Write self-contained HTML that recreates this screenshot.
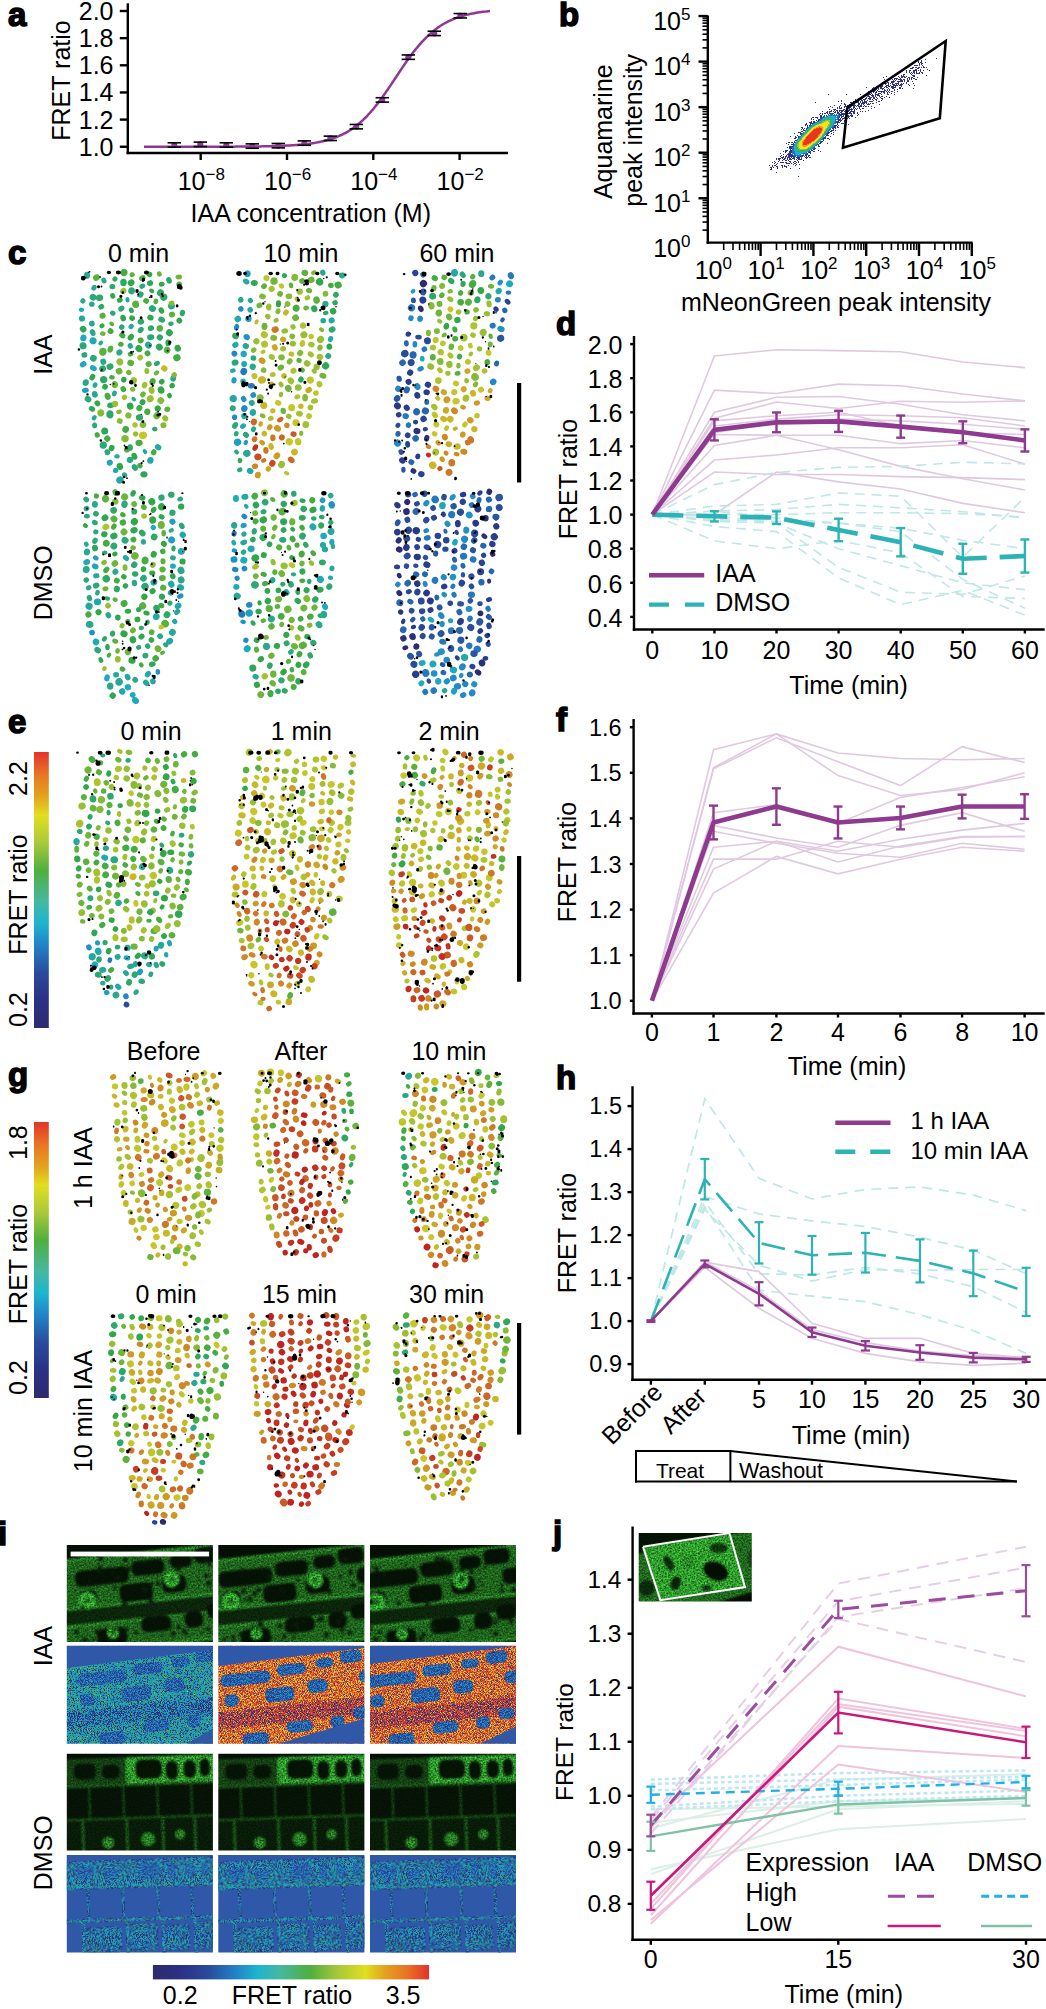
<!DOCTYPE html>
<html><head><meta charset="utf-8"><style>
html,body{margin:0;padding:0;background:#fff;}
svg{display:block;font-family:"Liberation Sans", sans-serif;}
</style></head><body>
<svg width="1046" height="2009" viewBox="0 0 1046 2009">
<defs>
<linearGradient id="cbv" x1="0" y1="1" x2="0" y2="0">
<stop offset="0" stop-color="#2e2a6e"/><stop offset="0.1" stop-color="#2b3184"/><stop offset="0.2" stop-color="#2a4a9c"/>
<stop offset="0.3" stop-color="#2283c6"/><stop offset="0.38" stop-color="#1db5cf"/><stop offset="0.46" stop-color="#45b8a0"/>
<stop offset="0.57" stop-color="#4faf3e"/><stop offset="0.67" stop-color="#a8c83a"/><stop offset="0.77" stop-color="#e0df20"/>
<stop offset="0.84" stop-color="#e3a21f"/><stop offset="0.92" stop-color="#e87424"/><stop offset="1" stop-color="#e2332a"/>
</linearGradient>
<linearGradient id="cbh" x1="0" y1="0" x2="1" y2="0">
<stop offset="0" stop-color="#2e2a6e"/><stop offset="0.1" stop-color="#2b3184"/><stop offset="0.2" stop-color="#2a4a9c"/>
<stop offset="0.3" stop-color="#2283c6"/><stop offset="0.38" stop-color="#1db5cf"/><stop offset="0.46" stop-color="#45b8a0"/>
<stop offset="0.57" stop-color="#4faf3e"/><stop offset="0.67" stop-color="#a8c83a"/><stop offset="0.77" stop-color="#e0df20"/>
<stop offset="0.84" stop-color="#e3a21f"/><stop offset="0.92" stop-color="#e87424"/><stop offset="1" stop-color="#e2332a"/>
</linearGradient>
</defs>
<rect width="1046" height="2009" fill="#fff"/>
<text x="8" y="26" font-size="33" text-anchor="start" font-weight="bold" fill="#000" stroke="#000" stroke-width="1.5">a</text>
<line x1="127.8" y1="3.3" x2="127.8" y2="154.2" stroke="#000" stroke-width="2.4" />
<line x1="126.6" y1="153" x2="508" y2="153" stroke="#000" stroke-width="2.4" />
<line x1="119.8" y1="146.75" x2="127.8" y2="146.75" stroke="#000" stroke-width="2.4" />
<text x="113.5" y="155.75" font-size="25" text-anchor="end" font-weight="normal" fill="#000" >1.0</text>
<line x1="119.8" y1="119.6" x2="127.8" y2="119.6" stroke="#000" stroke-width="2.4" />
<text x="113.5" y="128.6" font-size="25" text-anchor="end" font-weight="normal" fill="#000" >1.2</text>
<line x1="119.8" y1="92.45" x2="127.8" y2="92.45" stroke="#000" stroke-width="2.4" />
<text x="113.5" y="101.45" font-size="25" text-anchor="end" font-weight="normal" fill="#000" >1.4</text>
<line x1="119.8" y1="65.3" x2="127.8" y2="65.3" stroke="#000" stroke-width="2.4" />
<text x="113.5" y="74.3" font-size="25" text-anchor="end" font-weight="normal" fill="#000" >1.6</text>
<line x1="119.8" y1="38.15" x2="127.8" y2="38.15" stroke="#000" stroke-width="2.4" />
<text x="113.5" y="47.15" font-size="25" text-anchor="end" font-weight="normal" fill="#000" >1.8</text>
<line x1="119.8" y1="11" x2="127.8" y2="11" stroke="#000" stroke-width="2.4" />
<text x="113.5" y="20" font-size="25" text-anchor="end" font-weight="normal" fill="#000" >2.0</text>
<line x1="200.7" y1="153" x2="200.7" y2="160" stroke="#000" stroke-width="2.4" />
<text x="177.7" y="190" font-size="25" text-anchor="start">10<tspan font-size="17" dy="-10">−8</tspan></text>
<line x1="287" y1="153" x2="287" y2="160" stroke="#000" stroke-width="2.4" />
<text x="264" y="190" font-size="25" text-anchor="start">10<tspan font-size="17" dy="-10">−6</tspan></text>
<line x1="373.3" y1="153" x2="373.3" y2="160" stroke="#000" stroke-width="2.4" />
<text x="350.3" y="190" font-size="25" text-anchor="start">10<tspan font-size="17" dy="-10">−4</tspan></text>
<line x1="459.6" y1="153" x2="459.6" y2="160" stroke="#000" stroke-width="2.4" />
<text x="436.6" y="190" font-size="25" text-anchor="start">10<tspan font-size="17" dy="-10">−2</tspan></text>
<text x="310.8" y="222" font-size="25" text-anchor="middle" font-weight="normal" fill="#000" >IAA concentration (M)</text>
<text x="69.8" y="80.5" font-size="25" text-anchor="middle" font-weight="normal" fill="#000" transform="rotate(-90 69.8 80.5)" >FRET ratio</text>
<polyline points="144,146.75 145.74,146.75 147.48,146.75 149.22,146.75 150.95,146.75 152.69,146.75 154.43,146.75 156.17,146.75 157.91,146.75 159.65,146.75 161.39,146.75 163.13,146.74 164.86,146.74 166.6,146.74 168.34,146.74 170.08,146.74 171.82,146.74 173.56,146.74 175.3,146.74 177.04,146.74 178.77,146.74 180.51,146.74 182.25,146.74 183.99,146.74 185.73,146.74 187.47,146.73 189.21,146.73 190.94,146.73 192.68,146.73 194.42,146.73 196.16,146.73 197.9,146.73 199.64,146.72 201.38,146.72 203.12,146.72 204.85,146.72 206.59,146.71 208.33,146.71 210.07,146.71 211.81,146.71 213.55,146.7 215.29,146.7 217.03,146.69 218.76,146.69 220.5,146.69 222.24,146.68 223.98,146.67 225.72,146.67 227.46,146.66 229.2,146.66 230.93,146.65 232.67,146.64 234.41,146.63 236.15,146.62 237.89,146.61 239.63,146.6 241.37,146.59 243.11,146.58 244.84,146.56 246.58,146.55 248.32,146.53 250.06,146.51 251.8,146.5 253.54,146.47 255.28,146.45 257.02,146.43 258.75,146.4 260.49,146.38 262.23,146.35 263.97,146.32 265.71,146.28 267.45,146.25 269.19,146.21 270.92,146.16 272.66,146.12 274.4,146.07 276.14,146.01 277.88,145.95 279.62,145.89 281.36,145.83 283.1,145.75 284.83,145.67 286.57,145.59 288.31,145.5 290.05,145.4 291.79,145.3 293.53,145.18 295.27,145.06 297.01,144.93 298.74,144.79 300.48,144.63 302.22,144.47 303.96,144.29 305.7,144.1 307.44,143.9 309.18,143.67 310.91,143.44 312.65,143.18 314.39,142.91 316.13,142.61 317.87,142.3 319.61,141.96 321.35,141.59 323.09,141.2 324.82,140.78 326.56,140.33 328.3,139.85 330.04,139.33 331.78,138.78 333.52,138.19 335.26,137.56 336.99,136.88 338.73,136.16 340.47,135.39 342.21,134.58 343.95,133.7 345.69,132.78 347.43,131.79 349.17,130.75 350.9,129.64 352.64,128.47 354.38,127.23 356.12,125.92 357.86,124.53 359.6,123.08 361.34,121.55 363.08,119.95 364.81,118.26 366.55,116.51 368.29,114.67 370.03,112.76 371.77,110.77 373.51,108.72 375.25,106.58 376.98,104.39 378.72,102.12 380.46,99.79 382.2,97.41 383.94,94.98 385.68,92.49 387.42,89.97 389.16,87.41 390.89,84.83 392.63,82.23 394.37,79.61 396.11,76.99 397.85,74.37 399.59,71.76 401.33,69.17 403.07,66.6 404.8,64.07 406.54,61.57 408.28,59.12 410.02,56.71 411.76,54.37 413.5,52.08 415.24,49.85 416.97,47.7 418.71,45.61 420.45,43.6 422.19,41.66 423.93,39.8 425.67,38.02 427.41,36.31 429.15,34.68 430.88,33.12 432.62,31.64 434.36,30.23 436.1,28.89 437.84,27.63 439.58,26.43 441.32,25.3 443.06,24.23 444.79,23.23 446.53,22.28 448.27,21.39 450.01,20.55 451.75,19.77 453.49,19.03 455.23,18.34 456.96,17.69 458.7,17.09 460.44,16.52 462.18,15.99 463.92,15.5 465.66,15.04 467.4,14.61 469.14,14.2 470.87,13.83 472.61,13.48 474.35,13.16 476.09,12.85 477.83,12.57 479.57,12.31 481.31,12.07 483.05,11.84 484.78,11.63 486.52,11.44 488.26,11.25 490,11.08" fill="none" stroke="#8e3896" stroke-width="2.5" />
<circle cx="174.3" cy="144.99" r="3" fill="#8e3896"/>
<line x1="167.6" y1="142.79" x2="181" y2="142.79" stroke="#000" stroke-width="1.6" />
<line x1="167.6" y1="147.19" x2="181" y2="147.19" stroke="#000" stroke-width="1.6" />
<circle cx="200.3" cy="144.31" r="3" fill="#8e3896"/>
<line x1="193.6" y1="142.11" x2="207" y2="142.11" stroke="#000" stroke-width="1.6" />
<line x1="193.6" y1="146.51" x2="207" y2="146.51" stroke="#000" stroke-width="1.6" />
<circle cx="226.3" cy="144.99" r="3" fill="#8e3896"/>
<line x1="219.6" y1="142.79" x2="233" y2="142.79" stroke="#000" stroke-width="1.6" />
<line x1="219.6" y1="147.19" x2="233" y2="147.19" stroke="#000" stroke-width="1.6" />
<circle cx="252.3" cy="146.07" r="3" fill="#8e3896"/>
<line x1="245.6" y1="143.87" x2="259" y2="143.87" stroke="#000" stroke-width="1.6" />
<line x1="245.6" y1="148.27" x2="259" y2="148.27" stroke="#000" stroke-width="1.6" />
<circle cx="278.3" cy="145.66" r="3" fill="#8e3896"/>
<line x1="271.6" y1="143.46" x2="285" y2="143.46" stroke="#000" stroke-width="1.6" />
<line x1="271.6" y1="147.86" x2="285" y2="147.86" stroke="#000" stroke-width="1.6" />
<circle cx="304.3" cy="143.08" r="3" fill="#8e3896"/>
<line x1="297.6" y1="140.88" x2="311" y2="140.88" stroke="#000" stroke-width="1.6" />
<line x1="297.6" y1="145.28" x2="311" y2="145.28" stroke="#000" stroke-width="1.6" />
<circle cx="330.3" cy="138.33" r="3" fill="#8e3896"/>
<line x1="323.6" y1="136.13" x2="337" y2="136.13" stroke="#000" stroke-width="1.6" />
<line x1="323.6" y1="140.53" x2="337" y2="140.53" stroke="#000" stroke-width="1.6" />
<circle cx="356.3" cy="126.66" r="3" fill="#8e3896"/>
<line x1="349.6" y1="124.46" x2="363" y2="124.46" stroke="#000" stroke-width="1.6" />
<line x1="349.6" y1="128.86" x2="363" y2="128.86" stroke="#000" stroke-width="1.6" />
<circle cx="382.3" cy="99.92" r="3" fill="#8e3896"/>
<line x1="375.6" y1="97.72" x2="389" y2="97.72" stroke="#000" stroke-width="1.6" />
<line x1="375.6" y1="102.12" x2="389" y2="102.12" stroke="#000" stroke-width="1.6" />
<circle cx="408.3" cy="57.16" r="3" fill="#8e3896"/>
<line x1="401.6" y1="54.96" x2="415" y2="54.96" stroke="#000" stroke-width="1.6" />
<line x1="401.6" y1="59.36" x2="415" y2="59.36" stroke="#000" stroke-width="1.6" />
<circle cx="434.3" cy="33.4" r="3" fill="#8e3896"/>
<line x1="427.6" y1="31.2" x2="441" y2="31.2" stroke="#000" stroke-width="1.6" />
<line x1="427.6" y1="35.6" x2="441" y2="35.6" stroke="#000" stroke-width="1.6" />
<circle cx="460.3" cy="15.75" r="3" fill="#8e3896"/>
<line x1="453.6" y1="13.55" x2="467" y2="13.55" stroke="#000" stroke-width="1.6" />
<line x1="453.6" y1="17.95" x2="467" y2="17.95" stroke="#000" stroke-width="1.6" />
<text x="559" y="25.7" font-size="33" text-anchor="start" font-weight="bold" fill="#000" stroke="#000" stroke-width="1.5">b</text>
<line x1="707.8" y1="15.5" x2="707.8" y2="243.8" stroke="#000" stroke-width="2.4" />
<line x1="706.6" y1="242.6" x2="972.5" y2="242.6" stroke="#000" stroke-width="2.4" />
<text x="690.5" y="257.3" font-size="25" text-anchor="end">10<tspan font-size="17" dy="-10">0</tspan></text>
<line x1="702.5" y1="230.09" x2="707.8" y2="230.09" stroke="#000" stroke-width="1.6" />
<line x1="702.5" y1="222.07" x2="707.8" y2="222.07" stroke="#000" stroke-width="1.6" />
<line x1="702.5" y1="216.38" x2="707.8" y2="216.38" stroke="#000" stroke-width="1.6" />
<line x1="702.5" y1="211.96" x2="707.8" y2="211.96" stroke="#000" stroke-width="1.6" />
<line x1="702.5" y1="208.36" x2="707.8" y2="208.36" stroke="#000" stroke-width="1.6" />
<line x1="702.5" y1="205.31" x2="707.8" y2="205.31" stroke="#000" stroke-width="1.6" />
<line x1="702.5" y1="202.66" x2="707.8" y2="202.66" stroke="#000" stroke-width="1.6" />
<line x1="702.5" y1="200.33" x2="707.8" y2="200.33" stroke="#000" stroke-width="1.6" />
<line x1="698.5" y1="198.25" x2="707.8" y2="198.25" stroke="#000" stroke-width="2.4" />
<text x="690.5" y="211.75" font-size="25" text-anchor="end">10<tspan font-size="17" dy="-10">1</tspan></text>
<line x1="702.5" y1="184.54" x2="707.8" y2="184.54" stroke="#000" stroke-width="1.6" />
<line x1="702.5" y1="176.52" x2="707.8" y2="176.52" stroke="#000" stroke-width="1.6" />
<line x1="702.5" y1="170.83" x2="707.8" y2="170.83" stroke="#000" stroke-width="1.6" />
<line x1="702.5" y1="166.41" x2="707.8" y2="166.41" stroke="#000" stroke-width="1.6" />
<line x1="702.5" y1="162.81" x2="707.8" y2="162.81" stroke="#000" stroke-width="1.6" />
<line x1="702.5" y1="159.76" x2="707.8" y2="159.76" stroke="#000" stroke-width="1.6" />
<line x1="702.5" y1="157.11" x2="707.8" y2="157.11" stroke="#000" stroke-width="1.6" />
<line x1="702.5" y1="154.78" x2="707.8" y2="154.78" stroke="#000" stroke-width="1.6" />
<line x1="698.5" y1="152.7" x2="707.8" y2="152.7" stroke="#000" stroke-width="2.4" />
<text x="690.5" y="166.2" font-size="25" text-anchor="end">10<tspan font-size="17" dy="-10">2</tspan></text>
<line x1="702.5" y1="138.99" x2="707.8" y2="138.99" stroke="#000" stroke-width="1.6" />
<line x1="702.5" y1="130.97" x2="707.8" y2="130.97" stroke="#000" stroke-width="1.6" />
<line x1="702.5" y1="125.28" x2="707.8" y2="125.28" stroke="#000" stroke-width="1.6" />
<line x1="702.5" y1="120.86" x2="707.8" y2="120.86" stroke="#000" stroke-width="1.6" />
<line x1="702.5" y1="117.26" x2="707.8" y2="117.26" stroke="#000" stroke-width="1.6" />
<line x1="702.5" y1="114.21" x2="707.8" y2="114.21" stroke="#000" stroke-width="1.6" />
<line x1="702.5" y1="111.56" x2="707.8" y2="111.56" stroke="#000" stroke-width="1.6" />
<line x1="702.5" y1="109.23" x2="707.8" y2="109.23" stroke="#000" stroke-width="1.6" />
<line x1="698.5" y1="107.15" x2="707.8" y2="107.15" stroke="#000" stroke-width="2.4" />
<text x="690.5" y="120.65" font-size="25" text-anchor="end">10<tspan font-size="17" dy="-10">3</tspan></text>
<line x1="702.5" y1="93.44" x2="707.8" y2="93.44" stroke="#000" stroke-width="1.6" />
<line x1="702.5" y1="85.42" x2="707.8" y2="85.42" stroke="#000" stroke-width="1.6" />
<line x1="702.5" y1="79.73" x2="707.8" y2="79.73" stroke="#000" stroke-width="1.6" />
<line x1="702.5" y1="75.31" x2="707.8" y2="75.31" stroke="#000" stroke-width="1.6" />
<line x1="702.5" y1="71.71" x2="707.8" y2="71.71" stroke="#000" stroke-width="1.6" />
<line x1="702.5" y1="68.66" x2="707.8" y2="68.66" stroke="#000" stroke-width="1.6" />
<line x1="702.5" y1="66.01" x2="707.8" y2="66.01" stroke="#000" stroke-width="1.6" />
<line x1="702.5" y1="63.68" x2="707.8" y2="63.68" stroke="#000" stroke-width="1.6" />
<line x1="698.5" y1="61.6" x2="707.8" y2="61.6" stroke="#000" stroke-width="2.4" />
<text x="690.5" y="75.1" font-size="25" text-anchor="end">10<tspan font-size="17" dy="-10">4</tspan></text>
<line x1="702.5" y1="47.89" x2="707.8" y2="47.89" stroke="#000" stroke-width="1.6" />
<line x1="702.5" y1="39.87" x2="707.8" y2="39.87" stroke="#000" stroke-width="1.6" />
<line x1="702.5" y1="34.18" x2="707.8" y2="34.18" stroke="#000" stroke-width="1.6" />
<line x1="702.5" y1="29.76" x2="707.8" y2="29.76" stroke="#000" stroke-width="1.6" />
<line x1="702.5" y1="26.16" x2="707.8" y2="26.16" stroke="#000" stroke-width="1.6" />
<line x1="702.5" y1="23.11" x2="707.8" y2="23.11" stroke="#000" stroke-width="1.6" />
<line x1="702.5" y1="20.46" x2="707.8" y2="20.46" stroke="#000" stroke-width="1.6" />
<line x1="702.5" y1="18.13" x2="707.8" y2="18.13" stroke="#000" stroke-width="1.6" />
<line x1="698.5" y1="16.05" x2="707.8" y2="16.05" stroke="#000" stroke-width="2.4" />
<text x="690.5" y="29.55" font-size="25" text-anchor="end">10<tspan font-size="17" dy="-10">5</tspan></text>
<text x="713.3" y="279" font-size="25" text-anchor="middle">10<tspan font-size="17" dy="-10">0</tspan></text>
<line x1="723.69" y1="242.6" x2="723.69" y2="250" stroke="#000" stroke-width="1.6" />
<line x1="732.99" y1="242.6" x2="732.99" y2="250" stroke="#000" stroke-width="1.6" />
<line x1="739.59" y1="242.6" x2="739.59" y2="250" stroke="#000" stroke-width="1.6" />
<line x1="744.71" y1="242.6" x2="744.71" y2="250" stroke="#000" stroke-width="1.6" />
<line x1="748.89" y1="242.6" x2="748.89" y2="250" stroke="#000" stroke-width="1.6" />
<line x1="752.42" y1="242.6" x2="752.42" y2="250" stroke="#000" stroke-width="1.6" />
<line x1="755.48" y1="242.6" x2="755.48" y2="250" stroke="#000" stroke-width="1.6" />
<line x1="758.18" y1="242.6" x2="758.18" y2="250" stroke="#000" stroke-width="1.6" />
<line x1="760.6" y1="242.6" x2="760.6" y2="256" stroke="#000" stroke-width="2.4" />
<text x="766.1" y="279" font-size="25" text-anchor="middle">10<tspan font-size="17" dy="-10">1</tspan></text>
<line x1="776.49" y1="242.6" x2="776.49" y2="250" stroke="#000" stroke-width="1.6" />
<line x1="785.79" y1="242.6" x2="785.79" y2="250" stroke="#000" stroke-width="1.6" />
<line x1="792.39" y1="242.6" x2="792.39" y2="250" stroke="#000" stroke-width="1.6" />
<line x1="797.51" y1="242.6" x2="797.51" y2="250" stroke="#000" stroke-width="1.6" />
<line x1="801.69" y1="242.6" x2="801.69" y2="250" stroke="#000" stroke-width="1.6" />
<line x1="805.22" y1="242.6" x2="805.22" y2="250" stroke="#000" stroke-width="1.6" />
<line x1="808.28" y1="242.6" x2="808.28" y2="250" stroke="#000" stroke-width="1.6" />
<line x1="810.98" y1="242.6" x2="810.98" y2="250" stroke="#000" stroke-width="1.6" />
<line x1="813.4" y1="242.6" x2="813.4" y2="256" stroke="#000" stroke-width="2.4" />
<text x="818.9" y="279" font-size="25" text-anchor="middle">10<tspan font-size="17" dy="-10">2</tspan></text>
<line x1="829.29" y1="242.6" x2="829.29" y2="250" stroke="#000" stroke-width="1.6" />
<line x1="838.59" y1="242.6" x2="838.59" y2="250" stroke="#000" stroke-width="1.6" />
<line x1="845.19" y1="242.6" x2="845.19" y2="250" stroke="#000" stroke-width="1.6" />
<line x1="850.31" y1="242.6" x2="850.31" y2="250" stroke="#000" stroke-width="1.6" />
<line x1="854.49" y1="242.6" x2="854.49" y2="250" stroke="#000" stroke-width="1.6" />
<line x1="858.02" y1="242.6" x2="858.02" y2="250" stroke="#000" stroke-width="1.6" />
<line x1="861.08" y1="242.6" x2="861.08" y2="250" stroke="#000" stroke-width="1.6" />
<line x1="863.78" y1="242.6" x2="863.78" y2="250" stroke="#000" stroke-width="1.6" />
<line x1="866.2" y1="242.6" x2="866.2" y2="256" stroke="#000" stroke-width="2.4" />
<text x="871.7" y="279" font-size="25" text-anchor="middle">10<tspan font-size="17" dy="-10">3</tspan></text>
<line x1="882.09" y1="242.6" x2="882.09" y2="250" stroke="#000" stroke-width="1.6" />
<line x1="891.39" y1="242.6" x2="891.39" y2="250" stroke="#000" stroke-width="1.6" />
<line x1="897.99" y1="242.6" x2="897.99" y2="250" stroke="#000" stroke-width="1.6" />
<line x1="903.11" y1="242.6" x2="903.11" y2="250" stroke="#000" stroke-width="1.6" />
<line x1="907.29" y1="242.6" x2="907.29" y2="250" stroke="#000" stroke-width="1.6" />
<line x1="910.82" y1="242.6" x2="910.82" y2="250" stroke="#000" stroke-width="1.6" />
<line x1="913.88" y1="242.6" x2="913.88" y2="250" stroke="#000" stroke-width="1.6" />
<line x1="916.58" y1="242.6" x2="916.58" y2="250" stroke="#000" stroke-width="1.6" />
<line x1="919" y1="242.6" x2="919" y2="256" stroke="#000" stroke-width="2.4" />
<text x="924.5" y="279" font-size="25" text-anchor="middle">10<tspan font-size="17" dy="-10">4</tspan></text>
<line x1="934.89" y1="242.6" x2="934.89" y2="250" stroke="#000" stroke-width="1.6" />
<line x1="944.19" y1="242.6" x2="944.19" y2="250" stroke="#000" stroke-width="1.6" />
<line x1="950.79" y1="242.6" x2="950.79" y2="250" stroke="#000" stroke-width="1.6" />
<line x1="955.91" y1="242.6" x2="955.91" y2="250" stroke="#000" stroke-width="1.6" />
<line x1="960.09" y1="242.6" x2="960.09" y2="250" stroke="#000" stroke-width="1.6" />
<line x1="963.62" y1="242.6" x2="963.62" y2="250" stroke="#000" stroke-width="1.6" />
<line x1="966.68" y1="242.6" x2="966.68" y2="250" stroke="#000" stroke-width="1.6" />
<line x1="969.38" y1="242.6" x2="969.38" y2="250" stroke="#000" stroke-width="1.6" />
<line x1="971.8" y1="242.6" x2="971.8" y2="256" stroke="#000" stroke-width="2.4" />
<text x="977.3" y="279" font-size="25" text-anchor="middle">10<tspan font-size="17" dy="-10">5</tspan></text>
<text x="836" y="310.7" font-size="25" text-anchor="middle" font-weight="normal" fill="#000" >mNeonGreen peak intensity</text>
<text x="612" y="131.7" font-size="25" text-anchor="middle" font-weight="normal" fill="#000" transform="rotate(-90 612 131.7)" >Aquamarine</text>
<text x="642.2" y="130.3" font-size="25" text-anchor="middle" font-weight="normal" fill="#000" transform="rotate(-90 642.2 130.3)" >peak intensity</text>
<path fill="#2e3192" d="M936 58h1v1h-1zM925 59h1v1h-1zM921 60h1v1h-1zM918 61h1v1h-1zM921 61h1v1h-1zM918 62h1v1h-1zM920 62h2v1h-2zM925 62h1v1h-1zM919 63h1v1h-1zM921 63h2v1h-2zM919 64h1v1h-1zM921 64h1v1h-1zM910 65h1v1h-1zM914 65h4v1h-4zM919 65h1v1h-1zM922 65h1v1h-1zM923 66h1v1h-1zM906 67h1v1h-1zM912 67h2v1h-2zM915 67h2v1h-2zM918 67h2v1h-2zM921 67h1v1h-1zM923 67h2v1h-2zM926 67h1v1h-1zM904 68h1v1h-1zM910 68h3v1h-3zM917 68h2v1h-2zM915 69h2v1h-2zM920 69h1v1h-1zM927 69h1v1h-1zM906 70h1v1h-1zM909 70h2v1h-2zM913 70h4v1h-4zM918 70h1v1h-1zM920 70h1v1h-1zM923 70h1v1h-1zM929 70h1v1h-1zM901 71h1v1h-1zM906 71h1v1h-1zM909 71h1v1h-1zM913 71h2v1h-2zM916 71h1v1h-1zM920 71h1v1h-1zM906 72h1v1h-1zM909 72h1v1h-1zM911 72h1v1h-1zM913 72h2v1h-2zM916 72h1v1h-1zM919 72h1v1h-1zM921 72h2v1h-2zM910 73h1v1h-1zM912 73h1v1h-1zM914 73h1v1h-1zM916 73h4v1h-4zM922 73h1v1h-1zM903 74h2v1h-2zM911 74h1v1h-1zM893 75h1v1h-1zM901 75h1v1h-1zM903 75h1v1h-1zM912 75h3v1h-3zM926 75h1v1h-1zM886 76h1v1h-1zM898 76h1v1h-1zM901 76h4v1h-4zM906 76h1v1h-1zM913 76h2v1h-2zM883 77h1v1h-1zM899 77h1v1h-1zM901 77h2v1h-2zM904 77h2v1h-2zM908 77h2v1h-2zM911 77h2v1h-2zM917 77h1v1h-1zM894 78h4v1h-4zM900 78h1v1h-1zM907 78h1v1h-1zM909 78h1v1h-1zM911 78h1v1h-1zM913 78h2v1h-2zM884 79h1v1h-1zM892 79h1v1h-1zM894 79h1v1h-1zM896 79h1v1h-1zM898 79h4v1h-4zM903 79h2v1h-2zM907 79h1v1h-1zM909 79h1v1h-1zM911 79h1v1h-1zM915 79h2v1h-2zM886 80h1v1h-1zM888 80h1v1h-1zM893 80h1v1h-1zM895 80h1v1h-1zM900 80h3v1h-3zM904 80h1v1h-1zM907 80h2v1h-2zM884 81h1v1h-1zM891 81h4v1h-4zM897 81h6v1h-6zM904 81h1v1h-1zM907 81h2v1h-2zM912 81h1v1h-1zM882 82h1v1h-1zM887 82h2v1h-2zM891 82h3v1h-3zM898 82h1v1h-1zM906 82h1v1h-1zM881 83h1v1h-1zM883 83h4v1h-4zM888 83h1v1h-1zM890 83h1v1h-1zM892 83h1v1h-1zM895 83h4v1h-4zM901 83h1v1h-1zM903 83h1v1h-1zM906 83h1v1h-1zM913 83h1v1h-1zM885 84h1v1h-1zM888 84h1v1h-1zM892 84h3v1h-3zM896 84h1v1h-1zM898 84h1v1h-1zM900 84h3v1h-3zM908 84h1v1h-1zM882 85h1v1h-1zM886 85h3v1h-3zM890 85h1v1h-1zM893 85h5v1h-5zM899 85h3v1h-3zM909 85h1v1h-1zM914 85h1v1h-1zM880 86h3v1h-3zM885 86h2v1h-2zM888 86h2v1h-2zM891 86h3v1h-3zM895 86h1v1h-1zM901 86h1v1h-1zM866 87h1v1h-1zM873 87h1v1h-1zM876 87h1v1h-1zM880 87h2v1h-2zM884 87h1v1h-1zM886 87h2v1h-2zM891 87h5v1h-5zM899 87h2v1h-2zM872 88h1v1h-1zM878 88h1v1h-1zM880 88h4v1h-4zM888 88h1v1h-1zM892 88h2v1h-2zM899 88h2v1h-2zM902 88h1v1h-1zM913 88h1v1h-1zM875 89h2v1h-2zM878 89h1v1h-1zM882 89h1v1h-1zM884 89h1v1h-1zM887 89h1v1h-1zM889 89h1v1h-1zM894 89h1v1h-1zM897 89h1v1h-1zM874 90h2v1h-2zM877 90h1v1h-1zM884 90h2v1h-2zM887 90h1v1h-1zM889 90h1v1h-1zM894 90h1v1h-1zM868 91h1v1h-1zM873 91h2v1h-2zM876 91h1v1h-1zM878 91h7v1h-7zM886 91h1v1h-1zM888 91h1v1h-1zM891 91h2v1h-2zM897 91h1v1h-1zM868 92h3v1h-3zM873 92h1v1h-1zM875 92h2v1h-2zM881 92h1v1h-1zM883 92h2v1h-2zM887 92h1v1h-1zM889 92h1v1h-1zM894 92h1v1h-1zM867 93h2v1h-2zM871 93h1v1h-1zM875 93h1v1h-1zM878 93h3v1h-3zM884 93h1v1h-1zM887 93h1v1h-1zM891 93h1v1h-1zM828 94h1v1h-1zM846 94h1v1h-1zM860 94h1v1h-1zM868 94h3v1h-3zM872 94h1v1h-1zM875 94h4v1h-4zM881 94h1v1h-1zM887 94h2v1h-2zM894 94h1v1h-1zM866 95h3v1h-3zM871 95h3v1h-3zM875 95h1v1h-1zM877 95h3v1h-3zM863 96h1v1h-1zM867 96h3v1h-3zM872 96h2v1h-2zM875 96h1v1h-1zM879 96h1v1h-1zM881 96h2v1h-2zM886 96h1v1h-1zM861 97h3v1h-3zM866 97h1v1h-1zM869 97h3v1h-3zM873 97h2v1h-2zM876 97h1v1h-1zM880 97h1v1h-1zM884 97h1v1h-1zM889 97h1v1h-1zM858 98h1v1h-1zM860 98h3v1h-3zM865 98h2v1h-2zM868 98h3v1h-3zM873 98h2v1h-2zM877 98h1v1h-1zM881 98h2v1h-2zM855 99h1v1h-1zM858 99h1v1h-1zM860 99h2v1h-2zM863 99h3v1h-3zM869 99h2v1h-2zM872 99h1v1h-1zM875 99h2v1h-2zM882 99h1v1h-1zM841 100h1v1h-1zM855 100h1v1h-1zM858 100h1v1h-1zM861 100h2v1h-2zM864 100h1v1h-1zM867 100h1v1h-1zM873 100h1v1h-1zM876 100h1v1h-1zM881 100h1v1h-1zM838 101h1v1h-1zM841 101h1v1h-1zM853 101h1v1h-1zM858 101h1v1h-1zM860 101h1v1h-1zM862 101h1v1h-1zM864 101h3v1h-3zM869 101h4v1h-4zM878 101h2v1h-2zM815 102h1v1h-1zM850 102h2v1h-2zM854 102h1v1h-1zM856 102h3v1h-3zM860 102h1v1h-1zM862 102h5v1h-5zM876 102h1v1h-1zM841 103h1v1h-1zM844 103h1v1h-1zM851 103h1v1h-1zM854 103h1v1h-1zM858 103h2v1h-2zM861 103h4v1h-4zM866 103h1v1h-1zM868 103h1v1h-1zM870 103h1v1h-1zM872 103h2v1h-2zM844 104h2v1h-2zM849 104h1v1h-1zM851 104h1v1h-1zM854 104h1v1h-1zM858 104h2v1h-2zM861 104h1v1h-1zM863 104h1v1h-1zM867 104h3v1h-3zM879 104h1v1h-1zM834 105h1v1h-1zM840 105h1v1h-1zM845 105h1v1h-1zM847 105h1v1h-1zM850 105h6v1h-6zM857 105h2v1h-2zM860 105h2v1h-2zM864 105h1v1h-1zM830 106h1v1h-1zM839 106h1v1h-1zM844 106h5v1h-5zM851 106h1v1h-1zM853 106h2v1h-2zM856 106h1v1h-1zM858 106h4v1h-4zM863 106h1v1h-1zM865 106h2v1h-2zM868 106h1v1h-1zM871 106h1v1h-1zM828 107h1v1h-1zM832 107h1v1h-1zM837 107h1v1h-1zM839 107h1v1h-1zM841 107h1v1h-1zM844 107h1v1h-1zM848 107h3v1h-3zM853 107h2v1h-2zM859 107h1v1h-1zM874 107h1v1h-1zM837 108h1v1h-1zM839 108h3v1h-3zM846 108h4v1h-4zM851 108h1v1h-1zM853 108h1v1h-1zM855 108h1v1h-1zM857 108h1v1h-1zM859 108h1v1h-1zM862 108h2v1h-2zM871 108h1v1h-1zM829 109h1v1h-1zM833 109h3v1h-3zM843 109h2v1h-2zM847 109h1v1h-1zM849 109h4v1h-4zM854 109h1v1h-1zM856 109h1v1h-1zM860 109h1v1h-1zM831 110h1v1h-1zM834 110h1v1h-1zM836 110h2v1h-2zM839 110h5v1h-5zM845 110h2v1h-2zM848 110h2v1h-2zM851 110h1v1h-1zM854 110h1v1h-1zM868 110h1v1h-1zM822 111h1v1h-1zM827 111h1v1h-1zM829 111h3v1h-3zM833 111h1v1h-1zM835 111h1v1h-1zM837 111h1v1h-1zM839 111h1v1h-1zM841 111h2v1h-2zM844 111h5v1h-5zM850 111h5v1h-5zM860 111h1v1h-1zM862 111h1v1h-1zM865 111h1v1h-1zM826 112h2v1h-2zM829 112h1v1h-1zM834 112h2v1h-2zM837 112h2v1h-2zM840 112h2v1h-2zM845 112h2v1h-2zM849 112h2v1h-2zM853 112h2v1h-2zM857 112h1v1h-1zM820 113h1v1h-1zM822 113h1v1h-1zM824 113h2v1h-2zM827 113h1v1h-1zM829 113h5v1h-5zM837 113h3v1h-3zM841 113h11v1h-11zM853 113h2v1h-2zM857 113h1v1h-1zM819 114h1v1h-1zM822 114h1v1h-1zM828 114h1v1h-1zM839 114h7v1h-7zM851 114h1v1h-1zM858 114h1v1h-1zM820 115h2v1h-2zM824 115h1v1h-1zM826 115h1v1h-1zM840 115h2v1h-2zM843 115h1v1h-1zM845 115h4v1h-4zM850 115h3v1h-3zM857 115h1v1h-1zM820 116h2v1h-2zM823 116h1v1h-1zM839 116h1v1h-1zM841 116h3v1h-3zM845 116h5v1h-5zM851 116h2v1h-2zM812 117h2v1h-2zM815 117h3v1h-3zM820 117h2v1h-2zM839 117h1v1h-1zM841 117h1v1h-1zM844 117h3v1h-3zM848 117h1v1h-1zM855 117h1v1h-1zM811 118h1v1h-1zM817 118h1v1h-1zM820 118h1v1h-1zM838 118h1v1h-1zM840 118h1v1h-1zM842 118h3v1h-3zM847 118h1v1h-1zM849 118h1v1h-1zM811 119h1v1h-1zM813 119h1v1h-1zM818 119h2v1h-2zM838 119h3v1h-3zM842 119h1v1h-1zM845 119h2v1h-2zM816 120h1v1h-1zM818 120h1v1h-1zM838 120h4v1h-4zM844 120h2v1h-2zM811 121h1v1h-1zM813 121h2v1h-2zM837 121h2v1h-2zM840 121h1v1h-1zM844 121h2v1h-2zM809 122h3v1h-3zM813 122h2v1h-2zM836 122h4v1h-4zM845 122h1v1h-1zM806 123h1v1h-1zM810 123h3v1h-3zM837 123h1v1h-1zM841 123h3v1h-3zM805 124h2v1h-2zM810 124h1v1h-1zM837 124h1v1h-1zM848 124h1v1h-1zM805 125h1v1h-1zM807 125h1v1h-1zM809 125h1v1h-1zM834 125h3v1h-3zM838 125h1v1h-1zM807 126h1v1h-1zM834 126h2v1h-2zM837 126h1v1h-1zM801 127h2v1h-2zM807 127h1v1h-1zM833 127h3v1h-3zM837 127h2v1h-2zM802 128h1v1h-1zM804 128h1v1h-1zM806 128h1v1h-1zM832 128h2v1h-2zM835 128h1v1h-1zM801 129h1v1h-1zM803 129h1v1h-1zM833 129h1v1h-1zM803 130h2v1h-2zM831 130h3v1h-3zM835 130h1v1h-1zM801 131h2v1h-2zM830 131h2v1h-2zM798 132h3v1h-3zM828 132h2v1h-2zM833 132h1v1h-1zM794 133h1v1h-1zM800 133h2v1h-2zM827 133h2v1h-2zM831 133h1v1h-1zM800 134h1v1h-1zM827 134h1v1h-1zM833 134h1v1h-1zM797 135h1v1h-1zM826 135h3v1h-3zM790 136h1v1h-1zM795 136h1v1h-1zM798 136h1v1h-1zM825 136h1v1h-1zM830 136h1v1h-1zM795 137h2v1h-2zM798 137h1v1h-1zM824 137h2v1h-2zM794 138h2v1h-2zM823 138h3v1h-3zM827 138h2v1h-2zM823 139h1v1h-1zM829 139h1v1h-1zM795 140h1v1h-1zM823 140h1v1h-1zM794 141h1v1h-1zM821 141h2v1h-2zM788 142h2v1h-2zM791 142h2v1h-2zM794 142h1v1h-1zM820 142h2v1h-2zM786 143h1v1h-1zM793 143h1v1h-1zM819 143h2v1h-2zM827 143h1v1h-1zM788 144h1v1h-1zM791 144h3v1h-3zM818 144h1v1h-1zM818 145h1v1h-1zM789 146h4v1h-4zM818 146h2v1h-2zM787 147h1v1h-1zM789 147h3v1h-3zM789 148h3v1h-3zM814 148h2v1h-2zM790 149h1v1h-1zM813 149h2v1h-2zM785 150h3v1h-3zM790 150h2v1h-2zM811 150h2v1h-2zM818 150h1v1h-1zM783 151h1v1h-1zM785 151h2v1h-2zM789 151h3v1h-3zM810 151h1v1h-1zM813 151h2v1h-2zM820 151h1v1h-1zM785 152h1v1h-1zM789 152h3v1h-3zM808 152h3v1h-3zM780 153h1v1h-1zM788 153h3v1h-3zM807 153h1v1h-1zM810 153h1v1h-1zM783 154h1v1h-1zM787 154h5v1h-5zM805 154h3v1h-3zM781 155h1v1h-1zM786 155h1v1h-1zM788 155h5v1h-5zM802 155h2v1h-2zM805 155h2v1h-2zM808 155h2v1h-2zM780 156h1v1h-1zM783 156h1v1h-1zM785 156h2v1h-2zM788 156h7v1h-7zM800 156h3v1h-3zM804 156h1v1h-1zM806 156h1v1h-1zM808 156h1v1h-1zM781 157h3v1h-3zM785 157h1v1h-1zM787 157h3v1h-3zM791 157h1v1h-1zM793 157h2v1h-2zM796 157h4v1h-4zM801 157h1v1h-1zM805 157h3v1h-3zM809 157h2v1h-2zM776 158h1v1h-1zM778 158h3v1h-3zM782 158h1v1h-1zM784 158h2v1h-2zM787 158h1v1h-1zM789 158h2v1h-2zM792 158h3v1h-3zM797 158h3v1h-3zM801 158h1v1h-1zM806 158h1v1h-1zM776 159h1v1h-1zM778 159h2v1h-2zM783 159h2v1h-2zM787 159h1v1h-1zM789 159h3v1h-3zM794 159h1v1h-1zM796 159h1v1h-1zM798 159h4v1h-4zM779 160h1v1h-1zM782 160h1v1h-1zM785 160h2v1h-2zM788 160h1v1h-1zM797 160h1v1h-1zM803 160h1v1h-1zM774 161h1v1h-1zM778 161h1v1h-1zM789 161h2v1h-2zM794 161h2v1h-2zM798 161h1v1h-1zM772 162h1v1h-1zM775 162h1v1h-1zM780 162h4v1h-4zM785 162h2v1h-2zM790 162h1v1h-1zM793 162h1v1h-1zM796 162h1v1h-1zM798 162h1v1h-1zM774 163h1v1h-1zM777 163h1v1h-1zM786 163h4v1h-4zM791 163h1v1h-1zM794 163h2v1h-2zM776 164h1v1h-1zM793 164h1v1h-1zM796 164h1v1h-1zM799 164h1v1h-1zM769 165h1v1h-1zM772 165h1v1h-1zM774 165h2v1h-2zM781 165h2v1h-2zM784 165h1v1h-1zM788 165h1v1h-1zM795 165h1v1h-1zM772 166h1v1h-1zM776 166h2v1h-2zM782 166h1v1h-1zM784 166h3v1h-3zM770 167h2v1h-2zM773 167h1v1h-1zM777 167h1v1h-1zM782 167h1v1h-1zM786 167h1v1h-1zM771 168h1v1h-1zM777 168h1v1h-1zM790 168h1v1h-1zM799 168h1v1h-1zM770 169h2v1h-2zM776 172h1v1h-1zM798 176h1v1h-1z"/>
<path fill="#1c75bc" d="M830 114h3v1h-3zM834 114h1v1h-1zM836 114h1v1h-1zM838 114h1v1h-1zM828 115h4v1h-4zM833 115h7v1h-7zM824 116h1v1h-1zM826 116h2v1h-2zM835 116h1v1h-1zM837 116h2v1h-2zM822 117h3v1h-3zM836 117h3v1h-3zM821 118h2v1h-2zM837 118h1v1h-1zM820 119h2v1h-2zM835 119h3v1h-3zM819 120h2v1h-2zM835 120h1v1h-1zM817 121h2v1h-2zM835 121h2v1h-2zM815 122h2v1h-2zM834 122h2v1h-2zM813 123h2v1h-2zM834 123h2v1h-2zM812 124h1v1h-1zM833 124h1v1h-1zM810 125h2v1h-2zM833 125h1v1h-1zM809 126h2v1h-2zM832 126h2v1h-2zM808 127h1v1h-1zM831 127h2v1h-2zM807 128h1v1h-1zM830 128h1v1h-1zM806 129h1v1h-1zM829 129h2v1h-2zM805 130h1v1h-1zM828 130h2v1h-2zM828 131h1v1h-1zM803 132h1v1h-1zM827 132h1v1h-1zM802 133h1v1h-1zM826 133h1v1h-1zM801 134h2v1h-2zM825 134h2v1h-2zM801 135h1v1h-1zM799 136h2v1h-2zM799 137h1v1h-1zM823 137h1v1h-1zM798 138h1v1h-1zM822 138h1v1h-1zM797 139h1v1h-1zM821 139h2v1h-2zM796 140h1v1h-1zM820 141h1v1h-1zM795 142h1v1h-1zM794 144h1v1h-1zM816 144h2v1h-2zM793 145h1v1h-1zM815 145h2v1h-2zM793 146h1v1h-1zM814 146h1v1h-1zM792 147h2v1h-2zM813 147h2v1h-2zM792 148h2v1h-2zM812 148h2v1h-2zM792 149h2v1h-2zM811 149h1v1h-1zM792 150h2v1h-2zM809 150h1v1h-1zM792 151h3v1h-3zM808 151h2v1h-2zM792 152h3v1h-3zM806 152h1v1h-1zM792 153h3v1h-3zM803 153h4v1h-4zM792 154h1v1h-1zM794 154h2v1h-2zM800 154h1v1h-1zM803 154h1v1h-1zM793 155h9v1h-9zM795 156h1v1h-1zM797 156h3v1h-3z"/>
<path fill="#27aae1" d="M832 115h1v1h-1zM828 116h7v1h-7zM825 117h3v1h-3zM833 117h3v1h-3zM823 118h2v1h-2zM833 118h3v1h-3zM822 119h1v1h-1zM833 119h2v1h-2zM821 120h1v1h-1zM833 120h2v1h-2zM819 121h2v1h-2zM833 121h2v1h-2zM817 122h2v1h-2zM833 122h1v1h-1zM815 123h1v1h-1zM833 123h1v1h-1zM813 124h1v1h-1zM832 124h1v1h-1zM812 125h1v1h-1zM832 125h1v1h-1zM811 126h1v1h-1zM831 126h1v1h-1zM809 127h1v1h-1zM830 127h1v1h-1zM808 128h1v1h-1zM829 128h1v1h-1zM807 129h1v1h-1zM828 129h1v1h-1zM806 130h1v1h-1zM827 130h1v1h-1zM805 131h1v1h-1zM827 131h1v1h-1zM804 132h1v1h-1zM826 132h1v1h-1zM803 133h1v1h-1zM825 133h1v1h-1zM802 135h1v1h-1zM824 135h1v1h-1zM801 136h1v1h-1zM823 136h1v1h-1zM800 137h1v1h-1zM822 137h1v1h-1zM799 138h1v1h-1zM821 138h1v1h-1zM798 139h1v1h-1zM797 140h1v1h-1zM820 140h1v1h-1zM796 141h1v1h-1zM819 141h1v1h-1zM796 142h1v1h-1zM818 142h1v1h-1zM795 143h1v1h-1zM817 143h1v1h-1zM795 144h1v1h-1zM815 144h1v1h-1zM794 145h1v1h-1zM814 145h1v1h-1zM794 146h1v1h-1zM813 146h1v1h-1zM794 147h1v1h-1zM812 147h1v1h-1zM794 148h1v1h-1zM811 148h1v1h-1zM794 149h2v1h-2zM809 149h2v1h-2zM794 150h2v1h-2zM808 150h1v1h-1zM795 151h2v1h-2zM806 151h2v1h-2zM795 152h3v1h-3zM803 152h3v1h-3zM795 153h8v1h-8zM796 154h4v1h-4z"/>
<path fill="#2bb673" d="M828 117h5v1h-5zM825 118h8v1h-8zM823 119h10v1h-10zM822 120h3v1h-3zM830 120h3v1h-3zM821 121h2v1h-2zM830 121h3v1h-3zM819 122h3v1h-3zM830 122h3v1h-3zM816 123h4v1h-4zM830 123h3v1h-3zM814 124h3v1h-3zM830 124h2v1h-2zM813 125h2v1h-2zM829 125h3v1h-3zM812 126h2v1h-2zM829 126h2v1h-2zM810 127h2v1h-2zM828 127h2v1h-2zM809 128h2v1h-2zM827 128h2v1h-2zM808 129h2v1h-2zM826 129h2v1h-2zM807 130h2v1h-2zM826 130h1v1h-1zM806 131h2v1h-2zM825 131h2v1h-2zM805 132h2v1h-2zM824 132h2v1h-2zM804 133h2v1h-2zM824 133h1v1h-1zM803 134h2v1h-2zM823 134h2v1h-2zM803 135h1v1h-1zM822 135h2v1h-2zM802 136h1v1h-1zM822 136h1v1h-1zM801 137h1v1h-1zM821 137h1v1h-1zM800 138h2v1h-2zM820 138h1v1h-1zM799 139h2v1h-2zM819 139h2v1h-2zM798 140h2v1h-2zM818 140h2v1h-2zM797 141h2v1h-2zM817 141h2v1h-2zM797 142h1v1h-1zM816 142h2v1h-2zM796 143h2v1h-2zM815 143h2v1h-2zM796 144h1v1h-1zM813 144h2v1h-2zM795 145h2v1h-2zM812 145h2v1h-2zM795 146h2v1h-2zM811 146h2v1h-2zM795 147h3v1h-3zM810 147h2v1h-2zM795 148h3v1h-3zM808 148h3v1h-3zM796 149h3v1h-3zM806 149h3v1h-3zM796 150h12v1h-12zM797 151h9v1h-9zM798 152h5v1h-5z"/>
<path fill="#8dc63f" d="M825 120h5v1h-5zM823 121h3v1h-3zM828 121h2v1h-2zM822 122h2v1h-2zM829 122h1v1h-1zM820 123h2v1h-2zM829 123h1v1h-1zM817 124h2v1h-2zM828 124h2v1h-2zM815 125h1v1h-1zM828 125h1v1h-1zM814 126h1v1h-1zM827 126h2v1h-2zM812 127h1v1h-1zM827 127h1v1h-1zM811 128h1v1h-1zM826 128h1v1h-1zM810 129h1v1h-1zM825 129h1v1h-1zM809 130h1v1h-1zM825 130h1v1h-1zM808 131h1v1h-1zM824 131h1v1h-1zM807 132h1v1h-1zM806 133h1v1h-1zM823 133h1v1h-1zM805 134h1v1h-1zM822 134h1v1h-1zM804 135h1v1h-1zM803 136h1v1h-1zM821 136h1v1h-1zM802 137h1v1h-1zM820 137h1v1h-1zM819 138h1v1h-1zM801 139h1v1h-1zM818 139h1v1h-1zM800 140h1v1h-1zM817 140h1v1h-1zM799 141h1v1h-1zM816 141h1v1h-1zM798 142h1v1h-1zM815 142h1v1h-1zM798 143h1v1h-1zM813 143h2v1h-2zM797 144h2v1h-2zM812 144h1v1h-1zM797 145h2v1h-2zM811 145h1v1h-1zM797 146h2v1h-2zM810 146h1v1h-1zM798 147h1v1h-1zM808 147h2v1h-2zM798 148h2v1h-2zM807 148h1v1h-1zM799 149h7v1h-7z"/>
<path fill="#f7e01c" d="M826 121h2v1h-2zM824 122h5v1h-5zM822 123h7v1h-7zM819 124h9v1h-9zM816 125h12v1h-12zM815 126h3v1h-3zM822 126h5v1h-5zM813 127h3v1h-3zM823 127h4v1h-4zM812 128h2v1h-2zM823 128h3v1h-3zM811 129h2v1h-2zM823 129h2v1h-2zM810 130h2v1h-2zM823 130h2v1h-2zM809 131h2v1h-2zM822 131h2v1h-2zM808 132h2v1h-2zM822 132h2v1h-2zM807 133h2v1h-2zM821 133h2v1h-2zM806 134h2v1h-2zM820 134h2v1h-2zM805 135h2v1h-2zM820 135h2v1h-2zM804 136h2v1h-2zM819 136h2v1h-2zM803 137h2v1h-2zM818 137h2v1h-2zM802 138h3v1h-3zM817 138h2v1h-2zM802 139h2v1h-2zM816 139h2v1h-2zM801 140h2v1h-2zM815 140h2v1h-2zM800 141h2v1h-2zM814 141h2v1h-2zM799 142h3v1h-3zM812 142h3v1h-3zM799 143h3v1h-3zM811 143h2v1h-2zM799 144h3v1h-3zM809 144h3v1h-3zM799 145h3v1h-3zM808 145h3v1h-3zM799 146h4v1h-4zM806 146h4v1h-4zM799 147h9v1h-9zM800 148h7v1h-7z"/>
<path fill="#f7941d" d="M818 126h4v1h-4zM816 127h3v1h-3zM820 127h3v1h-3zM814 128h2v1h-2zM822 128h1v1h-1zM813 129h1v1h-1zM822 129h1v1h-1zM812 130h1v1h-1zM822 130h1v1h-1zM811 131h1v1h-1zM821 131h1v1h-1zM810 132h1v1h-1zM821 132h1v1h-1zM809 133h1v1h-1zM820 133h1v1h-1zM808 134h1v1h-1zM819 134h1v1h-1zM807 135h1v1h-1zM818 135h2v1h-2zM806 136h1v1h-1zM818 136h1v1h-1zM805 137h1v1h-1zM817 137h1v1h-1zM805 138h1v1h-1zM816 138h1v1h-1zM804 139h1v1h-1zM815 139h1v1h-1zM803 140h1v1h-1zM814 140h1v1h-1zM802 141h2v1h-2zM812 141h2v1h-2zM802 142h1v1h-1zM811 142h1v1h-1zM802 143h1v1h-1zM809 143h2v1h-2zM802 144h1v1h-1zM807 144h2v1h-2zM802 145h6v1h-6zM803 146h3v1h-3z"/>
<path fill="#e8371f" d="M819 127h1v1h-1zM816 128h6v1h-6zM814 129h8v1h-8zM813 130h9v1h-9zM812 131h9v1h-9zM811 132h10v1h-10zM810 133h10v1h-10zM809 134h10v1h-10zM808 135h10v1h-10zM807 136h11v1h-11zM806 137h11v1h-11zM806 138h10v1h-10zM805 139h10v1h-10zM804 140h10v1h-10zM804 141h8v1h-8zM803 142h8v1h-8zM803 143h6v1h-6zM803 144h4v1h-4z"/>
<polyline points="847.3,107.3 945.7,41 939.8,118.2 843,147.7 847.3,107.3" fill="none" stroke="#000" stroke-width="2.6" stroke-linejoin="miter"/>
<defs>
<filter id="grn" x="0" y="0" width="1" height="1" color-interpolation-filters="sRGB">
<feGaussianBlur in="SourceGraphic" stdDeviation="1.1" result="b"/>
<feTurbulence type="fractalNoise" baseFrequency="0.6" numOctaves="2" seed="5" result="n"/>
<feColorMatrix in="n" type="matrix" values="1 0 0 0 0 1 0 0 0 0 1 0 0 0 0 0 0 0 0 1" result="ng"/>
<feComposite in="b" in2="ng" operator="arithmetic" k1="1.7" k2="0.15" k3="0" k4="0" result="m"/>
<feColorMatrix in="m" type="matrix" values="0.26 0 0 0 0.01  0.85 0 0 0 0.035  0.24 0 0 0 0.01  0 0 0 0 1"/>
</filter>
<filter id="fretA" x="0" y="0" width="1" height="1" color-interpolation-filters="sRGB">
<feTurbulence type="fractalNoise" baseFrequency="1.3" numOctaves="1" seed="22" result="n"/>
<feColorMatrix in="n" type="matrix" values="1 0 0 0 0 1 0 0 0 0 1 0 0 0 0 0 0 0 0 1" result="ng"/>
<feGaussianBlur in="SourceGraphic" stdDeviation="1.0" result="b"/>
<feComposite in="b" in2="ng" operator="arithmetic" k1="0" k2="1" k3="2.2" k4="-1.1" result="s"/>
<feComponentTransfer in="s" result="c"><feFuncR type="table" tableValues="0.180 0.196 0.275 0.706 0.804 0.863 0.894 0.882 0.843"/><feFuncG type="table" tableValues="0.165 0.188 0.216 0.235 0.216 0.373 0.549 0.725 0.824"/><feFuncB type="table" tableValues="0.431 0.490 0.510 0.275 0.176 0.157 0.157 0.176 0.235"/></feComponentTransfer>
<feComposite in="c" in2="SourceGraphic" operator="in"/>
</filter>
<filter id="fretM" x="0" y="0" width="1" height="1" color-interpolation-filters="sRGB">
<feTurbulence type="fractalNoise" baseFrequency="1.3" numOctaves="1" seed="14" result="n"/>
<feColorMatrix in="n" type="matrix" values="1 0 0 0 0 1 0 0 0 0 1 0 0 0 0 0 0 0 0 1" result="ng"/>
<feGaussianBlur in="SourceGraphic" stdDeviation="0.8" result="b"/>
<feComposite in="b" in2="ng" operator="arithmetic" k1="0" k2="1" k3="1.4" k4="-0.7" result="s"/>
<feComponentTransfer in="s" result="c"><feFuncR type="table" tableValues="0.180 0.161 0.161 0.165 0.145 0.125 0.110 0.133 0.157 0.173 0.188 0.353 0.522 0.647 0.745 0.788 0.804 0.804 0.792 0.773 0.753"/><feFuncG type="table" tableValues="0.165 0.216 0.267 0.333 0.471 0.576 0.667 0.663 0.659 0.659 0.659 0.694 0.729 0.757 0.776 0.718 0.608 0.471 0.349 0.243 0.141"/><feFuncB type="table" tableValues="0.431 0.529 0.584 0.639 0.741 0.769 0.741 0.647 0.549 0.412 0.275 0.239 0.208 0.184 0.161 0.149 0.137 0.141 0.141 0.129 0.118"/></feComponentTransfer>
<feComposite in="c" in2="SourceGraphic" operator="in"/>
</filter>
<filter id="fretB" x="0" y="0" width="1" height="1" color-interpolation-filters="sRGB">
<feTurbulence type="fractalNoise" baseFrequency="1.3" numOctaves="1" seed="7" result="n"/>
<feColorMatrix in="n" type="matrix" values="1 0 0 0 0 1 0 0 0 0 1 0 0 0 0 0 0 0 0 1" result="ng"/>
<feGaussianBlur in="SourceGraphic" stdDeviation="0.6" result="b"/>
<feComposite in="b" in2="ng" operator="arithmetic" k1="0" k2="1" k3="0.7" k4="-0.35" result="s"/>
<feComponentTransfer in="s" result="c"><feFuncR type="table" tableValues="0.180 0.161 0.161 0.165 0.145 0.125 0.110 0.133 0.157 0.173 0.188 0.353 0.522 0.647 0.745 0.788 0.804 0.804 0.792 0.773 0.753"/><feFuncG type="table" tableValues="0.165 0.216 0.267 0.333 0.471 0.576 0.667 0.663 0.659 0.659 0.659 0.694 0.729 0.757 0.776 0.718 0.608 0.471 0.349 0.243 0.141"/><feFuncB type="table" tableValues="0.431 0.529 0.584 0.639 0.741 0.769 0.741 0.647 0.549 0.412 0.275 0.239 0.208 0.184 0.161 0.149 0.137 0.141 0.141 0.129 0.118"/></feComponentTransfer>
<feComposite in="c" in2="SourceGraphic" operator="in"/>
</filter>
<filter id="fretL" x="0" y="0" width="1" height="1" color-interpolation-filters="sRGB">
<feTurbulence type="fractalNoise" baseFrequency="1.3" numOctaves="1" seed="3" result="n"/>
<feColorMatrix in="n" type="matrix" values="1 0 0 0 0 1 0 0 0 0 1 0 0 0 0 0 0 0 0 1" result="ng"/>
<feGaussianBlur in="SourceGraphic" stdDeviation="0.6" result="b"/>
<feComposite in="b" in2="ng" operator="arithmetic" k1="0" k2="1" k3="0.35" k4="-0.175" result="s"/>
<feComponentTransfer in="s" result="c"><feFuncR type="table" tableValues="0.180 0.161 0.161 0.165 0.145 0.125 0.110 0.133 0.157 0.173 0.188 0.353 0.522 0.647 0.745 0.788 0.804 0.804 0.792 0.773 0.753"/><feFuncG type="table" tableValues="0.165 0.216 0.267 0.333 0.471 0.576 0.667 0.663 0.659 0.659 0.659 0.694 0.729 0.757 0.776 0.718 0.608 0.471 0.349 0.243 0.141"/><feFuncB type="table" tableValues="0.431 0.529 0.584 0.639 0.741 0.769 0.741 0.647 0.549 0.412 0.275 0.239 0.208 0.184 0.161 0.149 0.137 0.141 0.141 0.129 0.118"/></feComponentTransfer>
<feComposite in="c" in2="SourceGraphic" operator="in"/>
</filter>
</defs>
<text x="-2" y="1544.7" font-size="33" text-anchor="start" font-weight="bold" fill="#000" stroke="#000" stroke-width="1.5">i</text>
<text x="51.8" y="1646" font-size="25" text-anchor="middle" font-weight="normal" fill="#000" transform="rotate(-90 51.8 1646)" >IAA</text>
<text x="52.2" y="1852.7" font-size="25" text-anchor="middle" font-weight="normal" fill="#000" transform="rotate(-90 52.2 1852.7)" >DMSO</text>
<svg x="66.8" y="1544.9" width="146.1" height="97" viewBox="0 0 146 97" preserveAspectRatio="none"><g filter="url(#grn)"><rect x="-20" y="-20" width="190" height="140" fill="#070707"/><g transform="rotate(-6 73 48) translate(8 0)"><rect x="-40" y="8" width="240" height="52" rx="0" fill="#6b6b6b"/><rect x="-40" y="58" width="240" height="17" rx="0" fill="#212121"/><rect x="-40" y="75" width="240" height="28" rx="0" fill="#6b6b6b"/><rect x="-40" y="7" width="240" height="2.4" rx="0" fill="#9e9e9e"/><rect x="-40" y="56" width="240" height="2.4" rx="0" fill="#9e9e9e"/><rect x="-40" y="73" width="240" height="2.4" rx="0" fill="#9e9e9e"/><rect x="-40" y="100" width="240" height="2.4" rx="0" fill="#9e9e9e"/><rect x="2" y="20" width="54" height="16" rx="6" fill="#0a0a0a"/><rect x="59" y="16" width="33" height="15" rx="6" fill="#0a0a0a"/><rect x="98" y="14" width="22" height="13" rx="6" fill="#0a0a0a"/><rect x="123" y="9" width="26" height="16" rx="6" fill="#0a0a0a"/><rect x="4" y="40" width="18" height="16" rx="6" fill="#0a0a0a"/><rect x="45" y="38" width="33" height="18" rx="6" fill="#0a0a0a"/><rect x="88" y="34" width="24" height="17" rx="6" fill="#0a0a0a"/><rect x="140" y="30" width="20" height="16" rx="6" fill="#0a0a0a"/><rect x="18" y="80" width="30" height="17" rx="6" fill="#0a0a0a"/><rect x="63" y="73" width="30" height="15" rx="6" fill="#0a0a0a"/><rect x="107" y="72" width="18" height="16" rx="6" fill="#0a0a0a"/><rect x="130" y="66" width="20" height="15" rx="6" fill="#0a0a0a"/><circle cx="12" cy="50" r="9" fill="#b7b7b7"/><circle cx="12" cy="50" r="3.1" fill="#666666"/><circle cx="98" cy="38" r="8" fill="#b7b7b7"/><circle cx="98" cy="38" r="2.8" fill="#666666"/><circle cx="34" cy="85" r="6" fill="#b7b7b7"/><circle cx="34" cy="85" r="2.1" fill="#666666"/><path fill="#191919" d="M109.1 42.3a2.0 2.0 0 1 0 4.1 0a2.0 2.0 0 1 0 -4.1 0zM141.2 31.8a1.9 1.9 0 1 0 3.8 0a1.9 1.9 0 1 0 -3.8 0zM110.4 14.4a0.9 0.9 0 1 0 1.8 0a0.9 0.9 0 1 0 -1.8 0zM-4.3 80.3a2.2 2.2 0 1 0 4.4 0a2.2 2.2 0 1 0 -4.4 0zM120.6 17.2a1.8 1.8 0 1 0 3.5 0a1.8 1.8 0 1 0 -3.5 0zM78.6 27.2a1.4 1.4 0 1 0 2.9 0a1.4 1.4 0 1 0 -2.9 0zM33.8 81.7a1.7 1.7 0 1 0 3.4 0a1.7 1.7 0 1 0 -3.4 0zM39.2 25.0a1.3 1.3 0 1 0 2.6 0a1.3 1.3 0 1 0 -2.6 0zM25.8 23.0a1.9 1.9 0 1 0 3.8 0a1.9 1.9 0 1 0 -3.8 0zM71.4 18.1a1.4 1.4 0 1 0 2.8 0a1.4 1.4 0 1 0 -2.8 0zM39.9 89.1a1.1 1.1 0 1 0 2.2 0a1.1 1.1 0 1 0 -2.2 0zM-2.2 84.7a1.0 1.0 0 1 0 2.1 0a1.0 1.0 0 1 0 -2.1 0zM5.3 56.1a1.6 1.6 0 1 0 3.1 0a1.6 1.6 0 1 0 -3.1 0zM143.7 89.9a1.3 1.3 0 1 0 2.6 0a1.3 1.3 0 1 0 -2.6 0zM81.6 40.6a2.4 2.4 0 1 0 4.8 0a2.4 2.4 0 1 0 -4.8 0zM2.8 89.6a1.4 1.4 0 1 0 2.7 0a1.4 1.4 0 1 0 -2.7 0zM114.9 14.9a2.3 2.3 0 1 0 4.6 0a2.3 2.3 0 1 0 -4.6 0zM145.8 85.7a1.4 1.4 0 1 0 2.7 0a1.4 1.4 0 1 0 -2.7 0zM145.3 54.4a1.2 1.2 0 1 0 2.4 0a1.2 1.2 0 1 0 -2.4 0zM103.0 27.8a2.6 2.6 0 1 0 5.1 0a2.6 2.6 0 1 0 -5.1 0zM12.4 89.1a1.4 1.4 0 1 0 2.7 0a1.4 1.4 0 1 0 -2.7 0zM42.5 30.3a2.3 2.3 0 1 0 4.6 0a2.3 2.3 0 1 0 -4.6 0zM66.6 41.6a1.0 1.0 0 1 0 2.0 0a1.0 1.0 0 1 0 -2.0 0zM135.4 27.2a1.7 1.7 0 1 0 3.3 0a1.7 1.7 0 1 0 -3.3 0zM97.7 86.2a2.2 2.2 0 1 0 4.5 0a2.2 2.2 0 1 0 -4.5 0zM131.9 21.1a1.2 1.2 0 1 0 2.4 0a1.2 1.2 0 1 0 -2.4 0zM-4.8 25.5a1.4 1.4 0 1 0 2.8 0a1.4 1.4 0 1 0 -2.8 0zM106.1 94.0a1.2 1.2 0 1 0 2.3 0a1.2 1.2 0 1 0 -2.3 0zM27.4 91.2a2.3 2.3 0 1 0 4.6 0a2.3 2.3 0 1 0 -4.6 0zM15.8 82.0a2.4 2.4 0 1 0 4.9 0a2.4 2.4 0 1 0 -4.9 0zM51.5 13.8a2.5 2.5 0 1 0 5.0 0a2.5 2.5 0 1 0 -5.0 0zM42.6 98.3a1.2 1.2 0 1 0 2.3 0a1.2 1.2 0 1 0 -2.3 0zM150.1 76.7a1.4 1.4 0 1 0 2.7 0a1.4 1.4 0 1 0 -2.7 0zM39.1 40.4a1.9 1.9 0 1 0 3.8 0a1.9 1.9 0 1 0 -3.8 0zM144.5 20.8a1.3 1.3 0 1 0 2.6 0a1.3 1.3 0 1 0 -2.6 0zM73.1 55.4a2.1 2.1 0 1 0 4.2 0a2.1 2.1 0 1 0 -4.2 0zM89.0 85.4a2.1 2.1 0 1 0 4.2 0a2.1 2.1 0 1 0 -4.2 0zM25.7 19.0a2.2 2.2 0 1 0 4.3 0a2.2 2.2 0 1 0 -4.3 0zM68.0 45.4a2.6 2.6 0 1 0 5.1 0a2.6 2.6 0 1 0 -5.1 0zM46.3 82.7a1.8 1.8 0 1 0 3.7 0a1.8 1.8 0 1 0 -3.7 0zM46.1 56.2a2.5 2.5 0 1 0 4.9 0a2.5 2.5 0 1 0 -4.9 0zM92.0 92.0a2.1 2.1 0 1 0 4.1 0a2.1 2.1 0 1 0 -4.1 0zM127.4 91.4a1.8 1.8 0 1 0 3.5 0a1.8 1.8 0 1 0 -3.5 0zM72.5 56.9a2.6 2.6 0 1 0 5.2 0a2.6 2.6 0 1 0 -5.2 0zM3.4 89.2a2.5 2.5 0 1 0 5.0 0a2.5 2.5 0 1 0 -5.0 0zM-8.7 94.8a1.1 1.1 0 1 0 2.2 0a1.1 1.1 0 1 0 -2.2 0zM148.3 17.0a2.3 2.3 0 1 0 4.6 0a2.3 2.3 0 1 0 -4.6 0zM143.4 13.3a1.4 1.4 0 1 0 2.8 0a1.4 1.4 0 1 0 -2.8 0zM121.1 94.4a1.1 1.1 0 1 0 2.3 0a1.1 1.1 0 1 0 -2.3 0zM54.1 21.8a1.8 1.8 0 1 0 3.7 0a1.8 1.8 0 1 0 -3.7 0zM27.4 9.7a2.4 2.4 0 1 0 4.7 0a2.4 2.4 0 1 0 -4.7 0zM62.0 12.3a1.1 1.1 0 1 0 2.2 0a1.1 1.1 0 1 0 -2.2 0zM14.7 31.4a1.2 1.2 0 1 0 2.5 0a1.2 1.2 0 1 0 -2.5 0zM55.2 87.2a2.0 2.0 0 1 0 4.0 0a2.0 2.0 0 1 0 -4.0 0zM149.3 44.1a1.6 1.6 0 1 0 3.2 0a1.6 1.6 0 1 0 -3.2 0zM2.4 88.8a1.1 1.1 0 1 0 2.1 0a1.1 1.1 0 1 0 -2.1 0zM130.4 37.7a2.5 2.5 0 1 0 5.0 0a2.5 2.5 0 1 0 -5.0 0zM105.8 75.9a1.6 1.6 0 1 0 3.2 0a1.6 1.6 0 1 0 -3.2 0zM-11.2 17.1a1.9 1.9 0 1 0 3.8 0a1.9 1.9 0 1 0 -3.8 0zM146.0 76.6a2.5 2.5 0 1 0 5.0 0a2.5 2.5 0 1 0 -5.0 0zM55.0 24.0a1.4 1.4 0 1 0 2.7 0a1.4 1.4 0 1 0 -2.7 0zM109.2 87.7a1.0 1.0 0 1 0 2.0 0a1.0 1.0 0 1 0 -2.0 0zM131.9 45.7a2.6 2.6 0 1 0 5.1 0a2.6 2.6 0 1 0 -5.1 0zM124.2 39.3a0.9 0.9 0 1 0 1.8 0a0.9 0.9 0 1 0 -1.8 0zM48.1 25.2a0.9 0.9 0 1 0 1.8 0a0.9 0.9 0 1 0 -1.8 0zM65.2 93.7a0.8 0.8 0 1 0 1.6 0a0.8 0.8 0 1 0 -1.6 0zM74.9 40.6a2.2 2.2 0 1 0 4.4 0a2.2 2.2 0 1 0 -4.4 0zM81.6 91.9a1.0 1.0 0 1 0 1.9 0a1.0 1.0 0 1 0 -1.9 0zM102.5 91.0a2.4 2.4 0 1 0 4.8 0a2.4 2.4 0 1 0 -4.8 0zM129.1 24.8a1.4 1.4 0 1 0 2.9 0a1.4 1.4 0 1 0 -2.9 0z"/></g></g></svg>
<svg x="66.8" y="1645.7" width="146.1" height="98.1" viewBox="0 0 146 97" preserveAspectRatio="none"><g filter="url(#fretM)"><rect x="-20" y="-20" width="190" height="140" fill="#2d2d2d"/><g transform="rotate(-6 73 48) translate(8 0)"><rect x="-40" y="8" width="240" height="52" rx="0" fill="#474747"/><rect x="-40" y="58" width="240" height="17" rx="0" fill="#2d2d2d"/><rect x="-40" y="75" width="240" height="28" rx="0" fill="#474747"/></g></g><g filter="url(#fretB)"><g transform="rotate(-6 73 48) translate(8 0)"><rect x="4" y="22" width="50" height="12" rx="5" fill="#282828"/><rect x="61" y="18" width="29" height="11" rx="5" fill="#282828"/><rect x="100" y="16" width="18" height="9" rx="5" fill="#282828"/><rect x="125" y="11" width="22" height="12" rx="5" fill="#282828"/><rect x="6" y="42" width="14" height="12" rx="5" fill="#282828"/><rect x="47" y="40" width="29" height="14" rx="5" fill="#282828"/><rect x="90" y="36" width="20" height="13" rx="5" fill="#282828"/><rect x="142" y="32" width="16" height="12" rx="5" fill="#282828"/><rect x="20" y="82" width="26" height="13" rx="5" fill="#282828"/><rect x="65" y="75" width="26" height="11" rx="5" fill="#282828"/><rect x="109" y="74" width="14" height="12" rx="5" fill="#282828"/><rect x="132" y="68" width="16" height="11" rx="5" fill="#282828"/></g></g><path d="M0 0H146V4L0 22Z" fill="#2f58a8"/><path d="M146 97H120L146 82Z" fill="#2f58a8"/></svg>
<svg x="66.8" y="1753.8" width="146.1" height="96.8" viewBox="0 0 146 97" preserveAspectRatio="none"><g filter="url(#grn)"><rect x="-20" y="-20" width="190" height="140" fill="#070707"/><g transform="rotate(-2 73 48)"><rect x="-30" y="3" width="220" height="28" rx="0" fill="#424242"/><rect x="60" y="3" width="92" height="28" rx="3" fill="#a8a8a8"/><rect x="8" y="8" width="22" height="16" rx="6" fill="#0c0c0c"/><rect x="36" y="10" width="18" height="14" rx="6" fill="#0c0c0c"/><rect x="70" y="6" width="26" height="19" rx="6" fill="#0c0c0c"/><rect x="100" y="8" width="12" height="19" rx="6" fill="#0c0c0c"/><rect x="118" y="8" width="12" height="18" rx="6" fill="#0c0c0c"/><rect x="134" y="7" width="10" height="18" rx="6" fill="#0c0c0c"/><rect x="-30" y="31" width="220" height="33" rx="0" fill="#0c0c0c"/><rect x="-30" y="29.5" width="220" height="2.5" rx="0" fill="#5b5b5b"/><rect x="-30" y="63" width="220" height="2.5" rx="0" fill="#5b5b5b"/><rect x="22" y="31" width="1.6" height="33" rx="0" fill="#5b5b5b"/><rect x="56" y="31" width="1.6" height="33" rx="0" fill="#5b5b5b"/><rect x="90" y="31" width="1.6" height="33" rx="0" fill="#5b5b5b"/><rect x="124" y="31" width="1.6" height="33" rx="0" fill="#5b5b5b"/><rect x="-30" y="65" width="220" height="40" rx="0" fill="#161616"/><rect x="14" y="65" width="2.4" height="35" rx="0" fill="#6b6b6b"/><rect x="58" y="65" width="2.4" height="35" rx="0" fill="#6b6b6b"/><rect x="94" y="65" width="2.4" height="35" rx="0" fill="#6b6b6b"/><rect x="126" y="65" width="2.4" height="35" rx="0" fill="#6b6b6b"/><circle cx="40" cy="88" r="6" fill="#8c8c8c"/><circle cx="80" cy="86" r="7" fill="#8c8c8c"/><circle cx="112" cy="82" r="5" fill="#8c8c8c"/></g></g></svg>
<svg x="66.8" y="1855" width="146.1" height="97.6" viewBox="0 0 146 97" preserveAspectRatio="none"><g><rect x="-20" y="-20" width="190" height="140" fill="#2f58a8"/></g><g filter="url(#fretM)" transform="rotate(-2 73 48)"><rect x="-30" y="4" width="220" height="27" rx="0" fill="#353535"/><rect x="-30" y="29" width="220" height="3.5" rx="0" fill="#424242"/><rect x="-30" y="62" width="220" height="3.5" rx="0" fill="#424242"/><rect x="20" y="31" width="3" height="33" rx="0" fill="#353535"/><rect x="55" y="31" width="3" height="33" rx="0" fill="#353535"/><rect x="90" y="31" width="3" height="33" rx="0" fill="#353535"/><rect x="124" y="31" width="3" height="33" rx="0" fill="#353535"/><rect x="14" y="65" width="3.5" height="35" rx="0" fill="#424242"/><rect x="58" y="65" width="3.5" height="35" rx="0" fill="#424242"/><rect x="94" y="65" width="3.5" height="35" rx="0" fill="#424242"/><rect x="126" y="65" width="3.5" height="35" rx="0" fill="#424242"/><rect x="18" y="70" width="36" height="26" rx="4" fill="#303030"/><rect x="62" y="68" width="28" height="28" rx="4" fill="#303030"/><rect x="98" y="70" width="24" height="26" rx="4" fill="#303030"/><rect x="130" y="68" width="16" height="28" rx="4" fill="#303030"/></g><g filter="url(#fretB)" transform="rotate(-2 73 48)"><rect x="10" y="10" width="18" height="12" rx="5" fill="#2b2b2b"/><rect x="38" y="12" width="14" height="10" rx="5" fill="#2b2b2b"/><rect x="72" y="8" width="22" height="15" rx="5" fill="#2b2b2b"/><rect x="102" y="10" width="8" height="15" rx="5" fill="#2b2b2b"/><rect x="120" y="10" width="8" height="14" rx="5" fill="#2b2b2b"/><rect x="136" y="9" width="6" height="14" rx="5" fill="#2b2b2b"/></g><path d="M0 0H146V0L0 6Z" fill="#2f58a8"/></svg>
<svg x="218.3" y="1544.9" width="146.1" height="97" viewBox="0 0 146 97" preserveAspectRatio="none"><g filter="url(#grn)"><rect x="-20" y="-20" width="190" height="140" fill="#070707"/><g transform="rotate(-6 73 48) translate(0 0)"><rect x="-40" y="8" width="240" height="52" rx="0" fill="#6b6b6b"/><rect x="-40" y="58" width="240" height="17" rx="0" fill="#212121"/><rect x="-40" y="75" width="240" height="28" rx="0" fill="#6b6b6b"/><rect x="-40" y="7" width="240" height="2.4" rx="0" fill="#9e9e9e"/><rect x="-40" y="56" width="240" height="2.4" rx="0" fill="#9e9e9e"/><rect x="-40" y="73" width="240" height="2.4" rx="0" fill="#9e9e9e"/><rect x="-40" y="100" width="240" height="2.4" rx="0" fill="#9e9e9e"/><rect x="2" y="20" width="54" height="16" rx="6" fill="#0a0a0a"/><rect x="59" y="16" width="33" height="15" rx="6" fill="#0a0a0a"/><rect x="98" y="14" width="22" height="13" rx="6" fill="#0a0a0a"/><rect x="123" y="9" width="26" height="16" rx="6" fill="#0a0a0a"/><rect x="4" y="40" width="18" height="16" rx="6" fill="#0a0a0a"/><rect x="45" y="38" width="33" height="18" rx="6" fill="#0a0a0a"/><rect x="88" y="34" width="24" height="17" rx="6" fill="#0a0a0a"/><rect x="140" y="30" width="20" height="16" rx="6" fill="#0a0a0a"/><rect x="18" y="80" width="30" height="17" rx="6" fill="#0a0a0a"/><rect x="63" y="73" width="30" height="15" rx="6" fill="#0a0a0a"/><rect x="107" y="72" width="18" height="16" rx="6" fill="#0a0a0a"/><rect x="130" y="66" width="20" height="15" rx="6" fill="#0a0a0a"/><circle cx="12" cy="50" r="9" fill="#b7b7b7"/><circle cx="12" cy="50" r="3.1" fill="#666666"/><circle cx="98" cy="38" r="8" fill="#b7b7b7"/><circle cx="98" cy="38" r="2.8" fill="#666666"/><circle cx="34" cy="85" r="6" fill="#b7b7b7"/><circle cx="34" cy="85" r="2.1" fill="#666666"/><path fill="#191919" d="M146.1 45.9a2.3 2.3 0 1 0 4.7 0a2.3 2.3 0 1 0 -4.7 0zM46.7 90.1a1.4 1.4 0 1 0 2.8 0a1.4 1.4 0 1 0 -2.8 0zM91.6 44.2a1.6 1.6 0 1 0 3.1 0a1.6 1.6 0 1 0 -3.1 0zM87.7 55.8a0.9 0.9 0 1 0 1.8 0a0.9 0.9 0 1 0 -1.8 0zM114.8 81.9a2.2 2.2 0 1 0 4.4 0a2.2 2.2 0 1 0 -4.4 0zM16.5 83.7a2.3 2.3 0 1 0 4.6 0a2.3 2.3 0 1 0 -4.6 0zM137.8 79.1a1.1 1.1 0 1 0 2.1 0a1.1 1.1 0 1 0 -2.1 0zM119.3 77.0a1.8 1.8 0 1 0 3.6 0a1.8 1.8 0 1 0 -3.6 0zM47.0 43.0a1.4 1.4 0 1 0 2.8 0a1.4 1.4 0 1 0 -2.8 0zM29.2 49.8a2.4 2.4 0 1 0 4.7 0a2.4 2.4 0 1 0 -4.7 0zM81.0 78.2a1.5 1.5 0 1 0 2.9 0a1.5 1.5 0 1 0 -2.9 0zM57.9 93.2a0.9 0.9 0 1 0 1.8 0a0.9 0.9 0 1 0 -1.8 0zM30.6 77.6a1.3 1.3 0 1 0 2.6 0a1.3 1.3 0 1 0 -2.6 0zM54.4 95.2a0.9 0.9 0 1 0 1.8 0a0.9 0.9 0 1 0 -1.8 0zM136.8 10.6a1.0 1.0 0 1 0 1.9 0a1.0 1.0 0 1 0 -1.9 0zM150.0 98.8a2.1 2.1 0 1 0 4.1 0a2.1 2.1 0 1 0 -4.1 0zM98.4 85.1a0.9 0.9 0 1 0 1.9 0a0.9 0.9 0 1 0 -1.9 0zM9.5 89.8a1.6 1.6 0 1 0 3.3 0a1.6 1.6 0 1 0 -3.3 0zM131.7 33.7a2.2 2.2 0 1 0 4.3 0a2.2 2.2 0 1 0 -4.3 0zM148.3 39.8a2.1 2.1 0 1 0 4.2 0a2.1 2.1 0 1 0 -4.2 0zM-0.3 87.4a1.7 1.7 0 1 0 3.5 0a1.7 1.7 0 1 0 -3.5 0zM24.7 20.0a1.6 1.6 0 1 0 3.1 0a1.6 1.6 0 1 0 -3.1 0zM124.5 93.7a2.3 2.3 0 1 0 4.7 0a2.3 2.3 0 1 0 -4.7 0zM64.8 45.3a1.3 1.3 0 1 0 2.5 0a1.3 1.3 0 1 0 -2.5 0zM95.2 77.3a2.5 2.5 0 1 0 5.0 0a2.5 2.5 0 1 0 -5.0 0zM61.0 89.6a1.3 1.3 0 1 0 2.6 0a1.3 1.3 0 1 0 -2.6 0zM56.1 79.8a2.5 2.5 0 1 0 5.0 0a2.5 2.5 0 1 0 -5.0 0zM152.5 16.6a1.0 1.0 0 1 0 2.0 0a1.0 1.0 0 1 0 -2.0 0zM64.4 79.3a1.3 1.3 0 1 0 2.7 0a1.3 1.3 0 1 0 -2.7 0zM101.3 93.2a2.4 2.4 0 1 0 4.7 0a2.4 2.4 0 1 0 -4.7 0zM75.3 39.2a1.3 1.3 0 1 0 2.6 0a1.3 1.3 0 1 0 -2.6 0zM117.2 89.7a2.3 2.3 0 1 0 4.7 0a2.3 2.3 0 1 0 -4.7 0zM116.5 21.2a1.3 1.3 0 1 0 2.6 0a1.3 1.3 0 1 0 -2.6 0zM132.8 47.1a2.4 2.4 0 1 0 4.8 0a2.4 2.4 0 1 0 -4.8 0zM125.5 78.6a0.9 0.9 0 1 0 1.7 0a0.9 0.9 0 1 0 -1.7 0zM40.4 81.2a1.1 1.1 0 1 0 2.3 0a1.1 1.1 0 1 0 -2.3 0zM121.4 36.6a1.9 1.9 0 1 0 3.8 0a1.9 1.9 0 1 0 -3.8 0zM50.7 29.7a1.9 1.9 0 1 0 3.8 0a1.9 1.9 0 1 0 -3.8 0zM23.3 41.1a2.5 2.5 0 1 0 5.1 0a2.5 2.5 0 1 0 -5.1 0zM128.2 20.1a2.0 2.0 0 1 0 4.0 0a2.0 2.0 0 1 0 -4.0 0zM98.3 77.1a2.4 2.4 0 1 0 4.9 0a2.4 2.4 0 1 0 -4.9 0zM79.5 35.8a1.7 1.7 0 1 0 3.4 0a1.7 1.7 0 1 0 -3.4 0zM91.6 20.1a1.6 1.6 0 1 0 3.2 0a1.6 1.6 0 1 0 -3.2 0zM34.6 80.3a1.2 1.2 0 1 0 2.5 0a1.2 1.2 0 1 0 -2.5 0zM61.2 44.5a1.3 1.3 0 1 0 2.5 0a1.3 1.3 0 1 0 -2.5 0zM98.6 75.1a1.2 1.2 0 1 0 2.5 0a1.2 1.2 0 1 0 -2.5 0zM73.8 84.6a1.6 1.6 0 1 0 3.1 0a1.6 1.6 0 1 0 -3.1 0zM59.3 90.6a2.1 2.1 0 1 0 4.3 0a2.1 2.1 0 1 0 -4.3 0zM34.3 44.6a2.1 2.1 0 1 0 4.1 0a2.1 2.1 0 1 0 -4.1 0zM30.7 80.1a0.9 0.9 0 1 0 1.9 0a0.9 0.9 0 1 0 -1.9 0zM108.9 50.7a2.2 2.2 0 1 0 4.3 0a2.2 2.2 0 1 0 -4.3 0zM69.3 92.4a1.3 1.3 0 1 0 2.5 0a1.3 1.3 0 1 0 -2.5 0zM61.2 97.4a1.9 1.9 0 1 0 3.8 0a1.9 1.9 0 1 0 -3.8 0zM8.4 85.9a2.0 2.0 0 1 0 4.1 0a2.0 2.0 0 1 0 -4.1 0zM72.3 79.3a2.4 2.4 0 1 0 4.9 0a2.4 2.4 0 1 0 -4.9 0zM25.3 50.2a1.4 1.4 0 1 0 2.8 0a1.4 1.4 0 1 0 -2.8 0zM58.7 26.0a1.6 1.6 0 1 0 3.2 0a1.6 1.6 0 1 0 -3.2 0zM70.4 91.2a0.9 0.9 0 1 0 1.8 0a0.9 0.9 0 1 0 -1.8 0zM146.4 19.5a2.0 2.0 0 1 0 4.0 0a2.0 2.0 0 1 0 -4.0 0zM68.8 79.9a1.3 1.3 0 1 0 2.7 0a1.3 1.3 0 1 0 -2.7 0zM1.8 49.0a1.2 1.2 0 1 0 2.4 0a1.2 1.2 0 1 0 -2.4 0zM118.8 93.0a0.9 0.9 0 1 0 1.7 0a0.9 0.9 0 1 0 -1.7 0zM141.0 50.7a1.9 1.9 0 1 0 3.8 0a1.9 1.9 0 1 0 -3.8 0zM112.9 15.5a1.6 1.6 0 1 0 3.1 0a1.6 1.6 0 1 0 -3.1 0zM-4.1 39.7a2.5 2.5 0 1 0 4.9 0a2.5 2.5 0 1 0 -4.9 0zM14.2 98.3a2.5 2.5 0 1 0 5.0 0a2.5 2.5 0 1 0 -5.0 0zM36.6 75.7a2.6 2.6 0 1 0 5.1 0a2.6 2.6 0 1 0 -5.1 0zM38.3 41.5a2.4 2.4 0 1 0 4.8 0a2.4 2.4 0 1 0 -4.8 0zM44.4 21.3a1.8 1.8 0 1 0 3.6 0a1.8 1.8 0 1 0 -3.6 0zM3.1 85.3a1.2 1.2 0 1 0 2.5 0a1.2 1.2 0 1 0 -2.5 0z"/></g></g></svg>
<svg x="218.3" y="1645.7" width="146.1" height="98.1" viewBox="0 0 146 97" preserveAspectRatio="none"><g filter="url(#fretA)"><rect x="-20" y="-20" width="190" height="140" fill="#4c4c4c"/><g transform="rotate(-6 73 48) translate(0 0)"><rect x="-40" y="8" width="240" height="52" rx="0" fill="#a3a3a3"/><rect x="-40" y="58" width="240" height="17" rx="0" fill="#6b6b6b"/><rect x="-40" y="75" width="240" height="28" rx="0" fill="#a3a3a3"/></g></g><g filter="url(#fretB)"><g transform="rotate(-6 73 48) translate(0 0)"><rect x="4" y="22" width="50" height="12" rx="5" fill="#282828"/><rect x="61" y="18" width="29" height="11" rx="5" fill="#282828"/><rect x="100" y="16" width="18" height="9" rx="5" fill="#282828"/><rect x="125" y="11" width="22" height="12" rx="5" fill="#282828"/><rect x="6" y="42" width="14" height="12" rx="5" fill="#282828"/><rect x="47" y="40" width="29" height="14" rx="5" fill="#282828"/><rect x="90" y="36" width="20" height="13" rx="5" fill="#282828"/><rect x="142" y="32" width="16" height="12" rx="5" fill="#282828"/><rect x="20" y="82" width="26" height="13" rx="5" fill="#282828"/><rect x="65" y="75" width="26" height="11" rx="5" fill="#282828"/><rect x="109" y="74" width="14" height="12" rx="5" fill="#282828"/><rect x="132" y="68" width="16" height="11" rx="5" fill="#282828"/></g></g><path d="M0 0H146V2L0 20Z" fill="#2f58a8"/><path d="M146 97H60L146 72Z" fill="#2f58a8"/></svg>
<svg x="218.3" y="1753.8" width="146.1" height="96.8" viewBox="0 0 146 97" preserveAspectRatio="none"><g filter="url(#grn)"><rect x="-20" y="-20" width="190" height="140" fill="#070707"/><g transform="rotate(-2 73 48)"><rect x="-30" y="3" width="220" height="28" rx="0" fill="#424242"/><rect x="60" y="3" width="92" height="28" rx="3" fill="#a8a8a8"/><rect x="8" y="8" width="22" height="16" rx="6" fill="#0c0c0c"/><rect x="36" y="10" width="18" height="14" rx="6" fill="#0c0c0c"/><rect x="70" y="6" width="26" height="19" rx="6" fill="#0c0c0c"/><rect x="100" y="8" width="12" height="19" rx="6" fill="#0c0c0c"/><rect x="118" y="8" width="12" height="18" rx="6" fill="#0c0c0c"/><rect x="134" y="7" width="10" height="18" rx="6" fill="#0c0c0c"/><rect x="-30" y="31" width="220" height="33" rx="0" fill="#0c0c0c"/><rect x="-30" y="29.5" width="220" height="2.5" rx="0" fill="#5b5b5b"/><rect x="-30" y="63" width="220" height="2.5" rx="0" fill="#5b5b5b"/><rect x="22" y="31" width="1.6" height="33" rx="0" fill="#5b5b5b"/><rect x="56" y="31" width="1.6" height="33" rx="0" fill="#5b5b5b"/><rect x="90" y="31" width="1.6" height="33" rx="0" fill="#5b5b5b"/><rect x="124" y="31" width="1.6" height="33" rx="0" fill="#5b5b5b"/><rect x="-30" y="65" width="220" height="40" rx="0" fill="#161616"/><rect x="14" y="65" width="2.4" height="35" rx="0" fill="#6b6b6b"/><rect x="58" y="65" width="2.4" height="35" rx="0" fill="#6b6b6b"/><rect x="94" y="65" width="2.4" height="35" rx="0" fill="#6b6b6b"/><rect x="126" y="65" width="2.4" height="35" rx="0" fill="#6b6b6b"/><circle cx="40" cy="88" r="6" fill="#8c8c8c"/><circle cx="80" cy="86" r="7" fill="#8c8c8c"/><circle cx="112" cy="82" r="5" fill="#8c8c8c"/></g></g></svg>
<svg x="218.3" y="1855" width="146.1" height="97.6" viewBox="0 0 146 97" preserveAspectRatio="none"><g><rect x="-20" y="-20" width="190" height="140" fill="#2f58a8"/></g><g filter="url(#fretM)" transform="rotate(-2 73 48)"><rect x="-30" y="4" width="220" height="27" rx="0" fill="#353535"/><rect x="-30" y="29" width="220" height="3.5" rx="0" fill="#424242"/><rect x="-30" y="62" width="220" height="3.5" rx="0" fill="#424242"/><rect x="20" y="31" width="3" height="33" rx="0" fill="#353535"/><rect x="55" y="31" width="3" height="33" rx="0" fill="#353535"/><rect x="90" y="31" width="3" height="33" rx="0" fill="#353535"/><rect x="124" y="31" width="3" height="33" rx="0" fill="#353535"/><rect x="14" y="65" width="3.5" height="35" rx="0" fill="#424242"/><rect x="58" y="65" width="3.5" height="35" rx="0" fill="#424242"/><rect x="94" y="65" width="3.5" height="35" rx="0" fill="#424242"/><rect x="126" y="65" width="3.5" height="35" rx="0" fill="#424242"/><rect x="18" y="70" width="36" height="26" rx="4" fill="#303030"/><rect x="62" y="68" width="28" height="28" rx="4" fill="#303030"/><rect x="98" y="70" width="24" height="26" rx="4" fill="#303030"/><rect x="130" y="68" width="16" height="28" rx="4" fill="#303030"/></g><g filter="url(#fretB)" transform="rotate(-2 73 48)"><rect x="10" y="10" width="18" height="12" rx="5" fill="#2b2b2b"/><rect x="38" y="12" width="14" height="10" rx="5" fill="#2b2b2b"/><rect x="72" y="8" width="22" height="15" rx="5" fill="#2b2b2b"/><rect x="102" y="10" width="8" height="15" rx="5" fill="#2b2b2b"/><rect x="120" y="10" width="8" height="14" rx="5" fill="#2b2b2b"/><rect x="136" y="9" width="6" height="14" rx="5" fill="#2b2b2b"/></g><path d="M0 0H146V0L0 6Z" fill="#2f58a8"/></svg>
<svg x="370" y="1544.9" width="146" height="97" viewBox="0 0 146 97" preserveAspectRatio="none"><g filter="url(#grn)"><rect x="-20" y="-20" width="190" height="140" fill="#070707"/><g transform="rotate(-6 73 48) translate(-6 0)"><rect x="-40" y="8" width="240" height="52" rx="0" fill="#6b6b6b"/><rect x="-40" y="58" width="240" height="17" rx="0" fill="#212121"/><rect x="-40" y="75" width="240" height="28" rx="0" fill="#6b6b6b"/><rect x="-40" y="7" width="240" height="2.4" rx="0" fill="#9e9e9e"/><rect x="-40" y="56" width="240" height="2.4" rx="0" fill="#9e9e9e"/><rect x="-40" y="73" width="240" height="2.4" rx="0" fill="#9e9e9e"/><rect x="-40" y="100" width="240" height="2.4" rx="0" fill="#9e9e9e"/><rect x="2" y="20" width="54" height="16" rx="6" fill="#0a0a0a"/><rect x="59" y="16" width="33" height="15" rx="6" fill="#0a0a0a"/><rect x="98" y="14" width="22" height="13" rx="6" fill="#0a0a0a"/><rect x="123" y="9" width="26" height="16" rx="6" fill="#0a0a0a"/><rect x="4" y="40" width="18" height="16" rx="6" fill="#0a0a0a"/><rect x="45" y="38" width="33" height="18" rx="6" fill="#0a0a0a"/><rect x="88" y="34" width="24" height="17" rx="6" fill="#0a0a0a"/><rect x="140" y="30" width="20" height="16" rx="6" fill="#0a0a0a"/><rect x="18" y="80" width="30" height="17" rx="6" fill="#0a0a0a"/><rect x="63" y="73" width="30" height="15" rx="6" fill="#0a0a0a"/><rect x="107" y="72" width="18" height="16" rx="6" fill="#0a0a0a"/><rect x="130" y="66" width="20" height="15" rx="6" fill="#0a0a0a"/><circle cx="12" cy="50" r="9" fill="#b7b7b7"/><circle cx="12" cy="50" r="3.1" fill="#666666"/><circle cx="98" cy="38" r="8" fill="#b7b7b7"/><circle cx="98" cy="38" r="2.8" fill="#666666"/><circle cx="34" cy="85" r="6" fill="#b7b7b7"/><circle cx="34" cy="85" r="2.1" fill="#666666"/><path fill="#191919" d="M117.5 30.1a1.0 1.0 0 1 0 1.9 0a1.0 1.0 0 1 0 -1.9 0zM150.9 94.7a1.0 1.0 0 1 0 2.1 0a1.0 1.0 0 1 0 -2.1 0zM62.5 98.2a2.3 2.3 0 1 0 4.6 0a2.3 2.3 0 1 0 -4.6 0zM62.7 88.9a0.9 0.9 0 1 0 1.8 0a0.9 0.9 0 1 0 -1.8 0zM124.8 94.0a2.5 2.5 0 1 0 5.1 0a2.5 2.5 0 1 0 -5.1 0zM136.6 46.4a1.6 1.6 0 1 0 3.3 0a1.6 1.6 0 1 0 -3.3 0zM-5.3 92.1a2.5 2.5 0 1 0 5.1 0a2.5 2.5 0 1 0 -5.1 0zM42.9 86.7a1.1 1.1 0 1 0 2.3 0a1.1 1.1 0 1 0 -2.3 0zM10.0 80.7a1.6 1.6 0 1 0 3.2 0a1.6 1.6 0 1 0 -3.2 0zM125.9 82.8a2.3 2.3 0 1 0 4.6 0a2.3 2.3 0 1 0 -4.6 0zM122.5 27.6a1.1 1.1 0 1 0 2.1 0a1.1 1.1 0 1 0 -2.1 0zM21.2 94.7a2.0 2.0 0 1 0 4.0 0a2.0 2.0 0 1 0 -4.0 0zM106.0 86.5a1.1 1.1 0 1 0 2.1 0a1.1 1.1 0 1 0 -2.1 0zM7.2 86.8a1.8 1.8 0 1 0 3.6 0a1.8 1.8 0 1 0 -3.6 0zM115.6 39.5a1.3 1.3 0 1 0 2.7 0a1.3 1.3 0 1 0 -2.7 0zM-6.4 80.4a1.5 1.5 0 1 0 3.1 0a1.5 1.5 0 1 0 -3.1 0zM130.3 76.5a1.3 1.3 0 1 0 2.7 0a1.3 1.3 0 1 0 -2.7 0zM97.9 35.7a2.0 2.0 0 1 0 4.0 0a2.0 2.0 0 1 0 -4.0 0zM56.5 48.1a1.0 1.0 0 1 0 1.9 0a1.0 1.0 0 1 0 -1.9 0zM108.2 31.2a1.7 1.7 0 1 0 3.4 0a1.7 1.7 0 1 0 -3.4 0zM13.9 42.4a1.3 1.3 0 1 0 2.7 0a1.3 1.3 0 1 0 -2.7 0zM93.6 26.4a1.0 1.0 0 1 0 2.0 0a1.0 1.0 0 1 0 -2.0 0zM147.1 52.6a2.5 2.5 0 1 0 5.1 0a2.5 2.5 0 1 0 -5.1 0zM118.0 43.4a1.3 1.3 0 1 0 2.6 0a1.3 1.3 0 1 0 -2.6 0zM4.7 86.4a1.4 1.4 0 1 0 2.7 0a1.4 1.4 0 1 0 -2.7 0zM84.0 17.5a2.2 2.2 0 1 0 4.3 0a2.2 2.2 0 1 0 -4.3 0zM107.5 29.7a2.0 2.0 0 1 0 3.9 0a2.0 2.0 0 1 0 -3.9 0zM2.3 76.0a1.7 1.7 0 1 0 3.4 0a1.7 1.7 0 1 0 -3.4 0zM43.6 15.9a1.1 1.1 0 1 0 2.2 0a1.1 1.1 0 1 0 -2.2 0zM141.7 83.7a1.9 1.9 0 1 0 3.7 0a1.9 1.9 0 1 0 -3.7 0zM-7.2 55.0a0.9 0.9 0 1 0 1.9 0a0.9 0.9 0 1 0 -1.9 0zM69.0 98.4a1.8 1.8 0 1 0 3.7 0a1.8 1.8 0 1 0 -3.7 0zM67.0 83.3a1.6 1.6 0 1 0 3.2 0a1.6 1.6 0 1 0 -3.2 0zM-7.5 97.4a1.1 1.1 0 1 0 2.1 0a1.1 1.1 0 1 0 -2.1 0zM80.0 14.2a2.0 2.0 0 1 0 4.0 0a2.0 2.0 0 1 0 -4.0 0zM108.2 45.9a2.4 2.4 0 1 0 4.9 0a2.4 2.4 0 1 0 -4.9 0zM25.9 88.9a2.3 2.3 0 1 0 4.6 0a2.3 2.3 0 1 0 -4.6 0zM122.8 24.2a1.3 1.3 0 1 0 2.6 0a1.3 1.3 0 1 0 -2.6 0zM74.6 21.3a0.9 0.9 0 1 0 1.8 0a0.9 0.9 0 1 0 -1.8 0zM60.1 56.6a2.1 2.1 0 1 0 4.3 0a2.1 2.1 0 1 0 -4.3 0zM135.7 51.9a2.2 2.2 0 1 0 4.4 0a2.2 2.2 0 1 0 -4.4 0zM97.7 26.9a2.1 2.1 0 1 0 4.3 0a2.1 2.1 0 1 0 -4.3 0zM31.3 54.0a2.3 2.3 0 1 0 4.6 0a2.3 2.3 0 1 0 -4.6 0zM13.1 17.6a2.4 2.4 0 1 0 4.7 0a2.4 2.4 0 1 0 -4.7 0zM20.9 23.9a1.7 1.7 0 1 0 3.4 0a1.7 1.7 0 1 0 -3.4 0zM12.8 80.7a1.0 1.0 0 1 0 2.1 0a1.0 1.0 0 1 0 -2.1 0zM100.6 87.7a1.8 1.8 0 1 0 3.7 0a1.8 1.8 0 1 0 -3.7 0zM21.0 92.9a2.1 2.1 0 1 0 4.3 0a2.1 2.1 0 1 0 -4.3 0zM10.4 14.9a1.3 1.3 0 1 0 2.7 0a1.3 1.3 0 1 0 -2.7 0zM69.8 40.8a1.3 1.3 0 1 0 2.6 0a1.3 1.3 0 1 0 -2.6 0zM142.5 10.2a1.0 1.0 0 1 0 2.0 0a1.0 1.0 0 1 0 -2.0 0zM11.4 99.2a1.9 1.9 0 1 0 3.7 0a1.9 1.9 0 1 0 -3.7 0zM144.0 86.7a0.8 0.8 0 1 0 1.7 0a0.8 0.8 0 1 0 -1.7 0zM6.9 94.9a1.2 1.2 0 1 0 2.4 0a1.2 1.2 0 1 0 -2.4 0zM76.6 96.7a1.5 1.5 0 1 0 3.1 0a1.5 1.5 0 1 0 -3.1 0zM49.8 91.3a2.4 2.4 0 1 0 4.7 0a2.4 2.4 0 1 0 -4.7 0zM63.1 80.9a2.3 2.3 0 1 0 4.5 0a2.3 2.3 0 1 0 -4.5 0zM6.4 89.9a1.1 1.1 0 1 0 2.1 0a1.1 1.1 0 1 0 -2.1 0zM125.8 78.6a1.1 1.1 0 1 0 2.2 0a1.1 1.1 0 1 0 -2.2 0zM36.4 77.9a0.8 0.8 0 1 0 1.7 0a0.8 0.8 0 1 0 -1.7 0zM-2.8 17.4a2.0 2.0 0 1 0 4.1 0a2.0 2.0 0 1 0 -4.1 0zM53.0 87.6a2.4 2.4 0 1 0 4.8 0a2.4 2.4 0 1 0 -4.8 0zM130.0 79.5a1.2 1.2 0 1 0 2.5 0a1.2 1.2 0 1 0 -2.5 0zM83.4 29.0a1.5 1.5 0 1 0 2.9 0a1.5 1.5 0 1 0 -2.9 0zM74.5 13.9a2.5 2.5 0 1 0 4.9 0a2.5 2.5 0 1 0 -4.9 0zM3.9 49.5a2.6 2.6 0 1 0 5.1 0a2.6 2.6 0 1 0 -5.1 0zM122.1 91.1a1.0 1.0 0 1 0 2.1 0a1.0 1.0 0 1 0 -2.1 0zM77.4 96.4a1.6 1.6 0 1 0 3.3 0a1.6 1.6 0 1 0 -3.3 0zM52.3 39.7a1.7 1.7 0 1 0 3.3 0a1.7 1.7 0 1 0 -3.3 0zM57.7 20.2a1.5 1.5 0 1 0 2.9 0a1.5 1.5 0 1 0 -2.9 0z"/></g></g></svg>
<svg x="370" y="1645.7" width="146" height="98.1" viewBox="0 0 146 97" preserveAspectRatio="none"><g filter="url(#fretA)"><rect x="-20" y="-20" width="190" height="140" fill="#4c4c4c"/><g transform="rotate(-6 73 48) translate(-6 0)"><rect x="-40" y="8" width="240" height="52" rx="0" fill="#9e9e9e"/><rect x="-40" y="58" width="240" height="17" rx="0" fill="#6b6b6b"/><rect x="-40" y="75" width="240" height="28" rx="0" fill="#9e9e9e"/></g></g><g filter="url(#fretB)"><g transform="rotate(-6 73 48) translate(-6 0)"><rect x="4" y="22" width="50" height="12" rx="5" fill="#282828"/><rect x="61" y="18" width="29" height="11" rx="5" fill="#282828"/><rect x="100" y="16" width="18" height="9" rx="5" fill="#282828"/><rect x="125" y="11" width="22" height="12" rx="5" fill="#282828"/><rect x="6" y="42" width="14" height="12" rx="5" fill="#282828"/><rect x="47" y="40" width="29" height="14" rx="5" fill="#282828"/><rect x="90" y="36" width="20" height="13" rx="5" fill="#282828"/><rect x="142" y="32" width="16" height="12" rx="5" fill="#282828"/><rect x="20" y="82" width="26" height="13" rx="5" fill="#282828"/><rect x="65" y="75" width="26" height="11" rx="5" fill="#282828"/><rect x="109" y="74" width="14" height="12" rx="5" fill="#282828"/><rect x="132" y="68" width="16" height="11" rx="5" fill="#282828"/></g></g><path d="M0 0H146V0L0 18Z" fill="#2f58a8"/><path d="M146 97H110L146 80Z" fill="#2f58a8"/></svg>
<svg x="370" y="1753.8" width="146" height="96.8" viewBox="0 0 146 97" preserveAspectRatio="none"><g filter="url(#grn)"><rect x="-20" y="-20" width="190" height="140" fill="#070707"/><g transform="rotate(-2 73 48)"><rect x="-30" y="3" width="220" height="28" rx="0" fill="#424242"/><rect x="60" y="3" width="92" height="28" rx="3" fill="#a8a8a8"/><rect x="8" y="8" width="22" height="16" rx="6" fill="#0c0c0c"/><rect x="36" y="10" width="18" height="14" rx="6" fill="#0c0c0c"/><rect x="70" y="6" width="26" height="19" rx="6" fill="#0c0c0c"/><rect x="100" y="8" width="12" height="19" rx="6" fill="#0c0c0c"/><rect x="118" y="8" width="12" height="18" rx="6" fill="#0c0c0c"/><rect x="134" y="7" width="10" height="18" rx="6" fill="#0c0c0c"/><rect x="-30" y="31" width="220" height="33" rx="0" fill="#0c0c0c"/><rect x="-30" y="29.5" width="220" height="2.5" rx="0" fill="#5b5b5b"/><rect x="-30" y="63" width="220" height="2.5" rx="0" fill="#5b5b5b"/><rect x="22" y="31" width="1.6" height="33" rx="0" fill="#5b5b5b"/><rect x="56" y="31" width="1.6" height="33" rx="0" fill="#5b5b5b"/><rect x="90" y="31" width="1.6" height="33" rx="0" fill="#5b5b5b"/><rect x="124" y="31" width="1.6" height="33" rx="0" fill="#5b5b5b"/><rect x="-30" y="65" width="220" height="40" rx="0" fill="#161616"/><rect x="14" y="65" width="2.4" height="35" rx="0" fill="#6b6b6b"/><rect x="58" y="65" width="2.4" height="35" rx="0" fill="#6b6b6b"/><rect x="94" y="65" width="2.4" height="35" rx="0" fill="#6b6b6b"/><rect x="126" y="65" width="2.4" height="35" rx="0" fill="#6b6b6b"/><circle cx="40" cy="88" r="6" fill="#8c8c8c"/><circle cx="80" cy="86" r="7" fill="#8c8c8c"/><circle cx="112" cy="82" r="5" fill="#8c8c8c"/></g></g></svg>
<svg x="370" y="1855" width="146" height="97.6" viewBox="0 0 146 97" preserveAspectRatio="none"><g><rect x="-20" y="-20" width="190" height="140" fill="#2f58a8"/></g><g filter="url(#fretM)" transform="rotate(-2 73 48)"><rect x="-30" y="4" width="220" height="27" rx="0" fill="#333333"/><rect x="-30" y="29" width="220" height="3.5" rx="0" fill="#3f3f3f"/><rect x="-30" y="62" width="220" height="3.5" rx="0" fill="#3f3f3f"/><rect x="20" y="31" width="3" height="33" rx="0" fill="#333333"/><rect x="55" y="31" width="3" height="33" rx="0" fill="#333333"/><rect x="90" y="31" width="3" height="33" rx="0" fill="#333333"/><rect x="124" y="31" width="3" height="33" rx="0" fill="#333333"/><rect x="14" y="65" width="3.5" height="35" rx="0" fill="#3f3f3f"/><rect x="58" y="65" width="3.5" height="35" rx="0" fill="#3f3f3f"/><rect x="94" y="65" width="3.5" height="35" rx="0" fill="#3f3f3f"/><rect x="126" y="65" width="3.5" height="35" rx="0" fill="#3f3f3f"/><rect x="18" y="70" width="36" height="26" rx="4" fill="#2d2d2d"/><rect x="62" y="68" width="28" height="28" rx="4" fill="#2d2d2d"/><rect x="98" y="70" width="24" height="26" rx="4" fill="#2d2d2d"/><rect x="130" y="68" width="16" height="28" rx="4" fill="#2d2d2d"/></g><g filter="url(#fretB)" transform="rotate(-2 73 48)"><rect x="10" y="10" width="18" height="12" rx="5" fill="#2b2b2b"/><rect x="38" y="12" width="14" height="10" rx="5" fill="#2b2b2b"/><rect x="72" y="8" width="22" height="15" rx="5" fill="#2b2b2b"/><rect x="102" y="10" width="8" height="15" rx="5" fill="#2b2b2b"/><rect x="120" y="10" width="8" height="14" rx="5" fill="#2b2b2b"/><rect x="136" y="9" width="6" height="14" rx="5" fill="#2b2b2b"/></g><path d="M0 0H146V0L0 6Z" fill="#2f58a8"/></svg>
<rect x="70.6" y="1551.6" width="138.5" height="4.8" fill="#fff"/>
<rect x="152.9" y="1965" width="276.1" height="14.4" fill="url(#cbh)"/>
<text x="180.2" y="2003.7" font-size="25" text-anchor="middle" font-weight="normal" fill="#000" >0.2</text>
<text x="292" y="2003.7" font-size="25" text-anchor="middle" font-weight="normal" fill="#000" >FRET ratio</text>
<text x="403.1" y="2003.7" font-size="25" text-anchor="middle" font-weight="normal" fill="#000" >3.5</text>
<text x="556" y="335" font-size="33" text-anchor="start" font-weight="bold" fill="#000" stroke="#000" stroke-width="1.5">d</text>
<line x1="634" y1="336" x2="634" y2="630.7" stroke="#000" stroke-width="2.4" />
<line x1="632.8" y1="629.5" x2="1044.7" y2="629.5" stroke="#000" stroke-width="2.4" />
<line x1="630.2" y1="616.9" x2="634" y2="616.9" stroke="#000" stroke-width="2.4" />
<text x="622.5" y="626.6" font-size="25" text-anchor="end" font-weight="normal" fill="#000" >0.4</text>
<line x1="630.2" y1="582.8" x2="634" y2="582.8" stroke="#000" stroke-width="2.4" />
<text x="622.5" y="592.5" font-size="25" text-anchor="end" font-weight="normal" fill="#000" >0.6</text>
<line x1="630.2" y1="548.7" x2="634" y2="548.7" stroke="#000" stroke-width="2.4" />
<text x="622.5" y="558.4" font-size="25" text-anchor="end" font-weight="normal" fill="#000" >0.8</text>
<line x1="630.2" y1="514.6" x2="634" y2="514.6" stroke="#000" stroke-width="2.4" />
<text x="622.5" y="524.3" font-size="25" text-anchor="end" font-weight="normal" fill="#000" >1.0</text>
<line x1="630.2" y1="480.5" x2="634" y2="480.5" stroke="#000" stroke-width="2.4" />
<text x="622.5" y="490.2" font-size="25" text-anchor="end" font-weight="normal" fill="#000" >1.2</text>
<line x1="630.2" y1="446.4" x2="634" y2="446.4" stroke="#000" stroke-width="2.4" />
<text x="622.5" y="456.1" font-size="25" text-anchor="end" font-weight="normal" fill="#000" >1.4</text>
<line x1="630.2" y1="412.3" x2="634" y2="412.3" stroke="#000" stroke-width="2.4" />
<text x="622.5" y="422" font-size="25" text-anchor="end" font-weight="normal" fill="#000" >1.6</text>
<line x1="630.2" y1="378.2" x2="634" y2="378.2" stroke="#000" stroke-width="2.4" />
<text x="622.5" y="387.9" font-size="25" text-anchor="end" font-weight="normal" fill="#000" >1.8</text>
<line x1="630.2" y1="344.1" x2="634" y2="344.1" stroke="#000" stroke-width="2.4" />
<text x="622.5" y="353.8" font-size="25" text-anchor="end" font-weight="normal" fill="#000" >2.0</text>
<line x1="652.3" y1="629.5" x2="652.3" y2="633.5" stroke="#000" stroke-width="2.4" />
<text x="652.3" y="659" font-size="25" text-anchor="middle" font-weight="normal" fill="#000" >0</text>
<line x1="714.4" y1="629.5" x2="714.4" y2="633.5" stroke="#000" stroke-width="2.4" />
<text x="714.4" y="659" font-size="25" text-anchor="middle" font-weight="normal" fill="#000" >10</text>
<line x1="776.5" y1="629.5" x2="776.5" y2="633.5" stroke="#000" stroke-width="2.4" />
<text x="776.5" y="659" font-size="25" text-anchor="middle" font-weight="normal" fill="#000" >20</text>
<line x1="838.6" y1="629.5" x2="838.6" y2="633.5" stroke="#000" stroke-width="2.4" />
<text x="838.6" y="659" font-size="25" text-anchor="middle" font-weight="normal" fill="#000" >30</text>
<line x1="900.7" y1="629.5" x2="900.7" y2="633.5" stroke="#000" stroke-width="2.4" />
<text x="900.7" y="659" font-size="25" text-anchor="middle" font-weight="normal" fill="#000" >40</text>
<line x1="962.8" y1="629.5" x2="962.8" y2="633.5" stroke="#000" stroke-width="2.4" />
<text x="962.8" y="659" font-size="25" text-anchor="middle" font-weight="normal" fill="#000" >50</text>
<line x1="1024.9" y1="629.5" x2="1024.9" y2="633.5" stroke="#000" stroke-width="2.4" />
<text x="1024.9" y="659" font-size="25" text-anchor="middle" font-weight="normal" fill="#000" >60</text>
<text x="848.6" y="693.8" font-size="25" text-anchor="middle" font-weight="normal" fill="#000" >Time (min)</text>
<text x="576.5" y="479" font-size="25" text-anchor="middle" font-weight="normal" fill="#000" transform="rotate(-90 576.5 479)" >FRET ratio</text>
<polyline points="652.3,514.6 714.4,356.04 776.5,349.73 838.6,350.58 900.7,351.77 962.8,362 1024.9,367.63" fill="none" stroke="#e0c9e0" stroke-width="1.6" />
<polyline points="652.3,514.6 714.4,390.13 776.5,393.55 838.6,384.17 900.7,385.7 962.8,394.06 1024.9,400.88" fill="none" stroke="#e0c9e0" stroke-width="1.6" />
<polyline points="652.3,514.6 714.4,412.3 776.5,397.3 838.6,396.44 900.7,404.29 962.8,414.69 1024.9,420.83" fill="none" stroke="#e0c9e0" stroke-width="1.6" />
<polyline points="652.3,514.6 714.4,418.27 776.5,402.07 838.6,408.55 900.7,401.22 962.8,402.24 1024.9,400.88" fill="none" stroke="#e0c9e0" stroke-width="1.6" />
<polyline points="652.3,514.6 714.4,425.94 776.5,419.12 838.6,414.69 900.7,415.71 962.8,417.76 1024.9,425.94" fill="none" stroke="#e0c9e0" stroke-width="1.6" />
<polyline points="652.3,514.6 714.4,432.76 776.5,422.53 838.6,419.12 900.7,420.83 962.8,424.24 1024.9,429.35" fill="none" stroke="#e0c9e0" stroke-width="1.6" />
<polyline points="652.3,514.6 714.4,445.38 776.5,435.32 838.6,435.32 900.7,443.67 962.8,440.43 1024.9,447.76" fill="none" stroke="#e0c9e0" stroke-width="1.6" />
<polyline points="652.3,514.6 714.4,460.04 776.5,454.93 838.6,447.76 900.7,447.76 962.8,444.7 1024.9,464.13" fill="none" stroke="#e0c9e0" stroke-width="1.6" />
<polyline points="652.3,514.6 714.4,434.47 776.5,435.32 838.6,449.81 900.7,466.35 962.8,478.8 1024.9,490.05" fill="none" stroke="#e0c9e0" stroke-width="1.6" />
<polyline points="652.3,514.6 714.4,471.98 776.5,474.53 838.6,474.53 900.7,476.58 962.8,477.6 1024.9,479.65" fill="none" stroke="#e0c9e0" stroke-width="1.6" />
<polyline points="652.3,514.6 714.4,514.6 776.5,471.98 838.6,481.86 900.7,489.03 962.8,503.35 1024.9,512.72" fill="none" stroke="#e0c9e0" stroke-width="1.6" />
<polyline points="652.3,514.6 714.4,420.83 776.5,415.71 838.6,412.3 900.7,425.94 962.8,432.76 1024.9,434.47" fill="none" stroke="#e0c9e0" stroke-width="1.6" />
<polyline points="652.3,514.6 714.4,484.59 776.5,472.49 838.6,467.37 900.7,466.35 962.8,462.26 1024.9,463.79" fill="none" stroke="#bfe7e8" stroke-width="1.6" stroke-dasharray="10 7"/>
<polyline points="652.3,514.6 714.4,506.07 776.5,504.37 838.6,492.95 900.7,496.19 962.8,557.23 1024.9,497.38" fill="none" stroke="#bfe7e8" stroke-width="1.6" stroke-dasharray="10 7"/>
<polyline points="652.3,514.6 714.4,511.19 776.5,509.49 838.6,504.37 900.7,507.78 962.8,511.7 1024.9,518.01" fill="none" stroke="#bfe7e8" stroke-width="1.6" stroke-dasharray="10 7"/>
<polyline points="652.3,514.6 714.4,514.6 776.5,514.6 838.6,512.72 900.7,512.72 962.8,513.75 1024.9,516.99" fill="none" stroke="#bfe7e8" stroke-width="1.6" stroke-dasharray="10 7"/>
<polyline points="652.3,514.6 714.4,519.72 776.5,521.42 838.6,523.12 900.7,528.24 962.8,540.18 1024.9,548.7" fill="none" stroke="#bfe7e8" stroke-width="1.6" stroke-dasharray="10 7"/>
<polyline points="652.3,514.6 714.4,540.86 776.5,548.7 838.6,540.52 900.7,552.96 962.8,596.44 1024.9,598.49" fill="none" stroke="#bfe7e8" stroke-width="1.6" stroke-dasharray="10 7"/>
<polyline points="652.3,514.6 714.4,521.42 776.5,523.12 838.6,567.46 900.7,592.18 962.8,594.39 1024.9,575.98" fill="none" stroke="#bfe7e8" stroke-width="1.6" stroke-dasharray="10 7"/>
<polyline points="652.3,514.6 714.4,526.53 776.5,531.65 838.6,577.86 900.7,604.62 962.8,590.3 1024.9,615.2" fill="none" stroke="#bfe7e8" stroke-width="1.6" stroke-dasharray="10 7"/>
<polyline points="652.3,514.6 714.4,516.31 776.5,523.12 838.6,548.7 900.7,565.75 962.8,582.8 1024.9,589.62" fill="none" stroke="#bfe7e8" stroke-width="1.6" stroke-dasharray="10 7"/>
<polyline points="652.3,514.6 714.4,511.19 776.5,518.01 838.6,523.12 900.7,531.65 962.8,579.39 1024.9,608.38" fill="none" stroke="#bfe7e8" stroke-width="1.6" stroke-dasharray="10 7"/>
<polyline points="652.3,514.6 714.4,516.31 776.5,517.67 838.6,529.95 900.7,542.22 962.8,558.76 1024.9,556.03" fill="none" stroke="#2bb3b5" stroke-width="4.6" stroke-dasharray="31 13"/>
<polyline points="652.3,514.6 714.4,429.86 776.5,422.36 838.6,421.34 900.7,426.62 962.8,432.25 1024.9,440.43" fill="none" stroke="#8e3a8e" stroke-width="4.6" stroke-linejoin="round"/>
<line x1="714.4" y1="419.29" x2="714.4" y2="440.43" stroke="#8e3a8e" stroke-width="2.4" />
<line x1="709.9" y1="419.29" x2="718.9" y2="419.29" stroke="#8e3a8e" stroke-width="2.4" />
<line x1="709.9" y1="440.43" x2="718.9" y2="440.43" stroke="#8e3a8e" stroke-width="2.4" />
<line x1="714.4" y1="511.19" x2="714.4" y2="521.42" stroke="#2bb3b5" stroke-width="2.4" />
<line x1="709.9" y1="511.19" x2="718.9" y2="511.19" stroke="#2bb3b5" stroke-width="2.4" />
<line x1="709.9" y1="521.42" x2="718.9" y2="521.42" stroke="#2bb3b5" stroke-width="2.4" />
<line x1="776.5" y1="412.47" x2="776.5" y2="432.25" stroke="#8e3a8e" stroke-width="2.4" />
<line x1="772" y1="412.47" x2="781" y2="412.47" stroke="#8e3a8e" stroke-width="2.4" />
<line x1="772" y1="432.25" x2="781" y2="432.25" stroke="#8e3a8e" stroke-width="2.4" />
<line x1="776.5" y1="511.36" x2="776.5" y2="523.98" stroke="#2bb3b5" stroke-width="2.4" />
<line x1="772" y1="511.36" x2="781" y2="511.36" stroke="#2bb3b5" stroke-width="2.4" />
<line x1="772" y1="523.98" x2="781" y2="523.98" stroke="#2bb3b5" stroke-width="2.4" />
<line x1="838.6" y1="410.77" x2="838.6" y2="431.91" stroke="#8e3a8e" stroke-width="2.4" />
<line x1="834.1" y1="410.77" x2="843.1" y2="410.77" stroke="#8e3a8e" stroke-width="2.4" />
<line x1="834.1" y1="431.91" x2="843.1" y2="431.91" stroke="#8e3a8e" stroke-width="2.4" />
<line x1="838.6" y1="518.69" x2="838.6" y2="541.2" stroke="#2bb3b5" stroke-width="2.4" />
<line x1="834.1" y1="518.69" x2="843.1" y2="518.69" stroke="#2bb3b5" stroke-width="2.4" />
<line x1="834.1" y1="541.2" x2="843.1" y2="541.2" stroke="#2bb3b5" stroke-width="2.4" />
<line x1="900.7" y1="415.54" x2="900.7" y2="437.7" stroke="#8e3a8e" stroke-width="2.4" />
<line x1="896.2" y1="415.54" x2="905.2" y2="415.54" stroke="#8e3a8e" stroke-width="2.4" />
<line x1="896.2" y1="437.7" x2="905.2" y2="437.7" stroke="#8e3a8e" stroke-width="2.4" />
<line x1="900.7" y1="528.07" x2="900.7" y2="556.37" stroke="#2bb3b5" stroke-width="2.4" />
<line x1="896.2" y1="528.07" x2="905.2" y2="528.07" stroke="#2bb3b5" stroke-width="2.4" />
<line x1="896.2" y1="556.37" x2="905.2" y2="556.37" stroke="#2bb3b5" stroke-width="2.4" />
<line x1="962.8" y1="421.34" x2="962.8" y2="443.16" stroke="#8e3a8e" stroke-width="2.4" />
<line x1="958.3" y1="421.34" x2="967.3" y2="421.34" stroke="#8e3a8e" stroke-width="2.4" />
<line x1="958.3" y1="443.16" x2="967.3" y2="443.16" stroke="#8e3a8e" stroke-width="2.4" />
<line x1="962.8" y1="543.76" x2="962.8" y2="573.76" stroke="#2bb3b5" stroke-width="2.4" />
<line x1="958.3" y1="543.76" x2="967.3" y2="543.76" stroke="#2bb3b5" stroke-width="2.4" />
<line x1="958.3" y1="573.76" x2="967.3" y2="573.76" stroke="#2bb3b5" stroke-width="2.4" />
<line x1="1024.9" y1="429.35" x2="1024.9" y2="451.51" stroke="#8e3a8e" stroke-width="2.4" />
<line x1="1020.4" y1="429.35" x2="1029.4" y2="429.35" stroke="#8e3a8e" stroke-width="2.4" />
<line x1="1020.4" y1="451.51" x2="1029.4" y2="451.51" stroke="#8e3a8e" stroke-width="2.4" />
<line x1="1024.9" y1="539.49" x2="1024.9" y2="572.57" stroke="#2bb3b5" stroke-width="2.4" />
<line x1="1020.4" y1="539.49" x2="1029.4" y2="539.49" stroke="#2bb3b5" stroke-width="2.4" />
<line x1="1020.4" y1="572.57" x2="1029.4" y2="572.57" stroke="#2bb3b5" stroke-width="2.4" />
<line x1="649" y1="575.3" x2="704.2" y2="575.3" stroke="#8e3a8e" stroke-width="4.4" />
<line x1="649" y1="604.6" x2="704.2" y2="604.6" stroke="#2bb3b5" stroke-width="4.4" stroke-dasharray="20 16"/>
<text x="715.3" y="582" font-size="25" text-anchor="start" font-weight="normal" fill="#000" >IAA</text>
<text x="715.3" y="611" font-size="25" text-anchor="start" font-weight="normal" fill="#000" >DMSO</text>
<text x="556" y="731" font-size="33" text-anchor="start" font-weight="bold" fill="#000" stroke="#000" stroke-width="1.5">f</text>
<line x1="633.6" y1="719" x2="633.6" y2="1014.7" stroke="#000" stroke-width="2.4" />
<line x1="632.4" y1="1013.5" x2="1044.7" y2="1013.5" stroke="#000" stroke-width="2.4" />
<line x1="629.8" y1="1000.8" x2="633.6" y2="1000.8" stroke="#000" stroke-width="2.4" />
<text x="621.6" y="1009.3" font-size="23.5" text-anchor="end" font-weight="normal" fill="#000" >1.0</text>
<line x1="629.8" y1="955.2" x2="633.6" y2="955.2" stroke="#000" stroke-width="2.4" />
<text x="621.6" y="963.7" font-size="23.5" text-anchor="end" font-weight="normal" fill="#000" >1.1</text>
<line x1="629.8" y1="909.6" x2="633.6" y2="909.6" stroke="#000" stroke-width="2.4" />
<text x="621.6" y="918.1" font-size="23.5" text-anchor="end" font-weight="normal" fill="#000" >1.2</text>
<line x1="629.8" y1="864" x2="633.6" y2="864" stroke="#000" stroke-width="2.4" />
<text x="621.6" y="872.5" font-size="23.5" text-anchor="end" font-weight="normal" fill="#000" >1.3</text>
<line x1="629.8" y1="818.4" x2="633.6" y2="818.4" stroke="#000" stroke-width="2.4" />
<text x="621.6" y="826.9" font-size="23.5" text-anchor="end" font-weight="normal" fill="#000" >1.4</text>
<line x1="629.8" y1="772.8" x2="633.6" y2="772.8" stroke="#000" stroke-width="2.4" />
<text x="621.6" y="781.3" font-size="23.5" text-anchor="end" font-weight="normal" fill="#000" >1.5</text>
<line x1="629.8" y1="727.2" x2="633.6" y2="727.2" stroke="#000" stroke-width="2.4" />
<text x="621.6" y="735.7" font-size="23.5" text-anchor="end" font-weight="normal" fill="#000" >1.6</text>
<line x1="651.9" y1="1013.5" x2="651.9" y2="1017.5" stroke="#000" stroke-width="2.4" />
<text x="651.9" y="1041" font-size="25" text-anchor="middle" font-weight="normal" fill="#000" >0</text>
<line x1="713.5" y1="1013.5" x2="713.5" y2="1017.5" stroke="#000" stroke-width="2.4" />
<text x="713.5" y="1041" font-size="25" text-anchor="middle" font-weight="normal" fill="#000" >1</text>
<line x1="776.4" y1="1013.5" x2="776.4" y2="1017.5" stroke="#000" stroke-width="2.4" />
<text x="776.4" y="1041" font-size="25" text-anchor="middle" font-weight="normal" fill="#000" >2</text>
<line x1="838" y1="1013.5" x2="838" y2="1017.5" stroke="#000" stroke-width="2.4" />
<text x="838" y="1041" font-size="25" text-anchor="middle" font-weight="normal" fill="#000" >4</text>
<line x1="900.5" y1="1013.5" x2="900.5" y2="1017.5" stroke="#000" stroke-width="2.4" />
<text x="900.5" y="1041" font-size="25" text-anchor="middle" font-weight="normal" fill="#000" >6</text>
<line x1="962.1" y1="1013.5" x2="962.1" y2="1017.5" stroke="#000" stroke-width="2.4" />
<text x="962.1" y="1041" font-size="25" text-anchor="middle" font-weight="normal" fill="#000" >8</text>
<line x1="1024.6" y1="1013.5" x2="1024.6" y2="1017.5" stroke="#000" stroke-width="2.4" />
<text x="1024.6" y="1041" font-size="25" text-anchor="middle" font-weight="normal" fill="#000" >10</text>
<text x="847" y="1075" font-size="25" text-anchor="middle" font-weight="normal" fill="#000" >Time (min)</text>
<text x="576" y="862" font-size="25" text-anchor="middle" font-weight="normal" fill="#000" transform="rotate(-90 576 862)" >FRET ratio</text>
<polyline points="651.9,1000.8 713.5,749.78 776.4,733.87 838,752.96 900.5,758.53 962.1,759.72 1024.6,758.53" fill="none" stroke="#e0c9e0" stroke-width="1.6" />
<polyline points="651.9,1000.8 713.5,768.87 776.4,737.84 838,761.71 900.5,785.58 962.1,746.6 1024.6,762.51" fill="none" stroke="#e0c9e0" stroke-width="1.6" />
<polyline points="651.9,1000.8 713.5,767.68 776.4,733.87 838,775.63 900.5,795.52 962.1,789.55 1024.6,772.85" fill="none" stroke="#e0c9e0" stroke-width="1.6" />
<polyline points="651.9,1000.8 713.5,812.63 776.4,804.67 838,823.37 900.5,797.51 962.1,787.57 1024.6,776.83" fill="none" stroke="#e0c9e0" stroke-width="1.6" />
<polyline points="651.9,1000.8 713.5,825.35 776.4,838.08 838,847.23 900.5,825.35 962.1,812.63 1024.6,831.32" fill="none" stroke="#e0c9e0" stroke-width="1.6" />
<polyline points="651.9,1000.8 713.5,847.23 776.4,841.26 838,851.21 900.5,839.28 962.1,830.13 1024.6,823.37" fill="none" stroke="#e0c9e0" stroke-width="1.6" />
<polyline points="651.9,1000.8 713.5,859.16 776.4,859.16 838,841.26 900.5,847.23 962.1,837.29 1024.6,836.49" fill="none" stroke="#e0c9e0" stroke-width="1.6" />
<polyline points="651.9,1000.8 713.5,869.11 776.4,841.26 838,861.95 900.5,846.04 962.1,836.49 1024.6,836.49" fill="none" stroke="#e0c9e0" stroke-width="1.6" />
<polyline points="651.9,1000.8 713.5,892.98 776.4,856.38 838,873.88 900.5,859.16 962.1,847.23 1024.6,851.21" fill="none" stroke="#e0c9e0" stroke-width="1.6" />
<polyline points="651.9,1000.8 713.5,831.32 776.4,843.25 838,853.2 900.5,857.18 962.1,843.25 1024.6,849.22" fill="none" stroke="#e0c9e0" stroke-width="1.6" />
<polyline points="651.9,1000.8 713.5,822.5 776.4,806.54 838,822.5 900.5,817.94 962.1,806.54 1024.6,806.54" fill="none" stroke="#8e3a8e" stroke-width="4.6" stroke-linejoin="round"/>
<line x1="713.5" y1="805.63" x2="713.5" y2="839.38" stroke="#8e3a8e" stroke-width="2.4" />
<line x1="709" y1="805.63" x2="718" y2="805.63" stroke="#8e3a8e" stroke-width="2.4" />
<line x1="709" y1="839.38" x2="718" y2="839.38" stroke="#8e3a8e" stroke-width="2.4" />
<line x1="776.4" y1="788.3" x2="776.4" y2="824.78" stroke="#8e3a8e" stroke-width="2.4" />
<line x1="771.9" y1="788.3" x2="780.9" y2="788.3" stroke="#8e3a8e" stroke-width="2.4" />
<line x1="771.9" y1="824.78" x2="780.9" y2="824.78" stroke="#8e3a8e" stroke-width="2.4" />
<line x1="838" y1="806.54" x2="838" y2="838.46" stroke="#8e3a8e" stroke-width="2.4" />
<line x1="833.5" y1="806.54" x2="842.5" y2="806.54" stroke="#8e3a8e" stroke-width="2.4" />
<line x1="833.5" y1="838.46" x2="842.5" y2="838.46" stroke="#8e3a8e" stroke-width="2.4" />
<line x1="900.5" y1="806.54" x2="900.5" y2="829.34" stroke="#8e3a8e" stroke-width="2.4" />
<line x1="896" y1="806.54" x2="905" y2="806.54" stroke="#8e3a8e" stroke-width="2.4" />
<line x1="896" y1="829.34" x2="905" y2="829.34" stroke="#8e3a8e" stroke-width="2.4" />
<line x1="962.1" y1="794.69" x2="962.1" y2="818.4" stroke="#8e3a8e" stroke-width="2.4" />
<line x1="957.6" y1="794.69" x2="966.6" y2="794.69" stroke="#8e3a8e" stroke-width="2.4" />
<line x1="957.6" y1="818.4" x2="966.6" y2="818.4" stroke="#8e3a8e" stroke-width="2.4" />
<line x1="1024.6" y1="794.23" x2="1024.6" y2="818.86" stroke="#8e3a8e" stroke-width="2.4" />
<line x1="1020.1" y1="794.23" x2="1029.1" y2="794.23" stroke="#8e3a8e" stroke-width="2.4" />
<line x1="1020.1" y1="818.86" x2="1029.1" y2="818.86" stroke="#8e3a8e" stroke-width="2.4" />
<text x="556" y="1089" font-size="33" text-anchor="start" font-weight="bold" fill="#000" stroke="#000" stroke-width="1.5">h</text>
<line x1="632.5" y1="1086.2" x2="632.5" y2="1380.9" stroke="#000" stroke-width="2.4" />
<line x1="631.3" y1="1379.7" x2="1046" y2="1379.7" stroke="#000" stroke-width="2.4" />
<line x1="627.5" y1="1364.1" x2="632.5" y2="1364.1" stroke="#000" stroke-width="2.4" />
<text x="622" y="1372.1" font-size="23.5" text-anchor="end" font-weight="normal" fill="#000" >0.9</text>
<line x1="627.5" y1="1321.1" x2="632.5" y2="1321.1" stroke="#000" stroke-width="2.4" />
<text x="622" y="1329.1" font-size="23.5" text-anchor="end" font-weight="normal" fill="#000" >1.0</text>
<line x1="627.5" y1="1278.1" x2="632.5" y2="1278.1" stroke="#000" stroke-width="2.4" />
<text x="622" y="1286.1" font-size="23.5" text-anchor="end" font-weight="normal" fill="#000" >1.1</text>
<line x1="627.5" y1="1235.1" x2="632.5" y2="1235.1" stroke="#000" stroke-width="2.4" />
<text x="622" y="1243.1" font-size="23.5" text-anchor="end" font-weight="normal" fill="#000" >1.2</text>
<line x1="627.5" y1="1192.1" x2="632.5" y2="1192.1" stroke="#000" stroke-width="2.4" />
<text x="622" y="1200.1" font-size="23.5" text-anchor="end" font-weight="normal" fill="#000" >1.3</text>
<line x1="627.5" y1="1149.1" x2="632.5" y2="1149.1" stroke="#000" stroke-width="2.4" />
<text x="622" y="1157.1" font-size="23.5" text-anchor="end" font-weight="normal" fill="#000" >1.4</text>
<line x1="627.5" y1="1106.1" x2="632.5" y2="1106.1" stroke="#000" stroke-width="2.4" />
<text x="622" y="1114.1" font-size="23.5" text-anchor="end" font-weight="normal" fill="#000" >1.5</text>
<line x1="650.9" y1="1379.7" x2="650.9" y2="1384.7" stroke="#000" stroke-width="2.4" />
<line x1="704.8" y1="1379.7" x2="704.8" y2="1384.7" stroke="#000" stroke-width="2.4" />
<line x1="759" y1="1379.7" x2="759" y2="1384.7" stroke="#000" stroke-width="2.4" />
<line x1="812" y1="1379.7" x2="812" y2="1384.7" stroke="#000" stroke-width="2.4" />
<line x1="865.4" y1="1379.7" x2="865.4" y2="1384.7" stroke="#000" stroke-width="2.4" />
<line x1="919.9" y1="1379.7" x2="919.9" y2="1384.7" stroke="#000" stroke-width="2.4" />
<line x1="973.3" y1="1379.7" x2="973.3" y2="1384.7" stroke="#000" stroke-width="2.4" />
<line x1="1026.2" y1="1379.7" x2="1026.2" y2="1384.7" stroke="#000" stroke-width="2.4" />
<text x="759" y="1408" font-size="25" text-anchor="middle" font-weight="normal" fill="#000" >5</text>
<text x="812" y="1408" font-size="25" text-anchor="middle" font-weight="normal" fill="#000" >10</text>
<text x="865.4" y="1408" font-size="25" text-anchor="middle" font-weight="normal" fill="#000" >15</text>
<text x="919.9" y="1408" font-size="25" text-anchor="middle" font-weight="normal" fill="#000" >20</text>
<text x="973.3" y="1408" font-size="25" text-anchor="middle" font-weight="normal" fill="#000" >25</text>
<text x="1026.2" y="1408" font-size="25" text-anchor="middle" font-weight="normal" fill="#000" >30</text>
<text x="664" y="1394" font-size="25" text-anchor="end" font-weight="normal" fill="#000" transform="rotate(-45 664 1394)" >Before</text>
<text x="708" y="1398" font-size="25" text-anchor="end" font-weight="normal" fill="#000" transform="rotate(-45 708 1398)" >After</text>
<text x="851" y="1444" font-size="25" text-anchor="middle" font-weight="normal" fill="#000" >Time (min)</text>
<text x="576" y="1233" font-size="25" text-anchor="middle" font-weight="normal" fill="#000" transform="rotate(-90 576 1233)" >FRET ratio</text>
<polyline points="636,1451.1 730.4,1451.1 730.4,1481.4" fill="none" stroke="#000" stroke-width="2" />
<line x1="636" y1="1450.1" x2="636" y2="1482.4" stroke="#000" stroke-width="2" />
<line x1="635" y1="1481.4" x2="1017" y2="1481.4" stroke="#000" stroke-width="2" />
<line x1="730.4" y1="1451.1" x2="1017" y2="1481.4" stroke="#000" stroke-width="2" />
<text x="680" y="1477.7" font-size="21" text-anchor="middle" font-weight="normal" fill="#000" >Treat</text>
<text x="739" y="1477.7" font-size="21.5" text-anchor="start" font-weight="normal" fill="#000" >Washout</text>
<polyline points="650.9,1321.1 704.8,1098.79 759,1178.34 812,1198.98 865.4,1189.52 919.9,1186.94 973.3,1195.11 1026.2,1210.59" fill="none" stroke="#bfe7e8" stroke-width="1.7" stroke-dasharray="10 7"/>
<polyline points="650.9,1321.1 704.8,1196.4 759,1214.03 812,1220.91 865.4,1226.5 919.9,1237.25 973.3,1250.15 1026.2,1273.8" fill="none" stroke="#bfe7e8" stroke-width="1.7" stroke-dasharray="10 7"/>
<polyline points="650.9,1321.1 704.8,1209.3 759,1265.2 812,1281.11 865.4,1269.5 919.9,1270.36 973.3,1269.5 1026.2,1269.5" fill="none" stroke="#bfe7e8" stroke-width="1.7" stroke-dasharray="10 7"/>
<polyline points="650.9,1321.1 704.8,1201.99 759,1273.8 812,1275.09 865.4,1267.35 919.9,1273.8 973.3,1286.7 1026.2,1312.5" fill="none" stroke="#bfe7e8" stroke-width="1.7" stroke-dasharray="10 7"/>
<polyline points="650.9,1321.1 704.8,1206.72 759,1290.14 812,1296.16 865.4,1301.75 919.9,1314.65 973.3,1330.56 1026.2,1353.35" fill="none" stroke="#bfe7e8" stroke-width="1.7" stroke-dasharray="10 7"/>
<polyline points="650.9,1321.1 704.8,1262.19 759,1271.65 812,1323.25 865.4,1338.3 919.9,1338.3 973.3,1353.35 1026.2,1357.65" fill="none" stroke="#e0c9e0" stroke-width="1.7" />
<polyline points="650.9,1321.1 704.8,1267.35 759,1308.2 812,1338.3 865.4,1353.35 919.9,1361.95 973.3,1365.39 1026.2,1363.24" fill="none" stroke="#e0c9e0" stroke-width="1.7" />
<polyline points="650.9,1321.1 704.8,1261.76 759,1291 812,1329.7 865.4,1342.6 919.9,1351.2 973.3,1355.5 1026.2,1357.65" fill="none" stroke="#e0c9e0" stroke-width="1.7" />
<polyline points="650.9,1321.1 704.8,1179.2 759,1242.84 812,1255.31 865.4,1252.73 919.9,1260.9 973.3,1273.37 1026.2,1291.86" fill="none" stroke="#2bb3b5" stroke-width="2.6" stroke-dasharray="24 10"/>
<polyline points="650.9,1321.1 704.8,1263.91 759,1293.79 812,1332.28 865.4,1345.78 919.9,1352.49 973.3,1357.65 1026.2,1359.37" fill="none" stroke="#8e3a8e" stroke-width="2.6" stroke-linejoin="round"/>
<line x1="650.9" y1="1320.24" x2="650.9" y2="1321.96" stroke="#8e3a8e" stroke-width="2.2" />
<line x1="646.4" y1="1320.24" x2="655.4" y2="1320.24" stroke="#8e3a8e" stroke-width="2.2" />
<line x1="646.4" y1="1321.96" x2="655.4" y2="1321.96" stroke="#8e3a8e" stroke-width="2.2" />
<line x1="704.8" y1="1260.47" x2="704.8" y2="1267.35" stroke="#8e3a8e" stroke-width="2.2" />
<line x1="700.3" y1="1260.47" x2="709.3" y2="1260.47" stroke="#8e3a8e" stroke-width="2.2" />
<line x1="700.3" y1="1267.35" x2="709.3" y2="1267.35" stroke="#8e3a8e" stroke-width="2.2" />
<line x1="704.8" y1="1158.99" x2="704.8" y2="1199.41" stroke="#2bb3b5" stroke-width="2.2" />
<line x1="700.3" y1="1158.99" x2="709.3" y2="1158.99" stroke="#2bb3b5" stroke-width="2.2" />
<line x1="700.3" y1="1199.41" x2="709.3" y2="1199.41" stroke="#2bb3b5" stroke-width="2.2" />
<line x1="759" y1="1282.18" x2="759" y2="1305.4" stroke="#8e3a8e" stroke-width="2.2" />
<line x1="754.5" y1="1282.18" x2="763.5" y2="1282.18" stroke="#8e3a8e" stroke-width="2.2" />
<line x1="754.5" y1="1305.4" x2="763.5" y2="1305.4" stroke="#8e3a8e" stroke-width="2.2" />
<line x1="759" y1="1222.2" x2="759" y2="1263.48" stroke="#2bb3b5" stroke-width="2.2" />
<line x1="754.5" y1="1222.2" x2="763.5" y2="1222.2" stroke="#2bb3b5" stroke-width="2.2" />
<line x1="754.5" y1="1263.48" x2="763.5" y2="1263.48" stroke="#2bb3b5" stroke-width="2.2" />
<line x1="812" y1="1327.55" x2="812" y2="1337.01" stroke="#8e3a8e" stroke-width="2.2" />
<line x1="807.5" y1="1327.55" x2="816.5" y2="1327.55" stroke="#8e3a8e" stroke-width="2.2" />
<line x1="807.5" y1="1337.01" x2="816.5" y2="1337.01" stroke="#8e3a8e" stroke-width="2.2" />
<line x1="812" y1="1235.96" x2="812" y2="1274.66" stroke="#2bb3b5" stroke-width="2.2" />
<line x1="807.5" y1="1235.96" x2="816.5" y2="1235.96" stroke="#2bb3b5" stroke-width="2.2" />
<line x1="807.5" y1="1274.66" x2="816.5" y2="1274.66" stroke="#2bb3b5" stroke-width="2.2" />
<line x1="865.4" y1="1341.05" x2="865.4" y2="1350.51" stroke="#8e3a8e" stroke-width="2.2" />
<line x1="860.9" y1="1341.05" x2="869.9" y2="1341.05" stroke="#8e3a8e" stroke-width="2.2" />
<line x1="860.9" y1="1350.51" x2="869.9" y2="1350.51" stroke="#8e3a8e" stroke-width="2.2" />
<line x1="865.4" y1="1232.95" x2="865.4" y2="1272.51" stroke="#2bb3b5" stroke-width="2.2" />
<line x1="860.9" y1="1232.95" x2="869.9" y2="1232.95" stroke="#2bb3b5" stroke-width="2.2" />
<line x1="860.9" y1="1272.51" x2="869.9" y2="1272.51" stroke="#2bb3b5" stroke-width="2.2" />
<line x1="919.9" y1="1345.18" x2="919.9" y2="1359.8" stroke="#8e3a8e" stroke-width="2.2" />
<line x1="915.4" y1="1345.18" x2="924.4" y2="1345.18" stroke="#8e3a8e" stroke-width="2.2" />
<line x1="915.4" y1="1359.8" x2="924.4" y2="1359.8" stroke="#8e3a8e" stroke-width="2.2" />
<line x1="919.9" y1="1239.4" x2="919.9" y2="1282.4" stroke="#2bb3b5" stroke-width="2.2" />
<line x1="915.4" y1="1239.4" x2="924.4" y2="1239.4" stroke="#2bb3b5" stroke-width="2.2" />
<line x1="915.4" y1="1282.4" x2="924.4" y2="1282.4" stroke="#2bb3b5" stroke-width="2.2" />
<line x1="973.3" y1="1352.92" x2="973.3" y2="1362.38" stroke="#8e3a8e" stroke-width="2.2" />
<line x1="968.8" y1="1352.92" x2="977.8" y2="1352.92" stroke="#8e3a8e" stroke-width="2.2" />
<line x1="968.8" y1="1362.38" x2="977.8" y2="1362.38" stroke="#8e3a8e" stroke-width="2.2" />
<line x1="973.3" y1="1250.58" x2="973.3" y2="1296.16" stroke="#2bb3b5" stroke-width="2.2" />
<line x1="968.8" y1="1250.58" x2="977.8" y2="1250.58" stroke="#2bb3b5" stroke-width="2.2" />
<line x1="968.8" y1="1296.16" x2="977.8" y2="1296.16" stroke="#2bb3b5" stroke-width="2.2" />
<line x1="1026.2" y1="1356.79" x2="1026.2" y2="1361.95" stroke="#8e3a8e" stroke-width="2.2" />
<line x1="1021.7" y1="1356.79" x2="1030.7" y2="1356.79" stroke="#8e3a8e" stroke-width="2.2" />
<line x1="1021.7" y1="1361.95" x2="1030.7" y2="1361.95" stroke="#8e3a8e" stroke-width="2.2" />
<line x1="1026.2" y1="1267.78" x2="1026.2" y2="1315.94" stroke="#2bb3b5" stroke-width="2.2" />
<line x1="1021.7" y1="1267.78" x2="1030.7" y2="1267.78" stroke="#2bb3b5" stroke-width="2.2" />
<line x1="1021.7" y1="1315.94" x2="1030.7" y2="1315.94" stroke="#2bb3b5" stroke-width="2.2" />
<line x1="835.3" y1="1122.8" x2="890.5" y2="1122.8" stroke="#8e3a8e" stroke-width="4.5" />
<line x1="835.3" y1="1151.8" x2="890.5" y2="1151.8" stroke="#2bb3b5" stroke-width="4.5" stroke-dasharray="20 15"/>
<text x="910.5" y="1129.4" font-size="24" text-anchor="start" font-weight="normal" fill="#000" >1 h IAA</text>
<text x="910.5" y="1158.8" font-size="24" text-anchor="start" font-weight="normal" fill="#000" >10 min IAA</text>
<text x="553" y="1543.5" font-size="33" text-anchor="start" font-weight="bold" fill="#000" stroke="#000" stroke-width="1.5">j</text>
<line x1="632.6" y1="1526.4" x2="632.6" y2="1941" stroke="#000" stroke-width="2.4" />
<line x1="631.4" y1="1939.8" x2="1046" y2="1939.8" stroke="#000" stroke-width="2.4" />
<line x1="627.6" y1="1903.86" x2="632.6" y2="1903.86" stroke="#000" stroke-width="2.4" />
<text x="621.5" y="1912.36" font-size="24.5" text-anchor="end" font-weight="normal" fill="#000" >0.8</text>
<line x1="627.6" y1="1849.83" x2="632.6" y2="1849.83" stroke="#000" stroke-width="2.4" />
<text x="621.5" y="1858.33" font-size="24.5" text-anchor="end" font-weight="normal" fill="#000" >0.9</text>
<line x1="627.6" y1="1795.8" x2="632.6" y2="1795.8" stroke="#000" stroke-width="2.4" />
<text x="621.5" y="1804.3" font-size="24.5" text-anchor="end" font-weight="normal" fill="#000" >1.0</text>
<line x1="627.6" y1="1741.77" x2="632.6" y2="1741.77" stroke="#000" stroke-width="2.4" />
<text x="621.5" y="1750.27" font-size="24.5" text-anchor="end" font-weight="normal" fill="#000" >1.1</text>
<line x1="627.6" y1="1687.74" x2="632.6" y2="1687.74" stroke="#000" stroke-width="2.4" />
<text x="621.5" y="1696.24" font-size="24.5" text-anchor="end" font-weight="normal" fill="#000" >1.2</text>
<line x1="627.6" y1="1633.71" x2="632.6" y2="1633.71" stroke="#000" stroke-width="2.4" />
<text x="621.5" y="1642.21" font-size="24.5" text-anchor="end" font-weight="normal" fill="#000" >1.3</text>
<line x1="627.6" y1="1579.68" x2="632.6" y2="1579.68" stroke="#000" stroke-width="2.4" />
<text x="621.5" y="1588.18" font-size="24.5" text-anchor="end" font-weight="normal" fill="#000" >1.4</text>
<line x1="650.8" y1="1939.8" x2="650.8" y2="1944.8" stroke="#000" stroke-width="2.4" />
<text x="650.8" y="1968" font-size="25" text-anchor="middle" font-weight="normal" fill="#000" >0</text>
<line x1="838.3" y1="1939.8" x2="838.3" y2="1944.8" stroke="#000" stroke-width="2.4" />
<text x="838.3" y="1968" font-size="25" text-anchor="middle" font-weight="normal" fill="#000" >15</text>
<line x1="1026" y1="1939.8" x2="1026" y2="1944.8" stroke="#000" stroke-width="2.4" />
<text x="1026" y="1968" font-size="25" text-anchor="middle" font-weight="normal" fill="#000" >30</text>
<text x="843.8" y="2003" font-size="25" text-anchor="middle" font-weight="normal" fill="#000" >Time (min)</text>
<text x="573" y="1742" font-size="24.5" text-anchor="middle" font-weight="normal" fill="#000" transform="rotate(-90 573 1742)" >FRET ratio</text>
<polyline points="650.8,1869.28 838.3,1829.3 1026,1819.03" fill="none" stroke="#dcefe6" stroke-width="2" />
<polyline points="650.8,1874.14 838.3,1809.31 1026,1801.2" fill="none" stroke="#dcefe6" stroke-width="2" />
<polyline points="650.8,1828.22 838.3,1779.59 1026,1774.19" fill="none" stroke="#dcefe6" stroke-width="2" />
<polyline points="650.8,1809.31 838.3,1806.61 1026,1803.9" fill="none" stroke="#dcefe6" stroke-width="2" />
<polyline points="650.8,1822.82 838.3,1801.2 1026,1798.5" fill="none" stroke="#dcefe6" stroke-width="2" />
<polyline points="650.8,1779.59 838.3,1773.11 1026,1770.41" fill="none" stroke="#bfe6f5" stroke-width="2.5" stroke-dasharray="4 3"/>
<polyline points="650.8,1783.91 838.3,1779.59 1026,1776.89" fill="none" stroke="#bfe6f5" stroke-width="2.5" stroke-dasharray="4 3"/>
<polyline points="650.8,1806.61 838.3,1795.8 1026,1790.4" fill="none" stroke="#bfe6f5" stroke-width="2.5" stroke-dasharray="4 3"/>
<polyline points="650.8,1809.31 838.3,1801.2 1026,1795.8" fill="none" stroke="#bfe6f5" stroke-width="2.5" stroke-dasharray="4 3"/>
<polyline points="650.8,1790.4 838.3,1784.99 1026,1779.59" fill="none" stroke="#bfe6f5" stroke-width="2.5" stroke-dasharray="4 3"/>
<polyline points="650.8,1822.82 838.3,1646.68 1026,1696.38" fill="none" stroke="#f0c3dc" stroke-width="2" />
<polyline points="650.8,1908.72 838.3,1698.55 1026,1728.8" fill="none" stroke="#f0c3dc" stroke-width="2" />
<polyline points="650.8,1915.21 838.3,1706.65 1026,1736.37" fill="none" stroke="#f0c3dc" stroke-width="2" />
<polyline points="650.8,1923.85 838.3,1746.09 1026,1757.98" fill="none" stroke="#f0c3dc" stroke-width="2" />
<polyline points="650.8,1920.07 838.3,1764.46 1026,1792.02" fill="none" stroke="#f0c3dc" stroke-width="2" />
<polyline points="650.8,1903.86 838.3,1703.95 1026,1730.96" fill="none" stroke="#f0c3dc" stroke-width="2" />
<polyline points="650.8,1817.41 838.3,1583.46 1026,1546.72" fill="none" stroke="#e6cfe6" stroke-width="2" stroke-dasharray="12 8"/>
<polyline points="650.8,1820.11 838.3,1601.29 1026,1567.58" fill="none" stroke="#e6cfe6" stroke-width="2" stroke-dasharray="12 8"/>
<polyline points="650.8,1833.62 838.3,1616.96 1026,1588.32" fill="none" stroke="#e6cfe6" stroke-width="2" stroke-dasharray="12 8"/>
<polyline points="650.8,1828.22 838.3,1619.12 1026,1661.97" fill="none" stroke="#e6cfe6" stroke-width="2" stroke-dasharray="12 8"/>
<polyline points="650.8,1836.32 838.3,1804.44 1026,1797.96" fill="none" stroke="#7fc2a6" stroke-width="2.4" />
<polyline points="650.8,1794.72 838.3,1788.78 1026,1782.02" fill="none" stroke="#1fb0e6" stroke-width="2.4" stroke-dasharray="9 6"/>
<polyline points="650.8,1895.76 838.3,1712.59 1026,1742.31" fill="none" stroke="#c8187c" stroke-width="2.6" />
<polyline points="650.8,1825.52 838.3,1609.4 1026,1590.7" fill="none" stroke="#9b4c9e" stroke-width="3" stroke-dasharray="17 12"/>
<line x1="650.8" y1="1821.73" x2="650.8" y2="1850.91" stroke="#7fc2a6" stroke-width="2.2" />
<line x1="646.3" y1="1821.73" x2="655.3" y2="1821.73" stroke="#7fc2a6" stroke-width="2.2" />
<line x1="646.3" y1="1850.91" x2="655.3" y2="1850.91" stroke="#7fc2a6" stroke-width="2.2" />
<line x1="838.3" y1="1795.26" x2="838.3" y2="1813.63" stroke="#7fc2a6" stroke-width="2.2" />
<line x1="833.8" y1="1795.26" x2="842.8" y2="1795.26" stroke="#7fc2a6" stroke-width="2.2" />
<line x1="833.8" y1="1813.63" x2="842.8" y2="1813.63" stroke="#7fc2a6" stroke-width="2.2" />
<line x1="1026" y1="1790.23" x2="1026" y2="1805.69" stroke="#7fc2a6" stroke-width="2.2" />
<line x1="1021.5" y1="1790.23" x2="1030.5" y2="1790.23" stroke="#7fc2a6" stroke-width="2.2" />
<line x1="1021.5" y1="1805.69" x2="1030.5" y2="1805.69" stroke="#7fc2a6" stroke-width="2.2" />
<line x1="650.8" y1="1786.61" x2="650.8" y2="1802.82" stroke="#1fb0e6" stroke-width="2.2" />
<line x1="646.3" y1="1786.61" x2="655.3" y2="1786.61" stroke="#1fb0e6" stroke-width="2.2" />
<line x1="646.3" y1="1802.82" x2="655.3" y2="1802.82" stroke="#1fb0e6" stroke-width="2.2" />
<line x1="838.3" y1="1781.75" x2="838.3" y2="1795.8" stroke="#1fb0e6" stroke-width="2.2" />
<line x1="833.8" y1="1781.75" x2="842.8" y2="1781.75" stroke="#1fb0e6" stroke-width="2.2" />
<line x1="833.8" y1="1795.8" x2="842.8" y2="1795.8" stroke="#1fb0e6" stroke-width="2.2" />
<line x1="1026" y1="1775.81" x2="1026" y2="1788.24" stroke="#1fb0e6" stroke-width="2.2" />
<line x1="1021.5" y1="1775.81" x2="1030.5" y2="1775.81" stroke="#1fb0e6" stroke-width="2.2" />
<line x1="1021.5" y1="1788.24" x2="1030.5" y2="1788.24" stroke="#1fb0e6" stroke-width="2.2" />
<line x1="650.8" y1="1881.71" x2="650.8" y2="1909.8" stroke="#c8187c" stroke-width="2.2" />
<line x1="646.3" y1="1881.71" x2="655.3" y2="1881.71" stroke="#c8187c" stroke-width="2.2" />
<line x1="646.3" y1="1909.8" x2="655.3" y2="1909.8" stroke="#c8187c" stroke-width="2.2" />
<line x1="838.3" y1="1691.79" x2="838.3" y2="1733.4" stroke="#c8187c" stroke-width="2.2" />
<line x1="833.8" y1="1691.79" x2="842.8" y2="1691.79" stroke="#c8187c" stroke-width="2.2" />
<line x1="833.8" y1="1733.4" x2="842.8" y2="1733.4" stroke="#c8187c" stroke-width="2.2" />
<line x1="1026" y1="1726.64" x2="1026" y2="1757.98" stroke="#c8187c" stroke-width="2.2" />
<line x1="1021.5" y1="1726.64" x2="1030.5" y2="1726.64" stroke="#c8187c" stroke-width="2.2" />
<line x1="1021.5" y1="1757.98" x2="1030.5" y2="1757.98" stroke="#c8187c" stroke-width="2.2" />
<line x1="650.8" y1="1814.71" x2="650.8" y2="1836.32" stroke="#9b4c9e" stroke-width="2.2" />
<line x1="646.3" y1="1814.71" x2="655.3" y2="1814.71" stroke="#9b4c9e" stroke-width="2.2" />
<line x1="646.3" y1="1836.32" x2="655.3" y2="1836.32" stroke="#9b4c9e" stroke-width="2.2" />
<line x1="838.3" y1="1600.75" x2="838.3" y2="1618.04" stroke="#9b4c9e" stroke-width="2.2" />
<line x1="833.8" y1="1600.75" x2="842.8" y2="1600.75" stroke="#9b4c9e" stroke-width="2.2" />
<line x1="833.8" y1="1618.04" x2="842.8" y2="1618.04" stroke="#9b4c9e" stroke-width="2.2" />
<line x1="1026" y1="1565.09" x2="1026" y2="1616.31" stroke="#9b4c9e" stroke-width="2.2" />
<line x1="1021.5" y1="1565.09" x2="1030.5" y2="1565.09" stroke="#9b4c9e" stroke-width="2.2" />
<line x1="1021.5" y1="1616.31" x2="1030.5" y2="1616.31" stroke="#9b4c9e" stroke-width="2.2" />
<text x="745.6" y="1871.4" font-size="25" text-anchor="start" font-weight="normal" fill="#000" >Expression</text>
<text x="745.6" y="1901" font-size="25" text-anchor="start" font-weight="normal" fill="#000" >High</text>
<text x="745.6" y="1931" font-size="25" text-anchor="start" font-weight="normal" fill="#000" >Low</text>
<text x="914.2" y="1871.4" font-size="25" text-anchor="middle" font-weight="normal" fill="#000" >IAA</text>
<text x="1004.8" y="1871.4" font-size="25" text-anchor="middle" font-weight="normal" fill="#000" >DMSO</text>
<line x1="888" y1="1896.2" x2="935.3" y2="1896.2" stroke="#9b4c9e" stroke-width="3" stroke-dasharray="17 12"/>
<line x1="981.2" y1="1896.2" x2="1032.2" y2="1896.2" stroke="#1fb0e6" stroke-width="3" stroke-dasharray="8 5"/>
<line x1="887.6" y1="1926" x2="940.8" y2="1926" stroke="#c8187c" stroke-width="2.6" />
<line x1="981" y1="1926" x2="1032" y2="1926" stroke="#7fc2a6" stroke-width="2.6" />
<svg x="638.7" y="1533.1" width="113.1" height="68.3" viewBox="0 0 113.1 68.3"><g filter="url(#grn)"><rect x="-10" y="-10" width="140" height="90" fill="#727272"/><path d="M-5 -5H120L-5 22Z" fill="#0c0c0c"/><path d="M60 75L125 55V80H60Z" fill="#070707"/><path d="M4 14L91 0L106 54L22 67Z" fill="#adadad"/><ellipse cx="77" cy="38" rx="13" ry="9" transform="rotate(25 77 38)" fill="#070707"/><circle cx="50" cy="29" r="6" fill="#8c8c8c"/><circle cx="50" cy="29" r="3" fill="#9e9e9e"/><ellipse cx="30" cy="30" rx="4" ry="8" transform="rotate(-30 30 30)" fill="#262626"/><ellipse cx="37" cy="50" rx="5" ry="7" transform="rotate(20 37 50)" fill="#1e1e1e"/><ellipse cx="80" cy="15" rx="9" ry="5" fill="#333333"/><ellipse cx="68" cy="55" rx="5" ry="3" fill="#333333"/><ellipse cx="8" cy="55" rx="8" ry="8" fill="#262626"/><ellipse cx="115" cy="25" rx="6" ry="10" fill="#3f3f3f"/></g></svg>
<polyline points="643,1546.8 729.4,1533.1 745,1587.1 660.4,1600.2 643,1546.8" fill="none" stroke="#fff" stroke-width="2" />
<text x="8" y="264" font-size="33" text-anchor="start" font-weight="bold" fill="#000" stroke="#000" stroke-width="1.5">c</text>
<text x="138.6" y="262.1" font-size="25" text-anchor="middle" font-weight="normal" fill="#000" >0 min</text>
<text x="301" y="262.1" font-size="25" text-anchor="middle" font-weight="normal" fill="#000" >10 min</text>
<text x="457" y="262.1" font-size="25" text-anchor="middle" font-weight="normal" fill="#000" >60 min</text>
<text x="51.8" y="354.5" font-size="25" text-anchor="middle" font-weight="normal" fill="#000" transform="rotate(-90 51.8 354.5)" >IAA</text>
<text x="52.2" y="582.8" font-size="25" text-anchor="middle" font-weight="normal" fill="#000" transform="rotate(-90 52.2 582.8)" >DMSO</text>
<rect x="517" y="383" width="4.2" height="99.5" fill="#000"/>
<path fill="#25a898" d="M87.1 271.8a3.5 3.0 91 1 0 -0.2 7.0a3.5 3.0 91 1 0 0.2 -7.0zM95.5 285.1a3.0 2.5 119 1 0 -3.0 5.2a3.0 2.5 119 1 0 3.0 -5.2zM81.1 315.6a3.0 3.0 73 1 0 1.8 5.8a3.0 3.0 73 1 0 -1.8 -5.8zM94.8 323.2a2.9 2.9 173 1 0 -5.8 0.7a2.9 2.9 173 1 0 5.8 -0.7zM129.2 343.2a2.9 2.6 66 1 0 2.3 5.4a2.9 2.6 66 1 0 -2.3 -5.4zM145.6 343.0a3.5 3.2 36 1 0 5.7 4.2a3.5 3.2 36 1 0 -5.7 -4.2zM96.2 382.6a2.8 2.0 115 1 0 -2.3 5.0a2.8 2.0 115 1 0 2.3 -5.0zM97.5 393.5a2.9 2.8 162 1 0 -5.4 1.7a2.9 2.8 162 1 0 5.4 -1.7zM115.3 390.7a2.9 2.4 109 1 0 -1.9 5.5a2.9 2.4 109 1 0 1.9 -5.5zM131.8 397.3a2.6 1.9 41 1 0 3.9 3.5a2.6 1.9 41 1 0 -3.9 -3.5z"/>
<path fill="#5ab13d" d="M99.2 275.6a3.5 2.7 144 1 0 -5.6 4.0a3.5 2.7 144 1 0 5.6 -4.0zM134.7 274.0a2.6 2.4 165 1 0 -5.1 1.3a2.6 2.4 165 1 0 5.1 -1.3zM145.2 276.3a3.4 2.7 149 1 0 -5.9 3.5a3.4 2.7 149 1 0 5.9 -3.5zM178.7 281.7a2.9 2.7 79 1 0 1.0 5.7a2.9 2.7 79 1 0 -1.0 -5.7zM139.0 303.4a3.5 3.3 164 1 0 -6.7 1.8a3.5 3.3 164 1 0 6.7 -1.8zM156.3 298.7a2.8 2.2 99 1 0 -0.9 5.5a2.8 2.2 99 1 0 0.9 -5.5zM101.7 312.9a3.0 2.6 72 1 0 1.8 5.6a3.0 2.6 72 1 0 -1.8 -5.6zM109.6 322.3a2.6 2.0 37 1 0 4.2 3.2a2.6 2.0 37 1 0 -4.2 -3.2zM174.9 313.8a3.0 2.6 166 1 0 -5.8 1.4a3.0 2.6 166 1 0 5.8 -1.4zM158.9 325.2a3.3 2.8 74 1 0 1.7 6.3a3.3 2.8 74 1 0 -1.7 -6.3zM111.5 345.8a3.5 2.8 107 1 0 -2.2 6.7a3.5 2.8 107 1 0 2.2 -6.7zM99.3 350.8a3.7 3.6 15 1 0 7.1 1.9a3.7 3.6 15 1 0 -7.1 -1.9zM164.2 348.7a3.3 3.1 25 1 0 5.9 2.8a3.3 3.1 25 1 0 -5.9 -2.8zM127.5 361.8a3.4 3.2 19 1 0 6.4 2.3a3.4 3.2 19 1 0 -6.4 -2.3zM151.6 362.9a3.1 2.8 159 1 0 -5.9 2.2a3.1 2.8 159 1 0 5.9 -2.2zM164.3 409.0a3.0 2.7 3 1 0 6.0 0.4a3.0 2.7 3 1 0 -6.0 -0.4zM129.7 447.3a3.3 2.9 137 1 0 -4.9 4.5a3.3 2.9 137 1 0 4.9 -4.5z"/>
<path fill="#2ea857" d="M116.6 277.0a2.6 2.3 129 1 0 -3.3 4.0a2.6 2.3 129 1 0 3.3 -4.0zM149.1 280.4a2.9 2.7 70 1 0 1.9 5.4a2.9 2.7 70 1 0 -1.9 -5.4zM164.6 283.6a2.9 2.4 169 1 0 -5.8 1.1a2.9 2.4 169 1 0 5.8 -1.1zM149.3 289.4a2.7 2.0 31 1 0 4.7 2.9a2.7 2.0 31 1 0 -4.7 -2.9zM122.3 314.8a3.3 2.8 74 1 0 1.7 6.5a3.3 2.8 74 1 0 -1.7 -6.5zM147.5 316.3a3.2 2.8 23 1 0 5.9 2.6a3.2 2.8 23 1 0 -5.9 -2.6zM80.9 326.6a3.4 3.2 48 1 0 4.5 5.1a3.4 3.2 48 1 0 -4.5 -5.1zM166.8 330.5a3.4 3.4 40 1 0 5.2 4.5a3.4 3.4 40 1 0 -5.2 -4.5zM156.8 344.6a3.5 3.3 43 1 0 5.1 4.9a3.5 3.3 43 1 0 -5.1 -4.9zM167.8 339.5a3.4 2.6 86 1 0 0.4 6.8a3.4 2.6 86 1 0 -0.4 -6.8zM144.0 399.4a3.1 2.9 118 1 0 -2.9 5.5a3.1 2.9 118 1 0 2.9 -5.5zM89.1 407.3a3.3 2.4 29 1 0 5.7 3.2a3.3 2.4 29 1 0 -5.7 -3.2zM104.7 427.4a3.6 3.5 89 1 0 0.0 7.2a3.6 3.5 89 1 0 -0.0 -7.2zM140.4 474.2a3.6 2.7 3 1 0 7.1 0.4a3.6 2.7 3 1 0 -7.1 -0.4z"/>
<path fill="#45ac41" d="M120.9 270.9a3.5 3.5 27 1 0 6.2 3.2a3.5 3.5 27 1 0 -6.2 -3.2zM147.3 298.5a2.7 2.6 116 1 0 -2.4 4.8a2.7 2.6 116 1 0 2.4 -4.8zM108.2 329.4a3.0 2.9 37 1 0 4.8 3.6a3.0 2.9 37 1 0 -4.8 -3.6zM119.7 333.5a3.2 2.7 37 1 0 5.1 3.9a3.2 2.7 37 1 0 -5.1 -3.9zM143.6 339.6a3.0 2.9 164 1 0 -5.8 1.6a3.0 2.9 164 1 0 5.8 -1.6zM118.2 343.4a2.8 2.4 17 1 0 5.4 1.7a2.8 2.4 17 1 0 -5.4 -1.7zM133.1 352.9a2.8 2.1 156 1 0 -5.1 2.2a2.8 2.1 156 1 0 5.1 -2.2zM149.8 351.7a2.8 2.7 144 1 0 -4.5 3.3a2.8 2.7 144 1 0 4.5 -3.3zM180.3 356.2a3.7 3.4 156 1 0 -6.8 2.9a3.7 3.4 156 1 0 6.8 -2.9zM109.1 377.0a2.8 2.2 7 1 0 5.6 0.7a2.8 2.2 7 1 0 -5.6 -0.7zM153.7 378.2a3.5 3.0 108 1 0 -2.2 6.7a3.5 3.0 108 1 0 2.2 -6.7zM122.0 386.3a3.1 2.7 65 1 0 2.6 5.7a3.1 2.7 65 1 0 -2.6 -5.7zM106.7 392.8a3.6 3.0 75 1 0 1.9 7.0a3.6 3.0 75 1 0 -1.9 -7.0zM140.9 405.3a3.1 3.0 119 1 0 -3.1 5.4a3.1 3.0 119 1 0 3.1 -5.4zM144.3 411.1a3.1 2.8 11 1 0 6.0 1.2a3.1 2.8 11 1 0 -6.0 -1.2zM127.1 426.3a3.5 3.0 115 1 0 -2.9 6.3a3.5 3.0 115 1 0 2.9 -6.3zM95.9 432.5a2.8 2.2 60 1 0 2.7 4.8a2.8 2.2 60 1 0 -2.7 -4.8zM109.6 436.7a3.0 2.8 140 1 0 -4.6 3.8a3.0 2.8 140 1 0 4.6 -3.8zM142.6 442.7a3.6 2.8 176 1 0 -7.1 0.4a3.6 2.8 176 1 0 7.1 -0.4zM154.4 449.2a3.1 2.7 101 1 0 -1.3 6.1a3.1 2.7 101 1 0 1.3 -6.1zM137.7 464.1a2.7 2.5 36 1 0 4.4 3.3a2.7 2.5 36 1 0 -4.4 -3.3z"/>
<path fill="#30a846" d="M146.9 272.8a2.9 2.7 32 1 0 5.0 3.1a2.9 2.7 32 1 0 -5.0 -3.1zM129.2 280.2a3.2 3.0 53 1 0 3.8 5.0a3.2 3.0 53 1 0 -3.8 -5.0zM111.7 293.2a2.8 2.5 69 1 0 2.0 5.3a2.8 2.5 69 1 0 -2.0 -5.3zM122.6 299.0a3.0 2.5 157 1 0 -5.6 2.3a3.0 2.5 157 1 0 5.6 -2.3zM159.9 307.5a3.3 2.6 63 1 0 3.0 6.0a3.3 2.6 63 1 0 -3.0 -6.0zM129.5 316.7a3.0 2.6 28 1 0 5.3 2.9a3.0 2.6 28 1 0 -5.3 -2.9zM177.4 318.5a2.9 2.9 47 1 0 3.9 4.3a2.9 2.9 47 1 0 -3.9 -4.3zM104.0 324.2a2.6 2.1 140 1 0 -4.0 3.3a2.6 2.1 140 1 0 4.0 -3.3zM133.2 334.4a3.6 2.8 130 1 0 -4.7 5.5a3.6 2.8 130 1 0 4.7 -5.5zM136.3 346.1a3.7 3.0 45 1 0 5.2 5.2a3.7 3.0 45 1 0 -5.2 -5.2zM180.4 346.7a3.1 3.0 150 1 0 -5.3 3.0a3.1 3.0 150 1 0 5.3 -3.0zM94.1 374.3a3.4 2.5 121 1 0 -3.5 5.8a3.4 2.5 121 1 0 3.5 -5.8zM124.8 377.1a2.8 2.7 110 1 0 -2.0 5.3a2.8 2.7 110 1 0 2.0 -5.3zM164.0 379.7a3.0 2.6 139 1 0 -4.6 3.9a3.0 2.6 139 1 0 4.6 -3.9zM106.1 384.1a2.8 2.8 111 1 0 -2.1 5.3a2.8 2.8 111 1 0 2.1 -5.3zM159.9 386.6a3.7 3.3 71 1 0 2.4 7.0a3.7 3.3 71 1 0 -2.4 -7.0zM174.6 384.4a2.8 2.3 152 1 0 -4.9 2.5a2.8 2.3 152 1 0 4.9 -2.5zM95.7 400.7a3.1 2.7 57 1 0 3.4 5.2a3.1 2.7 57 1 0 -3.4 -5.2zM168.9 392.9a2.7 2.3 77 1 0 1.2 5.4a2.7 2.3 77 1 0 -1.2 -5.4zM129.2 402.8a3.5 3.2 73 1 0 2.0 6.7a3.5 3.2 73 1 0 -2.0 -6.7zM156.6 405.7a3.1 2.6 67 1 0 2.3 5.6a3.1 2.6 67 1 0 -2.3 -5.6zM112.5 444.9a3.1 2.8 105 1 0 -1.7 6.1a3.1 2.8 105 1 0 1.7 -6.1zM133.0 453.1a3.5 2.6 66 1 0 2.8 6.4a3.5 2.6 66 1 0 -2.8 -6.4zM118.4 463.2a3.6 2.9 64 1 0 3.0 6.5a3.6 2.9 64 1 0 -3.0 -6.5z"/>
<path fill="#6fb539" d="M158.3 271.4a2.7 2.4 68 1 0 2.0 5.1a2.7 2.4 68 1 0 -2.0 -5.1zM182.0 276.9a3.2 2.5 179 1 0 -6.4 0.1a3.2 2.5 179 1 0 6.4 -0.1zM100.1 333.0a2.8 2.2 12 1 0 5.5 1.3a2.8 2.2 12 1 0 -5.5 -1.3zM122.2 369.7a3.4 3.3 155 1 0 -6.2 2.9a3.4 3.3 155 1 0 6.2 -2.9zM126.9 370.4a2.8 2.5 47 1 0 3.8 4.2a2.8 2.5 47 1 0 -3.8 -4.2zM158.7 370.9a2.9 2.1 138 1 0 -4.4 3.9a2.9 2.1 138 1 0 4.4 -3.9zM114.4 381.1a3.6 2.9 83 1 0 0.8 7.1a3.6 2.9 83 1 0 -0.8 -7.1zM144.6 391.7a3.1 2.6 122 1 0 -3.4 5.2a3.1 2.6 122 1 0 3.4 -5.2zM154.4 413.5a3.4 3.4 42 1 0 5.0 4.6a3.4 3.4 42 1 0 -5.0 -4.6z"/>
<path fill="#28a88c" d="M102.7 277.8a3.0 2.5 66 1 0 2.4 5.5a3.0 2.5 66 1 0 -2.4 -5.5zM84.1 298.5a2.7 2.5 117 1 0 -2.5 4.8a2.7 2.5 117 1 0 2.5 -4.8zM89.1 304.0a2.8 2.3 3 1 0 5.5 0.3a2.8 2.3 3 1 0 -5.5 -0.3zM170.0 303.0a3.4 3.2 64 1 0 2.9 6.1a3.4 3.2 64 1 0 -2.9 -6.1zM91.3 329.2a3.6 2.7 67 1 0 2.7 6.7a3.6 2.7 67 1 0 -2.7 -6.7zM102.6 341.2a2.6 2.0 136 1 0 -3.8 3.6a2.6 2.0 136 1 0 3.8 -3.6zM117.8 349.9a3.0 2.8 57 1 0 3.2 5.0a3.0 2.8 57 1 0 -3.2 -5.0zM106.0 360.8a2.9 2.8 162 1 0 -5.5 1.7a2.9 2.8 162 1 0 5.5 -1.7zM86.4 379.3a3.4 3.1 100 1 0 -1.3 6.7a3.4 3.1 100 1 0 1.3 -6.7zM173.9 375.1a3.3 2.9 101 1 0 -1.3 6.5a3.3 2.9 101 1 0 1.3 -6.5zM95.7 415.4a2.8 2.0 122 1 0 -3.0 4.7a2.8 2.0 122 1 0 3.0 -4.7zM126.8 459.2a3.3 3.1 12 1 0 6.5 1.4a3.3 3.1 12 1 0 -6.5 -1.4zM122.6 473.1a2.8 2.4 43 1 0 4.1 3.9a2.8 2.4 43 1 0 -4.1 -3.9z"/>
<path fill="#2ca869" d="M115.3 286.4a2.9 2.6 174 1 0 -5.9 0.5a2.9 2.6 174 1 0 5.9 -0.5zM123.5 278.8a3.6 3.3 90 1 0 -0.0 7.2a3.6 3.3 90 1 0 0.0 -7.2zM167.8 277.3a3.3 2.7 68 1 0 2.4 6.2a3.3 2.7 68 1 0 -2.4 -6.2zM162.3 289.7a3.6 3.4 120 1 0 -3.7 6.3a3.6 3.4 120 1 0 3.7 -6.3zM96.0 297.5a3.6 2.9 3 1 0 7.1 0.5a3.6 2.9 3 1 0 -7.1 -0.5zM167.0 295.5a3.7 3.1 150 1 0 -6.4 3.6a3.7 3.1 150 1 0 6.4 -3.6zM103.7 305.2a2.9 2.3 148 1 0 -4.9 3.0a2.9 2.3 148 1 0 4.9 -3.0zM130.3 307.8a2.8 2.4 67 1 0 2.1 5.2a2.8 2.4 67 1 0 -2.1 -5.2zM183.5 310.1a3.1 2.6 110 1 0 -2.2 5.9a3.1 2.6 110 1 0 2.2 -5.9zM143.9 320.4a3.3 2.9 156 1 0 -6.1 2.6a3.3 2.9 156 1 0 6.1 -2.6zM158.6 317.9a3.5 2.8 29 1 0 6.1 3.5a3.5 2.8 29 1 0 -6.1 -3.5zM153.9 326.9a3.1 2.7 156 1 0 -5.8 2.5a3.1 2.7 156 1 0 5.8 -2.5zM173.6 323.3a2.7 2.2 170 1 0 -5.4 0.9a2.7 2.2 170 1 0 5.4 -0.9zM157.5 335.5a3.0 2.7 39 1 0 4.6 3.8a3.0 2.7 39 1 0 -4.6 -3.8zM113.1 365.1a3.5 2.9 154 1 0 -6.3 3.0a3.5 2.9 154 1 0 6.3 -3.0zM105.8 367.5a3.4 3.2 159 1 0 -6.4 2.4a3.4 3.2 159 1 0 6.4 -2.4zM107.2 378.7a3.7 3.2 165 1 0 -7.1 1.8a3.7 3.2 165 1 0 7.1 -1.8zM114.3 405.1a3.6 2.9 176 1 0 -7.2 0.4a3.6 2.9 176 1 0 7.2 -0.4zM113.5 414.3a3.6 3.5 178 1 0 -7.1 0.2a3.6 3.5 178 1 0 7.1 -0.2zM143.0 417.2a3.5 3.2 175 1 0 -7.1 0.5a3.5 3.2 175 1 0 7.1 -0.5zM129.9 444.2a3.3 2.6 84 1 0 0.7 6.6a3.3 2.6 84 1 0 -0.7 -6.6z"/>
<path fill="#2aa87a" d="M145.0 284.8a3.0 2.4 152 1 0 -5.4 2.8a3.0 2.4 152 1 0 5.4 -2.8zM94.3 294.2a3.3 3.1 113 1 0 -2.6 6.0a3.3 3.1 113 1 0 2.6 -6.0zM132.8 287.6a3.5 3.0 110 1 0 -2.4 6.5a3.5 3.0 110 1 0 2.4 -6.5zM138.2 293.2a2.8 2.7 27 1 0 4.9 2.6a2.8 2.7 27 1 0 -4.9 -2.6zM110.5 311.6a2.8 2.5 35 1 0 4.6 3.2a2.8 2.5 35 1 0 -4.6 -3.2zM123.8 306.6a3.2 2.5 140 1 0 -4.9 4.1a3.2 2.5 140 1 0 4.9 -4.1zM149.3 306.8a3.6 3.3 28 1 0 6.3 3.5a3.6 3.3 28 1 0 -6.3 -3.5zM123.2 324.7a2.7 2.6 121 1 0 -2.9 4.7a2.7 2.6 121 1 0 2.9 -4.7zM142.7 327.2a3.4 2.7 124 1 0 -3.9 5.6a3.4 2.7 124 1 0 3.9 -5.6zM154.3 337.1a3.6 2.9 177 1 0 -7.2 0.3a3.6 2.9 177 1 0 7.2 -0.3zM86.5 345.1a3.5 3.5 168 1 0 -6.9 1.4a3.5 3.5 168 1 0 6.9 -1.4zM87.2 354.4a2.9 2.6 170 1 0 -5.7 1.0a2.9 2.6 170 1 0 5.7 -1.0zM90.3 356.8a3.4 3.2 26 1 0 6.1 3.0a3.4 3.2 26 1 0 -6.1 -3.0zM159.7 361.9a3.1 2.3 151 1 0 -5.5 3.0a3.1 2.3 151 1 0 5.5 -3.0zM85.2 397.0a3.5 2.9 37 1 0 5.6 4.3a3.5 2.9 37 1 0 -5.6 -4.3zM94.4 422.6a2.9 2.2 85 1 0 0.5 5.7a2.9 2.2 85 1 0 -0.5 -5.7zM152.1 428.3a2.7 2.3 15 1 0 5.2 1.5a2.7 2.3 15 1 0 -5.2 -1.5zM103.5 441.6a3.6 3.2 94 1 0 -0.5 7.1a3.6 3.2 94 1 0 0.5 -7.1zM110.1 451.6a2.8 2.7 166 1 0 -5.4 1.3a2.8 2.7 166 1 0 5.4 -1.3zM132.8 464.5a3.6 2.6 56 1 0 3.9 6.0a3.6 2.6 56 1 0 -3.9 -6.0z"/>
<path fill="#98be31" d="M125.8 288.9a3.3 2.6 140 1 0 -5.1 4.1a3.3 2.6 140 1 0 5.1 -4.1zM117.5 359.3a3.5 3.0 47 1 0 4.7 5.1a3.5 3.0 47 1 0 -4.7 -5.1zM146.6 368.1a3.0 2.2 84 1 0 0.5 5.9a3.0 2.2 84 1 0 -0.5 -5.9zM134.5 377.2a3.7 3.3 103 1 0 -1.8 7.2a3.7 3.3 103 1 0 1.8 -7.2zM150.5 386.8a3.6 2.9 72 1 0 2.2 6.9a3.6 2.9 72 1 0 -2.2 -6.9zM117.1 401.6a3.1 2.9 131 1 0 -4.1 4.6a3.1 2.9 131 1 0 4.1 -4.6zM152.6 396.1a3.6 3.1 132 1 0 -4.8 5.3a3.6 3.1 132 1 0 4.8 -5.3zM167.4 416.6a2.8 2.7 142 1 0 -4.3 3.4a2.8 2.7 142 1 0 4.3 -3.4zM137.5 432.1a2.6 2.6 135 1 0 -3.8 3.7a2.6 2.6 135 1 0 3.8 -3.7z"/>
<path fill="#22a9a5" d="M127.2 297.1a2.7 2.1 83 1 0 0.6 5.4a2.7 2.1 83 1 0 -0.6 -5.4zM133.2 324.4a2.9 2.3 134 1 0 -4.1 4.2a2.9 2.3 134 1 0 4.1 -4.2zM155.2 445.6a3.3 2.9 29 1 0 5.8 3.3a3.3 2.9 29 1 0 -5.8 -3.3zM114.3 455.9a2.7 2.1 10 1 0 5.4 1.0a2.7 2.1 10 1 0 -5.4 -1.0zM143.5 449.3a2.7 2.0 56 1 0 3.0 4.5a2.7 2.0 56 1 0 -3.0 -4.5zM147.3 459.7a3.2 3.1 12 1 0 6.2 1.4a3.2 3.1 12 1 0 -6.2 -1.4zM123.0 478.1a3.7 3.0 148 1 0 -6.2 3.8a3.7 3.0 148 1 0 6.2 -3.8z"/>
<path fill="#85ba35" d="M174.4 302.7a2.9 2.4 170 1 0 -5.7 1.0a2.9 2.4 170 1 0 5.7 -1.0zM176.5 373.5a2.7 2.7 147 1 0 -4.6 2.9a2.7 2.7 147 1 0 4.6 -2.9zM135.2 388.9a2.6 2.5 173 1 0 -5.2 0.6a2.6 2.5 173 1 0 5.2 -0.6zM158.3 398.3a3.4 3.4 41 1 0 5.1 4.5a3.4 3.4 41 1 0 -5.1 -4.5zM104.2 412.1a3.5 3.4 166 1 0 -6.8 1.6a3.5 3.4 166 1 0 6.8 -1.6zM121.6 410.8a2.8 2.2 159 1 0 -5.3 2.0a2.8 2.2 159 1 0 5.3 -2.0zM120.7 418.6a2.7 2.6 111 1 0 -1.9 5.0a2.7 2.6 111 1 0 1.9 -5.0zM128.7 412.4a3.1 2.8 95 1 0 -0.6 6.1a3.1 2.8 95 1 0 0.6 -6.1zM144.7 422.1a3.2 3.0 124 1 0 -3.5 5.3a3.2 3.0 124 1 0 3.5 -5.3zM162.8 422.5a2.8 2.7 76 1 0 1.3 5.4a2.8 2.7 76 1 0 -1.3 -5.4zM126.1 435.3a3.6 3.3 107 1 0 -2.1 6.8a3.6 3.3 107 1 0 2.1 -6.8z"/>
<path fill="#1caabe" d="M78.9 309.3a2.6 2.1 10 1 0 5.1 1.0a2.6 2.1 10 1 0 -5.1 -1.0zM84.2 334.7a3.3 3.1 103 1 0 -1.6 6.5a3.3 3.1 103 1 0 1.6 -6.5zM86.0 362.2a3.5 2.8 144 1 0 -5.7 4.1a3.5 2.8 144 1 0 5.7 -4.1zM90.1 366.5a3.6 2.7 28 1 0 6.4 3.4a3.6 2.7 28 1 0 -6.4 -3.4z"/>
<path fill="#1fa9b1" d="M90.0 338.9a3.6 3.4 31 1 0 6.1 3.8a3.6 3.4 31 1 0 -6.1 -3.8zM112.5 461.1a3.1 2.9 150 1 0 -5.4 3.1a3.1 2.9 150 1 0 5.4 -3.1zM113.0 469.9a2.7 2.5 10 1 0 5.3 1.0a2.7 2.5 10 1 0 -5.3 -1.0z"/>
<path fill="#a5c12f" d="M142.4 355.5a3.0 2.8 135 1 0 -4.3 4.2a3.0 2.8 135 1 0 4.3 -4.2zM145.9 382.1a3.3 2.7 113 1 0 -2.6 6.1a3.3 2.7 113 1 0 2.6 -6.1zM126.7 395.7a2.8 2.5 144 1 0 -4.6 3.3a2.8 2.5 144 1 0 4.6 -3.3z"/>
<path fill="#c9b726" d="M161.7 366.4a3.3 3.0 38 1 0 5.2 4.1a3.3 3.0 38 1 0 -5.2 -4.1z"/>
<path fill="#1e9ec1" d="M88.8 389.8a3.4 2.5 171 1 0 -6.8 1.1a3.4 2.5 171 1 0 6.8 -1.1z"/>
<path fill="#b1c32c" d="M132.4 424.8a2.7 2.3 4 1 0 5.3 0.4a2.7 2.3 4 1 0 -5.3 -0.4z"/>
<path fill="#c8c527" d="M142.4 431.7a3.7 3.5 80 1 0 1.2 7.2a3.7 3.5 80 1 0 -1.2 -7.2z"/>
<path fill="#000" d="M168.3 342.2a1.6 1.6 0 1 0 3.2 0a1.6 1.6 0 1 0 -3.2 0zM168.2 343.5a1.4 1.4 0 1 0 2.8 0a1.4 1.4 0 1 0 -2.8 0zM137.2 294.3a1.0 1.0 0 1 0 2.0 0a1.0 1.0 0 1 0 -2.0 0zM135.5 291.0a1.6 1.6 0 1 0 3.1 0a1.6 1.6 0 1 0 -3.1 0zM158.2 414.2a1.5 1.5 0 1 0 3.1 0a1.5 1.5 0 1 0 -3.1 0zM161.5 296.1a1.2 1.2 0 1 0 2.4 0a1.2 1.2 0 1 0 -2.4 0zM160.7 293.9a1.2 1.2 0 1 0 2.4 0a1.2 1.2 0 1 0 -2.4 0zM85.1 277.8a0.7 0.7 0 1 0 1.4 0a0.7 0.7 0 1 0 -1.4 0zM81.4 277.5a1.5 1.5 0 1 0 3.0 0a1.5 1.5 0 1 0 -3.0 0zM82.0 278.9a0.9 0.9 0 1 0 1.7 0a0.9 0.9 0 1 0 -1.7 0zM80.8 278.2a2.4 2.4 0 1 0 4.8 0a2.4 2.4 0 1 0 -4.8 0zM86.3 394.4a1.2 1.2 0 1 0 2.4 0a1.2 1.2 0 1 0 -2.4 0zM109.6 384.5a0.7 0.7 0 1 0 1.4 0a0.7 0.7 0 1 0 -1.4 0zM142.4 461.1a0.9 0.9 0 1 0 1.9 0a0.9 0.9 0 1 0 -1.9 0zM140.5 463.2a1.1 1.1 0 1 0 2.2 0a1.1 1.1 0 1 0 -2.2 0zM140.6 414.4a0.6 0.6 0 1 0 1.2 0a0.6 0.6 0 1 0 -1.2 0zM77.6 349.5a1.3 1.3 0 1 0 2.6 0a1.3 1.3 0 1 0 -2.6 0zM156.4 415.0a1.5 1.5 0 1 0 3.1 0a1.5 1.5 0 1 0 -3.1 0zM157.3 411.7a0.9 0.9 0 1 0 1.8 0a0.9 0.9 0 1 0 -1.8 0zM121.5 292.6a1.3 1.3 0 1 0 2.6 0a1.3 1.3 0 1 0 -2.6 0zM119.3 296.3a1.6 1.6 0 1 0 3.2 0a1.6 1.6 0 1 0 -3.2 0zM134.1 385.5a1.4 1.4 0 1 0 2.8 0a1.4 1.4 0 1 0 -2.8 0zM148.9 345.6a0.9 0.9 0 1 0 1.9 0a0.9 0.9 0 1 0 -1.9 0zM137.3 295.9a0.7 0.7 0 1 0 1.4 0a0.7 0.7 0 1 0 -1.4 0zM124.8 447.7a1.5 1.5 0 1 0 2.9 0a1.5 1.5 0 1 0 -2.9 0zM123.7 445.6a0.8 0.8 0 1 0 1.5 0a0.8 0.8 0 1 0 -1.5 0zM100.3 370.9a0.7 0.7 0 1 0 1.4 0a0.7 0.7 0 1 0 -1.4 0zM101.2 369.7a0.8 0.8 0 1 0 1.5 0a0.8 0.8 0 1 0 -1.5 0zM97.0 286.7a1.5 1.5 0 1 0 3.1 0a1.5 1.5 0 1 0 -3.1 0zM100.6 286.5a0.9 0.9 0 1 0 1.8 0a0.9 0.9 0 1 0 -1.8 0zM141.5 421.7a1.4 1.4 0 1 0 2.8 0a1.4 1.4 0 1 0 -2.8 0zM142.6 421.4a0.8 0.8 0 1 0 1.5 0a0.8 0.8 0 1 0 -1.5 0zM151.6 385.8a1.1 1.1 0 1 0 2.3 0a1.1 1.1 0 1 0 -2.3 0zM150.6 383.9a1.2 1.2 0 1 0 2.4 0a1.2 1.2 0 1 0 -2.4 0zM139.6 317.7a1.5 1.5 0 1 0 3.0 0a1.5 1.5 0 1 0 -3.0 0zM99.6 440.5a1.3 1.3 0 1 0 2.6 0a1.3 1.3 0 1 0 -2.6 0zM177.1 286.4a2.2 2.2 0 1 0 4.3 0a2.2 2.2 0 1 0 -4.3 0zM178.7 287.7a2.0 2.0 0 1 0 4.0 0a2.0 2.0 0 1 0 -4.0 0zM122.7 477.0a1.2 1.2 0 1 0 2.5 0a1.2 1.2 0 1 0 -2.5 0zM126.1 478.2a0.9 0.9 0 1 0 1.8 0a0.9 0.9 0 1 0 -1.8 0zM112.9 383.8a0.8 0.8 0 1 0 1.7 0a0.8 0.8 0 1 0 -1.7 0zM88.9 271.7a0.8 0.8 0 1 0 1.6 0a0.8 0.8 0 1 0 -1.6 0zM88.0 272.2a0.8 0.8 0 1 0 1.6 0a0.8 0.8 0 1 0 -1.6 0zM121.3 332.0a1.6 1.6 0 1 0 3.2 0a1.6 1.6 0 1 0 -3.2 0zM175.9 305.8a1.3 1.3 0 1 0 2.5 0a1.3 1.3 0 1 0 -2.5 0zM99.2 276.9a0.8 0.8 0 1 0 1.7 0a0.8 0.8 0 1 0 -1.7 0zM129.0 382.3a2.2 2.2 0 1 0 4.4 0a2.2 2.2 0 1 0 -4.4 0zM130.5 382.3a0.9 0.9 0 1 0 1.8 0a0.9 0.9 0 1 0 -1.8 0zM141.9 279.4a1.6 1.6 0 1 0 3.1 0a1.6 1.6 0 1 0 -3.1 0zM141.9 280.9a1.0 1.0 0 1 0 2.1 0a1.0 1.0 0 1 0 -2.1 0zM122.1 482.3a1.5 1.5 0 1 0 3.0 0a1.5 1.5 0 1 0 -3.0 0zM166.7 350.8a0.9 0.9 0 1 0 1.9 0a0.9 0.9 0 1 0 -1.9 0zM132.5 351.6a0.8 0.8 0 1 0 1.7 0a0.8 0.8 0 1 0 -1.7 0zM130.3 352.5a1.1 1.1 0 1 0 2.1 0a1.1 1.1 0 1 0 -2.1 0zM150.2 296.4a1.2 1.2 0 1 0 2.3 0a1.2 1.2 0 1 0 -2.3 0zM148.7 297.2a0.7 0.7 0 1 0 1.5 0a0.7 0.7 0 1 0 -1.5 0zM106.7 272.5a2.2 1.8 0 1 0 4.4 0a2.2 1.8 0 1 0 -4.4 0zM115.8 272.5a2.6 2.1 0 1 0 5.2 0a2.6 2.1 0 1 0 -5.2 0zM143.9 272.5a2.5 2.0 0 1 0 5.0 0a2.5 2.0 0 1 0 -5.0 0z"/>
<path fill="#1e9ec1" d="M247.8 270.4a3.4 2.7 94 1 0 -0.5 6.7a3.4 2.7 94 1 0 0.5 -6.7zM249.1 315.6a3.2 3.2 101 1 0 -1.3 6.3a3.2 3.2 101 1 0 1.3 -6.3zM234.6 377.2a3.2 2.6 101 1 0 -1.3 6.3a3.2 2.6 101 1 0 1.3 -6.3zM240.4 439.9a3.7 3.2 141 1 0 -5.7 4.6a3.7 3.2 141 1 0 5.7 -4.6zM246.8 440.0a2.7 2.1 111 1 0 -2.0 5.1a2.7 2.1 111 1 0 2.0 -5.1z"/>
<path fill="#bec62a" d="M267.3 275.2a3.0 3.0 106 1 0 -1.7 5.8a3.0 3.0 106 1 0 1.7 -5.8zM279.7 283.8a2.8 2.5 52 1 0 3.5 4.4a2.8 2.5 52 1 0 -3.5 -4.4zM303.1 340.1a3.5 2.7 102 1 0 -1.5 6.9a3.5 2.7 102 1 0 1.5 -6.9zM265.4 350.8a2.6 2.0 157 1 0 -4.8 2.0a2.6 2.0 157 1 0 4.8 -2.0zM252.6 373.6a3.1 2.9 53 1 0 3.7 5.0a3.1 2.9 53 1 0 -3.7 -5.0zM313.8 379.4a3.6 3.2 169 1 0 -7.0 1.4a3.6 3.2 169 1 0 7.0 -1.4zM318.2 391.3a2.8 2.6 142 1 0 -4.5 3.5a2.8 2.6 142 1 0 4.5 -3.5zM311.0 413.9a2.9 2.9 131 1 0 -3.9 4.4a2.9 2.9 131 1 0 3.9 -4.4zM301.1 440.8a3.2 3.1 162 1 0 -6.0 1.9a3.2 3.1 162 1 0 6.0 -1.9zM284.2 472.1a2.7 2.0 25 1 0 4.9 2.4a2.7 2.0 25 1 0 -4.9 -2.4z"/>
<path fill="#2ea857" d="M281.9 274.9a2.6 2.5 17 1 0 5.0 1.6a2.6 2.5 17 1 0 -5.0 -1.6zM257.7 282.8a3.5 2.6 175 1 0 -6.9 0.5a3.5 2.6 175 1 0 6.9 -0.5zM337.7 302.1a2.7 2.6 165 1 0 -5.3 1.4a2.7 2.6 165 1 0 5.3 -1.4zM312.9 305.5a3.5 3.1 67 1 0 2.7 6.5a3.5 3.1 67 1 0 -2.7 -6.5zM232.6 334.3a3.4 2.9 29 1 0 5.9 3.3a3.4 2.9 29 1 0 -5.9 -3.3zM328.4 363.5a3.6 3.5 138 1 0 -5.5 4.8a3.6 3.5 138 1 0 5.5 -4.8zM302.3 376.7a3.1 2.7 115 1 0 -2.7 5.6a3.1 2.7 115 1 0 2.7 -5.6zM240.3 457.9a2.7 2.3 97 1 0 -0.7 5.4a2.7 2.3 97 1 0 0.7 -5.4z"/>
<path fill="#85ba35" d="M295.6 273.9a3.6 3.4 103 1 0 -1.7 7.1a3.6 3.4 103 1 0 1.7 -7.1zM316.2 271.1a2.9 2.1 148 1 0 -5.0 3.0a2.9 2.1 148 1 0 5.0 -3.0zM259.2 295.7a3.4 2.7 13 1 0 6.6 1.6a3.4 2.7 13 1 0 -6.6 -1.6zM285.5 296.1a3.4 2.7 2 1 0 6.8 0.3a3.4 2.7 2 1 0 -6.8 -0.3zM324.8 291.0a2.9 2.5 76 1 0 1.3 5.6a2.9 2.5 76 1 0 -1.3 -5.6zM284.8 303.1a2.9 2.9 19 1 0 5.5 2.0a2.9 2.9 19 1 0 -5.5 -2.0zM279.1 308.6a2.9 2.4 111 1 0 -2.2 5.5a2.9 2.4 111 1 0 2.2 -5.5zM319.4 328.0a2.7 2.1 38 1 0 4.3 3.4a2.7 2.1 38 1 0 -4.3 -3.4zM270.3 337.2a3.5 3.0 10 1 0 6.9 1.3a3.5 3.0 10 1 0 -6.9 -1.3zM289.6 335.5a2.8 2.5 17 1 0 5.3 1.7a2.8 2.5 17 1 0 -5.3 -1.7zM256.0 348.3a2.9 2.5 141 1 0 -4.6 3.6a2.9 2.5 141 1 0 4.6 -3.6zM321.2 344.8a3.0 2.6 113 1 0 -2.4 5.6a3.0 2.6 113 1 0 2.4 -5.6zM278.3 356.6a3.3 2.8 12 1 0 6.4 1.4a3.3 2.8 12 1 0 -6.4 -1.4zM302.1 350.4a3.2 2.9 126 1 0 -3.8 5.2a3.2 2.9 126 1 0 3.8 -5.2zM291.7 358.7a3.3 2.7 127 1 0 -4.0 5.3a3.3 2.7 127 1 0 4.0 -5.3zM264.8 367.8a2.7 2.5 115 1 0 -2.3 4.8a2.7 2.5 115 1 0 2.3 -4.8zM260.3 394.2a3.5 3.5 91 1 0 -0.2 7.0a3.5 3.5 91 1 0 0.2 -7.0zM305.1 394.0a3.7 2.9 90 1 0 -0.0 7.4a3.7 2.9 90 1 0 0.0 -7.4zM259.9 414.6a3.0 2.2 24 1 0 5.5 2.5a3.0 2.2 24 1 0 -5.5 -2.5zM301.6 430.8a2.6 2.1 99 1 0 -0.8 5.2a2.6 2.1 99 1 0 0.8 -5.2z"/>
<path fill="#5ab13d" d="M301.5 272.4a3.4 2.9 7 1 0 6.7 0.9a3.4 2.9 7 1 0 -6.7 -0.9zM266.5 284.5a3.0 2.6 144 1 0 -4.9 3.5a3.0 2.6 144 1 0 4.9 -3.5zM290.7 282.6a2.8 2.2 83 1 0 0.6 5.6a2.8 2.2 83 1 0 -0.6 -5.6zM301.0 278.4a2.9 2.6 64 1 0 2.4 5.2a2.9 2.6 64 1 0 -2.4 -5.2zM319.7 299.3a3.3 3.2 165 1 0 -6.3 1.6a3.3 3.2 165 1 0 6.3 -1.6zM296.5 359.4a2.7 2.4 21 1 0 5.1 2.0a2.7 2.4 21 1 0 -5.1 -2.0zM300.2 368.2a2.7 2.4 39 1 0 4.2 3.5a2.7 2.4 39 1 0 -4.2 -3.5z"/>
<path fill="#28a88c" d="M321.8 269.9a3.0 2.2 70 1 0 2.0 5.5a3.0 2.2 70 1 0 -2.0 -5.5zM345.4 274.5a3.3 2.6 163 1 0 -6.3 1.8a3.3 2.6 163 1 0 6.3 -1.8zM240.4 296.9a2.9 2.8 82 1 0 0.8 5.8a2.9 2.8 82 1 0 -0.8 -5.8zM325.9 300.9a3.1 2.9 99 1 0 -1.0 6.1a3.1 2.9 99 1 0 1.0 -6.1zM326.1 354.2a2.9 2.5 40 1 0 4.3 3.7a2.9 2.5 40 1 0 -4.3 -3.7zM249.9 365.6a3.1 2.9 21 1 0 5.7 2.3a3.1 2.9 21 1 0 -5.7 -2.3zM250.4 400.2a3.0 2.8 62 1 0 2.8 5.3a3.0 2.8 62 1 0 -2.8 -5.3zM254.5 426.4a3.0 2.4 109 1 0 -2.0 5.7a3.0 2.4 109 1 0 2.0 -5.7z"/>
<path fill="#22a9a5" d="M243.3 279.6a3.4 2.5 33 1 0 5.8 3.8a3.4 2.5 33 1 0 -5.8 -3.8zM249.0 307.2a2.8 2.7 66 1 0 2.3 5.2a2.8 2.7 66 1 0 -2.3 -5.2zM330.5 317.8a2.9 2.8 66 1 0 2.3 5.3a2.9 2.8 66 1 0 -2.3 -5.3zM331.4 336.1a3.1 2.5 107 1 0 -1.8 6.0a3.1 2.5 107 1 0 1.8 -6.0zM235.7 370.0a2.9 2.2 166 1 0 -5.7 1.3a2.9 2.2 166 1 0 5.7 -1.3zM245.9 380.9a2.8 2.7 165 1 0 -5.4 1.4a2.8 2.7 165 1 0 5.4 -1.4zM229.7 398.5a3.6 3.1 2 1 0 7.1 0.3a3.6 3.1 2 1 0 -7.1 -0.3zM253.6 409.1a3.4 3.1 101 1 0 -1.4 6.8a3.4 3.1 101 1 0 1.4 -6.8zM247.1 469.7a3.3 2.6 23 1 0 6.0 2.6a3.3 2.6 23 1 0 -6.0 -2.6z"/>
<path fill="#6fb539" d="M277.7 280.7a3.7 3.3 174 1 0 -7.3 0.7a3.7 3.3 174 1 0 7.3 -0.7zM314.4 278.7a3.3 3.0 160 1 0 -6.2 2.2a3.3 3.0 160 1 0 6.2 -2.2zM281.1 291.3a2.8 2.6 110 1 0 -2.0 5.2a2.8 2.6 110 1 0 2.0 -5.2zM306.1 289.9a3.1 2.4 11 1 0 6.0 1.3a3.1 2.4 11 1 0 -6.0 -1.3zM258.3 303.0a2.7 2.5 65 1 0 2.2 4.8a2.7 2.5 65 1 0 -2.2 -4.8zM308.9 307.0a2.9 2.2 161 1 0 -5.5 1.8a2.9 2.2 161 1 0 5.5 -1.8zM298.5 315.9a3.4 3.3 148 1 0 -5.8 3.6a3.4 3.3 148 1 0 5.8 -3.6zM264.7 322.8a3.6 3.0 93 1 0 -0.4 7.2a3.6 3.0 93 1 0 0.4 -7.2zM283.6 365.6a3.4 2.8 144 1 0 -5.5 4.0a3.4 2.8 144 1 0 5.5 -4.0zM319.6 374.3a3.6 2.8 23 1 0 6.6 2.9a3.6 2.8 23 1 0 -6.6 -2.9zM291.0 386.6a3.3 3.3 147 1 0 -5.5 3.6a3.3 3.3 147 1 0 5.5 -3.6zM282.8 407.8a3.1 2.5 81 1 0 0.9 6.1a3.1 2.5 81 1 0 -0.9 -6.1z"/>
<path fill="#30a846" d="M322.1 279.2a3.7 3.4 132 1 0 -5.0 5.4a3.7 3.4 132 1 0 5.0 -5.4zM278.7 300.2a3.5 2.6 93 1 0 -0.5 7.0a3.5 2.6 93 1 0 0.5 -7.0zM336.0 309.8a3.2 3.2 155 1 0 -5.8 2.7a3.2 3.2 155 1 0 5.8 -2.7zM332.2 346.5a2.9 2.6 177 1 0 -5.7 0.3a2.9 2.6 177 1 0 5.7 -0.3z"/>
<path fill="#45ac41" d="M333.8 284.9a2.9 2.6 171 1 0 -5.8 0.9a2.9 2.6 171 1 0 5.8 -0.9zM341.5 283.7a3.6 3.3 158 1 0 -6.7 2.6a3.6 3.3 158 1 0 6.7 -2.6zM297.7 305.1a3.5 3.1 116 1 0 -3.1 6.2a3.5 3.1 116 1 0 3.1 -6.2z"/>
<path fill="#a5c12f" d="M269.4 286.8a3.1 3.0 43 1 0 4.5 4.3a3.1 3.0 43 1 0 -4.5 -4.3zM309.7 296.2a2.8 2.1 146 1 0 -4.6 3.1a2.8 2.1 146 1 0 4.6 -3.1zM286.1 348.7a3.0 2.3 177 1 0 -5.9 0.2a3.0 2.3 177 1 0 5.9 -0.2zM308.2 343.6a3.3 2.8 18 1 0 6.3 2.0a3.3 2.8 18 1 0 -6.3 -2.0zM269.3 355.1a3.2 2.5 38 1 0 5.0 3.9a3.2 2.5 38 1 0 -5.0 -3.9zM308.0 352.5a3.3 2.6 35 1 0 5.5 3.8a3.3 2.6 35 1 0 -5.5 -3.8zM316.8 355.8a3.3 3.0 19 1 0 6.3 2.3a3.3 3.0 19 1 0 -6.3 -2.3zM288.5 378.1a3.6 3.1 49 1 0 4.7 5.5a3.6 3.1 49 1 0 -4.7 -5.5zM318.0 400.2a3.5 2.6 166 1 0 -6.9 1.7a3.5 2.6 166 1 0 6.9 -1.7zM311.1 404.8a2.8 2.6 105 1 0 -1.4 5.4a2.8 2.6 105 1 0 1.4 -5.4zM296.1 412.8a3.5 2.9 15 1 0 6.8 1.8a3.5 2.9 15 1 0 -6.8 -1.8zM302.6 423.7a3.4 3.0 16 1 0 6.4 1.9a3.4 3.0 16 1 0 -6.4 -1.9z"/>
<path fill="#98be31" d="M302.8 291.5a3.1 2.7 178 1 0 -6.1 0.2a3.1 2.7 178 1 0 6.1 -0.2zM269.2 303.6a3.5 2.5 97 1 0 -0.9 6.9a3.5 2.5 97 1 0 0.9 -6.9zM265.5 314.7a2.9 2.5 39 1 0 4.5 3.7a2.9 2.5 39 1 0 -4.5 -3.7zM278.4 318.9a2.7 2.1 149 1 0 -4.6 2.8a2.7 2.1 149 1 0 4.6 -2.8zM288.1 330.4a3.4 2.6 169 1 0 -6.8 1.2a3.4 2.6 169 1 0 6.8 -1.2zM291.5 324.6a2.7 2.6 57 1 0 2.9 4.6a2.7 2.6 57 1 0 -2.9 -4.6zM258.2 338.7a3.1 3.0 125 1 0 -3.6 5.1a3.1 3.0 125 1 0 3.6 -5.1zM306.8 332.8a3.6 3.0 146 1 0 -5.9 4.0a3.6 3.0 146 1 0 5.9 -4.0zM323.2 337.0a3.6 3.3 136 1 0 -5.3 5.0a3.6 3.3 136 1 0 5.3 -5.0zM293.2 340.8a2.9 2.8 97 1 0 -0.7 5.7a2.9 2.8 97 1 0 0.7 -5.7zM304.1 361.9a3.4 3.1 27 1 0 6.1 3.1a3.4 3.1 27 1 0 -6.1 -3.1zM316.5 363.7a3.2 2.7 87 1 0 0.3 6.3a3.2 2.7 87 1 0 -0.3 -6.3zM312.4 368.9a2.8 2.3 49 1 0 3.6 4.3a2.8 2.3 49 1 0 -3.6 -4.3zM279.6 381.8a3.0 2.3 61 1 0 2.9 5.3a3.0 2.3 61 1 0 -2.9 -5.3zM281.5 391.7a2.8 2.1 102 1 0 -1.2 5.5a2.8 2.1 102 1 0 1.2 -5.5zM298.2 384.4a3.2 3.0 88 1 0 0.1 6.3a3.2 3.0 88 1 0 -0.1 -6.3zM286.4 415.3a2.7 2.2 22 1 0 4.9 2.1a2.7 2.2 22 1 0 -4.9 -2.1zM278.7 463.0a3.3 3.2 28 1 0 5.7 3.1a3.3 3.2 28 1 0 -5.7 -3.1z"/>
<path fill="#2ca869" d="M337.0 292.1a2.8 2.8 111 1 0 -2.1 5.3a2.8 2.8 111 1 0 2.1 -5.3zM328.4 312.2a2.8 2.0 163 1 0 -5.4 1.6a2.8 2.0 163 1 0 5.4 -1.6z"/>
<path fill="#25a898" d="M249.0 298.2a2.7 2.1 58 1 0 2.8 4.5a2.7 2.1 58 1 0 -2.8 -4.5zM326.0 320.7a2.8 2.6 179 1 0 -5.6 0.0a2.8 2.6 179 1 0 5.6 -0.0zM242.8 345.1a3.2 3.0 18 1 0 6.1 2.0a3.2 3.0 18 1 0 -6.1 -2.0zM243.4 413.0a3.1 3.0 76 1 0 1.5 6.1a3.1 3.0 76 1 0 -1.5 -6.1zM245.9 450.0a3.5 3.4 74 1 0 1.8 6.7a3.5 3.4 74 1 0 -1.8 -6.7z"/>
<path fill="#b1c32c" d="M295.5 296.9a3.1 2.3 55 1 0 3.5 5.2a3.1 2.3 55 1 0 -3.5 -5.2zM301.0 323.3a3.1 2.8 49 1 0 4.0 4.7a3.1 2.8 49 1 0 -4.0 -4.7zM261.1 333.1a3.6 3.4 26 1 0 6.5 3.2a3.6 3.4 26 1 0 -6.5 -3.2zM263.5 340.8a3.5 3.5 71 1 0 2.2 6.7a3.5 3.5 71 1 0 -2.2 -6.7zM275.7 374.1a3.0 2.4 171 1 0 -6.0 0.9a3.0 2.4 171 1 0 6.0 -0.9zM295.8 368.9a3.1 2.4 140 1 0 -4.7 3.8a3.1 2.4 140 1 0 4.7 -3.8zM318.8 381.0a3.2 2.9 77 1 0 1.4 6.3a3.2 2.9 77 1 0 -1.4 -6.3zM300.0 395.6a3.0 2.4 155 1 0 -5.5 2.5a3.0 2.4 155 1 0 5.5 -2.5zM273.6 417.6a2.9 2.4 163 1 0 -5.6 1.6a2.9 2.4 163 1 0 5.6 -1.6z"/>
<path fill="#2288c7" d="M243.2 307.7a2.7 2.3 153 1 0 -4.7 2.4a2.7 2.3 153 1 0 4.7 -2.4zM237.4 323.9a3.3 2.5 103 1 0 -1.6 6.5a3.3 2.5 103 1 0 1.6 -6.5zM236.9 352.2a2.9 2.6 149 1 0 -4.9 2.9a2.9 2.6 149 1 0 4.9 -2.9zM241.7 406.8a3.2 3.1 33 1 0 5.3 3.5a3.2 3.1 33 1 0 -5.3 -3.5zM234.6 414.5a2.8 2.2 90 1 0 -0.0 5.5a2.8 2.2 90 1 0 0.0 -5.5z"/>
<path fill="#c9b726" d="M287.7 310.0a3.1 2.5 124 1 0 -3.5 5.1a3.1 2.5 124 1 0 3.5 -5.1zM257.8 319.6a2.6 1.9 118 1 0 -2.5 4.6a2.6 1.9 118 1 0 2.5 -4.6zM288.8 353.0a2.8 2.2 23 1 0 5.1 2.2a2.8 2.2 23 1 0 -5.1 -2.2zM286.3 374.3a2.8 2.7 144 1 0 -4.6 3.3a2.8 2.7 144 1 0 4.6 -3.3zM261.3 376.3a3.7 3.6 79 1 0 1.3 7.2a3.7 3.6 79 1 0 -1.3 -7.2zM266.1 402.7a3.6 3.3 130 1 0 -4.6 5.5a3.6 3.3 130 1 0 4.6 -5.5zM275.5 410.6a2.7 2.5 175 1 0 -5.4 0.5a2.7 2.5 175 1 0 5.4 -0.5zM298.1 406.0a2.7 2.7 3 1 0 5.5 0.3a2.7 2.7 3 1 0 -5.5 -0.3zM267.0 433.5a2.7 2.4 176 1 0 -5.3 0.3a2.7 2.4 176 1 0 5.3 -0.3zM270.4 443.1a3.5 2.7 78 1 0 1.4 6.9a3.5 2.7 78 1 0 -1.4 -6.9zM297.6 450.8a3.4 3.1 158 1 0 -6.3 2.5a3.4 3.1 158 1 0 6.3 -2.5z"/>
<path fill="#1fa9b1" d="M236.1 316.5a3.0 3.0 55 1 0 3.4 4.9a3.0 3.0 55 1 0 -3.4 -4.9zM238.1 343.1a3.3 2.5 147 1 0 -5.5 3.5a3.3 2.5 147 1 0 5.5 -3.5zM245.5 424.1a3.2 2.5 141 1 0 -5.0 4.0a3.2 2.5 141 1 0 5.0 -4.0z"/>
<path fill="#cd7824" d="M278.7 328.7a3.6 3.2 166 1 0 -7.1 1.7a3.6 3.2 166 1 0 7.1 -1.7zM252.4 437.7a2.7 2.5 35 1 0 4.3 3.1a2.7 2.5 35 1 0 -4.3 -3.1zM272.7 434.4a3.4 2.7 86 1 0 0.4 6.8a3.4 2.7 86 1 0 -0.4 -6.8zM265.9 447.0a3.4 2.7 89 1 0 0.0 6.8a3.4 2.7 89 1 0 -0.0 -6.8zM266.0 459.3a2.7 2.0 156 1 0 -4.9 2.2a2.7 2.0 156 1 0 4.9 -2.2z"/>
<path fill="#2aa87a" d="M335.3 328.0a3.5 3.0 155 1 0 -6.4 2.9a3.5 3.0 155 1 0 6.4 -2.9zM256.1 357.9a2.8 2.4 177 1 0 -5.5 0.2a2.8 2.4 177 1 0 5.5 -0.2zM238.5 362.0a3.5 2.6 169 1 0 -6.8 1.2a3.5 2.6 169 1 0 6.8 -1.2zM230.3 406.6a2.9 2.9 34 1 0 4.9 3.3a2.9 2.9 34 1 0 -4.9 -3.3zM236.9 422.3a3.6 2.7 119 1 0 -3.6 6.3a3.6 2.7 119 1 0 3.6 -6.3zM237.2 431.2a2.7 2.3 111 1 0 -2.0 5.1a2.7 2.3 111 1 0 2.0 -5.1zM243.5 432.9a3.2 2.4 39 1 0 4.9 4.0a3.2 2.4 39 1 0 -4.9 -4.0zM234.9 450.0a2.6 2.1 50 1 0 3.3 4.1a2.6 2.1 50 1 0 -3.3 -4.1zM242.2 468.8a2.7 2.1 158 1 0 -5.0 2.0a2.7 2.1 158 1 0 5.0 -2.0z"/>
<path fill="#2093c4" d="M244.2 335.0a3.3 2.6 39 1 0 5.0 4.2a3.3 2.6 39 1 0 -5.0 -4.2zM251.6 392.7a2.8 2.8 54 1 0 3.3 4.6a2.8 2.8 54 1 0 -3.3 -4.6zM242.2 396.3a3.1 2.4 61 1 0 3.0 5.4a3.1 2.4 61 1 0 -3.0 -5.4z"/>
<path fill="#cba924" d="M283.3 336.7a2.8 2.7 92 1 0 -0.3 5.5a2.8 2.7 92 1 0 0.3 -5.5zM273.4 344.4a3.3 2.9 64 1 0 2.8 6.0a3.3 2.9 64 1 0 -2.8 -6.0zM270.8 381.6a2.8 2.3 69 1 0 2.0 5.3a2.8 2.3 69 1 0 -2.0 -5.3zM311.5 388.2a3.4 2.5 145 1 0 -5.6 3.8a3.4 2.5 145 1 0 5.6 -3.8zM261.2 421.2a2.8 2.2 102 1 0 -1.2 5.5a2.8 2.2 102 1 0 1.2 -5.5zM269.5 466.3a2.8 2.7 114 1 0 -2.3 5.2a2.8 2.7 114 1 0 2.3 -5.2z"/>
<path fill="#c8c527" d="M313.7 335.6a2.7 2.7 160 1 0 -5.1 1.8a2.7 2.7 160 1 0 5.1 -1.8zM275.4 401.4a3.2 2.3 28 1 0 5.5 3.0a3.2 2.3 28 1 0 -5.5 -3.0zM295.1 407.6a3.5 3.1 178 1 0 -6.9 0.2a3.5 3.1 178 1 0 6.9 -0.2zM296.4 419.2a3.5 3.5 96 1 0 -0.8 7.0a3.5 3.5 96 1 0 0.8 -7.0zM286.3 439.5a3.7 3.3 36 1 0 5.9 4.4a3.7 3.3 36 1 0 -5.9 -4.4z"/>
<path fill="#1caabe" d="M246.9 353.8a3.2 3.2 177 1 0 -6.4 0.3a3.2 3.2 177 1 0 6.4 -0.3zM244.3 361.0a3.0 2.9 93 1 0 -0.4 6.0a3.0 2.9 93 1 0 0.4 -6.0z"/>
<path fill="#cd9b23" d="M259.0 358.8a3.6 2.7 31 1 0 6.1 3.7a3.6 2.7 31 1 0 -6.1 -3.7zM271.5 424.7a3.1 2.3 125 1 0 -3.6 5.0a3.1 2.3 125 1 0 3.6 -5.0zM274.4 426.4a3.7 2.9 32 1 0 6.2 4.0a3.7 2.9 32 1 0 -6.2 -4.0zM259.7 440.7a3.1 2.3 37 1 0 5.0 3.8a3.1 2.3 37 1 0 -5.0 -3.8zM279.3 453.0a3.6 3.0 131 1 0 -4.8 5.4a3.6 3.0 131 1 0 4.8 -5.4zM258.4 471.8a3.3 2.9 99 1 0 -1.1 6.5a3.3 2.9 99 1 0 1.1 -6.5z"/>
<path fill="#2578bd" d="M240.6 370.2a3.4 3.3 20 1 0 6.3 2.4a3.4 3.3 20 1 0 -6.3 -2.4zM254.9 385.7a3.5 2.7 178 1 0 -7.0 0.2a3.5 2.7 178 1 0 7.0 -0.2z"/>
<path fill="#cd6725" d="M255.1 418.7a3.4 3.0 110 1 0 -2.4 6.5a3.4 3.0 110 1 0 2.4 -6.5zM283.3 418.0a3.4 2.4 152 1 0 -6.0 3.2a3.4 2.4 152 1 0 6.0 -3.2zM283.3 434.8a3.0 2.9 119 1 0 -3.0 5.3a3.0 2.9 119 1 0 3.0 -5.3zM288.5 457.5a3.6 2.8 41 1 0 5.5 4.8a3.6 2.8 41 1 0 -5.5 -4.8z"/>
<path fill="#cd8923" d="M287.5 422.7a2.7 2.7 102 1 0 -1.2 5.4a2.7 2.7 102 1 0 1.2 -5.4zM254.9 463.5a2.8 2.7 88 1 0 0.1 5.5a2.8 2.7 88 1 0 -0.1 -5.5z"/>
<path fill="#ca5924" d="M290.6 433.1a3.1 2.7 19 1 0 5.9 2.1a3.1 2.7 19 1 0 -5.9 -2.1z"/>
<path fill="#c2311f" d="M257.1 444.6a3.5 2.5 121 1 0 -3.7 6.0a3.5 2.5 121 1 0 3.7 -6.0z"/>
<path fill="#c84b23" d="M261.4 456.2a3.6 3.0 169 1 0 -7.0 1.3a3.6 3.0 169 1 0 7.0 -1.3zM273.9 460.3a3.4 3.1 116 1 0 -3.1 6.1a3.4 3.1 116 1 0 3.1 -6.1z"/>
<path fill="#000" d="M325.6 277.3a1.1 1.1 0 1 0 2.3 0a1.1 1.1 0 1 0 -2.3 0zM323.0 278.5a0.7 0.7 0 1 0 1.5 0a0.7 0.7 0 1 0 -1.5 0zM264.3 301.7a0.7 0.7 0 1 0 1.4 0a0.7 0.7 0 1 0 -1.4 0zM262.1 303.5a1.2 1.2 0 1 0 2.4 0a1.2 1.2 0 1 0 -2.4 0zM243.2 414.3a1.4 1.4 0 1 0 2.8 0a1.4 1.4 0 1 0 -2.8 0zM246.3 416.7a1.0 1.0 0 1 0 2.1 0a1.0 1.0 0 1 0 -2.1 0zM277.8 273.4a0.8 0.8 0 1 0 1.7 0a0.8 0.8 0 1 0 -1.7 0zM275.6 273.6a1.6 1.6 0 1 0 3.2 0a1.6 1.6 0 1 0 -3.2 0zM249.2 421.5a0.6 0.6 0 1 0 1.2 0a0.6 0.6 0 1 0 -1.2 0zM246.0 419.2a0.9 0.9 0 1 0 1.9 0a0.9 0.9 0 1 0 -1.9 0zM248.8 315.8a1.2 1.2 0 1 0 2.4 0a1.2 1.2 0 1 0 -2.4 0zM298.4 369.8a1.5 1.5 0 1 0 2.9 0a1.5 1.5 0 1 0 -2.9 0zM303.3 382.3a1.6 1.6 0 1 0 3.2 0a1.6 1.6 0 1 0 -3.2 0zM254.7 313.2a1.1 1.1 0 1 0 2.2 0a1.1 1.1 0 1 0 -2.2 0zM284.3 307.0a0.6 0.6 0 1 0 1.3 0a0.6 0.6 0 1 0 -1.3 0zM259.8 401.5a1.6 1.6 0 1 0 3.3 0a1.6 1.6 0 1 0 -3.3 0zM257.8 400.9a1.9 1.9 0 1 0 3.9 0a1.9 1.9 0 1 0 -3.9 0zM257.0 401.4a2.1 2.1 0 1 0 4.3 0a2.1 2.1 0 1 0 -4.3 0zM260.8 401.1a0.9 0.9 0 1 0 1.7 0a0.9 0.9 0 1 0 -1.7 0zM247.1 319.1a0.7 0.7 0 1 0 1.3 0a0.7 0.7 0 1 0 -1.3 0zM246.2 317.5a1.2 1.2 0 1 0 2.3 0a1.2 1.2 0 1 0 -2.3 0zM317.2 363.6a0.7 0.7 0 1 0 1.4 0a0.7 0.7 0 1 0 -1.4 0zM317.0 362.7a2.4 2.4 0 1 0 4.9 0a2.4 2.4 0 1 0 -4.9 0zM296.7 297.7a0.9 0.9 0 1 0 1.8 0a0.9 0.9 0 1 0 -1.8 0zM296.9 300.0a1.5 1.5 0 1 0 3.0 0a1.5 1.5 0 1 0 -3.0 0zM279.7 344.1a0.6 0.6 0 1 0 1.3 0a0.6 0.6 0 1 0 -1.3 0zM282.1 343.8a1.0 1.0 0 1 0 2.1 0a1.0 1.0 0 1 0 -2.1 0zM335.2 306.8a0.8 0.8 0 1 0 1.6 0a0.8 0.8 0 1 0 -1.6 0zM265.7 389.7a1.1 1.1 0 1 0 2.2 0a1.1 1.1 0 1 0 -2.2 0zM267.1 393.6a1.0 1.0 0 1 0 2.1 0a1.0 1.0 0 1 0 -2.1 0zM286.2 343.0a1.5 1.5 0 1 0 3.0 0a1.5 1.5 0 1 0 -3.0 0zM241.8 382.7a1.4 1.4 0 1 0 2.7 0a1.4 1.4 0 1 0 -2.7 0zM245.2 383.5a1.7 1.7 0 1 0 3.4 0a1.7 1.7 0 1 0 -3.4 0zM241.3 384.5a2.3 2.3 0 1 0 4.5 0a2.3 2.3 0 1 0 -4.5 0zM245.4 385.1a1.3 1.3 0 1 0 2.6 0a1.3 1.3 0 1 0 -2.6 0zM296.4 290.1a0.9 0.9 0 1 0 1.7 0a0.9 0.9 0 1 0 -1.7 0zM304.9 281.2a2.0 2.0 0 1 0 4.0 0a2.0 2.0 0 1 0 -4.0 0zM303.1 284.6a1.1 1.1 0 1 0 2.3 0a1.1 1.1 0 1 0 -2.3 0zM304.8 283.4a2.1 2.1 0 1 0 4.3 0a2.1 2.1 0 1 0 -4.3 0zM304.1 281.1a1.6 1.6 0 1 0 3.2 0a1.6 1.6 0 1 0 -3.2 0zM290.9 391.8a0.7 0.7 0 1 0 1.4 0a0.7 0.7 0 1 0 -1.4 0zM308.0 324.0a0.8 0.8 0 1 0 1.6 0a0.8 0.8 0 1 0 -1.6 0zM306.8 324.5a1.4 1.4 0 1 0 2.7 0a1.4 1.4 0 1 0 -2.7 0zM274.6 360.9a1.0 1.0 0 1 0 2.0 0a1.0 1.0 0 1 0 -2.0 0zM274.6 365.2a1.4 1.4 0 1 0 2.9 0a1.4 1.4 0 1 0 -2.9 0zM303.2 285.0a0.8 0.8 0 1 0 1.7 0a0.8 0.8 0 1 0 -1.7 0zM320.5 307.7a2.0 2.0 0 1 0 4.1 0a2.0 2.0 0 1 0 -4.1 0zM319.3 310.3a1.0 1.0 0 1 0 1.9 0a1.0 1.0 0 1 0 -1.9 0zM321.0 307.9a2.3 2.3 0 1 0 4.6 0a2.3 2.3 0 1 0 -4.6 0zM268.0 382.9a0.9 0.9 0 1 0 1.9 0a0.9 0.9 0 1 0 -1.9 0zM267.3 379.9a1.3 1.3 0 1 0 2.7 0a1.3 1.3 0 1 0 -2.7 0zM254.0 387.7a1.6 1.6 0 1 0 3.2 0a1.6 1.6 0 1 0 -3.2 0zM255.0 433.8a1.3 1.3 0 1 0 2.5 0a1.3 1.3 0 1 0 -2.5 0zM273.5 384.5a1.0 1.0 0 1 0 2.0 0a1.0 1.0 0 1 0 -2.0 0zM269.8 387.6a1.3 1.3 0 1 0 2.5 0a1.3 1.3 0 1 0 -2.5 0zM272.2 384.3a0.9 0.9 0 1 0 1.8 0a0.9 0.9 0 1 0 -1.8 0zM268.6 386.6a2.3 2.3 0 1 0 4.6 0a2.3 2.3 0 1 0 -4.6 0zM297.5 424.6a1.3 1.3 0 1 0 2.6 0a1.3 1.3 0 1 0 -2.6 0zM282.9 443.6a0.9 0.9 0 1 0 1.8 0a0.9 0.9 0 1 0 -1.8 0zM344.2 274.7a1.2 1.2 0 1 0 2.4 0a1.2 1.2 0 1 0 -2.4 0zM284.5 376.9a0.6 0.6 0 1 0 1.2 0a0.6 0.6 0 1 0 -1.2 0zM235.7 329.6a0.9 0.9 0 1 0 1.9 0a0.9 0.9 0 1 0 -1.9 0zM236.4 334.0a1.3 1.3 0 1 0 2.5 0a1.3 1.3 0 1 0 -2.5 0zM236.4 273.5a2.7 2.1 0 1 0 5.3 0a2.7 2.1 0 1 0 -5.3 0zM243.1 273.5a1.9 1.6 0 1 0 3.9 0a1.9 1.6 0 1 0 -3.9 0zM268.4 273.5a2.3 1.8 0 1 0 4.6 0a2.3 1.8 0 1 0 -4.6 0zM275.8 273.5a1.8 1.4 0 1 0 3.5 0a1.8 1.4 0 1 0 -3.5 0zM315.1 273.5a2.2 1.8 0 1 0 4.4 0a2.2 1.8 0 1 0 -4.4 0zM335.1 273.5a2.2 1.8 0 1 0 4.4 0a2.2 1.8 0 1 0 -4.4 0z"/>
<path fill="#294495" d="M418.1 271.8a3.1 2.9 158 1 0 -5.7 2.3a3.1 2.9 158 1 0 5.7 -2.3zM505.2 299.5a3.3 2.4 44 1 0 4.8 4.6a3.3 2.4 44 1 0 -4.8 -4.6zM418.2 422.0a2.6 2.3 179 1 0 -5.3 0.1a2.6 2.3 179 1 0 5.3 -0.1zM421.8 416.2a3.2 3.2 57 1 0 3.5 5.4a3.2 3.2 57 1 0 -3.5 -5.4zM427.9 428.8a2.6 2.1 170 1 0 -5.2 0.8a2.6 2.1 170 1 0 5.2 -0.8zM409.2 432.8a2.8 2.8 120 1 0 -2.9 4.9a2.8 2.8 120 1 0 2.9 -4.9zM407.5 440.9a3.4 2.5 88 1 0 0.2 6.8a3.4 2.5 88 1 0 -0.2 -6.8zM421.9 471.2a3.0 2.8 100 1 0 -1.1 5.8a3.0 2.8 100 1 0 1.1 -5.8z"/>
<path fill="#2578bd" d="M421.4 272.4a2.8 2.5 52 1 0 3.4 4.4a2.8 2.5 52 1 0 -3.4 -4.4zM494.7 275.4a3.1 2.7 139 1 0 -4.7 4.1a3.1 2.7 139 1 0 4.7 -4.1zM509.2 272.5a3.6 3.0 62 1 0 3.3 6.4a3.6 3.0 62 1 0 -3.3 -6.4zM505.6 292.6a2.8 2.1 2 1 0 5.6 0.2a2.8 2.1 2 1 0 -5.6 -0.2zM409.3 305.0a3.6 3.3 53 1 0 4.3 5.7a3.6 3.3 53 1 0 -4.3 -5.7zM491.5 323.1a2.9 2.7 65 1 0 2.4 5.2a2.9 2.7 65 1 0 -2.4 -5.2zM426.7 347.4a2.9 2.7 141 1 0 -4.6 3.6a2.9 2.7 141 1 0 4.6 -3.6zM406.1 413.2a3.0 2.9 97 1 0 -0.8 5.9a3.0 2.9 97 1 0 0.8 -5.9zM408.8 422.2a2.9 2.7 97 1 0 -0.7 5.8a2.9 2.7 97 1 0 0.7 -5.8z"/>
<path fill="#45ac41" d="M432.0 276.4a3.3 2.5 32 1 0 5.5 3.5a3.3 2.5 32 1 0 -5.5 -3.5zM469.4 282.5a3.6 3.6 25 1 0 6.4 3.1a3.6 3.6 25 1 0 -6.4 -3.1zM461.9 290.5a2.8 2.4 118 1 0 -2.7 4.9a2.8 2.4 118 1 0 2.7 -4.9zM461.1 299.0a3.3 3.1 98 1 0 -0.9 6.5a3.3 3.1 98 1 0 0.9 -6.5zM464.4 311.9a2.7 2.5 3 1 0 5.4 0.3a2.7 2.5 3 1 0 -5.4 -0.3zM453.9 326.6a3.0 2.5 71 1 0 1.9 5.8a3.0 2.5 71 1 0 -1.9 -5.8zM455.0 336.1a2.7 2.6 85 1 0 0.4 5.3a2.7 2.6 85 1 0 -0.4 -5.3zM460.7 353.9a2.9 2.6 114 1 0 -2.4 5.3a2.9 2.6 114 1 0 2.4 -5.3zM487.1 359.2a3.0 2.5 85 1 0 0.5 5.9a3.0 2.5 85 1 0 -0.5 -5.9z"/>
<path fill="#5ab13d" d="M441.8 275.9a2.8 2.7 30 1 0 4.9 2.9a2.8 2.7 30 1 0 -4.9 -2.9zM474.4 274.4a2.8 2.5 127 1 0 -3.4 4.5a2.8 2.5 127 1 0 3.4 -4.5zM443.7 293.0a3.0 2.5 129 1 0 -3.8 4.7a3.0 2.5 129 1 0 3.8 -4.7zM465.9 299.9a3.4 3.2 41 1 0 5.0 4.5a3.4 3.2 41 1 0 -5.0 -4.5zM489.9 333.6a2.8 2.1 74 1 0 1.5 5.4a2.8 2.1 74 1 0 -1.5 -5.4zM432.9 353.9a3.3 2.9 91 1 0 -0.1 6.6a3.3 2.9 91 1 0 0.1 -6.6zM460.6 372.7a3.0 2.4 167 1 0 -5.9 1.3a3.0 2.4 167 1 0 5.9 -1.3z"/>
<path fill="#22a9a5" d="M451.1 272.3a3.5 3.3 9 1 0 6.8 1.2a3.5 3.3 9 1 0 -6.8 -1.2z"/>
<path fill="#2aa87a" d="M460.6 271.9a3.5 2.7 53 1 0 4.2 5.7a3.5 2.7 53 1 0 -4.2 -5.7z"/>
<path fill="#28a88c" d="M481.5 270.3a3.3 3.0 94 1 0 -0.5 6.7a3.3 3.0 94 1 0 0.5 -6.7z"/>
<path fill="#2e2a6e" d="M426.0 281.0a3.6 3.5 133 1 0 -5.1 5.2a3.6 3.5 133 1 0 5.1 -5.2zM419.2 305.8a3.4 2.7 61 1 0 3.2 6.0a3.4 2.7 61 1 0 -3.2 -6.0z"/>
<path fill="#6fb539" d="M434.5 285.3a3.0 2.4 102 1 0 -1.3 5.8a3.0 2.4 102 1 0 1.3 -5.8zM487.9 285.7a3.2 2.3 11 1 0 6.3 1.3a3.2 2.3 11 1 0 -6.3 -1.3zM442.3 303.6a2.8 2.6 172 1 0 -5.5 0.7a2.8 2.6 172 1 0 5.5 -0.7zM435.6 312.3a3.3 3.1 12 1 0 6.4 1.4a3.3 3.1 12 1 0 -6.4 -1.4zM447.9 313.8a3.4 3.1 69 1 0 2.4 6.4a3.4 3.1 69 1 0 -2.4 -6.4zM446.5 333.4a2.8 2.1 144 1 0 -4.6 3.3a2.8 2.1 144 1 0 4.6 -3.3zM452.3 343.7a3.2 2.4 107 1 0 -1.9 6.0a3.2 2.4 107 1 0 1.9 -6.0zM490.3 341.4a2.9 2.5 91 1 0 -0.1 5.8a2.9 2.5 91 1 0 0.1 -5.8z"/>
<path fill="#85ba35" d="M444.0 283.5a3.1 2.6 127 1 0 -3.7 4.9a3.1 2.6 127 1 0 3.7 -4.9zM452.8 290.4a2.7 2.1 160 1 0 -5.2 1.8a2.7 2.1 160 1 0 5.2 -1.8zM468.9 290.4a3.1 2.7 50 1 0 3.9 4.7a3.1 2.7 50 1 0 -3.9 -4.7zM434.4 304.8a3.2 3.1 163 1 0 -6.0 1.8a3.2 3.1 163 1 0 6.0 -1.8zM478.2 308.1a2.8 2.7 141 1 0 -4.4 3.5a2.8 2.7 141 1 0 4.4 -3.5zM428.4 329.7a3.3 2.5 89 1 0 0.0 6.6a3.3 2.5 89 1 0 -0.0 -6.6zM439.9 330.9a3.0 2.8 176 1 0 -6.0 0.4a3.0 2.8 176 1 0 6.0 -0.4zM443.5 361.1a3.3 3.1 173 1 0 -6.5 0.7a3.3 3.1 173 1 0 6.5 -0.7zM458.4 362.7a2.9 2.2 89 1 0 0.1 5.9a2.9 2.2 89 1 0 -0.1 -5.9zM477.4 374.2a3.7 3.5 130 1 0 -4.7 5.6a3.7 3.5 130 1 0 4.7 -5.6zM477.2 381.8a3.0 2.3 123 1 0 -3.3 5.0a3.0 2.3 123 1 0 3.3 -5.0z"/>
<path fill="#2ea857" d="M448.5 279.0a3.3 2.7 35 1 0 5.4 3.9a3.3 2.7 35 1 0 -5.4 -3.9zM463.4 281.0a3.0 2.3 96 1 0 -0.7 5.9a3.0 2.3 96 1 0 0.7 -5.9z"/>
<path fill="#2093c4" d="M502.0 280.0a3.0 2.4 126 1 0 -3.6 4.9a3.0 2.4 126 1 0 3.6 -4.9zM497.6 327.5a3.7 2.9 23 1 0 6.8 3.0a3.7 2.9 23 1 0 -6.8 -3.0z"/>
<path fill="#1caabe" d="M506.5 282.2a3.5 3.0 28 1 0 6.1 3.3a3.5 3.0 28 1 0 -6.1 -3.3zM422.2 356.0a2.8 2.0 89 1 0 0.1 5.5a2.8 2.0 89 1 0 -0.1 -5.5z"/>
<path fill="#1e9ec1" d="M415.0 289.5a2.6 2.1 138 1 0 -3.9 3.5a2.6 2.1 138 1 0 3.9 -3.5z"/>
<path fill="#2a55a3" d="M423.8 288.6a3.4 2.9 101 1 0 -1.3 6.6a3.4 2.9 101 1 0 1.3 -6.6zM413.3 297.5a2.8 2.5 87 1 0 0.3 5.6a2.8 2.5 87 1 0 -0.3 -5.6zM504.1 317.7a2.6 2.1 127 1 0 -3.2 4.2a2.6 2.1 127 1 0 3.2 -4.2zM498.9 335.3a3.5 3.3 59 1 0 3.5 6.0a3.5 3.3 59 1 0 -3.5 -6.0zM398.8 375.8a3.0 2.4 82 1 0 0.8 5.9a3.0 2.4 82 1 0 -0.8 -5.9zM399.6 396.1a3.5 2.8 136 1 0 -5.0 4.8a3.5 2.8 136 1 0 5.0 -4.8zM399.8 449.5a2.9 2.3 62 1 0 2.7 5.1a2.9 2.3 62 1 0 -2.7 -5.1zM403.4 466.7a3.0 2.2 90 1 0 -0.0 6.0a3.0 2.2 90 1 0 0.0 -6.0z"/>
<path fill="#2ca869" d="M429.2 295.9a3.5 3.0 4 1 0 6.9 0.6a3.5 3.0 4 1 0 -6.9 -0.6zM490.5 294.0a3.1 2.8 132 1 0 -4.2 4.5a3.1 2.8 132 1 0 4.2 -4.5zM474.5 298.7a3.1 3.0 21 1 0 5.7 2.2a3.1 3.0 21 1 0 -5.7 -2.2z"/>
<path fill="#30a846" d="M483.9 289.3a3.3 3.2 158 1 0 -6.1 2.4a3.3 3.2 158 1 0 6.1 -2.4zM460.6 319.5a3.2 3.1 171 1 0 -6.4 1.0a3.2 3.1 171 1 0 6.4 -1.0zM447.4 323.1a3.4 2.5 108 1 0 -2.1 6.4a3.4 2.5 108 1 0 2.1 -6.4z"/>
<path fill="#1fa9b1" d="M500.7 288.3a3.3 2.9 125 1 0 -3.9 5.4a3.3 2.9 125 1 0 3.9 -5.4z"/>
<path fill="#283d90" d="M426.2 299.1a3.5 3.3 163 1 0 -6.7 1.9a3.5 3.3 163 1 0 6.7 -1.9zM494.1 306.9a2.9 2.4 47 1 0 3.9 4.3a2.9 2.4 47 1 0 -3.9 -4.3zM408.3 331.5a2.6 2.6 93 1 0 -0.3 5.3a2.6 2.6 93 1 0 0.3 -5.3zM411.9 369.9a3.2 2.8 121 1 0 -3.4 5.4a3.2 2.8 121 1 0 3.4 -5.4zM425.1 383.2a3.2 3.0 27 1 0 5.7 3.0a3.2 3.0 27 1 0 -5.7 -3.0zM416.6 392.0a3.4 3.0 77 1 0 1.4 6.7a3.4 3.0 77 1 0 -1.4 -6.7zM426.9 389.4a2.9 2.8 95 1 0 -0.5 5.7a2.9 2.8 95 1 0 0.5 -5.7zM404.6 405.3a3.3 2.7 49 1 0 4.3 5.0a3.3 2.7 49 1 0 -4.3 -5.0zM401.3 413.7a2.8 2.4 159 1 0 -5.2 2.0a2.8 2.4 159 1 0 5.2 -2.0zM418.2 453.5a2.9 2.5 98 1 0 -0.8 5.8a2.9 2.5 98 1 0 0.8 -5.8zM399.6 458.6a3.4 2.7 33 1 0 5.6 3.7a3.4 2.7 33 1 0 -5.6 -3.7z"/>
<path fill="#98be31" d="M447.6 297.1a3.4 2.5 38 1 0 5.4 4.2a3.4 2.5 38 1 0 -5.4 -4.2zM488.5 300.6a3.4 2.5 80 1 0 1.1 6.7a3.4 2.5 80 1 0 -1.1 -6.7zM483.8 313.1a3.2 2.4 13 1 0 6.2 1.5a3.2 2.4 13 1 0 -6.2 -1.5zM437.3 319.7a2.8 2.1 32 1 0 4.8 3.1a2.8 2.1 32 1 0 -4.8 -3.1zM476.5 315.9a2.7 2.6 110 1 0 -1.9 5.1a2.7 2.6 110 1 0 1.9 -5.1zM480.1 330.9a3.5 3.3 26 1 0 6.2 3.1a3.5 3.3 26 1 0 -6.2 -3.1zM479.2 346.3a2.6 2.6 80 1 0 0.8 5.2a2.6 2.6 80 1 0 -0.8 -5.2zM427.6 364.9a3.6 2.7 27 1 0 6.3 3.3a3.6 2.7 27 1 0 -6.3 -3.3zM448.7 360.9a3.6 3.2 78 1 0 1.4 7.1a3.6 3.2 78 1 0 -1.4 -7.1zM466.5 378.0a2.7 2.4 87 1 0 0.2 5.4a2.7 2.4 87 1 0 -0.2 -5.4z"/>
<path fill="#2288c7" d="M494.8 299.6a3.0 2.7 5 1 0 6.1 0.5a3.0 2.7 5 1 0 -6.1 -0.5zM411.6 315.5a2.8 2.4 103 1 0 -1.3 5.4a2.8 2.4 103 1 0 1.3 -5.4zM417.3 318.2a2.9 2.6 10 1 0 5.6 1.0a2.9 2.6 10 1 0 -5.6 -1.0zM414.9 341.1a3.2 2.4 89 1 0 0.0 6.4a3.2 2.4 89 1 0 -0.0 -6.4zM423.7 367.4a3.4 2.4 155 1 0 -6.2 2.8a3.4 2.4 155 1 0 6.2 -2.8zM415.4 383.5a3.6 2.8 57 1 0 3.9 6.0a3.6 2.8 57 1 0 -3.9 -6.0zM495.6 379.5a3.4 2.8 135 1 0 -4.8 4.7a3.4 2.8 135 1 0 4.8 -4.7zM399.5 385.9a3.1 3.1 112 1 0 -2.4 5.8a3.1 3.1 112 1 0 2.4 -5.8zM394.8 440.9a3.6 3.5 37 1 0 5.7 4.4a3.6 3.5 37 1 0 -5.7 -4.4z"/>
<path fill="#c8c527" d="M448.1 307.6a2.9 2.6 36 1 0 4.6 3.5a2.9 2.6 36 1 0 -4.6 -3.5zM463.3 347.2a2.8 2.6 163 1 0 -5.3 1.6a2.8 2.6 163 1 0 5.3 -1.6zM487.6 350.1a3.0 2.8 70 1 0 2.0 5.7a3.0 2.8 70 1 0 -2.0 -5.7zM453.1 382.3a3.1 2.7 22 1 0 5.8 2.4a3.1 2.7 22 1 0 -5.8 -2.4zM483.5 388.0a3.0 2.8 146 1 0 -5.0 3.3a3.0 2.8 146 1 0 5.0 -3.3zM459.7 401.1a3.6 3.2 179 1 0 -7.3 0.1a3.6 3.2 179 1 0 7.3 -0.1zM466.7 422.1a3.0 2.2 126 1 0 -3.5 4.8a3.0 2.2 126 1 0 3.5 -4.8zM432.1 432.3a2.9 2.5 30 1 0 5.0 3.0a2.9 2.5 30 1 0 -5.0 -3.0z"/>
<path fill="#a5c12f" d="M456.0 311.0a2.8 2.7 22 1 0 5.2 2.1a2.8 2.7 22 1 0 -5.2 -2.1zM464.2 334.0a3.7 3.4 95 1 0 -0.7 7.3a3.7 3.4 95 1 0 0.7 -7.3zM470.5 333.7a2.9 2.3 29 1 0 5.0 2.9a2.9 2.3 29 1 0 -5.0 -2.9zM472.6 352.1a2.6 2.1 133 1 0 -3.6 3.8a2.6 2.1 133 1 0 3.6 -3.8zM479.5 365.8a3.6 3.1 147 1 0 -6.1 3.9a3.6 3.1 147 1 0 6.1 -3.9zM450.6 373.1a2.7 2.6 174 1 0 -5.4 0.5a2.7 2.6 174 1 0 5.4 -0.5zM463.1 396.6a3.3 3.2 29 1 0 5.7 3.2a3.3 3.2 29 1 0 -5.7 -3.2zM431.8 404.6a3.5 2.8 43 1 0 5.1 4.9a3.5 2.8 43 1 0 -5.1 -4.9zM436.6 448.7a3.5 3.4 104 1 0 -1.8 6.8a3.5 3.4 104 1 0 1.8 -6.8z"/>
<path fill="#2767b0" d="M503.9 307.7a2.8 2.6 71 1 0 1.8 5.4a2.8 2.6 71 1 0 -1.8 -5.4zM406.2 340.2a3.1 2.4 85 1 0 0.4 6.2a3.1 2.4 85 1 0 -0.4 -6.2zM413.3 351.3a3.7 3.1 94 1 0 -0.5 7.3a3.7 3.1 94 1 0 0.5 -7.3zM405.2 360.7a3.3 3.1 143 1 0 -5.4 4.0a3.3 3.1 143 1 0 5.4 -4.0zM497.2 360.6a3.0 2.5 101 1 0 -1.2 5.9a3.0 2.5 101 1 0 1.2 -5.9zM408.2 386.6a3.6 3.0 112 1 0 -2.8 6.7a3.6 3.0 112 1 0 2.8 -6.7zM426.8 399.1a2.9 2.1 91 1 0 -0.1 5.7a2.9 2.1 91 1 0 0.1 -5.7zM417.1 408.2a3.6 3.2 98 1 0 -1.0 7.1a3.6 3.2 98 1 0 1.0 -7.1zM422.1 409.4a3.6 3.4 24 1 0 6.6 3.1a3.6 3.4 24 1 0 -6.6 -3.1zM398.7 431.0a2.9 2.6 103 1 0 -1.4 5.7a2.9 2.6 103 1 0 1.4 -5.7zM418.5 436.8a3.3 3.2 150 1 0 -5.8 3.2a3.3 3.2 150 1 0 5.8 -3.2zM408.9 460.6a2.9 2.4 31 1 0 4.9 3.0a2.9 2.4 31 1 0 -4.9 -3.0z"/>
<path fill="#b1c32c" d="M470.3 325.1a3.6 3.6 12 1 0 7.1 1.5a3.6 3.6 12 1 0 -7.1 -1.5zM429.9 346.9a3.1 2.8 13 1 0 6.1 1.4a3.1 2.8 13 1 0 -6.1 -1.4zM441.7 349.3a3.1 2.8 107 1 0 -1.9 5.8a3.1 2.8 107 1 0 1.9 -5.8zM448.2 352.9a3.4 2.6 48 1 0 4.5 5.1a3.4 2.6 48 1 0 -4.5 -5.1zM438.1 367.7a3.1 2.5 52 1 0 3.8 5.0a3.1 2.5 52 1 0 -3.8 -5.0zM483.8 368.4a2.7 2.5 73 1 0 1.5 5.1a2.7 2.5 73 1 0 -1.5 -5.1zM435.0 379.8a3.4 3.1 12 1 0 6.6 1.5a3.4 3.1 12 1 0 -6.6 -1.5z"/>
<path fill="#2a4b9a" d="M415.2 337.1a3.3 2.4 1 1 0 6.6 0.2a3.3 2.4 1 1 0 -6.6 -0.2zM430.9 340.5a3.5 3.1 175 1 0 -6.9 0.6a3.5 3.1 175 1 0 6.9 -0.6zM402.8 350.5a3.7 3.6 57 1 0 4.0 6.2a3.7 3.6 57 1 0 -4.0 -6.2zM414.4 361.2a3.5 3.1 156 1 0 -6.4 2.7a3.5 3.1 156 1 0 6.4 -2.7zM399.4 423.1a2.7 2.3 123 1 0 -3.0 4.5a2.7 2.3 123 1 0 3.0 -4.5z"/>
<path fill="#bec62a" d="M437.1 337.2a3.2 2.7 116 1 0 -2.8 5.7a3.2 2.7 116 1 0 2.8 -5.7zM440.2 342.2a2.9 2.8 24 1 0 5.3 2.4a2.9 2.8 24 1 0 -5.3 -2.4zM469.8 343.1a2.7 2.0 78 1 0 1.1 5.2a2.7 2.0 78 1 0 -1.1 -5.2zM465.1 360.9a3.0 2.8 18 1 0 5.7 1.9a3.0 2.8 18 1 0 -5.7 -1.9zM453.3 389.3a3.0 2.7 71 1 0 1.9 5.6a3.0 2.7 71 1 0 -1.9 -5.6zM435.9 396.3a2.7 2.0 48 1 0 3.6 4.0a2.7 2.0 48 1 0 -3.6 -4.0zM432.9 412.0a3.5 2.6 56 1 0 3.9 5.8a3.5 2.6 56 1 0 -3.9 -5.8zM474.3 414.9a2.8 2.7 15 1 0 5.4 1.5a2.8 2.7 15 1 0 -5.4 -1.5zM438.7 422.8a2.9 2.7 147 1 0 -4.8 3.1a2.9 2.7 147 1 0 4.8 -3.1zM447.8 425.5a2.9 2.3 114 1 0 -2.4 5.3a2.9 2.3 114 1 0 2.4 -5.3z"/>
<path fill="#cba924" d="M470.4 370.6a3.0 2.7 170 1 0 -6.0 1.0a3.0 2.7 170 1 0 6.0 -1.0zM441.1 390.4a3.2 2.8 32 1 0 5.4 3.5a3.2 2.8 32 1 0 -5.4 -3.5zM462.0 386.7a3.0 3.0 55 1 0 3.4 5.0a3.0 3.0 55 1 0 -3.4 -5.0zM491.4 388.2a2.7 2.3 115 1 0 -2.4 4.9a2.7 2.3 115 1 0 2.4 -4.9zM484.4 397.8a3.1 2.6 10 1 0 6.2 1.1a3.1 2.6 10 1 0 -6.2 -1.1zM446.8 407.1a3.3 3.1 105 1 0 -1.8 6.4a3.3 3.1 105 1 0 1.8 -6.4zM457.7 427.8a2.6 2.0 160 1 0 -5.0 1.7a2.6 2.0 160 1 0 5.0 -1.7zM445.7 443.3a3.2 2.6 16 1 0 6.1 1.8a3.2 2.6 16 1 0 -6.1 -1.8z"/>
<path fill="#293787" d="M407.1 379.2a3.0 3.0 60 1 0 3.0 5.3a3.0 3.0 60 1 0 -3.0 -5.3zM394.9 403.4a3.6 3.3 45 1 0 5.1 5.1a3.6 3.3 45 1 0 -5.1 -5.1z"/>
<path fill="#cd8923" d="M433.0 387.0a3.4 3.0 32 1 0 5.8 3.7a3.4 3.0 32 1 0 -5.8 -3.7zM451.9 408.2a3.7 2.7 45 1 0 5.1 5.2a3.7 2.7 45 1 0 -5.1 -5.2zM447.6 436.0a3.0 2.9 158 1 0 -5.5 2.2a3.0 2.9 158 1 0 5.5 -2.2zM426.1 445.2a2.7 2.1 31 1 0 4.6 2.8a2.7 2.1 31 1 0 -4.6 -2.8zM444.1 451.2a2.7 2.3 44 1 0 3.9 3.8a2.7 2.3 44 1 0 -3.9 -3.8zM453.7 453.6a2.9 2.2 11 1 0 5.8 1.1a2.9 2.2 11 1 0 -5.8 -1.1zM460.3 451.3a3.6 2.7 6 1 0 7.1 0.9a3.6 2.7 6 1 0 -7.1 -0.9z"/>
<path fill="#c9b726" d="M472.1 389.9a3.4 3.0 74 1 0 1.8 6.6a3.4 3.0 74 1 0 -1.8 -6.6zM440.6 416.9a3.6 2.8 34 1 0 6.0 4.1a3.6 2.8 34 1 0 -6.0 -4.1zM447.5 417.1a3.4 3.2 36 1 0 5.5 4.1a3.4 3.2 36 1 0 -5.5 -4.1zM475.3 426.2a3.1 2.8 108 1 0 -2.0 5.8a3.1 2.8 108 1 0 2.0 -5.8zM460.6 445.5a3.6 3.2 164 1 0 -7.0 2.0a3.6 3.2 164 1 0 7.0 -2.0zM435.6 463.0a3.7 3.4 142 1 0 -5.8 4.5a3.7 3.4 142 1 0 5.8 -4.5z"/>
<path fill="#cd9b23" d="M449.5 397.5a3.5 3.0 138 1 0 -5.2 4.6a3.5 3.0 138 1 0 5.2 -4.6zM479.9 402.0a3.1 2.5 162 1 0 -5.9 1.9a3.1 2.5 162 1 0 5.9 -1.9zM460.3 406.6a2.8 2.3 13 1 0 5.5 1.3a2.8 2.3 13 1 0 -5.5 -1.3zM471.7 417.4a3.2 3.0 115 1 0 -2.8 5.7a3.2 3.0 115 1 0 2.8 -5.7zM464.2 431.9a3.1 2.5 118 1 0 -2.9 5.4a3.1 2.5 118 1 0 2.9 -5.4zM436.1 440.8a3.0 2.3 45 1 0 4.2 4.3a3.0 2.3 45 1 0 -4.2 -4.3zM440.9 456.6a3.0 2.2 63 1 0 2.6 5.3a3.0 2.2 63 1 0 -2.6 -5.3z"/>
<path fill="#2b307a" d="M413.5 430.7a3.5 2.8 5 1 0 6.9 0.7a3.5 2.8 5 1 0 -6.9 -0.7zM427.5 434.9a3.4 2.6 103 1 0 -1.6 6.7a3.4 2.6 103 1 0 1.6 -6.7zM411.0 469.5a2.9 2.3 31 1 0 4.9 3.0a2.9 2.3 31 1 0 -4.9 -3.0z"/>
<path fill="#cd7824" d="M468.9 436.6a3.7 2.9 59 1 0 3.8 6.3a3.7 2.9 59 1 0 -3.8 -6.3zM466.8 439.7a2.9 2.5 72 1 0 1.7 5.5a2.9 2.5 72 1 0 -1.7 -5.5zM448.4 462.6a3.4 3.3 2 1 0 6.7 0.3a3.4 3.3 2 1 0 -6.7 -0.3zM452.4 471.5a3.5 3.1 165 1 0 -6.7 1.8a3.5 3.1 165 1 0 6.7 -1.8z"/>
<path fill="#c2311f" d="M426.0 454.0a2.6 2.3 21 1 0 4.9 1.9a2.6 2.3 21 1 0 -4.9 -1.9z"/>
<path fill="#ca5924" d="M442.4 467.8a2.6 2.3 164 1 0 -5.0 1.4a2.6 2.3 164 1 0 5.0 -1.4z"/>
<path fill="#000" d="M493.0 346.5a0.8 0.8 0 1 0 1.5 0a0.8 0.8 0 1 0 -1.5 0zM469.6 293.6a1.5 1.5 0 1 0 3.0 0a1.5 1.5 0 1 0 -3.0 0zM484.8 341.7a0.7 0.7 0 1 0 1.4 0a0.7 0.7 0 1 0 -1.4 0zM481.7 337.5a1.1 1.1 0 1 0 2.3 0a1.1 1.1 0 1 0 -2.3 0zM487.7 348.5a0.9 0.9 0 1 0 1.7 0a0.9 0.9 0 1 0 -1.7 0zM409.0 308.0a1.5 1.5 0 1 0 3.0 0a1.5 1.5 0 1 0 -3.0 0zM425.4 443.9a1.0 1.0 0 1 0 2.1 0a1.0 1.0 0 1 0 -2.1 0zM425.5 439.9a0.9 0.9 0 1 0 1.8 0a0.9 0.9 0 1 0 -1.8 0zM453.7 446.2a0.9 0.9 0 1 0 1.8 0a0.9 0.9 0 1 0 -1.8 0zM446.9 336.9a1.4 1.4 0 1 0 2.7 0a1.4 1.4 0 1 0 -2.7 0zM450.6 335.5a1.0 1.0 0 1 0 1.9 0a1.0 1.0 0 1 0 -1.9 0zM434.0 420.7a1.6 1.6 0 1 0 3.2 0a1.6 1.6 0 1 0 -3.2 0zM393.9 440.4a1.2 1.2 0 1 0 2.4 0a1.2 1.2 0 1 0 -2.4 0zM397.9 441.8a1.1 1.1 0 1 0 2.2 0a1.1 1.1 0 1 0 -2.2 0zM463.9 310.3a1.4 1.4 0 1 0 2.8 0a1.4 1.4 0 1 0 -2.8 0zM488.1 366.9a0.9 0.9 0 1 0 1.7 0a0.9 0.9 0 1 0 -1.7 0zM485.2 365.5a1.2 1.2 0 1 0 2.3 0a1.2 1.2 0 1 0 -2.3 0zM475.3 363.6a0.6 0.6 0 1 0 1.2 0a0.6 0.6 0 1 0 -1.2 0zM477.4 317.5a1.5 1.5 0 1 0 3.1 0a1.5 1.5 0 1 0 -3.1 0zM482.3 316.6a0.7 0.7 0 1 0 1.5 0a0.7 0.7 0 1 0 -1.5 0zM492.8 312.5a1.1 1.1 0 1 0 2.1 0a1.1 1.1 0 1 0 -2.1 0zM495.2 312.7a0.8 0.8 0 1 0 1.6 0a0.8 0.8 0 1 0 -1.6 0zM433.6 452.9a0.6 0.6 0 1 0 1.2 0a0.6 0.6 0 1 0 -1.2 0zM430.2 290.5a1.8 1.8 0 1 0 3.7 0a1.8 1.8 0 1 0 -3.7 0zM409.8 333.8a0.7 0.7 0 1 0 1.4 0a0.7 0.7 0 1 0 -1.4 0zM460.2 279.7a1.0 1.0 0 1 0 2.0 0a1.0 1.0 0 1 0 -2.0 0zM428.0 304.0a0.8 0.8 0 1 0 1.6 0a0.8 0.8 0 1 0 -1.6 0zM470.8 291.1a1.3 1.3 0 1 0 2.6 0a1.3 1.3 0 1 0 -2.6 0zM472.0 289.0a0.8 0.8 0 1 0 1.6 0a0.8 0.8 0 1 0 -1.6 0zM425.0 400.1a0.8 0.8 0 1 0 1.6 0a0.8 0.8 0 1 0 -1.6 0zM402.8 451.7a1.0 1.0 0 1 0 2.1 0a1.0 1.0 0 1 0 -2.1 0zM403.5 448.3a1.3 1.3 0 1 0 2.6 0a1.3 1.3 0 1 0 -2.6 0zM410.4 478.9a0.8 0.8 0 1 0 1.7 0a0.8 0.8 0 1 0 -1.7 0zM435.5 393.5a0.8 0.8 0 1 0 1.6 0a0.8 0.8 0 1 0 -1.6 0zM436.4 394.0a1.4 1.4 0 1 0 2.8 0a1.4 1.4 0 1 0 -2.8 0zM485.4 396.5a0.7 0.7 0 1 0 1.5 0a0.7 0.7 0 1 0 -1.5 0zM489.5 396.4a1.4 1.4 0 1 0 2.7 0a1.4 1.4 0 1 0 -2.7 0zM412.4 385.1a1.0 1.0 0 1 0 1.9 0a1.0 1.0 0 1 0 -1.9 0zM414.4 385.3a0.9 0.9 0 1 0 1.8 0a0.9 0.9 0 1 0 -1.8 0zM401.2 388.5a1.5 1.5 0 1 0 3.1 0a1.5 1.5 0 1 0 -3.1 0zM399.7 390.7a1.4 1.4 0 1 0 2.7 0a1.4 1.4 0 1 0 -2.7 0zM404.1 458.5a1.6 1.6 0 1 0 3.1 0a1.6 1.6 0 1 0 -3.1 0zM405.9 461.6a0.6 0.6 0 1 0 1.3 0a0.6 0.6 0 1 0 -1.3 0zM440.9 443.2a1.1 1.1 0 1 0 2.3 0a1.1 1.1 0 1 0 -2.3 0zM438.2 442.6a0.7 0.7 0 1 0 1.4 0a0.7 0.7 0 1 0 -1.4 0zM460.2 337.4a1.5 1.5 0 1 0 3.1 0a1.5 1.5 0 1 0 -3.1 0zM424.0 290.6a0.8 0.8 0 1 0 1.7 0a0.8 0.8 0 1 0 -1.7 0zM418.7 291.5a1.4 1.4 0 1 0 2.8 0a1.4 1.4 0 1 0 -2.8 0zM401.6 440.9a0.7 0.7 0 1 0 1.4 0a0.7 0.7 0 1 0 -1.4 0zM401.2 440.5a0.9 0.9 0 1 0 1.9 0a0.9 0.9 0 1 0 -1.9 0zM400.2 392.0a1.1 1.1 0 1 0 2.2 0a1.1 1.1 0 1 0 -2.2 0zM400.5 395.4a1.1 1.1 0 1 0 2.1 0a1.1 1.1 0 1 0 -2.1 0zM454.1 479.0a1.3 1.3 0 1 0 2.7 0a1.3 1.3 0 1 0 -2.7 0zM454.1 478.2a1.4 1.4 0 1 0 2.9 0a1.4 1.4 0 1 0 -2.9 0zM402.7 274.1a1.4 1.1 0 1 0 2.8 0a1.4 1.1 0 1 0 -2.8 0zM421.7 274.1a2.4 1.9 0 1 0 4.7 0a2.4 1.9 0 1 0 -4.7 0zM446.2 274.1a2.4 1.9 0 1 0 4.8 0a2.4 1.9 0 1 0 -4.8 0z"/>
<path fill="#2aa87a" d="M83.9 497.6a3.0 2.3 39 1 0 4.6 3.8a3.0 2.3 39 1 0 -4.6 -3.8zM164.6 496.9a3.2 2.8 168 1 0 -6.2 1.3a3.2 2.8 168 1 0 6.2 -1.3zM124.9 500.6a3.7 2.9 96 1 0 -0.8 7.3a3.7 2.9 96 1 0 0.8 -7.3zM83.9 515.8a3.0 2.3 6 1 0 6.0 0.7a3.0 2.3 6 1 0 -6.0 -0.7zM92.1 521.3a3.0 2.5 25 1 0 5.5 2.6a3.0 2.5 25 1 0 -5.5 -2.6zM180.0 522.9a3.4 2.6 59 1 0 3.5 5.9a3.4 2.6 59 1 0 -3.5 -5.9zM96.7 529.4a2.6 2.6 109 1 0 -1.8 4.9a2.6 2.6 109 1 0 1.8 -4.9zM96.5 537.9a3.2 2.5 117 1 0 -3.0 5.8a3.2 2.5 117 1 0 3.0 -5.8zM122.0 538.6a3.5 3.1 28 1 0 6.1 3.4a3.5 3.1 28 1 0 -6.1 -3.4zM107.5 552.4a2.8 2.3 172 1 0 -5.6 0.8a2.8 2.3 172 1 0 5.6 -0.8zM116.5 543.8a3.5 3.1 139 1 0 -5.3 4.5a3.5 3.1 139 1 0 5.3 -4.5zM136.0 562.1a3.3 2.8 122 1 0 -3.6 5.5a3.3 2.8 122 1 0 3.6 -5.5zM88.5 578.5a2.8 2.2 145 1 0 -4.5 3.1a2.8 2.2 145 1 0 4.5 -3.1zM141.4 575.9a3.2 3.0 49 1 0 4.1 4.8a3.2 3.0 49 1 0 -4.1 -4.8zM99.4 584.4a3.4 2.9 159 1 0 -6.4 2.3a3.4 2.9 159 1 0 6.4 -2.3zM143.4 583.2a3.7 3.3 63 1 0 3.2 6.6a3.7 3.3 63 1 0 -3.2 -6.6zM88.1 595.2a3.2 2.5 65 1 0 2.7 5.8a3.2 2.5 65 1 0 -2.7 -5.8zM94.8 648.0a3.5 2.9 35 1 0 5.8 4.1a3.5 2.9 35 1 0 -5.8 -4.1zM149.8 644.7a2.6 2.6 146 1 0 -4.3 2.9a2.6 2.6 146 1 0 4.3 -2.9zM163.5 643.2a2.7 2.2 37 1 0 4.4 3.3a2.7 2.2 37 1 0 -4.4 -3.3zM148.4 655.1a3.0 2.8 169 1 0 -6.0 1.1a3.0 2.8 169 1 0 6.0 -1.1z"/>
<path fill="#45ac41" d="M96.7 493.4a2.6 2.6 96 1 0 -0.6 5.3a2.6 2.6 96 1 0 0.6 -5.3zM120.3 513.5a2.8 2.4 25 1 0 5.2 2.4a2.8 2.4 25 1 0 -5.2 -2.4zM126.0 521.8a3.2 2.9 166 1 0 -6.2 1.5a3.2 2.9 166 1 0 6.2 -1.5zM115.4 523.7a3.3 2.5 117 1 0 -3.1 5.9a3.3 2.5 117 1 0 3.1 -5.9zM102.9 542.7a3.4 3.2 8 1 0 6.7 1.0a3.4 3.2 8 1 0 -6.7 -1.0zM136.0 538.4a2.9 2.5 155 1 0 -5.2 2.4a2.9 2.5 155 1 0 5.2 -2.4zM165.4 550.7a2.7 2.5 165 1 0 -5.2 1.3a2.7 2.5 165 1 0 5.2 -1.3zM141.6 560.1a3.5 3.5 6 1 0 6.9 0.8a3.5 3.5 6 1 0 -6.9 -0.8zM108.7 567.3a3.5 2.6 133 1 0 -4.8 5.1a3.5 2.6 133 1 0 4.8 -5.1zM114.2 579.5a2.9 2.9 22 1 0 5.4 2.2a2.9 2.9 22 1 0 -5.4 -2.2zM127.1 601.8a3.5 2.9 150 1 0 -6.0 3.4a3.5 2.9 150 1 0 6.0 -3.4zM158.3 604.7a3.1 2.6 17 1 0 6.0 1.8a3.1 2.6 17 1 0 -6.0 -1.8zM86.3 612.3a3.1 3.0 46 1 0 4.3 4.5a3.1 3.0 46 1 0 -4.3 -4.5zM127.5 619.1a2.6 2.6 83 1 0 0.6 5.2a2.6 2.6 83 1 0 -0.6 -5.2zM110.1 652.7a2.7 2.0 114 1 0 -2.3 4.9a2.7 2.0 114 1 0 2.3 -4.9zM153.7 656.0a3.1 3.0 51 1 0 3.9 4.8a3.1 3.0 51 1 0 -3.9 -4.8zM120.0 667.5a2.9 2.5 31 1 0 5.0 3.1a2.9 2.5 31 1 0 -5.0 -3.1zM139.6 662.9a2.6 2.1 51 1 0 3.3 4.1a2.6 2.1 51 1 0 -3.3 -4.1z"/>
<path fill="#5ab13d" d="M105.5 495.1a3.7 3.1 89 1 0 0.0 7.3a3.7 3.1 89 1 0 -0.0 -7.3zM114.2 489.2a3.5 2.6 70 1 0 2.3 6.6a3.5 2.6 70 1 0 -2.3 -6.6zM145.4 505.0a2.7 2.6 124 1 0 -3.0 4.4a2.7 2.6 124 1 0 3.0 -4.4zM111.5 516.5a3.5 3.2 44 1 0 5.0 5.0a3.5 3.2 44 1 0 -5.0 -5.0zM163.9 530.1a3.1 2.3 93 1 0 -0.4 6.3a3.1 2.3 93 1 0 0.4 -6.3zM162.6 558.3a3.0 2.3 82 1 0 0.8 5.9a3.0 2.3 82 1 0 -0.8 -5.9zM162.2 566.5a3.0 2.9 82 1 0 0.8 5.9a3.0 2.9 82 1 0 -0.8 -5.9zM165.7 577.9a3.4 2.6 178 1 0 -6.7 0.2a3.4 2.6 178 1 0 6.7 -0.2zM160.1 586.9a3.1 3.0 13 1 0 6.1 1.5a3.1 3.0 13 1 0 -6.1 -1.5zM112.9 598.3a2.6 2.2 30 1 0 4.5 2.7a2.6 2.2 30 1 0 -4.5 -2.7zM145.6 603.8a3.5 3.5 144 1 0 -5.8 4.1a3.5 3.5 144 1 0 5.8 -4.1zM167.6 620.9a3.7 3.4 132 1 0 -4.9 5.4a3.7 3.4 132 1 0 4.9 -5.4zM149.1 631.6a2.7 2.5 13 1 0 5.2 1.2a2.7 2.5 13 1 0 -5.2 -1.2zM112.3 640.1a3.1 2.4 21 1 0 5.8 2.2a3.1 2.4 21 1 0 -5.8 -2.2zM164.9 651.7a2.6 2.0 156 1 0 -4.8 2.1a2.6 2.0 156 1 0 4.8 -2.1z"/>
<path fill="#6fb539" d="M122.1 494.6a3.5 3.1 42 1 0 5.1 4.7a3.5 3.1 42 1 0 -5.1 -4.7zM133.1 501.2a3.0 2.8 69 1 0 2.1 5.7a3.0 2.8 69 1 0 -2.1 -5.7zM157.8 525.0a3.5 3.4 0 1 0 6.9 0.1a3.5 3.4 0 1 0 -6.9 -0.1zM126.3 529.4a3.4 3.3 132 1 0 -4.6 5.0a3.4 3.3 132 1 0 4.6 -5.0zM130.3 547.3a2.8 2.4 8 1 0 5.6 0.9a2.8 2.4 8 1 0 -5.6 -0.9zM132.6 553.0a3.7 3.4 51 1 0 4.6 5.7a3.7 3.4 51 1 0 -4.6 -5.7zM117.4 561.2a3.4 3.1 138 1 0 -5.1 4.6a3.4 3.1 138 1 0 5.1 -4.6zM108.4 588.4a3.0 2.2 173 1 0 -5.9 0.6a3.0 2.2 173 1 0 5.9 -0.6zM135.3 628.3a3.1 2.7 138 1 0 -4.7 4.1a3.1 2.7 138 1 0 4.7 -4.1zM117.9 648.0a2.8 2.3 96 1 0 -0.6 5.7a2.8 2.3 96 1 0 0.6 -5.7zM155.4 646.4a3.5 2.8 40 1 0 5.2 4.5a3.5 2.8 40 1 0 -5.2 -4.5zM130.7 650.9a3.1 2.9 158 1 0 -5.7 2.3a3.1 2.9 158 1 0 5.7 -2.3z"/>
<path fill="#2ea857" d="M134.6 490.3a3.4 2.5 116 1 0 -3.0 6.1a3.4 2.5 116 1 0 3.0 -6.1zM178.0 506.4a3.1 3.1 3 1 0 6.3 0.4a3.1 3.1 3 1 0 -6.3 -0.4zM108.0 516.0a3.5 3.2 148 1 0 -6.0 3.7a3.5 3.2 148 1 0 6.0 -3.7zM159.0 515.4a3.0 2.2 29 1 0 5.2 2.9a3.0 2.2 29 1 0 -5.2 -2.9zM101.3 533.4a3.2 2.7 15 1 0 6.1 1.7a3.2 2.7 15 1 0 -6.1 -1.7zM137.5 529.0a3.7 3.1 160 1 0 -7.0 2.4a3.7 3.1 160 1 0 7.0 -2.4zM112.8 532.9a3.3 3.3 71 1 0 2.1 6.2a3.3 3.3 71 1 0 -2.1 -6.2zM97.9 547.4a3.0 2.9 166 1 0 -5.8 1.3a3.0 2.9 166 1 0 5.8 -1.3zM172.2 573.3a3.0 2.8 78 1 0 1.2 5.9a3.0 2.8 78 1 0 -1.2 -5.9zM126.8 583.6a2.7 2.5 121 1 0 -2.8 4.6a2.7 2.5 121 1 0 2.8 -4.6zM163.3 594.1a3.0 2.8 117 1 0 -2.7 5.3a3.0 2.8 117 1 0 2.7 -5.3zM141.2 608.6a2.7 2.5 157 1 0 -5.0 2.1a2.7 2.5 157 1 0 5.0 -2.1zM120.6 617.4a2.8 2.6 175 1 0 -5.5 0.4a2.8 2.6 175 1 0 5.5 -0.4zM144.0 634.6a3.2 2.8 141 1 0 -5.0 4.0a3.2 2.8 141 1 0 5.0 -4.0zM107.4 644.1a3.1 2.3 89 1 0 0.1 6.2a3.1 2.3 89 1 0 -0.1 -6.2zM99.6 657.3a3.0 2.2 65 1 0 2.5 5.5a3.0 2.2 65 1 0 -2.5 -5.5zM155.7 663.4a3.5 2.6 168 1 0 -6.9 1.5a3.5 2.6 168 1 0 6.9 -1.5zM114.7 693.3a3.1 2.8 130 1 0 -4.0 4.7a3.1 2.8 130 1 0 4.0 -4.7z"/>
<path fill="#30a846" d="M139.1 497.1a3.2 2.9 11 1 0 6.3 1.3a3.2 2.9 11 1 0 -6.3 -1.3zM149.9 498.7a3.6 3.0 57 1 0 3.8 6.0a3.6 3.0 57 1 0 -3.8 -6.0zM164.3 504.6a3.6 3.2 141 1 0 -5.6 4.4a3.6 3.2 141 1 0 5.6 -4.4zM155.6 507.2a3.3 2.5 126 1 0 -4.0 5.3a3.3 2.5 126 1 0 4.0 -5.3zM83.5 523.9a2.6 1.9 42 1 0 3.8 3.5a2.6 1.9 42 1 0 -3.8 -3.5zM136.5 518.7a3.7 3.1 126 1 0 -4.3 5.9a3.7 3.1 126 1 0 4.3 -5.9zM152.0 516.4a3.7 3.1 78 1 0 1.4 7.2a3.7 3.1 78 1 0 -1.4 -7.2zM161.4 542.0a3.1 2.8 36 1 0 5.0 3.7a3.1 2.8 36 1 0 -5.0 -3.7zM117.4 553.0a2.7 2.3 158 1 0 -5.1 2.0a2.7 2.3 158 1 0 5.1 -2.0zM155.1 551.2a3.4 3.0 114 1 0 -2.8 6.2a3.4 3.0 114 1 0 2.8 -6.2zM179.6 561.1a3.0 2.7 7 1 0 5.9 0.8a3.0 2.7 7 1 0 -5.9 -0.8zM140.8 569.1a2.7 2.5 1 1 0 5.3 0.2a2.7 2.5 1 1 0 -5.3 -0.2zM121.3 575.6a2.8 2.5 23 1 0 5.1 2.3a2.8 2.5 23 1 0 -5.1 -2.3zM149.1 572.9a3.1 2.4 2 1 0 6.3 0.3a3.1 2.4 2 1 0 -6.3 -0.3zM141.8 595.1a3.1 2.8 31 1 0 5.2 3.2a3.1 2.8 31 1 0 -5.2 -3.2zM151.0 588.7a2.9 2.7 57 1 0 3.1 4.8a2.9 2.7 57 1 0 -3.1 -4.8zM101.2 610.7a3.1 2.7 151 1 0 -5.4 2.9a3.1 2.7 151 1 0 5.4 -2.9zM131.2 611.1a3.2 2.5 178 1 0 -6.5 0.2a3.2 2.5 178 1 0 6.5 -0.2zM143.5 611.9a3.2 2.4 21 1 0 6.0 2.4a3.2 2.4 21 1 0 -6.0 -2.4zM140.2 618.8a2.9 2.5 166 1 0 -5.6 1.3a2.9 2.5 166 1 0 5.6 -1.3zM125.4 630.7a3.4 3.2 115 1 0 -2.8 6.1a3.4 3.2 115 1 0 2.8 -6.1zM132.0 636.3a3.6 2.9 75 1 0 1.8 6.9a3.6 2.9 75 1 0 -1.8 -6.9zM149.1 638.4a2.8 2.7 34 1 0 4.7 3.2a2.8 2.7 34 1 0 -4.7 -3.2zM128.4 660.3a3.6 3.4 0 1 0 7.2 0.1a3.6 3.4 0 1 0 -7.2 -0.1z"/>
<path fill="#2ca869" d="M171.4 491.8a3.0 2.8 91 1 0 -0.2 5.9a3.0 2.8 91 1 0 0.2 -5.9zM93.3 512.5a2.9 2.8 24 1 0 5.3 2.4a2.9 2.8 24 1 0 -5.3 -2.4zM117.0 509.8a3.4 3.1 171 1 0 -6.7 1.0a3.4 3.1 171 1 0 6.7 -1.0zM134.3 508.6a3.0 2.9 91 1 0 -0.2 6.0a3.0 2.9 91 1 0 0.2 -6.0zM172.9 509.7a3.1 2.8 98 1 0 -0.9 6.1a3.1 2.8 98 1 0 0.9 -6.1zM139.6 530.6a3.6 2.9 42 1 0 5.3 4.9a3.6 2.9 42 1 0 -5.3 -4.9zM151.0 536.0a3.3 3.3 17 1 0 6.4 2.0a3.3 3.3 17 1 0 -6.4 -2.0zM173.8 545.6a3.0 2.2 95 1 0 -0.6 6.0a3.0 2.2 95 1 0 0.6 -6.0zM104.7 575.4a3.7 3.2 65 1 0 3.1 6.6a3.7 3.2 65 1 0 -3.1 -6.6zM138.4 573.6a3.2 2.7 173 1 0 -6.5 0.7a3.2 2.7 173 1 0 6.5 -0.7zM104.6 597.6a2.8 2.1 17 1 0 5.4 1.7a2.8 2.1 17 1 0 -5.4 -1.7zM117.6 585.7a3.3 3.1 101 1 0 -1.4 6.5a3.3 3.1 101 1 0 1.4 -6.5zM171.1 600.8a2.6 2.5 118 1 0 -2.5 4.6a2.6 2.5 118 1 0 2.5 -4.6zM155.0 605.1a3.6 3.1 65 1 0 3.0 6.6a3.6 3.1 65 1 0 -3.0 -6.6zM168.8 611.7a3.5 3.2 121 1 0 -3.6 6.0a3.5 3.2 121 1 0 3.6 -6.0zM147.3 619.4a2.8 2.4 87 1 0 0.2 5.6a2.8 2.4 87 1 0 -0.2 -5.6zM113.3 630.8a3.0 2.3 105 1 0 -1.6 5.7a3.0 2.3 105 1 0 1.6 -5.7zM143.9 627.5a2.6 2.1 168 1 0 -5.1 1.0a2.6 2.1 168 1 0 5.1 -1.0zM106.5 636.8a2.9 2.2 134 1 0 -4.1 4.1a2.9 2.2 134 1 0 4.1 -4.1zM141.0 646.2a2.6 2.4 152 1 0 -4.7 2.4a2.6 2.4 152 1 0 4.7 -2.4z"/>
<path fill="#28a88c" d="M183.0 498.2a2.9 2.4 163 1 0 -5.6 1.7a2.9 2.4 163 1 0 5.6 -1.7zM89.3 507.6a2.9 2.5 161 1 0 -5.5 1.8a2.9 2.5 161 1 0 5.5 -1.8zM95.1 500.9a3.4 3.0 94 1 0 -0.5 6.8a3.4 3.0 94 1 0 0.5 -6.8zM173.7 529.3a2.7 1.9 155 1 0 -4.9 2.2a2.7 1.9 155 1 0 4.9 -2.2zM143.6 539.0a2.9 2.6 92 1 0 -0.3 5.8a2.9 2.6 92 1 0 0.3 -5.8zM170.3 557.1a2.8 2.1 16 1 0 5.3 1.6a2.8 2.1 16 1 0 -5.3 -1.6zM86.8 566.0a3.5 3.4 98 1 0 -1.1 7.0a3.5 3.4 98 1 0 1.1 -7.0zM184.0 568.9a3.4 3.3 153 1 0 -6.0 3.0a3.4 3.3 153 1 0 6.0 -3.0zM113.2 570.0a2.8 2.7 38 1 0 4.3 3.4a2.8 2.7 38 1 0 -4.3 -3.4zM180.2 576.6a3.5 3.2 73 1 0 2.0 6.7a3.5 3.2 73 1 0 -2.0 -6.7zM91.2 586.6a2.8 2.2 156 1 0 -5.1 2.2a2.8 2.2 156 1 0 5.1 -2.2zM134.0 579.7a3.3 2.7 82 1 0 0.9 6.6a3.3 2.7 82 1 0 -0.9 -6.6zM98.5 589.9a2.9 2.2 109 1 0 -2.0 5.5a2.9 2.2 109 1 0 2.0 -5.5zM107.0 612.6a3.0 2.4 63 1 0 2.7 5.3a3.0 2.4 63 1 0 -2.7 -5.3zM158.2 633.9a3.0 2.8 50 1 0 3.8 4.7a3.0 2.8 50 1 0 -3.8 -4.7zM110.1 682.5a3.6 3.2 88 1 0 0.2 7.2a3.6 3.2 88 1 0 -0.2 -7.2zM116.5 679.3a3.7 3.5 45 1 0 5.2 5.2a3.7 3.5 45 1 0 -5.2 -5.2zM132.9 677.9a3.0 2.7 38 1 0 4.7 3.8a3.0 2.7 38 1 0 -4.7 -3.8z"/>
<path fill="#85ba35" d="M112.0 500.9a3.3 3.1 11 1 0 6.5 1.3a3.3 3.1 11 1 0 -6.5 -1.3zM106.5 560.8a2.9 2.4 146 1 0 -4.9 3.3a2.9 2.4 146 1 0 4.9 -3.3zM124.7 564.3a3.3 2.5 84 1 0 0.7 6.6a3.3 2.5 84 1 0 -0.7 -6.6zM150.5 563.4a2.8 2.7 31 1 0 4.7 2.9a2.8 2.7 31 1 0 -4.7 -2.9zM123.5 623.4a2.7 2.1 122 1 0 -2.9 4.5a2.7 2.1 122 1 0 2.9 -4.5z"/>
<path fill="#a5c12f" d="M147.0 515.6a2.9 2.6 169 1 0 -5.8 1.1a2.9 2.6 169 1 0 5.8 -1.1z"/>
<path fill="#b1c32c" d="M109.0 525.1a3.6 3.1 151 1 0 -6.3 3.5a3.6 3.1 151 1 0 6.3 -3.5z"/>
<path fill="#1e9ec1" d="M170.6 519.3a3.0 2.8 51 1 0 3.7 4.7a3.0 2.8 51 1 0 -3.7 -4.7zM173.4 537.1a3.4 3.0 121 1 0 -3.5 5.7a3.4 3.0 121 1 0 3.5 -5.7zM93.2 556.5a2.9 2.3 29 1 0 5.1 2.9a2.9 2.3 29 1 0 -5.1 -2.9z"/>
<path fill="#1caabe" d="M151.4 525.8a2.6 2.3 40 1 0 3.9 3.4a2.6 2.3 40 1 0 -3.9 -3.4zM170.0 566.0a2.9 2.6 2 1 0 5.9 0.2a2.9 2.6 2 1 0 -5.9 -0.2zM108.0 674.5a3.5 2.6 106 1 0 -2.0 6.7a3.5 2.6 106 1 0 2.0 -6.7zM126.6 684.3a3.1 3.1 66 1 0 2.6 5.8a3.1 3.1 66 1 0 -2.6 -5.8zM135.1 693.3a2.8 2.7 147 1 0 -4.8 3.1a2.8 2.7 147 1 0 4.8 -3.1zM132.8 698.1a3.7 2.7 42 1 0 5.4 4.9a3.7 2.7 42 1 0 -5.4 -4.9z"/>
<path fill="#22a9a5" d="M180.5 532.5a3.2 3.0 44 1 0 4.6 4.6a3.2 3.0 44 1 0 -4.6 -4.6zM84.9 542.0a2.6 2.2 57 1 0 2.8 4.5a2.6 2.2 57 1 0 -2.8 -4.5zM177.9 551.0a3.5 3.4 6 1 0 7.0 0.8a3.5 3.4 6 1 0 -7.0 -0.8zM123.3 556.0a3.3 2.5 39 1 0 5.2 4.2a3.3 2.5 39 1 0 -5.2 -4.2zM169.6 581.2a3.5 2.9 61 1 0 3.4 6.1a3.5 2.9 61 1 0 -3.4 -6.1zM177.4 585.8a3.6 3.0 26 1 0 6.5 3.2a3.6 3.0 26 1 0 -6.5 -3.2zM181.0 603.9a3.5 2.9 145 1 0 -5.8 4.0a3.5 2.9 145 1 0 5.8 -4.0zM159.2 614.8a3.5 3.1 147 1 0 -5.9 3.7a3.5 3.1 147 1 0 5.9 -3.7zM172.6 639.1a3.7 2.7 144 1 0 -5.9 4.3a3.7 2.7 144 1 0 5.9 -4.3zM113.1 674.7a3.0 2.8 1 1 0 6.0 0.1a3.0 2.8 1 1 0 -6.0 -0.1zM152.6 678.4a3.0 2.5 82 1 0 0.7 5.9a3.0 2.5 82 1 0 -0.7 -5.9z"/>
<path fill="#25a898" d="M87.5 548.5a3.4 3.0 99 1 0 -1.1 6.8a3.4 3.0 99 1 0 1.1 -6.8zM99.4 575.4a3.1 2.3 172 1 0 -6.1 0.8a3.1 2.3 172 1 0 6.1 -0.8zM156.9 580.5a3.5 2.9 149 1 0 -6.0 3.5a3.5 2.9 149 1 0 6.0 -3.5zM168.3 591.2a2.7 2.6 35 1 0 4.5 3.2a2.7 2.6 35 1 0 -4.5 -3.2zM85.7 605.0a3.6 3.5 20 1 0 6.8 2.5a3.6 3.5 20 1 0 -6.8 -2.5zM179.6 609.7a3.3 2.5 137 1 0 -4.9 4.5a3.3 2.5 137 1 0 4.9 -4.5zM90.3 621.1a3.4 3.4 100 1 0 -1.3 6.6a3.4 3.4 100 1 0 1.3 -6.6zM169.6 630.4a3.4 3.4 34 1 0 5.6 3.9a3.4 3.4 34 1 0 -5.6 -3.9zM126.0 674.1a3.4 2.7 61 1 0 3.3 6.0a3.4 2.7 61 1 0 -3.3 -6.0zM143.7 680.4a3.5 2.7 45 1 0 4.9 5.0a3.5 2.7 45 1 0 -4.9 -5.0z"/>
<path fill="#1fa9b1" d="M90.0 561.0a3.5 2.5 162 1 0 -6.6 2.1a3.5 2.5 162 1 0 6.6 -2.1zM92.1 565.1a3.4 2.5 22 1 0 6.2 2.6a3.4 2.5 22 1 0 -6.2 -2.6zM101.1 601.2a3.6 3.3 169 1 0 -7.2 1.3a3.6 3.3 169 1 0 7.2 -1.3zM173.2 619.2a2.7 2.5 55 1 0 3.0 4.5a2.7 2.5 55 1 0 -3.0 -4.5zM97.4 638.9a3.4 2.9 114 1 0 -2.8 6.1a3.4 2.9 114 1 0 2.8 -6.1zM150.2 671.4a3.5 2.7 129 1 0 -4.5 5.4a3.5 2.7 129 1 0 4.5 -5.4zM119.7 689.4a3.2 2.8 38 1 0 4.9 4.0a3.2 2.8 38 1 0 -4.9 -4.0z"/>
<path fill="#2093c4" d="M183.2 594.4a3.4 2.5 150 1 0 -5.9 3.4a3.4 2.5 150 1 0 5.9 -3.4zM91.7 629.9a2.7 2.5 82 1 0 0.7 5.3a2.7 2.5 82 1 0 -0.7 -5.3zM157.7 668.9a2.9 2.3 87 1 0 0.3 5.8a2.9 2.3 87 1 0 -0.3 -5.8z"/>
<path fill="#98be31" d="M109.7 603.6a2.8 2.4 128 1 0 -3.4 4.3a2.8 2.4 128 1 0 3.4 -4.3zM120.7 659.1a2.9 2.8 175 1 0 -5.7 0.4a2.9 2.8 175 1 0 5.7 -0.4zM106.0 666.4a2.6 2.2 126 1 0 -3.1 4.2a2.6 2.2 126 1 0 3.1 -4.2z"/>
<path fill="#c8c527" d="M164.1 626.8a2.8 2.3 174 1 0 -5.6 0.6a2.8 2.3 174 1 0 5.6 -0.6z"/>
<path fill="#000" d="M170.3 571.5a1.4 1.4 0 1 0 2.7 0a1.4 1.4 0 1 0 -2.7 0zM127.6 649.0a2.0 2.0 0 1 0 3.9 0a2.0 2.0 0 1 0 -3.9 0zM132.8 657.9a1.3 1.3 0 1 0 2.5 0a1.3 1.3 0 1 0 -2.5 0zM135.2 657.7a1.1 1.1 0 1 0 2.2 0a1.1 1.1 0 1 0 -2.2 0zM151.1 564.1a0.8 0.8 0 1 0 1.5 0a0.8 0.8 0 1 0 -1.5 0zM172.8 610.9a0.7 0.7 0 1 0 1.4 0a0.7 0.7 0 1 0 -1.4 0zM144.7 589.4a1.5 1.5 0 1 0 3.0 0a1.5 1.5 0 1 0 -3.0 0zM155.0 611.9a1.5 1.5 0 1 0 3.1 0a1.5 1.5 0 1 0 -3.1 0zM158.0 612.0a0.9 0.9 0 1 0 1.8 0a0.9 0.9 0 1 0 -1.8 0zM141.0 495.0a1.0 1.0 0 1 0 2.0 0a1.0 1.0 0 1 0 -2.0 0zM142.1 502.8a1.4 1.4 0 1 0 2.7 0a1.4 1.4 0 1 0 -2.7 0zM101.8 598.2a1.6 1.6 0 1 0 3.1 0a1.6 1.6 0 1 0 -3.1 0zM175.6 600.0a0.8 0.8 0 1 0 1.5 0a0.8 0.8 0 1 0 -1.5 0zM177.9 601.3a0.6 0.6 0 1 0 1.3 0a0.6 0.6 0 1 0 -1.3 0zM121.7 643.7a0.9 0.9 0 1 0 1.9 0a0.9 0.9 0 1 0 -1.9 0zM121.8 641.2a0.8 0.8 0 1 0 1.6 0a0.8 0.8 0 1 0 -1.6 0zM153.3 582.2a1.1 1.1 0 1 0 2.1 0a1.1 1.1 0 1 0 -2.1 0zM153.2 580.4a1.6 1.6 0 1 0 3.2 0a1.6 1.6 0 1 0 -3.2 0zM169.9 591.5a2.1 2.1 0 1 0 4.1 0a2.1 2.1 0 1 0 -4.1 0zM173.9 591.6a1.0 1.0 0 1 0 1.9 0a1.0 1.0 0 1 0 -1.9 0zM171.5 593.7a1.0 1.0 0 1 0 2.0 0a1.0 1.0 0 1 0 -2.0 0zM152.7 677.0a1.5 1.5 0 1 0 2.9 0a1.5 1.5 0 1 0 -2.9 0zM151.6 675.9a1.2 1.2 0 1 0 2.5 0a1.2 1.2 0 1 0 -2.5 0zM162.8 508.5a0.6 0.6 0 1 0 1.3 0a0.6 0.6 0 1 0 -1.3 0zM163.3 507.6a1.4 1.4 0 1 0 2.7 0a1.4 1.4 0 1 0 -2.7 0zM126.1 622.7a1.5 1.5 0 1 0 2.9 0a1.5 1.5 0 1 0 -2.9 0zM128.1 624.6a1.5 1.5 0 1 0 3.0 0a1.5 1.5 0 1 0 -3.0 0zM128.9 551.7a1.6 1.6 0 1 0 3.1 0a1.6 1.6 0 1 0 -3.1 0zM126.9 551.8a1.1 1.1 0 1 0 2.3 0a1.1 1.1 0 1 0 -2.3 0zM108.1 555.2a1.5 1.5 0 1 0 2.9 0a1.5 1.5 0 1 0 -2.9 0zM182.8 539.7a0.9 0.9 0 1 0 1.7 0a0.9 0.9 0 1 0 -1.7 0zM184.4 541.6a1.2 1.2 0 1 0 2.3 0a1.2 1.2 0 1 0 -2.3 0zM114.0 498.6a1.2 1.2 0 1 0 2.5 0a1.2 1.2 0 1 0 -2.5 0zM102.4 554.5a0.9 0.9 0 1 0 1.8 0a0.9 0.9 0 1 0 -1.8 0zM176.7 589.2a1.2 1.2 0 1 0 2.4 0a1.2 1.2 0 1 0 -2.4 0zM176.5 592.8a1.1 1.1 0 1 0 2.2 0a1.1 1.1 0 1 0 -2.2 0zM152.5 575.8a0.9 0.9 0 1 0 1.7 0a0.9 0.9 0 1 0 -1.7 0zM121.6 649.4a0.9 0.9 0 1 0 1.8 0a0.9 0.9 0 1 0 -1.8 0zM122.9 647.9a1.2 1.2 0 1 0 2.5 0a1.2 1.2 0 1 0 -2.5 0zM131.5 508.9a1.0 1.0 0 1 0 2.1 0a1.0 1.0 0 1 0 -2.1 0zM164.4 601.6a1.4 1.4 0 1 0 2.7 0a1.4 1.4 0 1 0 -2.7 0zM124.0 547.3a1.3 1.3 0 1 0 2.5 0a1.3 1.3 0 1 0 -2.5 0zM181.9 551.6a0.7 0.7 0 1 0 1.4 0a0.7 0.7 0 1 0 -1.4 0zM183.9 548.6a1.5 1.5 0 1 0 2.9 0a1.5 1.5 0 1 0 -2.9 0zM145.7 622.0a0.9 0.9 0 1 0 1.8 0a0.9 0.9 0 1 0 -1.8 0zM144.2 624.4a1.4 1.4 0 1 0 2.9 0a1.4 1.4 0 1 0 -2.9 0zM148.3 685.2a0.8 0.8 0 1 0 1.6 0a0.8 0.8 0 1 0 -1.6 0zM81.4 512.9a1.2 1.2 0 1 0 2.4 0a1.2 1.2 0 1 0 -2.4 0zM85.9 508.6a1.1 1.1 0 1 0 2.3 0a1.1 1.1 0 1 0 -2.3 0zM149.7 513.8a0.9 0.9 0 1 0 1.9 0a0.9 0.9 0 1 0 -1.9 0zM149.0 514.5a0.8 0.8 0 1 0 1.6 0a0.8 0.8 0 1 0 -1.6 0zM110.8 504.0a1.6 1.6 0 1 0 3.1 0a1.6 1.6 0 1 0 -3.1 0zM166.4 537.5a0.7 0.7 0 1 0 1.3 0a0.7 0.7 0 1 0 -1.3 0zM85.2 493.2a1.3 1.0 0 1 0 2.5 0a1.3 1.0 0 1 0 -2.5 0zM104.0 493.2a2.6 2.1 0 1 0 5.2 0a2.6 2.1 0 1 0 -5.2 0zM115.0 493.2a2.5 2.0 0 1 0 4.9 0a2.5 2.0 0 1 0 -4.9 0zM181.2 493.2a1.2 1.0 0 1 0 2.4 0a1.2 1.0 0 1 0 -2.4 0z"/>
<path fill="#1caabe" d="M236.0 494.9a3.5 3.0 91 1 0 -0.1 7.0a3.5 3.0 91 1 0 0.1 -7.0zM326.9 535.5a3.3 3.2 172 1 0 -6.6 0.8a3.3 3.2 172 1 0 6.6 -0.8zM240.4 559.5a3.5 3.2 13 1 0 6.8 1.6a3.5 3.2 13 1 0 -6.8 -1.6zM233.3 586.7a3.1 2.9 4 1 0 6.2 0.4a3.1 2.9 4 1 0 -6.2 -0.4zM323.4 603.8a3.4 2.6 60 1 0 3.3 5.9a3.4 2.6 60 1 0 -3.3 -5.9zM249.5 645.8a3.6 3.3 129 1 0 -4.6 5.6a3.6 3.3 129 1 0 4.6 -5.6z"/>
<path fill="#22a9a5" d="M248.4 496.3a3.5 2.9 171 1 0 -7.0 1.1a3.5 2.9 171 1 0 7.0 -1.1zM245.0 504.0a2.6 2.0 61 1 0 2.5 4.6a2.6 2.0 61 1 0 -2.5 -4.6zM322.9 505.2a3.3 2.6 99 1 0 -1.1 6.5a3.3 2.6 99 1 0 1.1 -6.5zM319.9 545.0a3.1 3.0 1 1 0 6.2 0.1a3.1 3.0 1 1 0 -6.2 -0.1zM321.8 549.2a3.1 2.9 3 1 0 6.3 0.3a3.1 2.9 3 1 0 -6.3 -0.3zM332.7 565.7a2.8 2.3 104 1 0 -1.4 5.4a2.8 2.3 104 1 0 1.4 -5.4zM327.9 577.3a2.6 2.2 10 1 0 5.2 0.9a2.6 2.2 10 1 0 -5.2 -0.9z"/>
<path fill="#45ac41" d="M256.6 493.3a3.4 3.1 123 1 0 -3.7 5.7a3.4 3.1 123 1 0 3.7 -5.7zM313.2 497.2a3.2 2.8 107 1 0 -1.9 6.1a3.2 2.8 107 1 0 1.9 -6.1zM257.5 518.9a3.0 2.8 128 1 0 -3.8 4.8a3.0 2.8 128 1 0 3.8 -4.8zM300.7 524.9a3.1 2.3 62 1 0 2.8 5.5a3.1 2.3 62 1 0 -2.8 -5.5zM291.0 536.0a3.4 2.8 61 1 0 3.3 6.0a3.4 2.8 61 1 0 -3.3 -6.0zM296.7 542.6a2.6 2.6 83 1 0 0.6 5.2a2.6 2.6 83 1 0 -0.6 -5.2zM302.8 550.7a3.5 3.0 107 1 0 -2.2 6.7a3.5 3.0 107 1 0 2.2 -6.7zM311.0 551.0a3.1 2.4 45 1 0 4.4 4.5a3.1 2.4 45 1 0 -4.4 -4.5zM260.6 573.2a3.2 2.4 19 1 0 6.1 2.2a3.2 2.4 19 1 0 -6.1 -2.2zM268.4 582.7a3.3 2.5 164 1 0 -6.4 1.7a3.3 2.5 164 1 0 6.4 -1.7zM305.3 580.6a3.0 2.3 176 1 0 -6.0 0.4a3.0 2.3 176 1 0 6.0 -0.4zM282.9 613.3a3.4 3.3 119 1 0 -3.4 5.9a3.4 3.3 119 1 0 3.4 -5.9zM303.0 617.0a2.9 2.8 144 1 0 -4.7 3.4a2.9 2.8 144 1 0 4.7 -3.4zM313.4 615.3a3.3 3.0 156 1 0 -6.1 2.6a3.3 3.0 156 1 0 6.1 -2.6zM301.1 651.5a3.2 2.5 121 1 0 -3.3 5.4a3.2 2.5 121 1 0 3.3 -5.4zM291.4 667.0a2.7 2.2 79 1 0 1.0 5.3a2.7 2.2 79 1 0 -1.0 -5.3zM271.1 690.0a3.7 3.0 99 1 0 -1.3 7.3a3.7 3.0 99 1 0 1.3 -7.3zM296.7 686.5a3.0 3.0 171 1 0 -6.0 0.9a3.0 3.0 171 1 0 6.0 -0.9z"/>
<path fill="#85ba35" d="M263.2 489.7a3.4 3.0 67 1 0 2.5 6.2a3.4 3.0 67 1 0 -2.5 -6.2zM304.5 596.1a3.5 3.3 47 1 0 4.7 5.2a3.5 3.3 47 1 0 -4.7 -5.2zM312.4 624.9a2.8 2.3 173 1 0 -5.5 0.7a2.8 2.3 173 1 0 5.5 -0.7z"/>
<path fill="#5ab13d" d="M286.6 491.2a3.6 3.6 130 1 0 -4.7 5.5a3.6 3.6 130 1 0 4.7 -5.5zM270.5 497.7a2.8 2.1 39 1 0 4.4 3.6a2.8 2.1 39 1 0 -4.4 -3.6zM279.7 509.0a3.7 3.6 43 1 0 5.3 5.1a3.7 3.6 43 1 0 -5.3 -5.1zM266.0 528.6a2.9 2.6 179 1 0 -5.7 0.1a2.9 2.6 179 1 0 5.7 -0.1zM276.6 545.7a3.1 2.6 31 1 0 5.2 3.2a3.1 2.6 31 1 0 -5.2 -3.2zM287.8 545.0a2.9 2.3 68 1 0 2.1 5.5a2.9 2.3 68 1 0 -2.1 -5.5zM275.6 569.4a2.9 2.2 105 1 0 -1.5 5.5a2.9 2.2 105 1 0 1.5 -5.5zM269.8 605.2a3.4 3.4 98 1 0 -1.1 6.7a3.4 3.4 98 1 0 1.1 -6.7zM280.1 606.1a2.7 2.3 171 1 0 -5.3 0.8a2.7 2.3 171 1 0 5.3 -0.8zM265.9 619.8a2.7 2.3 162 1 0 -5.2 1.6a2.7 2.3 162 1 0 5.2 -1.6zM273.9 624.5a3.1 2.9 141 1 0 -4.8 3.9a3.1 2.9 141 1 0 4.8 -3.9zM297.9 626.5a3.6 2.9 30 1 0 6.2 3.7a3.6 2.9 30 1 0 -6.2 -3.7zM255.9 646.7a3.0 2.3 77 1 0 1.3 5.8a3.0 2.3 77 1 0 -1.3 -5.8zM301.3 642.2a3.6 3.6 63 1 0 3.1 6.4a3.6 3.6 63 1 0 -3.1 -6.4zM290.9 660.0a2.8 2.1 150 1 0 -4.8 2.7a2.8 2.1 150 1 0 4.8 -2.7zM302.7 669.2a3.0 2.8 70 1 0 2.0 5.8a3.0 2.8 70 1 0 -2.0 -5.8z"/>
<path fill="#2aa87a" d="M293.6 490.7a3.0 2.7 86 1 0 0.4 6.1a3.0 2.7 86 1 0 -0.4 -6.1zM267.0 499.6a3.2 2.9 125 1 0 -3.7 5.1a3.2 2.9 125 1 0 3.7 -5.1zM266.4 511.1a3.0 2.2 168 1 0 -5.8 1.2a3.0 2.2 168 1 0 5.8 -1.2zM255.1 528.3a3.2 2.3 105 1 0 -1.7 6.1a3.2 2.3 105 1 0 1.7 -6.1zM279.1 539.7a3.6 2.9 1 1 0 7.2 0.2a3.6 2.9 1 1 0 -7.2 -0.2zM256.3 581.5a3.7 3.4 111 1 0 -2.7 6.8a3.7 3.4 111 1 0 2.7 -6.8zM289.6 581.3a3.3 2.6 66 1 0 2.6 6.0a3.3 2.6 66 1 0 -2.6 -6.0zM309.6 578.8a2.7 2.3 97 1 0 -0.7 5.4a2.7 2.3 97 1 0 0.7 -5.4zM316.1 641.6a3.1 2.8 154 1 0 -5.5 2.7a3.1 2.8 154 1 0 5.5 -2.7zM278.5 679.3a3.2 2.7 20 1 0 5.9 2.3a3.2 2.7 20 1 0 -5.9 -2.3z"/>
<path fill="#1e9ec1" d="M320.1 498.9a2.8 2.7 28 1 0 4.9 2.7a2.8 2.7 28 1 0 -4.9 -2.7zM246.6 524.4a3.1 2.5 160 1 0 -5.9 2.1a3.1 2.5 160 1 0 5.9 -2.1zM248.4 609.4a3.7 3.5 77 1 0 1.6 7.2a3.7 3.5 77 1 0 -1.6 -7.2z"/>
<path fill="#25a898" d="M328.8 493.6a2.8 2.4 46 1 0 3.8 4.0a2.8 2.4 46 1 0 -3.8 -4.0zM231.1 525.2a3.1 2.9 3 1 0 6.1 0.4a3.1 2.9 3 1 0 -6.1 -0.4zM331.2 528.1a3.5 3.0 93 1 0 -0.4 6.9a3.5 3.0 93 1 0 0.4 -6.9zM247.1 541.4a3.5 2.5 163 1 0 -6.7 2.0a3.5 2.5 163 1 0 6.7 -2.0zM274.0 577.6a3.1 2.5 119 1 0 -3.1 5.3a3.1 2.5 119 1 0 3.1 -5.3zM233.9 594.5a3.6 3.4 24 1 0 6.6 3.0a3.6 3.4 24 1 0 -6.6 -3.0zM284.0 590.1a3.3 3.1 46 1 0 4.6 4.9a3.3 3.1 46 1 0 -4.6 -4.9zM252.9 675.3a3.1 2.4 27 1 0 5.5 2.8a3.1 2.4 27 1 0 -5.5 -2.8z"/>
<path fill="#2ea857" d="M254.3 502.1a3.3 3.2 60 1 0 3.3 5.8a3.3 3.2 60 1 0 -3.3 -5.8zM299.5 500.3a3.1 2.3 7 1 0 6.2 0.8a3.1 2.3 7 1 0 -6.2 -0.8zM318.9 516.5a2.9 2.3 11 1 0 5.7 1.1a2.9 2.3 11 1 0 -5.7 -1.1zM287.2 521.2a3.6 3.1 172 1 0 -7.1 0.9a3.6 3.1 172 1 0 7.1 -0.9zM305.7 517.8a3.5 2.5 179 1 0 -6.9 0.0a3.5 2.5 179 1 0 6.9 -0.0zM318.3 525.5a2.9 2.7 1 1 0 5.7 0.1a2.9 2.7 1 1 0 -5.7 -0.1zM281.9 527.7a2.8 2.8 53 1 0 3.3 4.6a2.8 2.8 53 1 0 -3.3 -4.6zM290.8 527.4a2.6 2.1 46 1 0 3.7 3.8a2.6 2.1 46 1 0 -3.7 -3.8zM255.4 538.2a2.8 2.6 151 1 0 -5.0 2.7a2.8 2.6 151 1 0 5.0 -2.7zM266.3 535.6a3.6 3.5 150 1 0 -6.3 3.6a3.6 3.5 150 1 0 6.3 -3.6zM271.1 541.9a2.9 2.4 122 1 0 -3.1 4.8a2.9 2.4 122 1 0 3.1 -4.8zM301.4 568.5a3.1 3.0 70 1 0 2.0 5.9a3.1 3.0 70 1 0 -2.0 -5.9zM323.6 589.3a3.7 2.7 173 1 0 -7.3 0.9a3.7 2.7 173 1 0 7.3 -0.9zM267.6 588.1a2.9 2.5 94 1 0 -0.4 5.7a2.9 2.5 94 1 0 0.4 -5.7zM277.6 587.8a2.7 2.5 72 1 0 1.6 5.1a2.7 2.5 72 1 0 -1.6 -5.1zM297.4 589.0a3.1 2.4 83 1 0 0.7 6.2a3.1 2.4 83 1 0 -0.7 -6.2zM308.0 587.5a3.0 3.0 117 1 0 -2.8 5.4a3.0 3.0 117 1 0 2.8 -5.4zM265.3 599.4a3.1 2.9 33 1 0 5.1 3.4a3.1 2.9 33 1 0 -5.1 -3.4zM295.0 598.8a3.5 2.8 37 1 0 5.6 4.3a3.5 2.8 37 1 0 -5.6 -4.3zM261.8 611.3a3.2 2.8 177 1 0 -6.4 0.3a3.2 2.8 177 1 0 6.4 -0.3zM304.2 636.5a3.1 2.6 2 1 0 6.2 0.3a3.1 2.6 2 1 0 -6.2 -0.3zM252.1 664.5a3.6 3.5 78 1 0 1.4 7.1a3.6 3.5 78 1 0 -1.4 -7.1zM308.6 662.0a3.6 3.0 131 1 0 -4.8 5.4a3.6 3.0 131 1 0 4.8 -5.4zM298.1 678.1a3.2 2.7 85 1 0 0.5 6.3a3.2 2.7 85 1 0 -0.5 -6.3z"/>
<path fill="#2ca869" d="M286.2 502.0a3.1 2.8 141 1 0 -4.8 3.8a3.1 2.8 141 1 0 4.8 -3.8zM300.6 507.9a3.3 2.8 18 1 0 6.2 2.1a3.3 2.8 18 1 0 -6.2 -2.1zM311.0 518.2a2.8 2.3 6 1 0 5.6 0.6a2.8 2.3 6 1 0 -5.6 -0.6zM328.8 520.7a2.6 2.6 40 1 0 4.0 3.4a2.6 2.6 40 1 0 -4.0 -3.4zM303.6 532.7a3.5 3.3 108 1 0 -2.2 6.7a3.5 3.3 108 1 0 2.2 -6.7zM304.4 542.1a3.1 2.3 63 1 0 2.8 5.5a3.1 2.3 63 1 0 -2.8 -5.5zM319.0 562.2a3.4 2.9 2 1 0 6.9 0.3a3.4 2.9 2 1 0 -6.9 -0.3zM285.3 583.4a2.6 2.4 163 1 0 -5.0 1.5a2.6 2.4 163 1 0 5.0 -1.5zM331.3 584.0a3.3 2.7 127 1 0 -4.0 5.2a3.3 2.7 127 1 0 4.0 -5.2zM313.4 597.2a3.0 2.9 50 1 0 3.7 4.6a3.0 2.9 50 1 0 -3.7 -4.6zM251.4 620.6a2.9 2.3 54 1 0 3.3 4.8a2.9 2.3 54 1 0 -3.3 -4.8zM317.6 614.8a2.7 2.1 18 1 0 5.2 1.8a2.7 2.1 18 1 0 -5.2 -1.8zM289.1 641.7a2.9 2.4 148 1 0 -4.9 3.0a2.9 2.4 148 1 0 4.9 -3.0zM308.9 652.5a3.2 2.3 66 1 0 2.6 5.8a3.2 2.3 66 1 0 -2.6 -5.8zM270.7 662.4a3.3 2.8 105 1 0 -1.7 6.5a3.3 2.8 105 1 0 1.7 -6.5zM280.9 691.2a2.8 2.6 179 1 0 -5.7 0.1a2.8 2.6 179 1 0 5.7 -0.1zM281.7 690.1a3.1 2.7 14 1 0 6.1 1.5a3.1 2.7 14 1 0 -6.1 -1.5z"/>
<path fill="#98be31" d="M297.4 501.7a3.5 2.8 156 1 0 -6.4 2.8a3.5 2.8 156 1 0 6.4 -2.8zM272.1 559.1a3.2 2.5 71 1 0 2.0 6.1a3.2 2.5 71 1 0 -2.0 -6.1zM280.7 564.6a3.7 3.0 19 1 0 6.9 2.5a3.7 3.0 19 1 0 -6.9 -2.5zM309.3 560.8a3.1 2.3 46 1 0 4.3 4.5a3.1 2.3 46 1 0 -4.3 -4.5zM296.0 634.8a3.2 2.7 59 1 0 3.3 5.6a3.2 2.7 59 1 0 -3.3 -5.6z"/>
<path fill="#2093c4" d="M331.1 501.2a3.7 2.9 79 1 0 1.3 7.2a3.7 2.9 79 1 0 -1.3 -7.2zM231.8 549.7a2.7 2.0 18 1 0 5.1 1.7a2.7 2.0 18 1 0 -5.1 -1.7zM230.5 559.5a3.5 3.3 0 1 0 7.0 0.0a3.5 3.3 0 1 0 -7.0 -0.0zM240.3 621.2a2.8 2.2 13 1 0 5.5 1.3a2.8 2.2 13 1 0 -5.5 -1.3z"/>
<path fill="#2288c7" d="M242.0 514.8a2.9 2.1 34 1 0 4.7 3.3a2.9 2.1 34 1 0 -4.7 -3.3zM232.1 568.8a3.2 2.3 12 1 0 6.2 1.4a3.2 2.3 12 1 0 -6.2 -1.4zM243.2 566.1a2.8 2.8 62 1 0 2.6 5.0a2.8 2.8 62 1 0 -2.6 -5.0zM239.6 577.4a2.6 2.5 160 1 0 -5.0 1.7a2.6 2.5 160 1 0 5.0 -1.7zM252.5 604.5a3.3 2.6 172 1 0 -6.5 0.8a3.3 2.6 172 1 0 6.5 -0.8zM247.1 637.8a2.7 2.6 117 1 0 -2.5 4.8a2.7 2.6 117 1 0 2.5 -4.8z"/>
<path fill="#6fb539" d="M257.9 512.5a2.9 2.5 166 1 0 -5.6 1.4a2.9 2.5 166 1 0 5.6 -1.4zM274.7 514.4a3.2 2.8 109 1 0 -2.1 6.0a3.2 2.8 109 1 0 2.1 -6.0zM292.4 518.2a3.6 2.7 92 1 0 -0.3 7.1a3.6 2.7 92 1 0 0.3 -7.1zM276.6 525.1a3.2 2.4 124 1 0 -3.7 5.3a3.2 2.4 124 1 0 3.7 -5.3zM274.8 534.3a2.7 2.0 120 1 0 -2.8 4.7a2.7 2.0 120 1 0 2.8 -4.7zM302.9 560.7a2.9 2.6 108 1 0 -1.9 5.5a2.9 2.6 108 1 0 1.9 -5.5zM253.9 574.0a2.8 2.8 48 1 0 3.7 4.3a2.8 2.8 48 1 0 -3.7 -4.3zM279.6 570.7a3.6 3.1 55 1 0 4.2 5.9a3.6 3.1 55 1 0 -4.2 -5.9zM281.9 598.3a3.5 2.8 164 1 0 -6.7 1.8a3.5 2.8 164 1 0 6.7 -1.8zM285.4 606.6a3.7 3.5 48 1 0 4.9 5.5a3.7 3.5 48 1 0 -4.9 -5.5zM307.1 606.5a3.6 3.3 154 1 0 -6.5 3.1a3.6 3.3 154 1 0 6.5 -3.1zM316.2 604.8a3.2 3.0 121 1 0 -3.3 5.5a3.2 3.0 121 1 0 3.3 -5.5zM289.2 618.3a3.0 3.0 35 1 0 4.9 3.5a3.0 3.0 35 1 0 -4.9 -3.5zM282.7 622.1a2.6 2.4 112 1 0 -2.0 4.8a2.6 2.4 112 1 0 2.0 -4.8zM268.8 637.0a2.7 2.2 171 1 0 -5.3 0.8a2.7 2.2 171 1 0 5.3 -0.8zM291.3 644.5a3.7 2.8 29 1 0 6.4 3.6a3.7 2.8 29 1 0 -6.4 -3.6zM269.8 653.2a3.0 2.9 56 1 0 3.2 5.0a3.0 2.9 56 1 0 -3.2 -5.0zM273.1 670.6a3.5 3.2 87 1 0 0.4 7.1a3.5 3.2 87 1 0 -0.4 -7.1zM270.0 681.3a3.4 2.8 36 1 0 5.5 4.1a3.4 2.8 36 1 0 -5.5 -4.1zM291.0 674.3a3.7 3.3 89 1 0 0.1 7.3a3.7 3.3 89 1 0 -0.1 -7.3zM257.9 692.8a3.4 3.0 31 1 0 5.7 3.6a3.4 3.0 31 1 0 -5.7 -3.6z"/>
<path fill="#30a846" d="M316.4 508.5a3.6 3.0 158 1 0 -6.8 2.7a3.6 3.0 158 1 0 6.8 -2.7zM261.7 516.9a3.4 3.2 60 1 0 3.3 5.8a3.4 3.2 60 1 0 -3.3 -5.8zM253.6 554.8a3.6 3.6 61 1 0 3.4 6.3a3.6 3.6 61 1 0 -3.4 -6.3zM264.2 552.2a2.9 2.7 98 1 0 -0.8 5.7a2.9 2.7 98 1 0 0.8 -5.7zM289.5 556.6a3.0 2.2 22 1 0 5.5 2.3a3.0 2.2 22 1 0 -5.5 -2.3zM259.0 600.3a2.6 2.1 78 1 0 1.1 5.1a2.6 2.1 78 1 0 -1.1 -5.1zM254.0 639.3a2.9 2.4 17 1 0 5.5 1.7a2.9 2.4 17 1 0 -5.5 -1.7zM283.6 633.7a3.0 2.6 23 1 0 5.4 2.3a3.0 2.6 23 1 0 -5.4 -2.3zM277.3 643.1a2.9 2.8 98 1 0 -0.8 5.7a2.9 2.8 98 1 0 0.8 -5.7zM263.6 657.2a3.4 2.6 144 1 0 -5.5 3.9a3.4 2.6 144 1 0 5.5 -3.9zM299.1 661.7a3.2 2.9 102 1 0 -1.4 6.3a3.2 2.9 102 1 0 1.4 -6.3zM286.1 669.6a3.5 2.9 136 1 0 -5.1 4.8a3.5 2.9 136 1 0 5.1 -4.8zM256.3 681.8a3.1 2.7 76 1 0 1.4 6.0a3.1 2.7 76 1 0 -1.4 -6.0z"/>
<path fill="#2578bd" d="M234.8 530.7a3.0 2.6 103 1 0 -1.4 5.9a3.0 2.6 103 1 0 1.4 -5.9zM239.6 611.1a3.7 3.2 53 1 0 4.4 5.9a3.7 3.2 53 1 0 -4.4 -5.9z"/>
<path fill="#28a88c" d="M245.3 531.7a2.7 2.5 120 1 0 -2.7 4.7a2.7 2.5 120 1 0 2.7 -4.7zM245.6 550.2a2.8 2.5 137 1 0 -4.2 3.8a2.8 2.5 137 1 0 4.2 -3.8zM332.6 543.9a2.6 2.2 82 1 0 0.7 5.2a2.6 2.2 82 1 0 -0.7 -5.2zM290.8 574.3a2.6 2.0 1 1 0 5.3 0.1a2.6 2.0 1 1 0 -5.3 -0.1zM320.4 614.0a3.4 3.2 10 1 0 6.6 1.2a3.4 3.2 10 1 0 -6.6 -1.2zM268.8 616.9a3.4 3.3 38 1 0 5.3 4.2a3.4 3.3 38 1 0 -5.3 -4.2zM316.6 621.9a3.6 3.1 48 1 0 4.8 5.5a3.6 3.1 48 1 0 -4.8 -5.5zM269.8 644.9a3.6 3.3 155 1 0 -6.5 3.0a3.6 3.3 155 1 0 6.5 -3.0zM293.1 649.8a3.0 2.5 135 1 0 -4.4 4.2a3.0 2.5 135 1 0 4.4 -4.2z"/>
<path fill="#1fa9b1" d="M310.2 524.4a3.6 3.1 42 1 0 5.3 4.9a3.6 3.1 42 1 0 -5.3 -4.9zM232.5 540.2a2.8 2.1 63 1 0 2.5 5.0a2.8 2.1 63 1 0 -2.5 -5.0zM332.2 538.9a3.2 2.3 96 1 0 -0.7 6.3a3.2 2.3 96 1 0 0.7 -6.3zM254.5 548.2a3.5 2.9 169 1 0 -6.8 1.2a3.5 2.9 169 1 0 6.8 -1.2zM323.1 577.3a3.5 3.5 140 1 0 -5.4 4.5a3.5 3.5 140 1 0 5.4 -4.5z"/>
<path fill="#a5c12f" d="M258.7 565.6a3.5 2.7 160 1 0 -6.6 2.4a3.5 2.7 160 1 0 6.6 -2.4zM293.5 626.0a2.6 2.6 138 1 0 -4.0 3.5a2.6 2.6 138 1 0 4.0 -3.5zM267.4 674.3a3.3 2.9 142 1 0 -5.2 4.0a3.3 2.9 142 1 0 5.2 -4.0z"/>
<path fill="#bec62a" d="M289.0 563.5a3.4 2.6 29 1 0 6.0 3.4a3.4 2.6 29 1 0 -6.0 -3.4z"/>
<path fill="#000" d="M256.5 562.5a1.3 1.3 0 1 0 2.6 0a1.3 1.3 0 1 0 -2.6 0zM254.8 562.4a1.1 1.1 0 1 0 2.2 0a1.1 1.1 0 1 0 -2.2 0zM233.9 598.9a1.3 1.3 0 1 0 2.7 0a1.3 1.3 0 1 0 -2.7 0zM328.0 527.0a1.0 1.0 0 1 0 2.0 0a1.0 1.0 0 1 0 -2.0 0zM328.6 526.7a1.6 1.6 0 1 0 3.2 0a1.6 1.6 0 1 0 -3.2 0zM281.6 554.9a1.0 1.0 0 1 0 2.0 0a1.0 1.0 0 1 0 -2.0 0zM264.6 533.4a1.2 1.2 0 1 0 2.4 0a1.2 1.2 0 1 0 -2.4 0zM264.1 536.6a1.5 1.5 0 1 0 3.0 0a1.5 1.5 0 1 0 -3.0 0zM314.3 649.4a0.7 0.7 0 1 0 1.5 0a0.7 0.7 0 1 0 -1.5 0zM312.8 645.6a0.7 0.7 0 1 0 1.5 0a0.7 0.7 0 1 0 -1.5 0zM256.8 616.4a1.2 1.2 0 1 0 2.4 0a1.2 1.2 0 1 0 -2.4 0zM266.7 688.3a1.3 1.3 0 1 0 2.5 0a1.3 1.3 0 1 0 -2.5 0zM262.8 689.1a1.4 1.4 0 1 0 2.8 0a1.4 1.4 0 1 0 -2.8 0zM283.8 510.7a1.3 1.3 0 1 0 2.6 0a1.3 1.3 0 1 0 -2.6 0zM285.9 511.4a1.4 1.4 0 1 0 2.8 0a1.4 1.4 0 1 0 -2.8 0zM313.8 575.4a1.1 1.1 0 1 0 2.2 0a1.1 1.1 0 1 0 -2.2 0zM315.2 575.7a1.6 1.6 0 1 0 3.1 0a1.6 1.6 0 1 0 -3.1 0zM288.3 629.5a1.0 1.0 0 1 0 2.1 0a1.0 1.0 0 1 0 -2.1 0zM287.3 625.7a1.3 1.3 0 1 0 2.7 0a1.3 1.3 0 1 0 -2.7 0zM308.5 558.9a0.9 0.9 0 1 0 1.7 0a0.9 0.9 0 1 0 -1.7 0zM235.3 553.5a1.3 1.3 0 1 0 2.5 0a1.3 1.3 0 1 0 -2.5 0zM296.8 589.2a1.5 1.5 0 1 0 2.9 0a1.5 1.5 0 1 0 -2.9 0zM283.9 492.8a1.5 1.5 0 1 0 2.9 0a1.5 1.5 0 1 0 -2.9 0zM280.9 552.3a0.6 0.6 0 1 0 1.2 0a0.6 0.6 0 1 0 -1.2 0zM284.0 551.7a1.1 1.1 0 1 0 2.2 0a1.1 1.1 0 1 0 -2.2 0zM233.0 530.5a1.0 1.0 0 1 0 2.0 0a1.0 1.0 0 1 0 -2.0 0zM232.3 534.5a1.2 1.2 0 1 0 2.4 0a1.2 1.2 0 1 0 -2.4 0zM237.9 608.6a1.0 1.0 0 1 0 1.9 0a1.0 1.0 0 1 0 -1.9 0zM238.5 610.5a1.6 1.6 0 1 0 3.2 0a1.6 1.6 0 1 0 -3.2 0zM300.2 681.4a1.6 1.6 0 1 0 3.1 0a1.6 1.6 0 1 0 -3.1 0zM307.4 638.1a1.6 1.6 0 1 0 3.2 0a1.6 1.6 0 1 0 -3.2 0zM309.5 639.4a0.9 0.9 0 1 0 1.8 0a0.9 0.9 0 1 0 -1.8 0zM313.9 587.4a1.9 1.9 0 1 0 3.7 0a1.9 1.9 0 1 0 -3.7 0zM267.8 615.3a1.3 1.3 0 1 0 2.7 0a1.3 1.3 0 1 0 -2.7 0zM281.1 593.9a2.4 2.4 0 1 0 4.7 0a2.4 2.4 0 1 0 -4.7 0zM286.1 593.8a1.0 1.0 0 1 0 2.1 0a1.0 1.0 0 1 0 -2.1 0zM284.3 592.7a1.1 1.1 0 1 0 2.3 0a1.1 1.1 0 1 0 -2.3 0zM250.2 518.5a1.6 1.6 0 1 0 3.2 0a1.6 1.6 0 1 0 -3.2 0zM276.5 509.9a1.0 1.0 0 1 0 1.9 0a1.0 1.0 0 1 0 -1.9 0zM292.9 560.9a1.6 1.6 0 1 0 3.2 0a1.6 1.6 0 1 0 -3.2 0zM292.5 558.6a1.0 1.0 0 1 0 2.0 0a1.0 1.0 0 1 0 -2.0 0zM280.0 663.6a1.7 1.7 0 1 0 3.4 0a1.7 1.7 0 1 0 -3.4 0zM287.0 581.8a1.2 1.2 0 1 0 2.4 0a1.2 1.2 0 1 0 -2.4 0zM286.5 580.0a1.2 1.2 0 1 0 2.4 0a1.2 1.2 0 1 0 -2.4 0zM321.0 602.5a1.0 1.0 0 1 0 2.0 0a1.0 1.0 0 1 0 -2.0 0zM324.0 602.8a0.9 0.9 0 1 0 1.8 0a0.9 0.9 0 1 0 -1.8 0zM329.3 518.7a1.3 1.3 0 1 0 2.6 0a1.3 1.3 0 1 0 -2.6 0zM326.4 514.7a1.0 1.0 0 1 0 1.9 0a1.0 1.0 0 1 0 -1.9 0zM250.0 512.7a0.6 0.6 0 1 0 1.3 0a0.6 0.6 0 1 0 -1.3 0zM290.3 503.2a1.6 1.6 0 1 0 3.2 0a1.6 1.6 0 1 0 -3.2 0zM291.1 656.9a1.0 1.0 0 1 0 1.9 0a1.0 1.0 0 1 0 -1.9 0zM257.3 639.3a0.9 0.9 0 1 0 1.8 0a0.9 0.9 0 1 0 -1.8 0zM258.2 636.4a2.5 2.5 0 1 0 4.9 0a2.5 2.5 0 1 0 -4.9 0zM260.4 636.9a1.7 1.7 0 1 0 3.3 0a1.7 1.7 0 1 0 -3.3 0zM268.7 581.6a1.3 1.3 0 1 0 2.6 0a1.3 1.3 0 1 0 -2.6 0zM268.0 583.7a0.9 0.9 0 1 0 1.8 0a0.9 0.9 0 1 0 -1.8 0zM262.8 493.2a1.6 1.3 0 1 0 3.3 0a1.6 1.3 0 1 0 -3.3 0zM321.2 493.2a2.7 2.2 0 1 0 5.4 0a2.7 2.2 0 1 0 -5.4 0z"/>
<path fill="#2a4b9a" d="M407.6 491.7a2.9 2.7 78 1 0 1.1 5.6a2.9 2.7 78 1 0 -1.1 -5.6zM425.8 490.8a3.2 3.1 113 1 0 -2.6 5.9a3.2 3.1 113 1 0 2.6 -5.9zM444.7 494.0a3.2 2.5 103 1 0 -1.4 6.2a3.2 2.5 103 1 0 1.4 -6.2zM419.6 502.4a3.0 2.2 152 1 0 -5.3 2.7a3.0 2.2 152 1 0 5.3 -2.7zM431.4 505.7a2.9 2.8 54 1 0 3.4 4.7a2.9 2.8 54 1 0 -3.4 -4.7zM502.3 506.1a3.4 3.0 155 1 0 -6.1 2.8a3.4 3.0 155 1 0 6.1 -2.8zM457.6 510.1a3.5 3.5 36 1 0 5.7 4.2a3.5 3.5 36 1 0 -5.7 -4.2zM406.3 516.9a3.1 2.6 69 1 0 2.1 5.8a3.1 2.6 69 1 0 -2.1 -5.8zM428.9 518.0a3.3 2.9 140 1 0 -5.2 4.2a3.3 2.9 140 1 0 5.2 -4.2zM478.2 533.2a3.6 3.3 177 1 0 -7.1 0.3a3.6 3.3 177 1 0 7.1 -0.3zM405.6 535.2a3.4 3.4 70 1 0 2.3 6.5a3.4 3.4 70 1 0 -2.3 -6.5zM423.9 545.7a3.6 2.8 27 1 0 6.4 3.3a3.6 2.8 27 1 0 -6.4 -3.3zM442.2 549.0a3.2 2.7 2 1 0 6.4 0.3a3.2 2.7 2 1 0 -6.4 -0.3zM410.2 554.3a3.5 2.8 150 1 0 -6.0 3.4a3.5 2.8 150 1 0 6.0 -3.4zM407.2 563.4a2.8 2.5 104 1 0 -1.4 5.4a2.8 2.5 104 1 0 1.4 -5.4zM413.1 565.5a2.7 2.3 4 1 0 5.4 0.4a2.7 2.3 4 1 0 -5.4 -0.4zM474.4 575.6a3.1 3.1 164 1 0 -6.0 1.7a3.1 3.1 164 1 0 6.0 -1.7zM470.0 583.9a2.9 2.3 58 1 0 3.0 4.9a2.9 2.3 58 1 0 -3.0 -4.9zM421.0 597.4a3.6 3.4 85 1 0 0.5 7.2a3.6 3.4 85 1 0 -0.5 -7.2zM453.1 603.2a2.8 2.7 179 1 0 -5.7 0.1a2.8 2.7 179 1 0 5.7 -0.1zM477.3 603.7a2.7 2.4 0 1 0 5.4 0.0a2.7 2.4 0 1 0 -5.4 -0.0zM412.6 607.9a2.9 2.9 108 1 0 -1.9 5.5a2.9 2.9 108 1 0 1.9 -5.5zM425.3 610.9a3.2 2.6 175 1 0 -6.3 0.5a3.2 2.6 175 1 0 6.3 -0.5zM467.6 625.7a3.6 3.4 29 1 0 6.3 3.6a3.6 3.4 29 1 0 -6.3 -3.6zM424.3 633.5a3.1 2.5 122 1 0 -3.3 5.1a3.1 2.5 122 1 0 3.3 -5.1zM487.1 641.4a2.8 2.5 68 1 0 2.1 5.3a2.8 2.5 68 1 0 -2.1 -5.3zM415.8 661.6a3.4 3.0 124 1 0 -3.8 5.5a3.4 3.0 124 1 0 3.8 -5.5zM428.0 678.5a2.7 2.2 72 1 0 1.6 5.2a2.7 2.2 72 1 0 -1.6 -5.2z"/>
<path fill="#2767b0" d="M417.5 493.2a2.8 2.2 151 1 0 -4.9 2.6a2.8 2.2 151 1 0 4.9 -2.6zM479.8 497.1a3.3 2.5 104 1 0 -1.7 6.4a3.3 2.5 104 1 0 1.7 -6.4zM491.7 498.4a3.0 2.7 157 1 0 -5.5 2.3a3.0 2.7 157 1 0 5.5 -2.3zM413.4 509.4a3.3 3.0 38 1 0 5.1 4.0a3.3 3.0 38 1 0 -5.1 -4.0zM489.5 506.1a3.0 2.9 98 1 0 -0.9 5.9a3.0 2.9 98 1 0 0.9 -5.9zM444.5 528.8a2.6 1.9 68 1 0 1.9 4.9a2.6 1.9 68 1 0 -1.9 -4.9zM461.0 545.4a3.2 3.2 24 1 0 5.8 2.7a3.2 3.2 24 1 0 -5.8 -2.7zM480.2 544.9a3.2 2.9 15 1 0 6.2 1.7a3.2 2.9 15 1 0 -6.2 -1.7zM453.6 556.8a3.1 2.4 72 1 0 1.9 5.9a3.1 2.4 72 1 0 -1.9 -5.9zM462.0 563.1a2.9 2.4 70 1 0 2.0 5.5a2.9 2.4 70 1 0 -2.0 -5.5zM413.2 573.2a3.2 2.6 20 1 0 6.0 2.2a3.2 2.6 20 1 0 -6.0 -2.2zM422.1 573.3a3.0 2.8 17 1 0 5.8 1.8a3.0 2.8 17 1 0 -5.8 -1.8zM489.2 569.9a2.7 2.5 32 1 0 4.5 2.9a2.7 2.5 32 1 0 -4.5 -2.9zM410.0 580.4a3.5 3.1 129 1 0 -4.5 5.4a3.5 3.1 129 1 0 4.5 -5.4zM481.1 579.1a3.2 2.8 83 1 0 0.7 6.3a3.2 2.8 83 1 0 -0.7 -6.3zM436.5 594.4a3.0 2.5 82 1 0 0.7 6.0a3.0 2.5 82 1 0 -0.7 -6.0zM396.4 602.1a3.5 3.4 10 1 0 6.9 1.3a3.5 3.4 10 1 0 -6.9 -1.3zM407.5 600.2a3.2 2.6 26 1 0 5.8 2.8a3.2 2.6 26 1 0 -5.8 -2.8zM458.1 609.3a3.1 2.7 64 1 0 2.6 5.6a3.1 2.7 64 1 0 -2.6 -5.6zM421.4 616.7a2.7 2.4 58 1 0 2.8 4.6a2.7 2.4 58 1 0 -2.8 -4.6zM404.5 626.5a3.4 3.3 110 1 0 -2.4 6.4a3.4 3.3 110 1 0 2.4 -6.4zM459.9 627.0a3.5 3.2 95 1 0 -0.7 6.9a3.5 3.2 95 1 0 0.7 -6.9zM480.5 636.2a3.4 2.7 107 1 0 -2.1 6.4a3.4 2.7 107 1 0 2.1 -6.4zM440.7 671.5a2.9 2.6 22 1 0 5.4 2.2a2.9 2.6 22 1 0 -5.4 -2.2zM470.5 671.8a2.9 2.8 102 1 0 -1.3 5.6a2.9 2.8 102 1 0 1.3 -5.6z"/>
<path fill="#2578bd" d="M437.9 497.0a3.7 3.6 138 1 0 -5.5 4.9a3.7 3.6 138 1 0 5.5 -4.9zM474.2 503.7a2.8 2.5 151 1 0 -4.9 2.6a2.8 2.5 151 1 0 4.9 -2.6zM452.5 511.1a3.6 3.5 103 1 0 -1.7 7.1a3.6 3.5 103 1 0 1.7 -7.1zM430.7 537.0a3.5 2.8 166 1 0 -6.8 1.7a3.5 2.8 166 1 0 6.8 -1.7zM467.2 555.6a3.6 3.4 171 1 0 -7.2 1.1a3.6 3.4 171 1 0 7.2 -1.1zM470.1 557.9a3.4 2.9 27 1 0 6.0 3.1a3.4 2.9 27 1 0 -6.0 -3.1zM435.8 576.8a3.6 3.1 103 1 0 -1.6 7.0a3.6 3.1 103 1 0 1.6 -7.0zM454.4 584.1a2.7 2.1 124 1 0 -3.1 4.4a2.7 2.1 124 1 0 3.1 -4.4zM452.9 592.0a3.0 2.5 67 1 0 2.3 5.6a3.0 2.5 67 1 0 -2.3 -5.6zM475.0 594.6a3.5 3.3 178 1 0 -7.0 0.2a3.5 3.3 178 1 0 7.0 -0.2zM486.8 605.9a3.1 2.6 65 1 0 2.6 5.7a3.1 2.6 65 1 0 -2.6 -5.7zM471.2 615.8a3.2 2.8 112 1 0 -2.5 5.9a3.2 2.8 112 1 0 2.5 -5.9zM451.5 627.2a3.5 3.3 94 1 0 -0.6 7.0a3.5 3.3 94 1 0 0.6 -7.0zM439.3 640.7a3.6 2.8 17 1 0 6.9 2.2a3.6 2.8 17 1 0 -6.9 -2.2zM458.7 647.0a2.8 2.5 52 1 0 3.5 4.5a2.8 2.5 52 1 0 -3.5 -4.5zM466.1 645.5a3.2 2.9 6 1 0 6.3 0.7a3.2 2.9 6 1 0 -6.3 -0.7zM475.7 646.1a3.5 3.3 63 1 0 3.1 6.2a3.5 3.3 63 1 0 -3.1 -6.2zM429.1 671.9a3.6 3.5 162 1 0 -6.8 2.1a3.6 3.5 162 1 0 6.8 -2.1zM427.9 690.7a2.9 2.6 156 1 0 -5.2 2.3a2.9 2.6 156 1 0 5.2 -2.3zM436.4 688.7a3.3 2.8 144 1 0 -5.3 3.8a3.3 2.8 144 1 0 5.3 -3.8z"/>
<path fill="#2093c4" d="M454.9 494.6a3.5 2.6 130 1 0 -4.6 5.4a3.5 2.6 130 1 0 4.6 -5.4zM428.6 500.6a3.4 2.7 131 1 0 -4.5 5.2a3.4 2.7 131 1 0 4.5 -5.2zM471.4 512.6a3.3 3.1 131 1 0 -4.3 4.9a3.3 3.1 131 1 0 4.3 -4.9zM445.6 521.2a3.3 2.5 54 1 0 3.8 5.3a3.3 2.5 54 1 0 -3.8 -5.3zM466.9 526.7a3.5 3.0 100 1 0 -1.3 7.0a3.5 3.0 100 1 0 1.3 -7.0zM454.3 574.1a3.3 3.2 114 1 0 -2.8 6.0a3.3 3.2 114 1 0 2.8 -6.0zM442.0 592.8a2.9 2.5 40 1 0 4.4 3.8a2.9 2.5 40 1 0 -4.4 -3.8zM472.5 608.7a3.4 3.0 174 1 0 -6.8 0.6a3.4 3.0 174 1 0 6.8 -0.6zM442.7 620.9a3.1 2.6 100 1 0 -1.2 6.2a3.1 2.6 100 1 0 1.2 -6.2zM444.7 650.4a3.6 3.3 159 1 0 -6.8 2.6a3.6 3.3 159 1 0 6.8 -2.6zM439.7 654.0a2.8 2.0 171 1 0 -5.5 0.9a2.8 2.0 171 1 0 5.5 -0.9zM430.8 673.5a3.3 3.2 0 1 0 6.7 0.1a3.3 3.2 0 1 0 -6.7 -0.1zM462.3 673.0a2.7 2.1 114 1 0 -2.2 5.0a2.7 2.1 114 1 0 2.2 -5.0zM449.6 679.5a3.3 2.6 146 1 0 -5.5 3.6a3.3 2.6 146 1 0 5.5 -3.6zM471.4 683.0a3.1 3.0 23 1 0 5.7 2.5a3.1 3.0 23 1 0 -5.7 -2.5z"/>
<path fill="#283d90" d="M466.2 494.1a3.2 2.4 172 1 0 -6.3 0.9a3.2 2.4 172 1 0 6.3 -0.9zM482.1 491.0a2.9 2.2 138 1 0 -4.4 3.9a2.9 2.2 138 1 0 4.4 -3.9zM442.8 511.6a2.8 2.1 75 1 0 1.4 5.4a2.8 2.1 75 1 0 -1.4 -5.4zM479.8 505.9a3.6 3.3 122 1 0 -3.8 6.1a3.6 3.3 122 1 0 3.8 -6.1zM457.6 520.1a3.6 2.9 86 1 0 0.5 7.2a3.6 2.9 86 1 0 -0.5 -7.2zM396.3 529.1a3.3 3.0 71 1 0 2.1 6.2a3.3 3.0 71 1 0 -2.1 -6.2zM415.7 538.8a2.7 2.5 11 1 0 5.3 1.1a2.7 2.5 11 1 0 -5.3 -1.1zM491.9 534.1a3.6 3.5 48 1 0 4.8 5.4a3.6 3.5 48 1 0 -4.8 -5.4zM453.2 548.4a2.8 2.6 63 1 0 2.5 4.9a2.8 2.6 63 1 0 -2.5 -4.9zM489.3 543.0a3.2 3.1 19 1 0 6.1 2.2a3.2 3.1 19 1 0 -6.1 -2.2zM423.4 563.5a3.6 3.2 19 1 0 6.9 2.4a3.6 3.2 19 1 0 -6.9 -2.4zM447.3 586.0a3.2 2.4 170 1 0 -6.2 1.0a3.2 2.4 170 1 0 6.2 -1.0zM491.9 598.7a3.0 2.1 163 1 0 -5.7 1.7a3.0 2.1 163 1 0 5.7 -1.7zM433.2 608.8a3.0 2.4 155 1 0 -5.4 2.5a3.0 2.4 155 1 0 5.4 -2.5zM404.3 618.8a2.8 2.0 113 1 0 -2.2 5.2a2.8 2.0 113 1 0 2.2 -5.2zM462.6 618.6a3.7 2.8 126 1 0 -4.3 5.9a3.7 2.8 126 1 0 4.3 -5.9zM489.9 634.1a2.9 2.5 153 1 0 -5.2 2.7a2.9 2.5 153 1 0 5.2 -2.7zM455.7 655.6a2.8 2.1 55 1 0 3.2 4.6a2.8 2.1 55 1 0 -3.2 -4.6zM488.3 658.1a2.9 2.3 173 1 0 -5.8 0.6a2.9 2.3 173 1 0 5.8 -0.6zM418.9 672.5a3.7 3.3 150 1 0 -6.4 3.6a3.7 3.3 150 1 0 6.4 -3.6z"/>
<path fill="#2288c7" d="M475.0 494.8a2.7 2.5 146 1 0 -4.5 2.9a2.7 2.5 146 1 0 4.5 -2.9zM428.7 529.5a2.8 2.1 156 1 0 -5.1 2.2a2.8 2.1 156 1 0 5.1 -2.2zM466.2 535.9a3.6 3.5 116 1 0 -3.2 6.5a3.6 3.5 116 1 0 3.2 -6.5zM456.0 565.0a3.2 3.2 127 1 0 -3.9 5.1a3.2 3.2 127 1 0 3.9 -5.1zM441.4 575.3a3.1 2.6 39 1 0 4.7 3.9a3.1 2.6 39 1 0 -4.7 -3.9zM399.6 582.4a2.7 2.2 129 1 0 -3.4 4.1a2.7 2.2 129 1 0 3.4 -4.1zM424.5 581.1a3.0 2.2 76 1 0 1.4 5.8a3.0 2.2 76 1 0 -1.4 -5.8zM439.1 612.6a3.6 2.8 53 1 0 4.3 5.9a3.6 2.8 53 1 0 -4.3 -5.9zM446.9 656.9a3.2 2.9 92 1 0 -0.3 6.3a3.2 2.9 92 1 0 0.3 -6.3zM464.8 664.1a3.7 3.0 131 1 0 -4.8 5.6a3.7 3.0 131 1 0 4.8 -5.6zM456.5 676.7a3.4 3.3 156 1 0 -6.3 2.7a3.4 3.3 156 1 0 6.3 -2.7zM461.0 685.8a3.6 3.0 171 1 0 -7.1 1.1a3.6 3.0 171 1 0 7.1 -1.1zM466.9 681.4a3.1 3.1 122 1 0 -3.3 5.3a3.1 3.1 122 1 0 3.3 -5.3zM466.0 693.6a3.2 2.4 154 1 0 -5.7 2.8a3.2 2.4 154 1 0 5.7 -2.8zM474.0 689.7a3.6 3.0 119 1 0 -3.6 6.2a3.6 3.0 119 1 0 3.6 -6.2z"/>
<path fill="#2e2a6e" d="M486.7 490.8a2.8 2.8 21 1 0 5.2 2.0a2.8 2.8 21 1 0 -5.2 -2.0zM404.8 500.2a3.0 2.7 36 1 0 4.8 3.5a3.0 2.7 36 1 0 -4.8 -3.5zM409.7 511.0a3.3 3.3 170 1 0 -6.5 1.1a3.3 3.3 170 1 0 6.5 -1.1zM498.1 515.6a2.8 2.2 131 1 0 -3.7 4.1a2.8 2.2 131 1 0 3.7 -4.1zM400.3 546.7a3.0 2.9 110 1 0 -2.1 5.5a3.0 2.9 110 1 0 2.1 -5.5zM491.3 551.2a3.0 2.3 64 1 0 2.5 5.4a3.0 2.3 64 1 0 -2.5 -5.4zM398.1 573.1a2.8 2.2 65 1 0 2.3 5.1a2.8 2.2 65 1 0 -2.3 -5.1zM397.1 590.8a3.2 2.6 46 1 0 4.4 4.7a3.2 2.6 46 1 0 -4.4 -4.7zM480.4 610.6a2.8 2.5 89 1 0 0.1 5.5a2.8 2.5 89 1 0 -0.1 -5.5zM408.2 647.0a3.0 2.3 165 1 0 -5.8 1.5a3.0 2.3 165 1 0 5.8 -1.5zM416.9 643.3a3.2 3.0 100 1 0 -1.1 6.4a3.2 3.0 100 1 0 1.1 -6.4zM475.3 670.2a3.5 2.7 39 1 0 5.5 4.5a3.5 2.7 39 1 0 -5.5 -4.5z"/>
<path fill="#2a55a3" d="M498.6 494.0a3.6 3.3 80 1 0 1.1 7.0a3.6 3.3 80 1 0 -1.1 -7.0zM456.6 505.2a3.2 2.8 161 1 0 -6.0 2.0a3.2 2.8 161 1 0 6.0 -2.0zM492.5 516.3a3.5 2.7 9 1 0 6.8 1.1a3.5 2.7 9 1 0 -6.8 -1.1zM399.2 519.5a3.5 2.7 115 1 0 -3.0 6.4a3.5 2.7 115 1 0 3.0 -6.4zM476.4 538.0a3.3 2.9 132 1 0 -4.4 4.9a3.3 2.9 132 1 0 4.4 -4.9zM436.1 550.6a3.0 2.4 98 1 0 -0.9 5.9a3.0 2.4 98 1 0 0.9 -5.9zM474.2 547.6a2.9 2.8 115 1 0 -2.5 5.2a2.9 2.8 115 1 0 2.5 -5.2zM423.4 555.8a2.7 2.7 38 1 0 4.2 3.4a2.7 2.7 38 1 0 -4.2 -3.4zM462.7 572.1a2.7 2.2 84 1 0 0.5 5.4a2.7 2.2 84 1 0 -0.5 -5.4zM438.6 604.6a3.0 2.9 70 1 0 2.1 5.7a3.0 2.9 70 1 0 -2.1 -5.7zM457.1 603.4a3.5 2.7 7 1 0 7.0 0.9a3.5 2.7 7 1 0 -7.0 -0.9zM472.2 598.7a2.8 2.6 131 1 0 -3.7 4.2a2.8 2.6 131 1 0 3.7 -4.2zM414.9 617.5a3.0 2.3 135 1 0 -4.3 4.2a3.0 2.3 135 1 0 4.3 -4.2zM476.8 620.3a3.4 3.3 28 1 0 5.9 3.2a3.4 3.3 28 1 0 -5.9 -3.2zM486.6 615.1a3.0 2.5 39 1 0 4.6 3.8a3.0 2.5 39 1 0 -4.6 -3.8zM433.0 624.3a3.2 3.0 112 1 0 -2.5 5.9a3.2 3.0 112 1 0 2.5 -5.9zM438.8 631.2a3.3 3.2 47 1 0 4.5 4.8a3.3 3.2 47 1 0 -4.5 -4.8zM429.1 635.4a2.9 2.8 23 1 0 5.3 2.3a2.9 2.8 23 1 0 -5.3 -2.3zM461.4 636.7a3.6 3.0 99 1 0 -1.1 7.0a3.6 3.0 99 1 0 1.1 -7.0zM450.9 645.0a3.5 2.8 87 1 0 0.3 6.9a3.5 2.8 87 1 0 -0.3 -6.9zM407.8 654.1a3.6 2.8 39 1 0 5.5 4.5a3.6 2.8 39 1 0 -5.5 -4.5zM417.3 651.3a3.3 2.6 55 1 0 3.7 5.4a3.3 2.6 55 1 0 -3.7 -5.4zM470.3 653.5a3.7 3.3 2 1 0 7.4 0.3a3.7 3.3 2 1 0 -7.4 -0.3zM440.2 663.1a2.8 2.3 32 1 0 4.8 3.1a2.8 2.3 32 1 0 -4.8 -3.1z"/>
<path fill="#293787" d="M394.7 503.0a3.5 2.6 39 1 0 5.4 4.4a3.5 2.6 39 1 0 -5.4 -4.4zM474.8 519.8a3.5 3.3 75 1 0 1.8 6.8a3.5 3.3 75 1 0 -1.8 -6.8zM417.5 527.3a3.6 3.4 110 1 0 -2.5 6.7a3.6 3.4 110 1 0 2.5 -6.7zM495.6 523.2a3.3 2.8 77 1 0 1.4 6.4a3.3 2.8 77 1 0 -1.4 -6.4zM407.3 544.0a3.6 3.3 104 1 0 -1.8 7.0a3.6 3.3 104 1 0 1.8 -7.0zM413.7 556.8a3.6 3.2 3 1 0 7.2 0.4a3.6 3.2 3 1 0 -7.2 -0.4zM415.8 580.7a3.3 2.7 63 1 0 2.9 5.8a3.3 2.7 63 1 0 -2.9 -5.8zM489.0 578.6a2.6 2.1 87 1 0 0.2 5.2a2.6 2.1 87 1 0 -0.2 -5.2zM429.1 590.8a3.4 2.8 139 1 0 -5.1 4.3a3.4 2.8 139 1 0 5.1 -4.3zM427.3 599.5a3.4 3.0 24 1 0 6.1 2.8a3.4 3.0 24 1 0 -6.1 -2.8zM398.1 611.1a2.7 2.7 20 1 0 5.1 1.9a2.7 2.7 20 1 0 -5.1 -1.9zM415.9 626.1a2.6 2.1 159 1 0 -4.9 1.8a2.6 2.1 159 1 0 4.9 -1.8zM482.4 628.9a3.0 2.6 134 1 0 -4.2 4.3a3.0 2.6 134 1 0 4.2 -4.3z"/>
<path fill="#1fa9b1" d="M442.9 502.0a3.6 3.3 96 1 0 -0.9 7.2a3.6 3.3 96 1 0 0.9 -7.2zM435.7 661.9a3.5 3.3 141 1 0 -5.5 4.3a3.5 3.3 141 1 0 5.5 -4.3z"/>
<path fill="#294495" d="M460.5 499.8a3.1 2.9 41 1 0 4.6 4.1a3.1 2.9 41 1 0 -4.6 -4.1zM436.6 516.4a3.0 2.5 153 1 0 -5.3 2.7a3.0 2.5 153 1 0 5.3 -2.7zM405.9 527.9a3.5 3.3 41 1 0 5.2 4.6a3.5 3.3 41 1 0 -5.2 -4.6zM434.6 535.7a3.3 2.7 3 1 0 6.5 0.3a3.3 2.7 3 1 0 -6.5 -0.3zM455.5 530.0a2.7 2.0 64 1 0 2.3 4.9a2.7 2.0 64 1 0 -2.3 -4.9zM438.7 541.0a3.7 3.2 107 1 0 -2.1 7.0a3.7 3.2 107 1 0 2.1 -7.0zM446.2 536.9a3.3 3.2 88 1 0 0.1 6.7a3.3 3.2 88 1 0 -0.1 -6.7zM415.8 544.3a3.0 2.8 64 1 0 2.6 5.5a3.0 2.8 64 1 0 -2.6 -5.5zM485.9 554.1a2.6 2.6 151 1 0 -4.6 2.5a2.6 2.6 151 1 0 4.6 -2.5zM400.1 566.6a3.1 2.4 174 1 0 -6.2 0.6a3.1 2.4 174 1 0 6.2 -0.6zM484.6 561.4a3.1 2.9 153 1 0 -5.5 2.7a3.1 2.9 153 1 0 5.5 -2.7zM477.1 571.5a3.5 3.4 4 1 0 7.0 0.5a3.5 3.4 4 1 0 -7.0 -0.5zM463.1 579.9a3.5 3.2 111 1 0 -2.6 6.5a3.5 3.2 111 1 0 2.6 -6.5zM411.7 590.7a3.0 2.2 162 1 0 -5.7 1.8a3.0 2.2 162 1 0 5.7 -1.8zM418.8 589.0a3.4 2.6 115 1 0 -2.9 6.0a3.4 2.6 115 1 0 2.9 -6.0zM419.2 625.7a3.1 2.8 34 1 0 5.0 3.4a3.1 2.8 34 1 0 -5.0 -3.4zM488.2 622.6a3.3 2.7 76 1 0 1.6 6.5a3.3 2.7 76 1 0 -1.6 -6.5zM469.5 665.4a3.1 2.7 21 1 0 5.8 2.3a3.1 2.7 21 1 0 -5.8 -2.3z"/>
<path fill="#2b307a" d="M485.6 515.1a3.2 3.1 89 1 0 0.0 6.4a3.2 3.1 89 1 0 -0.0 -6.4zM400.7 537.7a3.3 2.8 126 1 0 -4.0 5.4a3.3 2.8 126 1 0 4.0 -5.4zM481.9 534.2a3.2 2.3 40 1 0 4.9 4.1a3.2 2.3 40 1 0 -4.9 -4.1zM402.2 635.5a3.1 3.0 67 1 0 2.4 5.7a3.1 3.0 67 1 0 -2.4 -5.7zM411.8 633.2a3.5 3.3 77 1 0 1.5 6.9a3.5 3.3 77 1 0 -1.5 -6.9zM485.0 661.6a3.3 3.1 156 1 0 -6.0 2.6a3.3 3.1 156 1 0 6.0 -2.6z"/>
<path fill="#1caabe" d="M456.0 539.0a3.4 2.8 107 1 0 -2.0 6.5a3.4 2.8 107 1 0 2.0 -6.5zM428.1 617.8a3.5 2.5 34 1 0 5.8 4.0a3.5 2.5 34 1 0 -5.8 -4.0zM425.5 662.0a3.5 2.7 163 1 0 -6.7 2.0a3.5 2.7 163 1 0 6.7 -2.0zM450.0 668.6a3.6 3.3 20 1 0 6.8 2.6a3.6 3.3 20 1 0 -6.8 -2.6zM423.6 681.1a3.1 2.7 134 1 0 -4.4 4.4a3.1 2.7 134 1 0 4.4 -4.4zM441.4 681.3a3.2 2.8 178 1 0 -6.3 0.1a3.2 2.8 178 1 0 6.3 -0.1z"/>
<path fill="#1e9ec1" d="M453.2 620.5a2.6 2.5 175 1 0 -5.2 0.4a2.6 2.5 175 1 0 5.2 -0.4zM455.6 687.8a3.6 2.7 114 1 0 -3.0 6.5a3.6 2.7 114 1 0 3.0 -6.5z"/>
<path fill="#22a9a5" d="M464.6 654.0a3.5 3.2 90 1 0 -0.1 6.9a3.5 3.2 90 1 0 0.1 -6.9z"/>
<path fill="#28a88c" d="M446.8 689.0a2.7 2.5 143 1 0 -4.4 3.3a2.7 2.5 143 1 0 4.4 -3.3z"/>
<path fill="#000" d="M447.5 639.9a1.2 1.2 0 1 0 2.4 0a1.2 1.2 0 1 0 -2.4 0zM445.5 639.5a1.4 1.4 0 1 0 2.8 0a1.4 1.4 0 1 0 -2.8 0zM490.8 621.3a1.4 1.4 0 1 0 2.8 0a1.4 1.4 0 1 0 -2.8 0zM491.2 619.7a1.5 1.5 0 1 0 3.0 0a1.5 1.5 0 1 0 -3.0 0zM465.3 637.9a1.3 1.3 0 1 0 2.6 0a1.3 1.3 0 1 0 -2.6 0zM429.0 549.1a1.4 1.4 0 1 0 2.8 0a1.4 1.4 0 1 0 -2.8 0zM431.2 551.2a1.2 1.2 0 1 0 2.4 0a1.2 1.2 0 1 0 -2.4 0zM487.6 634.7a0.8 0.8 0 1 0 1.6 0a0.8 0.8 0 1 0 -1.6 0zM404.7 542.4a1.3 1.3 0 1 0 2.5 0a1.3 1.3 0 1 0 -2.5 0zM400.9 532.5a1.8 1.8 0 1 0 3.5 0a1.8 1.8 0 1 0 -3.5 0zM404.2 530.6a1.4 1.4 0 1 0 2.8 0a1.4 1.4 0 1 0 -2.8 0zM473.4 533.2a0.7 0.7 0 1 0 1.5 0a0.7 0.7 0 1 0 -1.5 0zM474.3 532.5a1.1 1.1 0 1 0 2.3 0a1.1 1.1 0 1 0 -2.3 0zM421.8 512.5a1.5 1.5 0 1 0 3.0 0a1.5 1.5 0 1 0 -3.0 0zM417.6 510.9a1.5 1.5 0 1 0 3.1 0a1.5 1.5 0 1 0 -3.1 0zM399.7 603.0a1.2 1.2 0 1 0 2.4 0a1.2 1.2 0 1 0 -2.4 0zM448.9 647.3a0.9 0.9 0 1 0 1.9 0a0.9 0.9 0 1 0 -1.9 0zM447.5 648.5a0.6 0.6 0 1 0 1.2 0a0.6 0.6 0 1 0 -1.2 0zM433.7 544.1a1.6 1.6 0 1 0 3.2 0a1.6 1.6 0 1 0 -3.2 0zM493.0 551.0a1.3 1.3 0 1 0 2.6 0a1.3 1.3 0 1 0 -2.6 0zM410.6 577.7a2.5 2.5 0 1 0 5.0 0a2.5 2.5 0 1 0 -5.0 0zM415.0 577.5a0.8 0.8 0 1 0 1.5 0a0.8 0.8 0 1 0 -1.5 0zM413.4 577.5a1.4 1.4 0 1 0 2.8 0a1.4 1.4 0 1 0 -2.8 0zM475.6 504.8a2.2 2.2 0 1 0 4.5 0a2.2 2.2 0 1 0 -4.5 0zM475.6 507.2a0.7 0.7 0 1 0 1.4 0a0.7 0.7 0 1 0 -1.4 0zM476.4 504.0a0.8 0.8 0 1 0 1.6 0a0.8 0.8 0 1 0 -1.6 0zM472.5 506.1a1.9 1.9 0 1 0 3.8 0a1.9 1.9 0 1 0 -3.8 0zM413.9 658.7a0.8 0.8 0 1 0 1.6 0a0.8 0.8 0 1 0 -1.6 0zM415.7 657.7a1.3 1.3 0 1 0 2.7 0a1.3 1.3 0 1 0 -2.7 0zM486.7 642.5a0.8 0.8 0 1 0 1.6 0a0.8 0.8 0 1 0 -1.6 0zM487.4 641.1a1.2 1.2 0 1 0 2.5 0a1.2 1.2 0 1 0 -2.5 0zM440.6 514.8a0.7 0.7 0 1 0 1.4 0a0.7 0.7 0 1 0 -1.4 0zM434.5 627.2a0.9 0.9 0 1 0 1.7 0a0.9 0.9 0 1 0 -1.7 0zM436.5 622.7a1.6 1.6 0 1 0 3.2 0a1.6 1.6 0 1 0 -3.2 0zM452.6 533.0a1.0 1.0 0 1 0 2.0 0a1.0 1.0 0 1 0 -2.0 0zM491.0 551.8a1.6 1.6 0 1 0 3.1 0a1.6 1.6 0 1 0 -3.1 0zM473.6 540.8a1.1 1.1 0 1 0 2.1 0a1.1 1.1 0 1 0 -2.1 0zM474.0 540.1a0.6 0.6 0 1 0 1.2 0a0.6 0.6 0 1 0 -1.2 0zM440.9 696.8a1.1 1.1 0 1 0 2.1 0a1.1 1.1 0 1 0 -2.1 0zM445.1 695.9a0.9 0.9 0 1 0 1.8 0a0.9 0.9 0 1 0 -1.8 0zM479.0 571.1a0.9 0.9 0 1 0 1.8 0a0.9 0.9 0 1 0 -1.8 0zM447.5 574.3a1.1 1.1 0 1 0 2.2 0a1.1 1.1 0 1 0 -2.2 0zM479.9 518.0a2.1 2.1 0 1 0 4.1 0a2.1 2.1 0 1 0 -4.1 0zM481.3 518.8a1.8 1.8 0 1 0 3.6 0a1.8 1.8 0 1 0 -3.6 0zM483.9 518.0a0.8 0.8 0 1 0 1.5 0a0.8 0.8 0 1 0 -1.5 0zM482.9 517.6a1.1 1.1 0 1 0 2.1 0a1.1 1.1 0 1 0 -2.1 0zM453.0 631.6a1.3 1.3 0 1 0 2.5 0a1.3 1.3 0 1 0 -2.5 0zM453.1 631.9a1.4 1.4 0 1 0 2.8 0a1.4 1.4 0 1 0 -2.8 0zM462.2 680.4a1.2 1.2 0 1 0 2.5 0a1.2 1.2 0 1 0 -2.5 0zM395.8 511.5a1.0 1.0 0 1 0 2.0 0a1.0 1.0 0 1 0 -2.0 0zM399.5 511.1a0.7 0.7 0 1 0 1.5 0a0.7 0.7 0 1 0 -1.5 0zM403.5 536.0a1.3 1.3 0 1 0 2.5 0a1.3 1.3 0 1 0 -2.5 0zM407.2 535.9a0.8 0.8 0 1 0 1.6 0a0.8 0.8 0 1 0 -1.6 0zM447.0 664.3a2.2 2.2 0 1 0 4.3 0a2.2 2.2 0 1 0 -4.3 0zM450.0 665.8a1.1 1.1 0 1 0 2.3 0a1.1 1.1 0 1 0 -2.3 0zM448.5 664.8a0.7 0.7 0 1 0 1.4 0a0.7 0.7 0 1 0 -1.4 0zM450.0 667.1a0.7 0.7 0 1 0 1.5 0a0.7 0.7 0 1 0 -1.5 0zM419.3 672.1a1.5 1.5 0 1 0 3.1 0a1.5 1.5 0 1 0 -3.1 0zM427.0 570.2a0.7 0.7 0 1 0 1.5 0a0.7 0.7 0 1 0 -1.5 0zM453.0 551.3a0.6 0.6 0 1 0 1.3 0a0.6 0.6 0 1 0 -1.3 0zM452.2 552.2a0.7 0.7 0 1 0 1.5 0a0.7 0.7 0 1 0 -1.5 0zM470.9 578.2a0.9 0.9 0 1 0 1.7 0a0.9 0.9 0 1 0 -1.7 0zM396.7 493.2a2.1 1.7 0 1 0 4.2 0a2.1 1.7 0 1 0 -4.2 0zM404.8 493.2a2.8 2.2 0 1 0 5.6 0a2.8 2.2 0 1 0 -5.6 0zM419.9 493.2a2.2 1.8 0 1 0 4.5 0a2.2 1.8 0 1 0 -4.5 0zM427.2 493.2a1.4 1.1 0 1 0 2.7 0a1.4 1.1 0 1 0 -2.7 0zM471.8 493.2a1.8 1.5 0 1 0 3.7 0a1.8 1.5 0 1 0 -3.7 0z"/>
<text x="8" y="732.5" font-size="33" text-anchor="start" font-weight="bold" fill="#000" stroke="#000" stroke-width="1.5">e</text>
<text x="151" y="740" font-size="25" text-anchor="middle" font-weight="normal" fill="#000" >0 min</text>
<text x="301.3" y="740" font-size="25" text-anchor="middle" font-weight="normal" fill="#000" >1 min</text>
<text x="449" y="740" font-size="25" text-anchor="middle" font-weight="normal" fill="#000" >2 min</text>
<rect x="34" y="752" width="14.8" height="276" fill="url(#cbv)"/>
<text x="26.6" y="778.5" font-size="25" text-anchor="middle" font-weight="normal" fill="#000" transform="rotate(-90 26.6 778.5)" >2.2</text>
<text x="26.6" y="894.5" font-size="25" text-anchor="middle" font-weight="normal" fill="#000" transform="rotate(-90 26.6 894.5)" >FRET ratio</text>
<text x="26.6" y="1009.5" font-size="25" text-anchor="middle" font-weight="normal" fill="#000" transform="rotate(-90 26.6 1009.5)" >0.2</text>
<rect x="517" y="856" width="4.2" height="125.7" fill="#000"/>
<path fill="#2aa87a" d="M105.4 755.5a2.6 2.0 179 1 0 -5.2 0.1a2.6 2.0 179 1 0 5.2 -0.1zM105.4 821.6a2.6 2.1 28 1 0 4.6 2.5a2.6 2.1 28 1 0 -4.6 -2.5zM184.3 834.7a2.8 2.3 169 1 0 -5.5 1.0a2.8 2.3 169 1 0 5.5 -1.0zM108.9 847.6a3.1 2.4 167 1 0 -6.0 1.3a3.1 2.4 167 1 0 6.0 -1.3zM189.2 851.8a3.1 3.1 54 1 0 3.6 5.1a3.1 3.1 54 1 0 -3.6 -5.1zM114.4 856.3a3.5 3.4 91 1 0 -0.2 6.9a3.5 3.4 91 1 0 0.2 -6.9zM169.0 866.8a3.6 3.3 76 1 0 1.7 7.0a3.6 3.3 76 1 0 -1.7 -7.0zM152.8 893.0a3.3 2.8 5 1 0 6.6 0.6a3.3 2.8 5 1 0 -6.6 -0.6zM87.4 897.9a2.9 2.9 4 1 0 5.9 0.5a2.9 2.9 4 1 0 -5.9 -0.5zM120.3 946.6a2.8 2.2 169 1 0 -5.5 1.0a2.8 2.2 169 1 0 5.5 -1.0zM99.7 956.4a3.2 2.5 102 1 0 -1.4 6.2a3.2 2.5 102 1 0 1.4 -6.2zM138.4 980.6a3.4 2.7 11 1 0 6.7 1.4a3.4 2.7 11 1 0 -6.7 -1.4z"/>
<path fill="#a5c12f" d="M117.3 749.9a2.9 2.2 31 1 0 5.1 3.0a2.9 2.2 31 1 0 -5.1 -3.0zM134.2 774.4a3.2 3.0 30 1 0 5.4 3.2a3.2 3.0 30 1 0 -5.4 -3.2zM145.2 765.4a2.6 2.6 96 1 0 -0.6 5.3a2.6 2.6 96 1 0 0.6 -5.3zM152.5 767.0a3.2 2.6 45 1 0 4.4 4.6a3.2 2.6 45 1 0 -4.4 -4.6zM118.9 811.1a2.9 2.2 86 1 0 0.3 5.8a2.9 2.2 86 1 0 -0.3 -5.8zM76.9 821.4a3.6 3.4 39 1 0 5.5 4.5a3.6 3.4 39 1 0 -5.5 -4.5zM135.3 820.9a3.1 3.0 44 1 0 4.4 4.3a3.1 3.0 44 1 0 -4.4 -4.3zM171.1 840.6a3.3 2.9 61 1 0 3.2 5.9a3.3 2.9 61 1 0 -3.2 -5.9zM118.3 848.7a2.8 2.8 159 1 0 -5.3 2.0a2.8 2.8 159 1 0 5.3 -2.0zM125.5 853.7a3.2 2.5 101 1 0 -1.3 6.4a3.2 2.5 101 1 0 1.3 -6.4zM150.7 853.8a2.8 2.6 67 1 0 2.2 5.2a2.8 2.6 67 1 0 -2.2 -5.2zM100.1 871.9a3.4 3.4 169 1 0 -6.6 1.2a3.4 3.4 169 1 0 6.6 -1.2zM146.1 890.9a2.9 2.4 78 1 0 1.1 5.6a2.9 2.4 78 1 0 -1.1 -5.6zM170.0 923.2a3.4 2.6 128 1 0 -4.3 5.3a3.4 2.6 128 1 0 4.3 -5.3zM145.4 927.6a3.2 2.9 120 1 0 -3.3 5.5a3.2 2.9 120 1 0 3.3 -5.5zM120.6 939.0a3.6 2.7 3 1 0 7.2 0.4a3.6 2.7 3 1 0 -7.2 -0.4z"/>
<path fill="#85ba35" d="M125.6 751.7a3.4 2.6 11 1 0 6.7 1.3a3.4 2.6 11 1 0 -6.7 -1.3zM195.5 771.9a3.0 2.9 167 1 0 -5.9 1.3a3.0 2.9 167 1 0 5.9 -1.3zM137.6 784.2a3.6 3.5 168 1 0 -7.0 1.4a3.6 3.5 168 1 0 7.0 -1.4zM160.4 791.4a3.4 3.3 140 1 0 -5.2 4.3a3.4 3.3 140 1 0 5.2 -4.3zM165.2 787.7a3.2 2.9 69 1 0 2.3 6.1a3.2 2.9 69 1 0 -2.3 -6.1zM197.5 790.9a3.3 2.5 150 1 0 -5.7 3.3a3.3 2.5 150 1 0 5.7 -3.3zM105.0 799.5a3.6 3.2 176 1 0 -7.1 0.4a3.6 3.2 176 1 0 7.1 -0.4zM133.4 801.8a3.5 3.5 161 1 0 -6.6 2.2a3.5 3.5 161 1 0 6.6 -2.2zM149.2 795.3a3.1 2.9 145 1 0 -5.1 3.5a3.1 2.9 145 1 0 5.1 -3.5zM164.1 797.1a3.2 2.6 58 1 0 3.3 5.5a3.2 2.6 58 1 0 -3.3 -5.5zM103.0 807.4a3.7 3.2 145 1 0 -6.1 4.1a3.7 3.2 145 1 0 6.1 -4.1zM175.7 804.3a2.6 2.1 107 1 0 -1.6 5.0a2.6 2.1 107 1 0 1.6 -5.0zM140.8 811.8a3.2 2.8 162 1 0 -6.1 2.0a3.2 2.8 162 1 0 6.1 -2.0zM99.3 825.3a2.7 2.2 113 1 0 -2.2 4.9a2.7 2.2 113 1 0 2.2 -4.9zM148.3 821.1a2.7 2.4 130 1 0 -3.5 4.1a2.7 2.4 130 1 0 3.5 -4.1zM191.5 833.8a3.0 2.3 101 1 0 -1.2 6.0a3.0 2.3 101 1 0 1.2 -6.0zM113.6 839.9a3.3 2.8 26 1 0 6.0 3.0a3.3 2.8 26 1 0 -6.0 -3.0zM148.3 865.6a3.2 3.1 5 1 0 6.3 0.6a3.2 3.1 5 1 0 -6.3 -0.6zM181.8 859.6a2.6 2.4 105 1 0 -1.4 5.1a2.6 2.4 105 1 0 1.4 -5.1zM117.2 866.7a3.1 2.8 165 1 0 -6.0 1.6a3.1 2.8 165 1 0 6.0 -1.6zM122.4 872.0a3.6 3.0 28 1 0 6.3 3.4a3.6 3.0 28 1 0 -6.3 -3.4zM125.6 881.6a3.1 2.6 128 1 0 -3.9 4.9a3.1 2.6 128 1 0 3.9 -4.9zM82.5 893.4a3.1 2.5 162 1 0 -5.9 1.9a3.1 2.5 162 1 0 5.9 -1.9zM171.0 895.4a2.7 1.9 5 1 0 5.3 0.5a2.7 1.9 5 1 0 -5.3 -0.5zM110.1 899.7a3.1 2.8 138 1 0 -4.6 4.2a3.1 2.8 138 1 0 4.6 -4.2zM171.5 902.7a3.5 2.9 71 1 0 2.2 6.6a3.5 2.9 71 1 0 -2.2 -6.6zM102.7 914.0a2.9 2.6 119 1 0 -2.8 5.0a2.9 2.6 119 1 0 2.8 -5.0zM141.2 916.9a3.6 3.0 123 1 0 -4.0 6.0a3.6 3.0 123 1 0 4.0 -6.0zM122.3 928.3a3.0 2.6 57 1 0 3.2 5.0a3.0 2.6 57 1 0 -3.2 -5.0zM142.0 936.0a2.7 2.6 94 1 0 -0.4 5.3a2.7 2.6 94 1 0 0.4 -5.3z"/>
<path fill="#6fb539" d="M169.3 758.7a2.9 2.9 169 1 0 -5.7 1.1a2.9 2.9 169 1 0 5.7 -1.1zM115.3 758.4a3.3 2.7 23 1 0 6.1 2.6a3.3 2.7 23 1 0 -6.1 -2.6zM156.4 758.3a2.9 2.2 70 1 0 1.9 5.4a2.9 2.2 70 1 0 -1.9 -5.4zM176.0 761.0a3.2 2.9 93 1 0 -0.4 6.4a3.2 2.9 93 1 0 0.4 -6.4zM86.0 767.1a3.6 3.3 53 1 0 4.2 5.8a3.6 3.3 53 1 0 -4.2 -5.8zM104.8 780.2a2.9 2.7 58 1 0 3.1 5.0a2.9 2.7 58 1 0 -3.1 -5.0zM148.3 776.0a3.0 2.2 143 1 0 -4.9 3.6a3.0 2.2 143 1 0 4.9 -3.6zM166.5 782.1a3.6 3.0 141 1 0 -5.6 4.4a3.6 3.0 141 1 0 5.6 -4.4zM184.5 788.7a2.7 2.3 92 1 0 -0.3 5.4a2.7 2.3 92 1 0 0.3 -5.4zM137.3 793.7a3.0 2.3 27 1 0 5.3 2.7a3.0 2.3 27 1 0 -5.3 -2.7zM190.3 800.4a2.9 2.5 8 1 0 5.7 0.8a2.9 2.5 8 1 0 -5.7 -0.8zM94.8 805.4a3.3 3.0 120 1 0 -3.3 5.6a3.3 3.0 120 1 0 3.3 -5.6zM172.1 815.7a2.9 2.6 22 1 0 5.3 2.2a2.9 2.6 22 1 0 -5.3 -2.2zM185.8 814.2a3.0 2.4 128 1 0 -3.7 4.7a3.0 2.4 128 1 0 3.7 -4.7zM125.6 827.4a3.3 2.8 47 1 0 4.4 4.8a3.3 2.8 47 1 0 -4.4 -4.8zM89.1 831.9a3.5 3.1 104 1 0 -1.7 6.8a3.5 3.1 104 1 0 1.7 -6.8zM88.1 841.1a3.1 2.2 116 1 0 -2.7 5.5a3.1 2.2 116 1 0 2.7 -5.5zM190.3 843.2a2.7 2.3 73 1 0 1.5 5.3a2.7 2.3 73 1 0 -1.5 -5.3zM178.5 853.3a3.5 2.6 10 1 0 6.9 1.3a3.5 2.6 10 1 0 -6.9 -1.3zM140.8 856.8a3.5 2.9 42 1 0 5.2 4.7a3.5 2.9 42 1 0 -5.2 -4.7zM173.4 857.3a2.6 2.1 108 1 0 -1.7 4.9a2.6 2.1 108 1 0 1.7 -4.9zM86.6 868.3a2.8 2.8 45 1 0 4.0 4.0a2.8 2.8 45 1 0 -4.0 -4.0zM161.9 868.2a2.9 2.2 114 1 0 -2.4 5.4a2.9 2.2 114 1 0 2.4 -5.4zM116.3 872.9a3.4 3.0 103 1 0 -1.6 6.5a3.4 3.0 103 1 0 1.6 -6.5zM176.7 876.8a2.9 2.2 61 1 0 2.8 5.2a2.9 2.2 61 1 0 -2.8 -5.2zM77.3 883.2a2.8 2.7 30 1 0 4.8 2.8a2.8 2.7 30 1 0 -4.8 -2.8zM135.2 883.2a3.0 2.2 25 1 0 5.4 2.6a3.0 2.2 25 1 0 -5.4 -2.6zM79.0 901.0a3.1 3.0 39 1 0 4.8 4.0a3.1 3.0 39 1 0 -4.8 -4.0zM89.0 915.6a2.9 2.6 0 1 0 5.8 0.0a2.9 2.6 0 1 0 -5.8 -0.0zM110.3 908.8a2.7 2.6 63 1 0 2.4 4.8a2.7 2.6 63 1 0 -2.4 -4.8zM140.8 908.7a3.2 2.8 114 1 0 -2.6 5.8a3.2 2.8 114 1 0 2.6 -5.8zM80.1 920.8a2.7 2.0 13 1 0 5.2 1.3a2.7 2.0 13 1 0 -5.2 -1.3zM130.4 946.5a3.6 3.0 2 1 0 7.3 0.3a3.6 3.0 2 1 0 -7.3 -0.3z"/>
<path fill="#2ca869" d="M174.4 753.1a2.6 2.0 72 1 0 1.6 5.0a2.6 2.0 72 1 0 -1.6 -5.0zM130.8 760.1a2.7 2.4 173 1 0 -5.4 0.6a2.7 2.4 173 1 0 5.4 -0.6zM92.7 795.4a3.6 3.0 85 1 0 0.6 7.1a3.6 3.0 85 1 0 -0.6 -7.1zM109.9 792.9a3.4 3.1 80 1 0 1.1 6.7a3.4 3.1 80 1 0 -1.1 -6.7zM108.4 809.8a2.8 2.2 86 1 0 0.4 5.6a2.8 2.2 86 1 0 -0.4 -5.6zM90.8 824.1a3.0 2.8 127 1 0 -3.6 4.8a3.0 2.8 127 1 0 3.6 -4.8zM76.9 830.8a2.9 2.5 13 1 0 5.7 1.4a2.9 2.5 13 1 0 -5.7 -1.4zM160.0 843.1a2.7 2.1 48 1 0 3.6 4.1a2.7 2.1 48 1 0 -3.6 -4.1zM102.4 942.4a2.7 2.6 3 1 0 5.4 0.3a2.7 2.6 3 1 0 -5.4 -0.3zM159.5 962.7a3.0 2.8 24 1 0 5.5 2.5a3.0 2.8 24 1 0 -5.5 -2.5zM94.8 974.4a3.4 3.0 5 1 0 6.8 0.6a3.4 3.0 5 1 0 -6.8 -0.6zM110.2 975.9a3.6 2.7 133 1 0 -4.9 5.2a3.6 2.7 133 1 0 4.9 -5.2zM136.9 972.3a3.2 3.0 133 1 0 -4.4 4.7a3.2 3.0 133 1 0 4.4 -4.7zM111.0 984.5a2.6 2.3 88 1 0 0.2 5.3a2.6 2.3 88 1 0 -0.2 -5.3zM130.6 979.3a3.4 2.7 116 1 0 -3.1 6.0a3.4 2.7 116 1 0 3.1 -6.0z"/>
<path fill="#45ac41" d="M186.6 752.2a3.3 3.0 140 1 0 -5.1 4.2a3.3 3.0 140 1 0 5.1 -4.2zM197.8 753.1a3.1 2.9 161 1 0 -5.8 2.0a3.1 2.9 161 1 0 5.8 -2.0zM89.4 757.0a3.7 2.8 43 1 0 5.3 5.1a3.7 2.8 43 1 0 -5.3 -5.1zM88.0 776.0a3.2 2.4 119 1 0 -3.2 5.6a3.2 2.4 119 1 0 3.2 -5.6zM174.0 786.1a3.6 3.5 69 1 0 2.5 6.8a3.6 3.5 69 1 0 -2.5 -6.8zM154.0 820.0a2.9 2.4 28 1 0 5.2 2.8a2.9 2.4 28 1 0 -5.2 -2.8zM116.4 819.8a3.2 2.9 70 1 0 2.2 6.1a3.2 2.9 70 1 0 -2.2 -6.1zM162.5 825.2a3.0 2.6 70 1 0 2.0 5.6a3.0 2.6 70 1 0 -2.0 -5.6zM97.7 833.7a3.2 3.1 108 1 0 -2.0 6.1a3.2 3.1 108 1 0 2.0 -6.1zM173.4 830.8a2.9 2.2 107 1 0 -1.8 5.6a2.9 2.2 107 1 0 1.8 -5.6zM129.3 847.3a3.6 2.8 170 1 0 -7.0 1.2a3.6 2.8 170 1 0 7.0 -1.2zM178.6 844.0a2.7 2.2 18 1 0 5.1 1.7a2.7 2.2 18 1 0 -5.1 -1.7zM130.9 848.3a3.5 3.2 16 1 0 6.7 1.9a3.5 3.2 16 1 0 -6.7 -1.9zM94.6 860.5a2.7 2.6 47 1 0 3.6 3.9a2.7 2.6 47 1 0 -3.6 -3.9zM122.9 863.4a2.9 2.3 33 1 0 4.8 3.2a2.9 2.3 33 1 0 -4.8 -3.2zM135.9 857.6a3.0 2.8 154 1 0 -5.4 2.5a3.0 2.8 154 1 0 5.4 -2.5zM102.1 864.6a3.4 3.3 25 1 0 6.2 2.9a3.4 3.3 25 1 0 -6.2 -2.9zM185.3 870.7a3.6 2.8 25 1 0 6.4 3.1a3.6 2.8 25 1 0 -6.4 -3.1zM75.7 875.4a2.7 2.3 18 1 0 5.2 1.7a2.7 2.3 18 1 0 -5.2 -1.7zM102.6 873.4a3.4 3.1 25 1 0 6.1 2.9a3.4 3.1 25 1 0 -6.1 -2.9zM187.3 878.8a3.2 2.5 89 1 0 0.1 6.4a3.2 2.5 89 1 0 -0.1 -6.4zM128.8 899.4a2.8 2.5 142 1 0 -4.5 3.4a2.8 2.5 142 1 0 4.5 -3.4zM135.9 891.6a2.8 2.1 44 1 0 4.0 4.0a2.8 2.1 44 1 0 -4.0 -4.0zM186.2 895.1a3.6 3.2 147 1 0 -6.1 3.9a3.6 3.2 147 1 0 6.1 -3.9zM92.0 906.3a2.9 2.4 161 1 0 -5.6 1.9a2.9 2.4 161 1 0 5.6 -1.9zM157.1 917.0a3.5 2.6 54 1 0 4.1 5.7a3.5 2.6 54 1 0 -4.1 -5.7zM104.8 923.1a3.2 2.5 143 1 0 -5.1 3.8a3.2 2.5 143 1 0 5.1 -3.8zM151.8 920.6a2.8 2.0 179 1 0 -5.6 0.1a2.8 2.0 179 1 0 5.6 -0.1zM113.7 968.1a3.2 2.5 141 1 0 -5.1 4.0a3.2 2.5 141 1 0 5.1 -4.0z"/>
<path fill="#5ab13d" d="M97.6 762.1a2.8 2.4 14 1 0 5.4 1.4a2.8 2.4 14 1 0 -5.4 -1.4zM149.7 758.3a2.7 2.5 129 1 0 -3.4 4.1a2.7 2.5 129 1 0 3.4 -4.1zM100.5 769.9a2.8 2.7 124 1 0 -3.1 4.6a2.8 2.7 124 1 0 3.1 -4.6zM94.5 788.5a2.6 2.0 74 1 0 1.4 5.0a2.6 2.0 74 1 0 -1.4 -5.0zM101.0 790.7a2.7 2.4 8 1 0 5.3 0.8a2.7 2.4 8 1 0 -5.3 -0.8zM84.9 794.3a3.0 2.7 109 1 0 -2.0 5.6a3.0 2.7 109 1 0 2.0 -5.6zM112.1 803.7a3.0 2.6 152 1 0 -5.2 2.7a3.0 2.6 152 1 0 5.2 -2.7zM161.5 817.4a2.9 2.4 31 1 0 5.0 3.1a2.9 2.4 31 1 0 -5.0 -3.1zM154.6 826.4a3.2 3.0 102 1 0 -1.4 6.2a3.2 3.0 102 1 0 1.4 -6.2zM124.0 835.9a3.3 2.5 53 1 0 4.0 5.4a3.3 2.5 53 1 0 -4.0 -5.4zM145.7 839.4a3.1 2.9 162 1 0 -5.9 1.9a3.1 2.9 162 1 0 5.9 -1.9zM153.4 845.9a2.6 2.0 99 1 0 -0.8 5.2a2.6 2.0 99 1 0 0.8 -5.2zM76.6 845.8a3.5 2.5 87 1 0 0.3 7.0a3.5 2.5 87 1 0 -0.3 -7.0zM99.0 852.1a3.1 2.6 149 1 0 -5.3 3.1a3.1 2.6 149 1 0 5.3 -3.1zM89.0 860.4a3.2 2.8 153 1 0 -5.6 2.8a3.2 2.8 153 1 0 5.6 -2.8zM158.2 859.9a3.6 2.6 36 1 0 5.7 4.2a3.6 2.6 36 1 0 -5.7 -4.2zM181.7 869.2a2.6 2.5 112 1 0 -2.0 4.8a2.6 2.5 112 1 0 2.0 -4.8zM168.3 876.1a3.4 3.1 83 1 0 0.8 6.8a3.4 3.1 83 1 0 -0.8 -6.8zM87.5 886.4a3.1 2.6 44 1 0 4.5 4.4a3.1 2.6 44 1 0 -4.5 -4.4zM117.9 882.3a2.7 2.6 76 1 0 1.3 5.3a2.7 2.6 76 1 0 -1.3 -5.3zM184.5 887.8a2.7 2.0 45 1 0 3.8 3.9a2.7 2.0 45 1 0 -3.8 -3.9zM119.1 892.5a3.6 2.7 128 1 0 -4.4 5.6a3.6 2.7 128 1 0 4.4 -5.6zM183.2 905.8a3.3 3.2 155 1 0 -6.1 2.7a3.3 3.2 155 1 0 6.1 -2.7zM173.1 915.6a2.6 2.0 164 1 0 -5.0 1.4a2.6 2.0 164 1 0 5.0 -1.4zM150.7 930.1a3.5 2.7 17 1 0 6.6 2.1a3.5 2.7 17 1 0 -6.6 -2.1zM172.7 932.3a3.1 3.1 102 1 0 -1.4 6.0a3.1 3.1 102 1 0 1.4 -6.0z"/>
<path fill="#30a846" d="M164.6 764.4a2.9 2.6 64 1 0 2.5 5.2a2.9 2.6 64 1 0 -2.5 -5.2zM109.3 770.4a3.2 2.4 99 1 0 -1.1 6.3a3.2 2.4 99 1 0 1.1 -6.3zM162.9 776.0a3.4 3.4 14 1 0 6.6 1.7a3.4 3.4 14 1 0 -6.6 -1.7zM195.8 778.9a3.2 2.9 134 1 0 -4.5 4.5a3.2 2.9 134 1 0 4.5 -4.5zM88.1 785.0a2.8 2.7 134 1 0 -4.0 4.1a2.8 2.7 134 1 0 4.0 -4.1zM122.9 805.2a2.7 2.4 171 1 0 -5.4 0.8a2.7 2.4 171 1 0 5.4 -0.8zM160.4 811.1a2.8 2.6 178 1 0 -5.6 0.2a2.8 2.6 178 1 0 5.6 -0.2zM186.0 806.1a3.3 3.1 105 1 0 -1.8 6.4a3.3 3.1 105 1 0 1.8 -6.4zM146.6 809.9a3.7 3.7 105 1 0 -2.0 7.1a3.7 3.7 105 1 0 2.0 -7.1zM165.2 850.5a3.5 3.2 122 1 0 -3.8 6.0a3.5 3.2 122 1 0 3.8 -6.0zM167.2 852.2a3.5 2.7 2 1 0 7.1 0.3a3.5 2.7 2 1 0 -7.1 -0.3zM76.2 855.7a3.4 2.8 72 1 0 2.1 6.4a3.4 2.8 72 1 0 -2.1 -6.4zM79.7 865.4a3.1 2.7 107 1 0 -1.9 6.0a3.1 2.7 107 1 0 1.9 -6.0zM157.8 879.4a2.7 2.3 43 1 0 3.9 3.7a2.7 2.3 43 1 0 -3.9 -3.7zM96.0 888.8a2.7 2.5 12 1 0 5.2 1.1a2.7 2.5 12 1 0 -5.2 -1.1zM105.8 882.9a3.6 2.7 30 1 0 6.1 3.7a3.6 2.7 30 1 0 -6.1 -3.7zM160.8 897.8a3.6 3.2 5 1 0 7.2 0.7a3.6 3.2 5 1 0 -7.2 -0.7zM163.7 904.8a2.7 2.0 125 1 0 -3.1 4.4a2.7 2.0 125 1 0 3.1 -4.4zM112.4 917.4a2.8 2.8 104 1 0 -1.4 5.4a2.8 2.8 104 1 0 1.4 -5.4zM113.0 927.9a2.7 2.6 24 1 0 4.9 2.2a2.7 2.6 24 1 0 -4.9 -2.2zM162.3 933.9a2.8 2.6 51 1 0 3.4 4.4a2.8 2.6 51 1 0 -3.4 -4.4zM110.1 948.0a3.4 2.6 116 1 0 -3.0 6.1a3.4 2.6 116 1 0 3.0 -6.1z"/>
<path fill="#b1c32c" d="M121.7 767.6a3.6 2.7 157 1 0 -6.6 2.7a3.6 2.7 157 1 0 6.6 -2.7zM100.8 781.9a3.6 3.5 174 1 0 -7.1 0.7a3.6 3.5 174 1 0 7.1 -0.7zM113.9 776.2a2.8 2.4 28 1 0 4.9 2.7a2.8 2.4 28 1 0 -4.9 -2.7zM155.6 774.7a3.1 2.5 118 1 0 -2.9 5.4a3.1 2.5 118 1 0 2.9 -5.4zM136.2 802.3a2.9 2.8 51 1 0 3.6 4.6a2.9 2.8 51 1 0 -3.6 -4.6zM191.4 824.2a2.7 2.0 70 1 0 1.8 5.0a2.7 2.0 70 1 0 -1.8 -5.0zM154.6 836.1a3.1 2.8 107 1 0 -1.9 5.9a3.1 2.8 107 1 0 1.9 -5.9zM108.3 839.1a2.9 2.5 165 1 0 -5.6 1.5a2.9 2.5 165 1 0 5.6 -1.5zM97.5 876.4a3.7 2.9 97 1 0 -1.0 7.3a3.7 2.9 97 1 0 1.0 -7.3zM145.2 884.2a2.9 2.2 40 1 0 4.4 3.7a2.9 2.2 40 1 0 -4.4 -3.7zM131.3 916.4a3.6 3.0 83 1 0 0.8 7.2a3.6 3.0 83 1 0 -0.8 -7.2zM128.2 924.6a3.3 2.5 66 1 0 2.6 6.0a3.3 2.5 66 1 0 -2.6 -6.0zM115.1 934.1a3.6 2.7 84 1 0 0.7 7.1a3.6 2.7 84 1 0 -0.7 -7.1z"/>
<path fill="#98be31" d="M124.0 767.5a3.1 2.9 24 1 0 5.6 2.6a3.1 2.9 24 1 0 -5.6 -2.6zM172.9 770.8a2.7 2.1 69 1 0 1.9 5.0a2.7 2.1 69 1 0 -1.9 -5.0zM123.7 777.2a3.3 2.7 22 1 0 6.0 2.5a3.3 2.7 22 1 0 -6.0 -2.5zM109.6 784.7a2.9 2.8 49 1 0 3.8 4.4a2.9 2.8 49 1 0 -3.8 -4.4zM137.3 783.8a2.8 2.8 50 1 0 3.6 4.4a2.8 2.8 50 1 0 -3.6 -4.4zM150.3 785.8a3.0 2.8 142 1 0 -4.8 3.7a3.0 2.8 142 1 0 4.8 -3.7zM187.0 799.3a3.7 2.9 165 1 0 -7.1 1.8a3.7 2.9 165 1 0 7.1 -1.8zM80.3 803.1a3.5 3.4 59 1 0 3.5 6.0a3.5 3.4 59 1 0 -3.5 -6.0zM145.1 802.3a2.9 2.8 62 1 0 2.7 5.2a2.9 2.8 62 1 0 -2.7 -5.2zM170.0 808.4a3.2 2.4 152 1 0 -5.7 2.9a3.2 2.4 152 1 0 5.7 -2.9zM127.8 818.8a2.7 2.3 65 1 0 2.2 4.9a2.7 2.3 65 1 0 -2.2 -4.9zM179.2 824.8a3.2 3.1 17 1 0 6.2 1.9a3.2 3.1 17 1 0 -6.2 -1.9zM109.0 827.4a3.2 2.8 99 1 0 -1.0 6.2a3.2 2.8 99 1 0 1.0 -6.2zM145.4 828.4a3.6 2.9 109 1 0 -2.5 6.9a3.6 2.9 109 1 0 2.5 -6.9zM96.7 841.2a2.9 2.3 93 1 0 -0.4 5.9a2.9 2.3 93 1 0 0.4 -5.9zM135.4 864.0a3.3 3.0 117 1 0 -3.1 5.9a3.3 3.0 117 1 0 3.1 -5.9zM145.5 877.1a3.4 2.7 172 1 0 -6.7 0.9a3.4 2.7 172 1 0 6.7 -0.9zM155.8 882.8a3.6 3.4 164 1 0 -6.9 2.0a3.6 3.4 164 1 0 6.9 -2.0zM169.3 887.8a3.1 2.8 117 1 0 -2.9 5.5a3.1 2.8 117 1 0 2.9 -5.5zM179.1 885.3a3.1 2.6 136 1 0 -4.5 4.2a3.1 2.6 136 1 0 4.5 -4.2zM102.5 896.5a3.0 2.9 145 1 0 -5.0 3.5a3.0 2.9 145 1 0 5.0 -3.5zM108.0 889.8a3.4 2.5 71 1 0 2.2 6.5a3.4 2.5 71 1 0 -2.2 -6.5zM156.0 898.1a2.6 1.9 105 1 0 -1.4 5.0a2.6 1.9 105 1 0 1.4 -5.0zM101.9 906.0a3.6 3.2 141 1 0 -5.7 4.5a3.6 3.2 141 1 0 5.7 -4.5zM123.4 907.1a3.4 2.6 37 1 0 5.4 4.1a3.4 2.6 37 1 0 -5.4 -4.1zM147.4 902.4a3.4 3.3 154 1 0 -6.1 2.9a3.4 3.3 154 1 0 6.1 -2.9zM155.3 908.8a3.1 3.0 143 1 0 -5.0 3.7a3.1 3.0 143 1 0 5.0 -3.7zM84.7 910.7a3.5 3.1 148 1 0 -5.9 3.7a3.5 3.1 148 1 0 5.9 -3.7zM155.6 925.4a3.7 3.3 72 1 0 2.2 7.0a3.7 3.3 72 1 0 -2.2 -7.0zM178.0 920.2a3.5 3.0 101 1 0 -1.3 6.8a3.5 3.0 101 1 0 1.3 -6.8zM152.5 936.2a2.9 2.5 107 1 0 -1.8 5.5a2.9 2.5 107 1 0 1.8 -5.5z"/>
<path fill="#2ea857" d="M172.0 779.1a2.7 2.0 67 1 0 2.1 4.9a2.7 2.0 67 1 0 -2.1 -4.9zM189.2 808.7a3.5 2.9 1 1 0 6.9 0.2a3.5 2.9 1 1 0 -6.9 -0.2zM91.0 814.2a2.8 2.4 109 1 0 -1.8 5.3a2.8 2.4 109 1 0 1.8 -5.3zM191.8 861.3a2.9 2.2 143 1 0 -4.7 3.5a2.9 2.2 143 1 0 4.7 -3.5zM148.0 910.2a3.1 2.8 40 1 0 4.7 4.0a3.1 2.8 40 1 0 -4.7 -4.0zM180.1 910.8a3.7 3.3 113 1 0 -2.9 6.7a3.7 3.3 113 1 0 2.9 -6.7zM91.7 931.7a3.0 2.8 23 1 0 5.4 2.3a3.0 2.8 23 1 0 -5.4 -2.3zM140.4 953.4a3.5 2.6 136 1 0 -5.1 4.8a3.5 2.6 136 1 0 5.1 -4.8zM151.3 953.1a3.3 3.1 79 1 0 1.2 6.5a3.3 3.1 79 1 0 -1.2 -6.5z"/>
<path fill="#c9b726" d="M180.8 780.5a2.8 2.5 0 1 0 5.6 0.0a2.8 2.5 0 1 0 -5.6 -0.0zM132.1 873.4a3.4 3.3 73 1 0 1.9 6.5a3.4 3.3 73 1 0 -1.9 -6.5z"/>
<path fill="#bec62a" d="M129.5 790.9a2.9 2.6 55 1 0 3.3 4.8a2.9 2.6 55 1 0 -3.3 -4.8zM132.6 838.0a3.7 3.3 24 1 0 6.7 3.0a3.7 3.3 24 1 0 -6.7 -3.0zM156.3 873.5a3.7 3.4 146 1 0 -6.1 4.1a3.7 3.4 146 1 0 6.1 -4.1z"/>
<path fill="#25a898" d="M73.4 841.2a3.2 3.2 7 1 0 6.3 0.9a3.2 3.2 7 1 0 -6.3 -0.9zM162.2 942.1a3.5 3.2 112 1 0 -2.6 6.5a3.5 3.2 112 1 0 2.6 -6.5zM93.0 953.2a3.7 3.1 102 1 0 -1.6 7.1a3.7 3.1 102 1 0 1.6 -7.1zM120.3 955.6a3.0 2.5 153 1 0 -5.3 2.6a3.0 2.5 153 1 0 5.3 -2.6zM135.6 961.0a3.1 2.5 96 1 0 -0.7 6.2a3.1 2.5 96 1 0 0.7 -6.2zM106.3 969.6a3.6 2.9 174 1 0 -7.2 0.7a3.6 2.9 174 1 0 7.2 -0.7zM134.2 965.4a3.6 2.6 165 1 0 -7.0 1.8a3.6 2.6 165 1 0 7.0 -1.8zM124.0 970.5a3.2 2.5 51 1 0 4.0 5.1a3.2 2.5 51 1 0 -4.0 -5.1zM100.2 982.7a2.6 2.4 9 1 0 5.2 0.8a2.6 2.4 9 1 0 -5.2 -0.8z"/>
<path fill="#1fa9b1" d="M101.5 856.2a3.5 2.8 23 1 0 6.5 2.9a3.5 2.8 23 1 0 -6.5 -2.9zM101.2 949.9a3.3 3.3 154 1 0 -5.9 2.8a3.3 3.3 154 1 0 5.9 -2.8zM166.0 952.1a2.7 2.2 84 1 0 0.5 5.4a2.7 2.2 84 1 0 -0.5 -5.4zM115.9 984.2a3.4 2.6 47 1 0 4.6 5.0a3.4 2.6 47 1 0 -4.6 -5.0z"/>
<path fill="#28a88c" d="M143.5 863.7a3.3 3.1 112 1 0 -2.5 6.1a3.3 3.1 112 1 0 2.5 -6.1zM121.4 901.4a3.3 2.8 152 1 0 -5.8 3.0a3.3 2.8 152 1 0 5.8 -3.0zM141.7 953.6a3.7 3.2 36 1 0 5.9 4.4a3.7 3.2 36 1 0 -5.9 -4.4zM146.1 963.8a3.1 2.4 15 1 0 6.0 1.7a3.1 2.4 15 1 0 -6.0 -1.7zM154.9 962.3a3.1 2.3 63 1 0 2.8 5.5a3.1 2.3 63 1 0 -2.8 -5.5zM151.7 971.6a2.9 2.2 108 1 0 -1.8 5.5a2.9 2.2 108 1 0 1.8 -5.5zM114.0 992.2a3.4 3.0 54 1 0 3.9 5.5a3.4 3.0 54 1 0 -3.9 -5.5zM138.2 989.9a3.0 2.3 132 1 0 -4.1 4.5a3.0 2.3 132 1 0 4.1 -4.5z"/>
<path fill="#c8c527" d="M135.5 900.1a3.3 2.5 81 1 0 1.0 6.6a3.3 2.5 81 1 0 -1.0 -6.6z"/>
<path fill="#1e9ec1" d="M96.9 940.3a2.6 2.5 75 1 0 1.3 5.1a2.6 2.5 75 1 0 -1.3 -5.1zM156.7 945.9a2.8 2.4 100 1 0 -1.0 5.5a2.8 2.4 100 1 0 1.0 -5.5zM141.9 969.0a3.4 2.7 124 1 0 -3.9 5.7a3.4 2.7 124 1 0 3.9 -5.7zM109.5 992.3a2.8 2.6 174 1 0 -5.6 0.5a2.8 2.6 174 1 0 5.6 -0.5z"/>
<path fill="#1caabe" d="M168.8 940.0a3.2 2.4 76 1 0 1.5 6.3a3.2 2.4 76 1 0 -1.5 -6.3zM123.7 957.1a3.3 2.5 13 1 0 6.5 1.6a3.3 2.5 13 1 0 -6.5 -1.6zM96.6 962.0a3.5 3.3 123 1 0 -3.8 5.9a3.5 3.3 123 1 0 3.8 -5.9z"/>
<path fill="#2093c4" d="M87.9 944.6a3.0 2.5 68 1 0 2.1 5.6a3.0 2.5 68 1 0 -2.1 -5.6z"/>
<path fill="#22a9a5" d="M127.3 944.8a3.0 2.6 82 1 0 0.8 5.9a3.0 2.6 82 1 0 -0.8 -5.9z"/>
<path fill="#2578bd" d="M110.5 957.5a2.7 2.0 103 1 0 -1.2 5.2a2.7 2.0 103 1 0 1.2 -5.2z"/>
<path fill="#2288c7" d="M125.2 993.5a2.9 2.8 76 1 0 1.4 5.7a2.9 2.8 76 1 0 -1.4 -5.7z"/>
<path fill="#2a4b9a" d="M123.9 1003.4a2.9 2.4 23 1 0 5.2 2.3a2.9 2.4 23 1 0 -5.2 -2.3z"/>
<path fill="#000" d="M142.3 864.1a1.4 1.4 0 1 0 2.8 0a1.4 1.4 0 1 0 -2.8 0zM143.2 865.3a1.8 1.8 0 1 0 3.7 0a1.8 1.8 0 1 0 -3.7 0zM141.0 867.5a0.7 0.7 0 1 0 1.5 0a0.7 0.7 0 1 0 -1.5 0zM138.7 787.9a1.4 1.4 0 1 0 2.9 0a1.4 1.4 0 1 0 -2.9 0zM103.9 843.8a1.2 1.2 0 1 0 2.5 0a1.2 1.2 0 1 0 -2.5 0zM103.4 844.0a1.3 1.3 0 1 0 2.6 0a1.3 1.3 0 1 0 -2.6 0zM91.9 967.8a2.4 2.4 0 1 0 4.8 0a2.4 2.4 0 1 0 -4.8 0zM89.9 965.8a0.9 0.9 0 1 0 1.9 0a0.9 0.9 0 1 0 -1.9 0zM89.6 970.0a2.0 2.0 0 1 0 4.0 0a2.0 2.0 0 1 0 -4.0 0zM90.1 968.5a1.3 1.3 0 1 0 2.6 0a1.3 1.3 0 1 0 -2.6 0zM182.0 892.1a1.3 1.3 0 1 0 2.6 0a1.3 1.3 0 1 0 -2.6 0zM144.7 955.2a1.1 1.1 0 1 0 2.3 0a1.1 1.1 0 1 0 -2.3 0zM92.2 834.6a1.4 1.4 0 1 0 2.8 0a1.4 1.4 0 1 0 -2.8 0zM93.9 834.6a1.0 1.0 0 1 0 2.0 0a1.0 1.0 0 1 0 -2.0 0zM97.8 849.9a0.8 0.8 0 1 0 1.6 0a0.8 0.8 0 1 0 -1.6 0zM95.4 848.3a1.5 1.5 0 1 0 2.9 0a1.5 1.5 0 1 0 -2.9 0zM126.2 958.4a0.7 0.7 0 1 0 1.4 0a0.7 0.7 0 1 0 -1.4 0zM128.4 956.7a0.6 0.6 0 1 0 1.2 0a0.6 0.6 0 1 0 -1.2 0zM106.4 986.9a1.6 1.6 0 1 0 3.1 0a1.6 1.6 0 1 0 -3.1 0zM115.1 838.3a1.4 1.4 0 1 0 2.9 0a1.4 1.4 0 1 0 -2.9 0zM149.7 963.0a0.9 0.9 0 1 0 1.9 0a0.9 0.9 0 1 0 -1.9 0zM137.2 963.7a2.3 2.3 0 1 0 4.6 0a2.3 2.3 0 1 0 -4.6 0zM137.7 964.9a1.5 1.5 0 1 0 3.1 0a1.5 1.5 0 1 0 -3.1 0zM142.0 823.0a1.0 1.0 0 1 0 2.0 0a1.0 1.0 0 1 0 -2.0 0zM138.9 822.9a1.1 1.1 0 1 0 2.3 0a1.1 1.1 0 1 0 -2.3 0zM113.6 787.6a0.9 0.9 0 1 0 1.9 0a0.9 0.9 0 1 0 -1.9 0zM113.5 789.5a1.0 1.0 0 1 0 2.1 0a1.0 1.0 0 1 0 -2.1 0zM124.4 948.8a1.6 1.6 0 1 0 3.1 0a1.6 1.6 0 1 0 -3.1 0zM91.7 918.9a0.9 0.9 0 1 0 1.7 0a0.9 0.9 0 1 0 -1.7 0zM87.4 919.6a1.6 1.6 0 1 0 3.2 0a1.6 1.6 0 1 0 -3.2 0zM157.7 821.5a1.3 1.3 0 1 0 2.5 0a1.3 1.3 0 1 0 -2.5 0zM158.8 818.4a1.2 1.2 0 1 0 2.3 0a1.2 1.2 0 1 0 -2.3 0zM146.8 952.4a2.2 2.2 0 1 0 4.5 0a2.2 2.2 0 1 0 -4.5 0zM159.7 850.1a1.1 1.1 0 1 0 2.2 0a1.1 1.1 0 1 0 -2.2 0zM160.0 849.2a1.3 1.3 0 1 0 2.6 0a1.3 1.3 0 1 0 -2.6 0zM95.5 763.2a2.5 2.5 0 1 0 5.1 0a2.5 2.5 0 1 0 -5.1 0zM95.3 760.6a1.2 1.2 0 1 0 2.4 0a1.2 1.2 0 1 0 -2.4 0zM138.0 852.4a1.0 1.0 0 1 0 2.1 0a1.0 1.0 0 1 0 -2.1 0zM189.6 780.7a0.7 0.7 0 1 0 1.4 0a0.7 0.7 0 1 0 -1.4 0zM190.5 778.0a0.7 0.7 0 1 0 1.3 0a0.7 0.7 0 1 0 -1.3 0zM102.6 989.0a1.3 1.3 0 1 0 2.6 0a1.3 1.3 0 1 0 -2.6 0zM92.0 774.7a1.2 1.2 0 1 0 2.4 0a1.2 1.2 0 1 0 -2.4 0zM88.3 774.8a0.8 0.8 0 1 0 1.5 0a0.8 0.8 0 1 0 -1.5 0zM166.6 870.8a1.1 1.1 0 1 0 2.3 0a1.1 1.1 0 1 0 -2.3 0zM130.8 775.1a1.2 1.2 0 1 0 2.3 0a1.2 1.2 0 1 0 -2.3 0zM131.7 776.3a1.0 1.0 0 1 0 2.0 0a1.0 1.0 0 1 0 -2.0 0zM155.4 839.5a1.1 1.1 0 1 0 2.2 0a1.1 1.1 0 1 0 -2.2 0zM113.4 782.0a0.8 0.8 0 1 0 1.5 0a0.8 0.8 0 1 0 -1.5 0zM109.2 780.7a1.0 1.0 0 1 0 2.0 0a1.0 1.0 0 1 0 -2.0 0zM191.6 784.7a0.7 0.7 0 1 0 1.4 0a0.7 0.7 0 1 0 -1.4 0zM189.0 784.8a1.2 1.2 0 1 0 2.3 0a1.2 1.2 0 1 0 -2.3 0zM119.4 789.3a1.5 1.5 0 1 0 2.9 0a1.5 1.5 0 1 0 -2.9 0zM120.4 789.8a1.1 1.1 0 1 0 2.3 0a1.1 1.1 0 1 0 -2.3 0zM119.4 790.3a1.8 1.8 0 1 0 3.6 0a1.8 1.8 0 1 0 -3.6 0zM90.9 794.3a1.2 1.2 0 1 0 2.4 0a1.2 1.2 0 1 0 -2.4 0zM86.0 876.9a1.2 1.2 0 1 0 2.4 0a1.2 1.2 0 1 0 -2.4 0zM103.4 977.1a1.2 1.2 0 1 0 2.4 0a1.2 1.2 0 1 0 -2.4 0zM101.0 977.1a0.9 0.9 0 1 0 1.9 0a0.9 0.9 0 1 0 -1.9 0zM118.9 880.2a2.2 2.2 0 1 0 4.4 0a2.2 2.2 0 1 0 -4.4 0zM123.4 880.7a0.9 0.9 0 1 0 1.8 0a0.9 0.9 0 1 0 -1.8 0zM119.1 877.9a2.5 2.5 0 1 0 4.9 0a2.5 2.5 0 1 0 -4.9 0zM118.7 881.2a1.7 1.7 0 1 0 3.5 0a1.7 1.7 0 1 0 -3.5 0zM76.1 752.7a1.4 1.1 0 1 0 2.8 0a1.4 1.1 0 1 0 -2.8 0zM97.7 752.7a2.4 1.9 0 1 0 4.9 0a2.4 1.9 0 1 0 -4.9 0zM105.4 752.7a2.8 2.2 0 1 0 5.6 0a2.8 2.2 0 1 0 -5.6 0zM149.1 752.7a2.2 1.8 0 1 0 4.4 0a2.2 1.8 0 1 0 -4.4 0zM164.7 752.7a2.3 1.8 0 1 0 4.5 0a2.3 1.8 0 1 0 -4.5 0z"/>
<path fill="#b1c32c" d="M250.2 748.8a3.6 3.3 108 1 0 -2.2 6.9a3.6 3.3 108 1 0 2.2 -6.9zM285.3 750.2a3.6 3.5 43 1 0 5.2 4.9a3.6 3.5 43 1 0 -5.2 -4.9zM298.7 759.7a2.7 2.0 142 1 0 -4.2 3.3a2.7 2.0 142 1 0 4.2 -3.3zM315.3 756.6a3.1 2.9 77 1 0 1.3 6.0a3.1 2.9 77 1 0 -1.3 -6.0zM314.6 766.6a3.0 2.8 81 1 0 0.8 5.9a3.0 2.8 81 1 0 -0.8 -5.9zM247.6 778.5a3.1 2.9 148 1 0 -5.3 3.3a3.1 2.9 148 1 0 5.3 -3.3zM343.6 783.6a3.4 2.5 144 1 0 -5.5 3.9a3.4 2.5 144 1 0 5.5 -3.9zM353.1 789.0a3.3 2.6 124 1 0 -3.7 5.3a3.3 2.6 124 1 0 3.7 -5.3zM304.8 798.5a2.7 2.1 126 1 0 -3.2 4.4a2.7 2.1 126 1 0 3.2 -4.4zM243.1 803.1a3.2 3.1 117 1 0 -3.0 5.7a3.2 3.1 117 1 0 3.0 -5.7zM278.6 807.4a3.0 2.2 7 1 0 5.9 0.8a3.0 2.2 7 1 0 -5.9 -0.8zM298.8 807.4a3.7 3.4 62 1 0 3.4 6.5a3.7 3.4 62 1 0 -3.4 -6.5zM294.1 825.1a2.8 2.8 85 1 0 0.5 5.6a2.8 2.8 85 1 0 -0.5 -5.6zM329.3 820.3a3.3 2.8 43 1 0 4.7 4.5a3.3 2.8 43 1 0 -4.7 -4.5zM246.9 835.8a2.8 2.3 86 1 0 0.3 5.6a2.8 2.3 86 1 0 -0.3 -5.6zM245.1 846.5a2.8 2.5 23 1 0 5.1 2.2a2.8 2.5 23 1 0 -5.1 -2.2zM281.3 838.1a3.5 2.8 52 1 0 4.2 5.5a3.5 2.8 52 1 0 -4.2 -5.5zM276.7 850.7a3.0 2.2 152 1 0 -5.3 2.7a3.0 2.2 152 1 0 5.3 -2.7zM316.8 855.6a2.7 2.7 19 1 0 5.1 1.8a2.7 2.7 19 1 0 -5.1 -1.8zM241.6 872.7a2.7 2.5 35 1 0 4.3 3.1a2.7 2.5 35 1 0 -4.3 -3.1zM306.3 875.1a3.1 2.8 143 1 0 -5.0 3.6a3.1 2.8 143 1 0 5.0 -3.6zM291.8 888.1a3.2 2.5 63 1 0 2.9 5.8a3.2 2.5 63 1 0 -2.9 -5.8zM238.3 893.5a3.4 2.8 161 1 0 -6.5 2.1a3.4 2.8 161 1 0 6.5 -2.1zM281.6 900.2a3.7 3.3 93 1 0 -0.5 7.4a3.7 3.3 93 1 0 0.5 -7.4zM328.4 917.8a3.0 2.5 64 1 0 2.6 5.4a3.0 2.5 64 1 0 -2.6 -5.4zM238.8 940.1a3.0 2.3 10 1 0 5.8 1.1a3.0 2.3 10 1 0 -5.8 -1.1zM260.2 979.6a3.0 2.2 74 1 0 1.6 5.8a3.0 2.2 74 1 0 -1.6 -5.8zM295.3 981.7a3.0 2.7 46 1 0 4.1 4.3a3.0 2.7 46 1 0 -4.1 -4.3z"/>
<path fill="#a5c12f" d="M262.1 758.1a2.9 2.3 170 1 0 -5.7 1.0a2.9 2.3 170 1 0 5.7 -1.0zM350.5 755.0a2.8 2.0 12 1 0 5.5 1.2a2.8 2.0 12 1 0 -5.5 -1.2zM292.1 769.7a3.6 3.2 22 1 0 6.6 2.8a3.6 3.2 22 1 0 -6.6 -2.8zM286.3 777.5a3.0 2.7 128 1 0 -3.8 4.7a3.0 2.7 128 1 0 3.8 -4.7zM290.9 779.5a3.3 2.6 8 1 0 6.4 0.9a3.3 2.6 8 1 0 -6.4 -0.9zM325.5 783.3a3.0 2.9 167 1 0 -5.9 1.3a3.0 2.9 167 1 0 5.9 -1.3zM264.8 785.4a2.7 2.2 88 1 0 0.1 5.4a2.7 2.2 88 1 0 -0.1 -5.4zM329.6 790.4a3.5 2.8 42 1 0 5.1 4.7a3.5 2.8 42 1 0 -5.1 -4.7zM270.1 795.7a2.6 2.3 42 1 0 3.8 3.6a2.6 2.3 42 1 0 -3.8 -3.6zM273.8 814.3a3.0 2.2 159 1 0 -5.5 2.1a3.0 2.2 159 1 0 5.5 -2.1zM293.6 814.1a3.6 2.9 178 1 0 -7.2 0.2a3.6 2.9 178 1 0 7.2 -0.2zM302.2 817.0a3.2 2.8 144 1 0 -5.2 3.7a3.2 2.8 144 1 0 5.2 -3.7zM236.7 822.9a2.7 2.5 3 1 0 5.3 0.3a2.7 2.5 3 1 0 -5.3 -0.3zM273.9 824.7a3.2 3.0 8 1 0 6.4 1.0a3.2 3.0 8 1 0 -6.4 -1.0zM310.0 829.1a3.3 2.6 3 1 0 6.5 0.4a3.3 2.6 3 1 0 -6.5 -0.4zM344.6 822.6a3.4 3.0 3 1 0 6.9 0.4a3.4 3.0 3 1 0 -6.9 -0.4zM274.2 838.7a3.3 2.5 105 1 0 -1.8 6.3a3.3 2.5 105 1 0 1.8 -6.3zM259.5 848.7a3.6 2.8 155 1 0 -6.5 2.9a3.6 2.8 155 1 0 6.5 -2.9zM343.5 854.1a3.5 3.0 89 1 0 0.0 7.0a3.5 3.0 89 1 0 -0.0 -7.0zM332.1 868.7a2.8 2.5 47 1 0 3.8 4.2a2.8 2.5 47 1 0 -3.8 -4.2zM250.9 885.2a2.9 2.9 26 1 0 5.1 2.5a2.9 2.9 26 1 0 -5.1 -2.5zM250.6 927.1a2.9 2.7 167 1 0 -5.6 1.2a2.9 2.7 167 1 0 5.6 -1.2zM253.8 943.8a3.5 2.8 143 1 0 -5.6 4.1a3.5 2.8 143 1 0 5.6 -4.1zM268.5 973.8a2.7 2.2 26 1 0 4.9 2.4a2.7 2.2 26 1 0 -4.9 -2.4z"/>
<path fill="#cba924" d="M272.8 750.9a3.6 2.7 161 1 0 -6.9 2.3a3.6 2.7 161 1 0 6.9 -2.3zM267.8 767.1a2.7 2.6 119 1 0 -2.7 4.8a2.7 2.6 119 1 0 2.7 -4.8zM252.1 791.0a3.1 3.1 46 1 0 4.3 4.6a3.1 3.1 46 1 0 -4.3 -4.6zM245.8 796.8a2.9 2.7 168 1 0 -5.7 1.2a2.9 2.7 168 1 0 5.7 -1.2zM319.7 834.9a3.7 3.5 70 1 0 2.5 6.9a3.7 3.5 70 1 0 -2.5 -6.9zM341.9 834.3a2.9 2.3 169 1 0 -5.8 1.1a2.9 2.3 169 1 0 5.8 -1.1zM268.6 860.0a3.1 2.5 6 1 0 6.1 0.7a3.1 2.5 6 1 0 -6.1 -0.7zM314.2 862.6a3.5 2.8 42 1 0 5.1 4.7a3.5 2.8 42 1 0 -5.1 -4.7zM309.6 872.9a2.6 2.4 136 1 0 -3.8 3.6a2.6 2.4 136 1 0 3.8 -3.6zM285.9 875.1a3.1 2.3 139 1 0 -4.7 4.0a3.1 2.3 139 1 0 4.7 -4.0zM235.8 883.6a3.5 3.2 85 1 0 0.6 6.9a3.5 3.2 85 1 0 -0.6 -6.9zM322.6 898.2a2.8 2.8 131 1 0 -3.8 4.3a2.8 2.8 131 1 0 3.8 -4.3zM318.8 960.8a3.0 2.5 134 1 0 -4.1 4.2a3.0 2.5 134 1 0 4.1 -4.2zM273.9 984.3a3.4 3.3 171 1 0 -6.8 1.0a3.4 3.3 171 1 0 6.8 -1.0zM289.1 998.2a3.5 3.3 94 1 0 -0.6 7.0a3.5 3.3 94 1 0 0.6 -7.0z"/>
<path fill="#5ab13d" d="M280.6 751.1a3.1 2.5 165 1 0 -6.0 1.6a3.1 2.5 165 1 0 6.0 -1.6zM256.0 765.8a3.1 2.9 44 1 0 4.5 4.4a3.1 2.9 44 1 0 -4.5 -4.4zM246.0 766.8a3.3 2.8 88 1 0 0.2 6.5a3.3 2.8 88 1 0 -0.2 -6.5zM303.5 789.2a3.5 2.8 106 1 0 -2.0 6.8a3.5 2.8 106 1 0 2.0 -6.8zM331.6 908.7a3.7 3.3 70 1 0 2.4 6.9a3.7 3.3 70 1 0 -2.4 -6.9zM291.4 992.2a3.5 2.6 110 1 0 -2.5 6.5a3.5 2.6 110 1 0 2.5 -6.5z"/>
<path fill="#c8c527" d="M321.1 756.9a3.3 2.8 34 1 0 5.4 3.7a3.3 2.8 34 1 0 -5.4 -3.7zM280.3 759.5a2.6 2.0 165 1 0 -5.1 1.3a2.6 2.0 165 1 0 5.1 -1.3zM320.9 766.8a3.2 2.4 17 1 0 6.1 2.0a3.2 2.4 17 1 0 -6.1 -2.0zM254.6 775.6a2.8 2.0 36 1 0 4.5 3.3a2.8 2.0 36 1 0 -4.5 -3.3zM307.6 772.0a2.9 2.8 158 1 0 -5.5 2.1a2.9 2.8 158 1 0 5.5 -2.1zM269.0 777.6a3.7 3.5 148 1 0 -6.3 3.8a3.7 3.5 148 1 0 6.3 -3.8zM313.1 776.3a3.0 2.5 105 1 0 -1.5 5.7a3.0 2.5 105 1 0 1.5 -5.7zM334.7 783.2a3.7 3.0 161 1 0 -7.0 2.3a3.7 3.0 161 1 0 7.0 -2.3zM260.5 793.1a3.1 2.9 57 1 0 3.3 5.3a3.1 2.9 57 1 0 -3.3 -5.3zM321.6 798.7a3.3 3.2 90 1 0 -0.1 6.7a3.3 3.2 90 1 0 0.1 -6.7zM256.4 809.2a3.5 3.4 139 1 0 -5.3 4.5a3.5 3.4 139 1 0 5.3 -4.5zM262.6 801.8a3.0 2.4 72 1 0 1.8 5.6a3.0 2.4 72 1 0 -1.8 -5.6zM333.2 810.3a2.7 2.4 133 1 0 -3.7 3.9a2.7 2.4 133 1 0 3.7 -3.9zM306.5 821.5a3.4 2.8 160 1 0 -6.5 2.4a3.4 2.8 160 1 0 6.5 -2.4zM325.0 828.7a3.0 2.4 177 1 0 -6.0 0.3a3.0 2.4 177 1 0 6.0 -0.3zM342.3 824.3a3.4 2.7 122 1 0 -3.7 5.6a3.4 2.7 122 1 0 3.7 -5.6zM240.1 830.2a3.5 3.0 121 1 0 -3.6 5.9a3.5 3.0 121 1 0 3.6 -5.9zM347.3 829.5a2.7 2.6 62 1 0 2.5 4.8a2.7 2.6 62 1 0 -2.5 -4.8zM256.9 837.9a2.7 2.3 81 1 0 0.8 5.4a2.7 2.3 81 1 0 -0.8 -5.4zM345.1 840.2a2.7 2.3 11 1 0 5.3 1.1a2.7 2.3 11 1 0 -5.3 -1.1zM243.7 856.5a2.9 2.8 2 1 0 5.8 0.3a2.9 2.8 2 1 0 -5.8 -0.3zM245.4 880.6a3.5 3.3 89 1 0 0.0 7.1a3.5 3.3 89 1 0 -0.0 -7.1zM280.2 894.0a3.3 3.0 43 1 0 4.8 4.5a3.3 3.0 43 1 0 -4.8 -4.5zM243.2 921.7a3.6 3.2 164 1 0 -7.0 2.0a3.6 3.2 164 1 0 7.0 -2.0zM318.4 933.4a3.4 2.5 120 1 0 -3.5 5.9a3.4 2.5 120 1 0 3.5 -5.9zM258.9 946.7a2.9 2.5 40 1 0 4.4 3.7a2.9 2.5 40 1 0 -4.4 -3.7zM256.6 962.2a3.6 3.2 137 1 0 -5.2 4.8a3.6 3.2 137 1 0 5.2 -4.8zM252.3 972.2a3.2 3.0 107 1 0 -2.0 6.1a3.2 3.0 107 1 0 2.0 -6.1zM309.9 986.9a3.0 2.3 125 1 0 -3.4 4.8a3.0 2.3 125 1 0 3.4 -4.8z"/>
<path fill="#c9b726" d="M338.0 756.1a2.7 2.5 159 1 0 -5.1 1.9a2.7 2.5 159 1 0 5.1 -1.9zM352.0 761.8a2.8 2.5 66 1 0 2.2 5.1a2.8 2.5 66 1 0 -2.2 -5.1zM257.0 782.4a3.1 3.0 129 1 0 -3.9 4.7a3.1 3.0 129 1 0 3.9 -4.7zM350.6 780.2a3.0 2.3 50 1 0 3.9 4.7a3.0 2.3 50 1 0 -3.9 -4.7zM320.3 792.2a2.6 2.1 25 1 0 4.7 2.3a2.6 2.1 25 1 0 -4.7 -2.3zM281.8 794.8a3.5 2.6 63 1 0 3.1 6.2a3.5 2.6 63 1 0 -3.1 -6.2zM347.1 797.7a3.3 2.5 22 1 0 6.1 2.6a3.3 2.5 22 1 0 -6.1 -2.6zM269.2 803.6a2.8 2.8 46 1 0 3.8 4.0a2.8 2.8 46 1 0 -3.8 -4.0zM238.4 814.8a3.7 2.6 8 1 0 7.2 1.1a3.7 2.6 8 1 0 -7.2 -1.1zM324.0 820.9a3.4 2.7 169 1 0 -6.7 1.3a3.4 2.7 169 1 0 6.7 -1.3zM265.8 822.1a2.6 2.4 15 1 0 5.1 1.4a2.6 2.4 15 1 0 -5.1 -1.4zM264.7 829.6a3.6 3.4 37 1 0 5.7 4.4a3.6 3.4 37 1 0 -5.7 -4.4zM325.9 845.8a2.7 2.1 78 1 0 1.0 5.2a2.7 2.1 78 1 0 -1.0 -5.2zM297.0 859.3a3.0 2.9 1 1 0 5.9 0.2a3.0 2.9 1 1 0 -5.9 -0.2zM326.7 854.6a3.2 2.4 112 1 0 -2.4 5.9a3.2 2.4 112 1 0 2.4 -5.9zM335.1 858.2a3.2 2.8 84 1 0 0.6 6.3a3.2 2.8 84 1 0 -0.6 -6.3zM249.5 868.3a3.2 2.9 3 1 0 6.4 0.4a3.2 2.9 3 1 0 -6.4 -0.4zM261.1 865.7a2.7 2.4 74 1 0 1.5 5.2a2.7 2.4 74 1 0 -1.5 -5.2zM235.3 875.0a3.2 2.4 123 1 0 -3.5 5.4a3.2 2.4 123 1 0 3.5 -5.4zM309.8 880.5a3.4 2.6 43 1 0 4.9 4.7a3.4 2.6 43 1 0 -4.9 -4.7zM322.2 880.3a2.9 2.1 80 1 0 0.9 5.6a2.9 2.1 80 1 0 -0.9 -5.6zM311.8 888.6a3.5 3.1 72 1 0 2.1 6.7a3.5 3.1 72 1 0 -2.1 -6.7zM291.4 896.9a3.4 3.0 65 1 0 2.8 6.2a3.4 3.0 65 1 0 -2.8 -6.2zM266.7 910.4a3.0 2.8 99 1 0 -1.0 6.0a3.0 2.8 99 1 0 1.0 -6.0zM279.3 939.4a3.1 2.4 130 1 0 -4.0 4.6a3.1 2.4 130 1 0 4.0 -4.6zM286.6 946.8a3.5 3.1 39 1 0 5.4 4.5a3.5 3.1 39 1 0 -5.4 -4.5zM303.5 951.2a3.0 2.9 150 1 0 -5.2 2.9a3.0 2.9 150 1 0 5.2 -2.9zM310.1 976.1a3.6 2.8 63 1 0 3.1 6.4a3.6 2.8 63 1 0 -3.1 -6.4zM270.7 991.9a3.7 2.9 32 1 0 6.2 3.9a3.7 2.9 32 1 0 -6.2 -3.9z"/>
<path fill="#bec62a" d="M304.2 761.5a2.9 2.7 84 1 0 0.6 5.8a2.9 2.7 84 1 0 -0.6 -5.8zM277.3 775.7a2.7 2.5 127 1 0 -3.3 4.3a2.7 2.5 127 1 0 3.3 -4.3zM311.9 783.0a3.4 3.4 93 1 0 -0.4 6.9a3.4 3.4 93 1 0 0.4 -6.9zM324.8 809.9a3.2 2.6 152 1 0 -5.8 3.0a3.2 2.6 152 1 0 5.8 -3.0zM250.6 817.9a3.5 3.2 53 1 0 4.2 5.6a3.5 3.2 53 1 0 -4.2 -5.6zM277.5 814.6a3.2 2.4 17 1 0 6.1 1.9a3.2 2.4 17 1 0 -6.1 -1.9zM254.1 829.6a2.9 2.3 44 1 0 4.1 4.0a2.9 2.3 44 1 0 -4.1 -4.0zM296.5 834.5a3.7 3.0 160 1 0 -6.9 2.5a3.7 3.0 160 1 0 6.9 -2.5zM328.1 828.7a2.9 2.9 30 1 0 5.0 2.9a2.9 2.9 30 1 0 -5.0 -2.9zM326.8 837.6a3.0 2.7 53 1 0 3.6 4.8a3.0 2.7 53 1 0 -3.6 -4.8zM337.6 841.7a2.9 2.7 72 1 0 1.7 5.5a2.9 2.7 72 1 0 -1.7 -5.5zM295.4 851.6a3.5 3.4 145 1 0 -5.8 4.0a3.5 3.4 145 1 0 5.8 -4.0zM264.6 857.2a3.3 2.6 121 1 0 -3.4 5.6a3.3 2.6 121 1 0 3.4 -5.6zM296.1 864.7a3.2 2.3 71 1 0 2.0 6.1a3.2 2.3 71 1 0 -2.0 -6.1zM315.9 872.1a2.7 1.9 92 1 0 -0.2 5.3a2.7 1.9 92 1 0 0.2 -5.3zM253.5 873.6a3.1 2.5 88 1 0 0.2 6.2a3.1 2.5 88 1 0 -0.2 -6.2zM274.5 875.5a3.5 2.9 118 1 0 -3.3 6.1a3.5 2.9 118 1 0 3.3 -6.1zM272.7 885.1a2.6 2.1 38 1 0 4.1 3.2a2.6 2.1 38 1 0 -4.1 -3.2zM265.2 891.0a3.2 2.9 104 1 0 -1.6 6.2a3.2 2.9 104 1 0 1.6 -6.2zM313.5 897.3a3.2 2.4 114 1 0 -2.7 5.9a3.2 2.4 114 1 0 2.7 -5.9zM330.0 891.1a3.0 3.0 103 1 0 -1.4 5.9a3.0 3.0 103 1 0 1.4 -5.9zM336.0 898.0a3.5 2.6 12 1 0 6.7 1.5a3.5 2.6 12 1 0 -6.7 -1.5zM300.8 901.9a2.9 2.9 129 1 0 -3.7 4.5a2.9 2.9 129 1 0 3.7 -4.5zM267.4 963.2a3.4 2.5 93 1 0 -0.4 6.9a3.4 2.5 93 1 0 0.4 -6.9zM293.2 966.4a3.0 2.2 26 1 0 5.4 2.7a3.0 2.2 26 1 0 -5.4 -2.7zM257.5 1002.3a3.0 2.4 7 1 0 5.9 0.8a3.0 2.4 7 1 0 -5.9 -0.8zM275.7 1001.6a2.8 2.3 12 1 0 5.5 1.2a2.8 2.3 12 1 0 -5.5 -1.2z"/>
<path fill="#85ba35" d="M330.0 765.3a3.0 2.5 7 1 0 5.9 0.8a3.0 2.5 7 1 0 -5.9 -0.8zM288.8 771.1a3.6 2.6 179 1 0 -7.2 0.1a3.6 2.6 179 1 0 7.2 -0.1zM314.8 795.0a2.8 2.7 168 1 0 -5.5 1.1a2.8 2.7 168 1 0 5.5 -1.1zM338.3 794.0a3.3 2.9 29 1 0 5.7 3.3a3.3 2.9 29 1 0 -5.7 -3.3zM261.6 822.9a3.3 2.6 177 1 0 -6.5 0.3a3.3 2.6 177 1 0 6.5 -0.3zM287.5 829.9a3.1 2.6 128 1 0 -3.9 4.9a3.1 2.6 128 1 0 3.9 -4.9zM315.6 836.3a3.7 3.1 159 1 0 -6.8 2.6a3.7 3.1 159 1 0 6.8 -2.6zM242.9 900.0a2.9 2.3 45 1 0 4.0 4.1a2.9 2.3 45 1 0 -4.0 -4.1zM288.3 911.8a3.3 3.3 138 1 0 -5.0 4.5a3.3 3.3 138 1 0 5.0 -4.5z"/>
<path fill="#98be31" d="M279.8 768.7a2.8 2.2 168 1 0 -5.5 1.1a2.8 2.2 168 1 0 5.5 -1.1zM286.7 787.8a2.9 2.2 166 1 0 -5.7 1.3a2.9 2.2 166 1 0 5.7 -1.3zM250.8 800.3a3.0 3.0 43 1 0 4.4 4.2a3.0 3.0 43 1 0 -4.4 -4.2zM291.9 793.2a3.7 2.7 89 1 0 0.1 7.3a3.7 2.7 89 1 0 -0.1 -7.3zM331.5 798.2a3.6 3.4 115 1 0 -3.1 6.5a3.6 3.4 115 1 0 3.1 -6.5zM353.2 808.0a3.0 2.4 158 1 0 -5.6 2.3a3.0 2.4 158 1 0 5.6 -2.3zM347.8 815.1a3.3 3.0 80 1 0 1.1 6.5a3.3 3.0 80 1 0 -1.1 -6.5zM283.7 820.6a3.7 3.6 70 1 0 2.4 6.9a3.7 3.6 70 1 0 -2.4 -6.9zM300.1 831.7a2.9 2.4 20 1 0 5.4 2.0a2.9 2.4 20 1 0 -5.4 -2.0zM267.4 839.6a3.5 2.6 166 1 0 -6.9 1.6a3.5 2.6 166 1 0 6.9 -1.6zM344.4 848.7a2.7 2.0 43 1 0 3.9 3.7a2.7 2.0 43 1 0 -3.9 -3.7zM283.4 856.9a2.6 2.6 120 1 0 -2.6 4.5a2.6 2.6 120 1 0 2.6 -4.5zM323.0 889.0a3.6 2.9 132 1 0 -4.9 5.2a3.6 2.9 132 1 0 4.9 -5.2zM247.6 915.7a3.1 2.7 100 1 0 -1.1 6.1a3.1 2.7 100 1 0 1.1 -6.1zM322.5 935.5a3.4 2.5 31 1 0 5.9 3.6a3.4 2.5 31 1 0 -5.9 -3.6z"/>
<path fill="#cd7824" d="M322.7 773.2a3.4 2.5 76 1 0 1.6 6.6a3.4 2.5 76 1 0 -1.6 -6.6zM282.9 867.4a3.3 3.2 151 1 0 -5.8 3.1a3.3 3.2 151 1 0 5.8 -3.1zM333.4 882.3a3.1 2.8 111 1 0 -2.3 5.7a3.1 2.8 111 1 0 2.3 -5.7zM265.6 901.5a3.1 2.4 125 1 0 -3.6 5.1a3.1 2.4 125 1 0 3.6 -5.1zM270.6 903.1a2.7 2.4 62 1 0 2.4 4.7a2.7 2.4 62 1 0 -2.4 -4.7zM257.7 911.6a2.7 2.6 136 1 0 -3.9 3.7a2.7 2.6 136 1 0 3.9 -3.7zM317.5 926.2a3.2 2.3 5 1 0 6.4 0.6a3.2 2.3 5 1 0 -6.4 -0.6zM288.2 939.5a3.4 2.9 160 1 0 -6.4 2.3a3.4 2.9 160 1 0 6.4 -2.3zM243.7 945.5a2.9 2.7 98 1 0 -0.9 5.7a2.9 2.7 98 1 0 0.9 -5.7zM261.0 956.1a3.4 2.6 7 1 0 6.7 0.9a3.4 2.6 7 1 0 -6.7 -0.9zM280.2 972.9a2.8 2.2 110 1 0 -2.0 5.2a2.8 2.2 110 1 0 2.0 -5.2zM262.1 987.0a3.1 2.3 80 1 0 1.1 6.2a3.1 2.3 80 1 0 -1.1 -6.2zM252.5 992.6a2.8 2.0 31 1 0 4.8 3.0a2.8 2.0 31 1 0 -4.8 -3.0zM260.3 998.8a2.7 2.1 0 1 0 5.4 0.1a2.7 2.1 0 1 0 -5.4 -0.1z"/>
<path fill="#45ac41" d="M352.5 769.9a2.7 2.4 122 1 0 -3.0 4.6a2.7 2.4 122 1 0 3.0 -4.6z"/>
<path fill="#30a846" d="M247.6 787.2a2.8 2.7 155 1 0 -5.1 2.4a2.8 2.7 155 1 0 5.1 -2.4z"/>
<path fill="#cd9b23" d="M289.2 787.2a3.4 3.2 18 1 0 6.5 2.2a3.4 3.2 18 1 0 -6.5 -2.2zM308.9 803.2a3.2 2.4 15 1 0 6.1 1.7a3.2 2.4 15 1 0 -6.1 -1.7zM266.7 849.2a2.7 2.4 138 1 0 -4.1 3.5a2.7 2.4 138 1 0 4.1 -3.5zM339.8 851.4a2.9 2.2 149 1 0 -4.9 2.9a2.9 2.2 149 1 0 4.9 -2.9zM296.8 880.4a3.6 3.3 160 1 0 -6.8 2.4a3.6 3.3 160 1 0 6.8 -2.4zM343.9 876.9a3.7 3.0 137 1 0 -5.4 5.0a3.7 3.0 137 1 0 5.4 -5.0zM258.7 902.6a3.1 2.7 162 1 0 -5.9 1.9a3.1 2.7 162 1 0 5.9 -1.9zM325.3 915.0a3.1 3.0 115 1 0 -2.7 5.6a3.1 3.0 115 1 0 2.7 -5.6zM310.2 945.2a3.4 2.9 8 1 0 6.7 1.0a3.4 2.9 8 1 0 -6.7 -1.0zM248.4 982.5a3.4 2.7 22 1 0 6.3 2.6a3.4 2.7 22 1 0 -6.3 -2.6zM291.0 983.1a3.0 2.4 124 1 0 -3.4 4.9a3.0 2.4 124 1 0 3.4 -4.9z"/>
<path fill="#cd6725" d="M329.2 817.3a2.9 2.3 97 1 0 -0.7 5.7a2.9 2.3 97 1 0 0.7 -5.7zM241.4 840.4a3.6 2.9 140 1 0 -5.5 4.6a3.6 2.9 140 1 0 5.5 -4.6zM233.0 866.0a3.0 2.9 50 1 0 3.8 4.6a3.0 2.9 50 1 0 -3.8 -4.6zM299.5 892.0a3.5 2.8 27 1 0 6.2 3.3a3.5 2.8 27 1 0 -6.2 -3.3zM250.0 910.0a3.1 3.0 158 1 0 -5.7 2.3a3.1 3.0 158 1 0 5.7 -2.3zM295.9 914.1a3.0 2.4 133 1 0 -4.1 4.3a3.0 2.4 133 1 0 4.1 -4.3zM302.5 910.4a2.7 2.6 51 1 0 3.4 4.2a2.7 2.6 51 1 0 -3.4 -4.2zM286.1 920.4a3.4 3.3 150 1 0 -5.9 3.3a3.4 3.3 150 1 0 5.9 -3.3zM281.2 930.8a3.0 2.9 137 1 0 -4.4 4.1a3.0 2.9 137 1 0 4.4 -4.1zM280.6 946.2a2.9 2.1 92 1 0 -0.2 5.8a2.9 2.1 92 1 0 0.2 -5.8zM271.5 1007.2a2.8 2.3 149 1 0 -4.8 2.8a2.8 2.3 149 1 0 4.8 -2.8z"/>
<path fill="#cd8923" d="M336.5 811.2a3.1 2.7 21 1 0 5.8 2.3a3.1 2.7 21 1 0 -5.8 -2.3zM314.8 845.2a3.5 2.6 148 1 0 -5.9 3.7a3.5 2.6 148 1 0 5.9 -3.7zM256.8 857.2a3.4 2.5 133 1 0 -4.7 5.0a3.4 2.5 133 1 0 4.7 -5.0zM311.1 864.3a3.2 2.9 176 1 0 -6.3 0.4a3.2 2.9 176 1 0 6.3 -0.4zM323.7 863.9a3.3 2.6 61 1 0 3.2 5.9a3.3 2.6 61 1 0 -3.2 -5.9zM341.7 864.6a3.2 3.1 67 1 0 2.4 5.9a3.2 3.1 67 1 0 -2.4 -5.9zM261.1 875.5a2.8 2.2 23 1 0 5.1 2.2a2.8 2.2 23 1 0 -5.1 -2.2zM299.8 883.4a3.4 3.1 27 1 0 6.1 3.2a3.4 3.1 27 1 0 -6.1 -3.2zM235.4 902.8a2.9 2.2 52 1 0 3.5 4.6a2.9 2.2 52 1 0 -3.5 -4.6zM319.7 906.9a2.7 2.4 127 1 0 -3.4 4.3a2.7 2.4 127 1 0 3.4 -4.3zM237.8 911.3a3.0 2.2 62 1 0 2.8 5.4a3.0 2.2 62 1 0 -2.8 -5.4zM310.3 919.1a2.8 2.6 10 1 0 5.5 1.0a2.8 2.6 10 1 0 -5.5 -1.0zM257.7 918.8a3.5 2.7 104 1 0 -1.8 6.7a3.5 2.7 104 1 0 1.8 -6.7zM308.8 925.2a3.0 2.4 58 1 0 3.2 5.1a3.0 2.4 58 1 0 -3.2 -5.1zM252.9 937.0a3.4 3.1 162 1 0 -6.4 2.0a3.4 3.1 162 1 0 6.4 -2.0zM259.8 928.5a2.7 2.0 88 1 0 0.2 5.3a2.7 2.0 88 1 0 -0.2 -5.3zM293.9 940.7a3.3 3.2 62 1 0 3.1 5.9a3.3 3.2 62 1 0 -3.1 -5.9zM248.9 953.6a3.5 2.6 22 1 0 6.5 2.7a3.5 2.6 22 1 0 -6.5 -2.7zM313.2 947.1a3.4 2.8 150 1 0 -5.9 3.4a3.4 2.8 150 1 0 5.9 -3.4zM317.3 952.3a3.0 2.8 41 1 0 4.5 4.0a3.0 2.8 41 1 0 -4.5 -4.0zM247.6 955.6a3.4 2.6 152 1 0 -6.0 3.1a3.4 2.6 152 1 0 6.0 -3.1zM279.6 980.8a3.1 2.6 63 1 0 2.7 5.5a3.1 2.6 63 1 0 -2.7 -5.5z"/>
<path fill="#ca5924" d="M253.5 828.4a3.4 3.0 152 1 0 -6.1 3.1a3.4 3.0 152 1 0 6.1 -3.1zM318.6 844.6a2.9 2.1 76 1 0 1.4 5.6a2.9 2.1 76 1 0 -1.4 -5.6zM284.4 849.8a3.2 2.4 155 1 0 -5.8 2.6a3.2 2.4 155 1 0 5.8 -2.6zM242.8 891.0a2.9 2.8 30 1 0 5.1 3.0a2.9 2.8 30 1 0 -5.1 -3.0zM257.7 891.3a3.3 3.1 117 1 0 -3.1 5.9a3.3 3.1 117 1 0 3.1 -5.9zM275.2 911.1a3.1 2.6 65 1 0 2.6 5.7a3.1 2.6 65 1 0 -2.6 -5.7zM265.1 918.7a3.0 2.3 59 1 0 3.1 5.2a3.0 2.3 59 1 0 -3.1 -5.2zM294.9 932.9a2.8 2.8 24 1 0 5.1 2.3a2.8 2.8 24 1 0 -5.1 -2.3zM302.6 935.1a3.4 2.9 74 1 0 1.8 6.5a3.4 2.9 74 1 0 -1.8 -6.5z"/>
<path fill="#6fb539" d="M299.1 836.7a3.6 2.8 65 1 0 3.0 6.5a3.6 2.8 65 1 0 -3.0 -6.5zM286.1 871.6a3.7 2.8 9 1 0 7.3 1.3a3.7 2.8 9 1 0 -7.3 -1.3zM237.4 929.5a3.2 2.6 20 1 0 6.0 2.2a3.2 2.6 20 1 0 -6.0 -2.2zM260.4 937.3a3.0 2.4 131 1 0 -4.0 4.6a3.0 2.4 131 1 0 4.0 -4.6z"/>
<path fill="#c84b23" d="M288.3 906.0a2.8 2.7 41 1 0 4.2 3.8a2.8 2.7 41 1 0 -4.2 -3.8zM306.7 906.0a3.2 2.9 69 1 0 2.3 6.0a3.2 2.9 69 1 0 -2.3 -6.0zM267.2 927.0a2.6 2.5 89 1 0 0.0 5.3a2.6 2.5 89 1 0 -0.0 -5.3zM264.4 937.6a2.8 2.3 41 1 0 4.2 3.7a2.8 2.3 41 1 0 -4.2 -3.7zM290.9 972.9a2.9 2.9 103 1 0 -1.4 5.6a2.9 2.9 103 1 0 1.4 -5.6zM296.8 973.4a3.4 2.9 40 1 0 5.2 4.5a3.4 2.9 40 1 0 -5.2 -4.5z"/>
<path fill="#c0241e" d="M277.6 920.6a3.0 2.7 124 1 0 -3.5 5.0a3.0 2.7 124 1 0 3.5 -5.0zM287.4 928.8a2.8 2.7 92 1 0 -0.3 5.5a2.8 2.7 92 1 0 0.3 -5.5zM269.2 955.5a2.9 2.5 39 1 0 4.5 3.7a2.9 2.5 39 1 0 -4.5 -3.7zM289.1 967.0a3.2 2.4 149 1 0 -5.5 3.2a3.2 2.4 149 1 0 5.5 -3.2z"/>
<path fill="#c53e21" d="M295.1 922.7a3.3 3.1 131 1 0 -4.4 5.0a3.3 3.1 131 1 0 4.4 -5.0zM306.0 927.3a2.8 2.2 65 1 0 2.4 5.0a2.8 2.2 65 1 0 -2.4 -5.0zM291.6 956.0a3.1 2.8 131 1 0 -4.1 4.6a3.1 2.8 131 1 0 4.1 -4.6zM278.6 964.3a3.1 2.9 151 1 0 -5.5 2.9a3.1 2.9 151 1 0 5.5 -2.9zM304.9 967.5a3.3 3.0 129 1 0 -4.3 5.1a3.3 3.0 129 1 0 4.3 -5.1zM312.3 964.1a3.1 2.8 44 1 0 4.4 4.3a3.1 2.8 44 1 0 -4.4 -4.3z"/>
<path fill="#c2311f" d="M299.3 920.3a2.8 2.6 37 1 0 4.4 3.4a2.8 2.6 37 1 0 -4.4 -3.4zM284.7 959.2a2.9 2.6 172 1 0 -5.8 0.7a2.9 2.6 172 1 0 5.8 -0.7zM297.5 957.9a3.1 2.8 77 1 0 1.3 6.0a3.1 2.8 77 1 0 -1.3 -6.0zM309.2 953.6a3.5 3.2 101 1 0 -1.4 7.0a3.5 3.2 101 1 0 1.4 -7.0z"/>
<path fill="#000" d="M338.2 792.4a1.0 1.0 0 1 0 2.1 0a1.0 1.0 0 1 0 -2.1 0zM284.8 786.5a1.0 1.0 0 1 0 2.0 0a1.0 1.0 0 1 0 -2.0 0zM325.2 767.8a1.0 1.0 0 1 0 2.1 0a1.0 1.0 0 1 0 -2.1 0zM273.8 774.3a1.3 1.3 0 1 0 2.7 0a1.3 1.3 0 1 0 -2.7 0zM292.0 855.1a1.4 1.4 0 1 0 2.8 0a1.4 1.4 0 1 0 -2.8 0zM293.0 855.6a0.8 0.8 0 1 0 1.6 0a0.8 0.8 0 1 0 -1.6 0zM302.9 757.9a1.4 1.4 0 1 0 2.8 0a1.4 1.4 0 1 0 -2.8 0zM282.0 1006.5a1.5 1.5 0 1 0 3.0 0a1.5 1.5 0 1 0 -3.0 0zM236.7 896.5a0.8 0.8 0 1 0 1.5 0a0.8 0.8 0 1 0 -1.5 0zM237.8 895.7a0.8 0.8 0 1 0 1.6 0a0.8 0.8 0 1 0 -1.6 0zM301.7 787.1a1.2 1.2 0 1 0 2.3 0a1.2 1.2 0 1 0 -2.3 0zM295.7 926.7a1.4 1.4 0 1 0 2.9 0a1.4 1.4 0 1 0 -2.9 0zM298.5 929.4a0.7 0.7 0 1 0 1.5 0a0.7 0.7 0 1 0 -1.5 0zM258.1 934.4a1.6 1.6 0 1 0 3.1 0a1.6 1.6 0 1 0 -3.1 0zM258.6 930.8a1.2 1.2 0 1 0 2.4 0a1.2 1.2 0 1 0 -2.4 0zM257.9 840.7a2.0 2.0 0 1 0 3.9 0a2.0 2.0 0 1 0 -3.9 0zM259.2 838.2a2.4 2.4 0 1 0 4.8 0a2.4 2.4 0 1 0 -4.8 0zM259.8 840.0a2.2 2.2 0 1 0 4.4 0a2.2 2.2 0 1 0 -4.4 0zM258.6 837.4a1.5 1.5 0 1 0 2.9 0a1.5 1.5 0 1 0 -2.9 0zM306.0 962.1a1.0 1.0 0 1 0 2.0 0a1.0 1.0 0 1 0 -2.0 0zM294.1 820.7a1.0 1.0 0 1 0 1.9 0a1.0 1.0 0 1 0 -1.9 0zM300.0 993.1a1.0 1.0 0 1 0 2.0 0a1.0 1.0 0 1 0 -2.0 0zM264.4 843.7a2.1 2.1 0 1 0 4.1 0a2.1 2.1 0 1 0 -4.1 0zM266.4 844.3a0.7 0.7 0 1 0 1.4 0a0.7 0.7 0 1 0 -1.4 0zM266.1 845.5a1.6 1.6 0 1 0 3.3 0a1.6 1.6 0 1 0 -3.3 0zM267.5 847.6a1.6 1.6 0 1 0 3.2 0a1.6 1.6 0 1 0 -3.2 0zM310.0 966.0a1.0 1.0 0 1 0 2.1 0a1.0 1.0 0 1 0 -2.1 0zM311.8 968.4a0.8 0.8 0 1 0 1.5 0a0.8 0.8 0 1 0 -1.5 0zM294.2 984.7a1.0 1.0 0 1 0 2.0 0a1.0 1.0 0 1 0 -2.0 0zM297.2 986.9a1.2 1.2 0 1 0 2.5 0a1.2 1.2 0 1 0 -2.5 0zM294.4 988.4a0.7 0.7 0 1 0 1.3 0a0.7 0.7 0 1 0 -1.3 0zM305.0 947.9a1.9 1.9 0 1 0 3.8 0a1.9 1.9 0 1 0 -3.8 0zM305.8 944.4a1.7 1.7 0 1 0 3.5 0a1.7 1.7 0 1 0 -3.5 0zM305.0 944.1a1.2 1.2 0 1 0 2.4 0a1.2 1.2 0 1 0 -2.4 0zM275.4 954.7a1.5 1.5 0 1 0 3.0 0a1.5 1.5 0 1 0 -3.0 0zM282.1 867.7a1.6 1.6 0 1 0 3.1 0a1.6 1.6 0 1 0 -3.1 0zM265.7 935.7a1.2 1.2 0 1 0 2.5 0a1.2 1.2 0 1 0 -2.5 0zM241.1 907.2a1.5 1.5 0 1 0 3.1 0a1.5 1.5 0 1 0 -3.1 0zM242.2 908.6a1.2 1.2 0 1 0 2.4 0a1.2 1.2 0 1 0 -2.4 0zM246.0 975.9a0.7 0.7 0 1 0 1.4 0a0.7 0.7 0 1 0 -1.4 0zM245.7 974.8a0.9 0.9 0 1 0 1.8 0a0.9 0.9 0 1 0 -1.8 0zM250.1 837.6a1.6 1.6 0 1 0 3.2 0a1.6 1.6 0 1 0 -3.2 0zM238.4 800.3a1.3 1.3 0 1 0 2.6 0a1.3 1.3 0 1 0 -2.6 0zM242.8 804.7a1.0 1.0 0 1 0 1.9 0a1.0 1.0 0 1 0 -1.9 0zM287.4 846.3a1.1 1.1 0 1 0 2.1 0a1.1 1.1 0 1 0 -2.1 0zM287.6 843.1a1.6 1.6 0 1 0 3.1 0a1.6 1.6 0 1 0 -3.1 0zM334.1 836.2a0.8 0.8 0 1 0 1.6 0a0.8 0.8 0 1 0 -1.6 0zM334.4 837.0a1.2 1.2 0 1 0 2.4 0a1.2 1.2 0 1 0 -2.4 0zM239.3 804.8a0.7 0.7 0 1 0 1.4 0a0.7 0.7 0 1 0 -1.4 0zM243.2 804.9a0.8 0.8 0 1 0 1.7 0a0.8 0.8 0 1 0 -1.7 0zM276.9 945.9a1.3 1.3 0 1 0 2.5 0a1.3 1.3 0 1 0 -2.5 0zM275.6 949.3a1.4 1.4 0 1 0 2.8 0a1.4 1.4 0 1 0 -2.8 0zM319.2 903.2a0.6 0.6 0 1 0 1.2 0a0.6 0.6 0 1 0 -1.2 0zM291.5 857.6a1.1 1.1 0 1 0 2.3 0a1.1 1.1 0 1 0 -2.3 0zM242.6 878.6a1.1 1.1 0 1 0 2.3 0a1.1 1.1 0 1 0 -2.3 0zM294.0 841.9a1.0 1.0 0 1 0 2.0 0a1.0 1.0 0 1 0 -2.0 0zM278.1 921.3a0.7 0.7 0 1 0 1.4 0a0.7 0.7 0 1 0 -1.4 0zM291.5 805.5a0.9 0.9 0 1 0 1.9 0a0.9 0.9 0 1 0 -1.9 0zM276.9 770.6a1.2 1.2 0 1 0 2.4 0a1.2 1.2 0 1 0 -2.4 0zM297.0 983.0a1.4 1.4 0 1 0 2.8 0a1.4 1.4 0 1 0 -2.8 0zM299.5 980.9a1.6 1.6 0 1 0 3.1 0a1.6 1.6 0 1 0 -3.1 0zM271.8 819.8a1.1 1.1 0 1 0 2.1 0a1.1 1.1 0 1 0 -2.1 0zM270.6 869.1a1.1 1.1 0 1 0 2.2 0a1.1 1.1 0 1 0 -2.2 0zM269.2 872.1a0.9 0.9 0 1 0 1.7 0a0.9 0.9 0 1 0 -1.7 0zM324.1 835.2a1.1 1.1 0 1 0 2.3 0a1.1 1.1 0 1 0 -2.3 0zM237.8 920.9a0.8 0.8 0 1 0 1.6 0a0.8 0.8 0 1 0 -1.6 0zM238.8 919.9a0.9 0.9 0 1 0 1.7 0a0.9 0.9 0 1 0 -1.7 0zM254.8 797.2a0.7 0.7 0 1 0 1.4 0a0.7 0.7 0 1 0 -1.4 0zM257.9 797.4a1.6 1.6 0 1 0 3.2 0a1.6 1.6 0 1 0 -3.2 0zM257.0 910.0a0.8 0.8 0 1 0 1.7 0a0.8 0.8 0 1 0 -1.7 0zM257.5 842.4a0.9 0.9 0 1 0 1.8 0a0.9 0.9 0 1 0 -1.8 0zM256.2 842.8a1.2 1.2 0 1 0 2.3 0a1.2 1.2 0 1 0 -2.3 0zM305.9 884.3a1.5 1.5 0 1 0 2.9 0a1.5 1.5 0 1 0 -2.9 0zM306.6 885.6a1.5 1.5 0 1 0 3.1 0a1.5 1.5 0 1 0 -3.1 0zM253.7 831.7a1.5 1.5 0 1 0 3.0 0a1.5 1.5 0 1 0 -3.0 0zM316.7 846.2a1.0 1.0 0 1 0 1.9 0a1.0 1.0 0 1 0 -1.9 0zM260.7 772.0a0.6 0.6 0 1 0 1.2 0a0.6 0.6 0 1 0 -1.2 0zM315.2 913.8a1.2 1.2 0 1 0 2.4 0a1.2 1.2 0 1 0 -2.4 0zM314.2 911.6a1.9 1.9 0 1 0 3.9 0a1.9 1.9 0 1 0 -3.9 0zM318.0 772.6a1.0 1.0 0 1 0 2.0 0a1.0 1.0 0 1 0 -2.0 0zM267.4 810.8a0.8 0.8 0 1 0 1.6 0a0.8 0.8 0 1 0 -1.6 0zM265.0 809.5a1.5 1.5 0 1 0 3.0 0a1.5 1.5 0 1 0 -3.0 0zM322.4 921.2a0.7 0.7 0 1 0 1.3 0a0.7 0.7 0 1 0 -1.3 0zM324.6 924.4a1.0 1.0 0 1 0 1.9 0a1.0 1.0 0 1 0 -1.9 0zM318.4 916.0a0.9 0.9 0 1 0 1.8 0a0.9 0.9 0 1 0 -1.8 0zM260.3 953.1a1.3 1.3 0 1 0 2.6 0a1.3 1.3 0 1 0 -2.6 0zM259.8 954.6a0.8 0.8 0 1 0 1.5 0a0.8 0.8 0 1 0 -1.5 0zM292.0 852.7a1.1 1.1 0 1 0 2.2 0a1.1 1.1 0 1 0 -2.2 0zM287.8 809.9a1.5 1.5 0 1 0 3.0 0a1.5 1.5 0 1 0 -3.0 0zM327.2 893.8a1.0 1.0 0 1 0 2.0 0a1.0 1.0 0 1 0 -2.0 0zM326.9 895.6a1.1 1.1 0 1 0 2.3 0a1.1 1.1 0 1 0 -2.3 0zM293.7 797.9a1.3 1.3 0 1 0 2.6 0a1.3 1.3 0 1 0 -2.6 0zM322.2 828.1a1.1 1.1 0 1 0 2.2 0a1.1 1.1 0 1 0 -2.2 0zM242.6 837.7a0.8 0.8 0 1 0 1.7 0a0.8 0.8 0 1 0 -1.7 0zM233.2 901.8a0.7 0.7 0 1 0 1.4 0a0.7 0.7 0 1 0 -1.4 0zM231.9 902.5a1.5 1.5 0 1 0 2.9 0a1.5 1.5 0 1 0 -2.9 0zM342.5 864.0a1.3 1.3 0 1 0 2.6 0a1.3 1.3 0 1 0 -2.6 0zM339.4 865.0a1.7 1.7 0 1 0 3.5 0a1.7 1.7 0 1 0 -3.5 0zM343.2 861.4a0.9 0.9 0 1 0 1.8 0a0.9 0.9 0 1 0 -1.8 0zM242.7 795.4a1.2 1.2 0 1 0 2.3 0a1.2 1.2 0 1 0 -2.3 0zM242.8 798.0a1.5 1.5 0 1 0 3.1 0a1.5 1.5 0 1 0 -3.1 0zM294.4 938.2a0.9 0.9 0 1 0 1.8 0a0.9 0.9 0 1 0 -1.8 0zM296.5 936.1a0.7 0.7 0 1 0 1.5 0a0.7 0.7 0 1 0 -1.5 0zM294.9 899.0a0.9 0.9 0 1 0 1.7 0a0.9 0.9 0 1 0 -1.7 0zM298.5 903.2a1.0 1.0 0 1 0 2.0 0a1.0 1.0 0 1 0 -2.0 0zM315.6 835.6a0.7 0.7 0 1 0 1.4 0a0.7 0.7 0 1 0 -1.4 0zM316.0 831.8a1.5 1.5 0 1 0 3.0 0a1.5 1.5 0 1 0 -3.0 0zM286.4 799.3a1.5 1.5 0 1 0 3.0 0a1.5 1.5 0 1 0 -3.0 0zM273.0 888.6a2.3 2.3 0 1 0 4.5 0a2.3 2.3 0 1 0 -4.5 0zM275.6 892.7a0.9 0.9 0 1 0 1.8 0a0.9 0.9 0 1 0 -1.8 0zM273.0 890.9a1.3 1.3 0 1 0 2.6 0a1.3 1.3 0 1 0 -2.6 0zM276.6 891.3a1.6 1.6 0 1 0 3.3 0a1.6 1.6 0 1 0 -3.3 0zM253.2 798.1a2.5 2.5 0 1 0 5.1 0a2.5 2.5 0 1 0 -5.1 0zM253.0 798.9a2.0 2.0 0 1 0 4.0 0a2.0 2.0 0 1 0 -4.0 0zM294.7 813.1a0.8 0.8 0 1 0 1.7 0a0.8 0.8 0 1 0 -1.7 0zM292.4 811.9a1.2 1.2 0 1 0 2.4 0a1.2 1.2 0 1 0 -2.4 0zM292.8 810.8a1.6 1.6 0 1 0 3.2 0a1.6 1.6 0 1 0 -3.2 0zM318.8 879.2a0.7 0.7 0 1 0 1.5 0a0.7 0.7 0 1 0 -1.5 0zM258.1 973.7a0.8 0.8 0 1 0 1.6 0a0.8 0.8 0 1 0 -1.6 0zM289.2 971.7a1.5 1.5 0 1 0 3.0 0a1.5 1.5 0 1 0 -3.0 0zM289.3 974.1a1.0 1.0 0 1 0 2.0 0a1.0 1.0 0 1 0 -2.0 0zM337.1 900.0a1.5 1.5 0 1 0 2.9 0a1.5 1.5 0 1 0 -2.9 0zM334.8 900.0a0.7 0.7 0 1 0 1.5 0a0.7 0.7 0 1 0 -1.5 0zM299.7 788.0a1.1 1.1 0 1 0 2.3 0a1.1 1.1 0 1 0 -2.3 0zM295.7 791.7a1.6 1.6 0 1 0 3.1 0a1.6 1.6 0 1 0 -3.1 0zM258.3 797.4a2.2 2.2 0 1 0 4.3 0a2.2 2.2 0 1 0 -4.3 0zM255.6 796.0a1.5 1.5 0 1 0 3.1 0a1.5 1.5 0 1 0 -3.1 0zM309.1 853.1a0.7 0.7 0 1 0 1.3 0a0.7 0.7 0 1 0 -1.3 0zM309.7 850.9a1.8 1.8 0 1 0 3.5 0a1.8 1.8 0 1 0 -3.5 0zM308.9 850.9a1.3 1.3 0 1 0 2.5 0a1.3 1.3 0 1 0 -2.5 0zM306.6 850.8a1.0 1.0 0 1 0 2.0 0a1.0 1.0 0 1 0 -2.0 0zM282.4 795.2a1.1 1.1 0 1 0 2.1 0a1.1 1.1 0 1 0 -2.1 0zM248.2 752.7a2.7 2.1 0 1 0 5.4 0a2.7 2.1 0 1 0 -5.4 0zM256.3 752.7a2.4 1.9 0 1 0 4.9 0a2.4 1.9 0 1 0 -4.9 0zM265.4 752.7a2.3 1.8 0 1 0 4.5 0a2.3 1.8 0 1 0 -4.5 0zM273.8 752.7a1.9 1.5 0 1 0 3.8 0a1.9 1.5 0 1 0 -3.8 0zM328.6 752.7a2.0 1.6 0 1 0 3.9 0a2.0 1.6 0 1 0 -3.9 0zM348.9 752.7a2.1 1.7 0 1 0 4.2 0a2.1 1.7 0 1 0 -4.2 0z"/>
<path fill="#45ac41" d="M408.8 755.7a2.7 2.4 134 1 0 -3.8 3.9a2.7 2.4 134 1 0 3.8 -3.9zM417.4 773.4a3.3 2.9 146 1 0 -5.4 3.6a3.3 2.9 146 1 0 5.4 -3.6zM435.1 767.5a3.5 2.6 115 1 0 -3.0 6.4a3.5 2.6 115 1 0 3.0 -6.4zM405.1 782.6a3.1 2.6 150 1 0 -5.4 3.0a3.1 2.6 150 1 0 5.4 -3.0zM395.2 852.5a3.1 2.7 102 1 0 -1.4 6.1a3.1 2.7 102 1 0 1.4 -6.1z"/>
<path fill="#bec62a" d="M414.2 755.2a3.6 2.9 48 1 0 4.7 5.3a3.6 2.9 48 1 0 -4.7 -5.3zM443.5 749.0a3.5 2.7 57 1 0 3.7 5.9a3.5 2.7 57 1 0 -3.7 -5.9zM493.2 757.1a3.1 2.6 135 1 0 -4.4 4.4a3.1 2.6 135 1 0 4.4 -4.4zM439.9 759.5a2.9 2.5 21 1 0 5.4 2.1a2.9 2.5 21 1 0 -5.4 -2.1zM442.1 765.4a3.1 2.4 79 1 0 1.2 6.2a3.1 2.4 79 1 0 -1.2 -6.2zM456.8 788.7a3.3 2.8 44 1 0 4.8 4.6a3.3 2.8 44 1 0 -4.8 -4.6zM490.0 791.6a2.7 2.1 84 1 0 0.5 5.3a2.7 2.1 84 1 0 -0.5 -5.3zM500.3 788.3a2.9 2.9 154 1 0 -5.3 2.6a2.9 2.9 154 1 0 5.3 -2.6zM496.7 794.1a2.8 2.5 73 1 0 1.6 5.5a2.8 2.5 73 1 0 -1.6 -5.5zM416.5 809.7a3.6 2.7 33 1 0 6.0 3.9a3.6 2.7 33 1 0 -6.0 -3.9zM418.5 817.8a2.9 2.7 114 1 0 -2.4 5.3a2.9 2.7 114 1 0 2.4 -5.3zM435.9 813.1a3.4 3.0 17 1 0 6.5 2.1a3.4 3.0 17 1 0 -6.5 -2.1zM470.5 813.1a3.2 2.7 167 1 0 -6.3 1.3a3.2 2.7 167 1 0 6.3 -1.3zM505.7 817.4a3.0 3.0 56 1 0 3.4 5.1a3.0 3.0 56 1 0 -3.4 -5.1zM470.5 826.7a2.8 2.5 120 1 0 -2.9 4.8a2.8 2.5 120 1 0 2.9 -4.8zM422.9 849.6a3.0 2.5 148 1 0 -5.0 3.1a3.0 2.5 148 1 0 5.0 -3.1zM487.6 851.2a3.2 3.2 171 1 0 -6.4 0.9a3.2 3.2 171 1 0 6.4 -0.9zM423.9 858.3a3.0 2.5 159 1 0 -5.6 2.1a3.0 2.5 159 1 0 5.6 -2.1zM403.4 880.5a3.2 3.0 113 1 0 -2.6 5.9a3.2 3.0 113 1 0 2.6 -5.9zM413.4 878.8a3.7 3.4 102 1 0 -1.6 7.2a3.7 3.4 102 1 0 1.6 -7.2zM439.7 880.1a3.6 3.2 59 1 0 3.7 6.2a3.6 3.2 59 1 0 -3.7 -6.2zM481.1 890.1a3.1 2.3 123 1 0 -3.5 5.2a3.1 2.3 123 1 0 3.5 -5.2zM501.3 889.7a2.7 2.1 135 1 0 -3.8 3.8a2.7 2.1 135 1 0 3.8 -3.8zM395.4 897.6a3.3 2.8 104 1 0 -1.6 6.5a3.3 2.8 104 1 0 1.6 -6.5zM494.2 900.4a2.9 2.4 6 1 0 5.7 0.6a2.9 2.4 6 1 0 -5.7 -0.6zM493.9 902.2a2.8 2.6 128 1 0 -3.4 4.3a2.8 2.6 128 1 0 3.4 -4.3zM396.1 944.8a3.3 2.6 8 1 0 6.5 0.9a3.3 2.6 8 1 0 -6.5 -0.9zM444.9 963.5a3.5 2.8 125 1 0 -4.0 5.7a3.5 2.8 125 1 0 4.0 -5.7zM450.8 990.8a3.3 2.6 12 1 0 6.4 1.4a3.3 2.6 12 1 0 -6.4 -1.4z"/>
<path fill="#b1c32c" d="M424.7 754.7a3.1 2.2 75 1 0 1.6 6.0a3.1 2.2 75 1 0 -1.6 -6.0zM436.4 778.9a3.7 2.8 158 1 0 -6.9 2.7a3.7 2.8 158 1 0 6.9 -2.7zM420.3 790.1a3.3 2.4 77 1 0 1.5 6.4a3.3 2.4 77 1 0 -1.5 -6.4zM438.2 796.2a3.0 2.3 5 1 0 6.0 0.6a3.0 2.3 5 1 0 -6.0 -0.6zM508.9 809.8a3.1 3.0 144 1 0 -5.1 3.6a3.1 3.0 144 1 0 5.1 -3.6zM410.0 828.6a2.7 1.9 167 1 0 -5.3 1.2a2.7 1.9 167 1 0 5.3 -1.2zM433.7 828.0a2.7 2.3 109 1 0 -1.8 5.0a2.7 2.3 109 1 0 1.8 -5.0zM446.4 861.0a3.0 2.2 45 1 0 4.1 4.3a3.0 2.2 45 1 0 -4.1 -4.3zM480.5 859.5a3.5 2.6 5 1 0 6.9 0.7a3.5 2.6 5 1 0 -6.9 -0.7zM389.3 870.8a3.3 3.1 39 1 0 5.1 4.2a3.3 3.1 39 1 0 -5.1 -4.2zM421.5 866.4a3.0 2.3 115 1 0 -2.5 5.4a3.0 2.3 115 1 0 2.5 -5.4zM475.9 881.6a3.4 3.2 28 1 0 5.9 3.2a3.4 3.2 28 1 0 -5.9 -3.2zM489.5 892.3a3.4 2.6 127 1 0 -4.1 5.3a3.4 2.6 127 1 0 4.1 -5.3zM467.7 926.9a3.2 2.7 155 1 0 -5.8 2.7a3.2 2.7 155 1 0 5.8 -2.7zM478.2 951.3a3.5 2.9 119 1 0 -3.4 6.1a3.5 2.9 119 1 0 3.4 -6.1zM434.1 955.2a3.3 3.2 90 1 0 -0.1 6.7a3.3 3.2 90 1 0 0.1 -6.7zM409.4 979.9a2.6 2.4 155 1 0 -4.8 2.1a2.6 2.4 155 1 0 4.8 -2.1z"/>
<path fill="#cd8923" d="M456.4 757.0a2.6 2.2 148 1 0 -4.5 2.7a2.6 2.2 148 1 0 4.5 -2.7zM471.9 756.2a2.7 2.4 117 1 0 -2.5 4.8a2.7 2.4 117 1 0 2.5 -4.8zM512.5 774.1a3.4 3.2 173 1 0 -6.7 0.8a3.4 3.2 173 1 0 6.7 -0.8zM507.7 782.7a2.6 2.1 44 1 0 3.7 3.7a2.6 2.1 44 1 0 -3.7 -3.7zM442.1 784.3a3.1 2.7 125 1 0 -3.6 5.1a3.1 2.7 125 1 0 3.6 -5.1zM468.0 784.9a2.8 2.2 40 1 0 4.3 3.6a2.8 2.2 40 1 0 -4.3 -3.6zM470.0 792.0a3.3 3.1 102 1 0 -1.4 6.5a3.3 3.1 102 1 0 1.4 -6.5zM492.8 815.2a3.2 2.9 1 1 0 6.4 0.1a3.2 2.9 1 1 0 -6.4 -0.1zM494.2 835.9a3.0 2.8 61 1 0 2.8 5.2a3.0 2.8 61 1 0 -2.8 -5.2zM456.1 855.6a2.7 2.3 69 1 0 1.9 5.1a2.7 2.3 69 1 0 -1.9 -5.1zM393.8 879.8a3.2 2.8 118 1 0 -3.0 5.7a3.2 2.8 118 1 0 3.0 -5.7zM430.8 872.1a3.5 3.2 85 1 0 0.5 7.0a3.5 3.2 85 1 0 -0.5 -7.0zM451.4 877.7a3.6 2.7 88 1 0 0.2 7.1a3.6 2.7 88 1 0 -0.2 -7.1zM480.3 900.6a3.3 3.2 174 1 0 -6.7 0.6a3.3 3.2 174 1 0 6.7 -0.6zM411.4 918.3a3.0 2.5 4 1 0 6.0 0.4a3.0 2.5 4 1 0 -6.0 -0.4zM481.0 917.1a2.9 2.9 104 1 0 -1.5 5.7a2.9 2.9 104 1 0 1.5 -5.7zM407.8 953.1a3.5 3.1 11 1 0 6.9 1.4a3.5 3.1 11 1 0 -6.9 -1.4zM415.5 962.7a3.0 2.6 152 1 0 -5.4 2.8a3.0 2.6 152 1 0 5.4 -2.8zM421.3 960.9a3.3 3.2 23 1 0 6.0 2.6a3.3 3.2 23 1 0 -6.0 -2.6zM472.8 963.0a3.1 3.1 155 1 0 -5.7 2.6a3.1 3.1 155 1 0 5.7 -2.6zM429.0 995.2a3.3 3.2 100 1 0 -1.2 6.5a3.3 3.2 100 1 0 1.2 -6.5zM420.0 1004.4a3.2 2.3 85 1 0 0.5 6.3a3.2 2.3 85 1 0 -0.5 -6.3zM433.8 1005.4a2.8 2.5 22 1 0 5.1 2.1a2.8 2.5 22 1 0 -5.1 -2.1z"/>
<path fill="#cd6725" d="M466.5 753.1a3.0 3.0 145 1 0 -5.0 3.4a3.0 3.0 145 1 0 5.0 -3.4zM462.4 779.1a3.6 3.0 119 1 0 -3.5 6.3a3.6 3.0 119 1 0 3.5 -6.3zM404.6 907.2a3.2 2.6 82 1 0 0.9 6.4a3.2 2.6 82 1 0 -0.9 -6.4zM453.1 959.8a3.6 3.2 79 1 0 1.3 7.1a3.6 3.2 79 1 0 -1.3 -7.1zM411.2 969.9a3.1 2.7 47 1 0 4.2 4.5a3.1 2.7 47 1 0 -4.2 -4.5zM420.4 989.2a3.5 2.9 165 1 0 -6.8 1.8a3.5 2.9 165 1 0 6.8 -1.8zM445.1 989.6a3.5 2.9 45 1 0 4.9 5.1a3.5 2.9 45 1 0 -4.9 -5.1z"/>
<path fill="#6fb539" d="M484.4 757.2a3.1 2.8 150 1 0 -5.4 3.0a3.1 2.8 150 1 0 5.4 -3.0zM392.2 862.5a2.6 2.5 54 1 0 3.0 4.3a2.6 2.5 54 1 0 -3.0 -4.3zM449.8 869.5a3.4 3.3 149 1 0 -5.8 3.4a3.4 3.3 149 1 0 5.8 -3.4zM502.2 864.2a3.4 2.5 96 1 0 -0.8 6.7a3.4 2.5 96 1 0 0.8 -6.7z"/>
<path fill="#c9b726" d="M502.1 749.4a3.2 3.2 116 1 0 -2.9 5.8a3.2 3.2 116 1 0 2.9 -5.8zM451.2 773.2a3.1 2.8 93 1 0 -0.4 6.3a3.1 2.8 93 1 0 0.4 -6.3zM504.0 769.7a3.2 2.9 160 1 0 -6.0 2.1a3.2 2.9 160 1 0 6.0 -2.1zM398.4 809.6a3.4 2.7 45 1 0 4.7 4.8a3.4 2.7 45 1 0 -4.7 -4.8zM466.5 803.4a2.8 2.7 16 1 0 5.4 1.6a2.8 2.7 16 1 0 -5.4 -1.6zM463.2 818.7a3.7 3.5 135 1 0 -5.3 5.2a3.7 3.5 135 1 0 5.3 -5.2zM489.0 821.8a3.4 2.6 101 1 0 -1.4 6.7a3.4 2.6 101 1 0 1.4 -6.7zM496.1 825.9a2.9 2.5 92 1 0 -0.3 5.8a2.9 2.5 92 1 0 0.3 -5.8zM452.0 831.9a3.7 3.6 103 1 0 -1.7 7.2a3.7 3.6 103 1 0 1.7 -7.2zM507.9 829.7a3.1 2.2 129 1 0 -3.9 4.7a3.1 2.2 129 1 0 3.9 -4.7zM416.5 843.8a3.3 3.2 134 1 0 -4.7 4.7a3.3 3.2 134 1 0 4.7 -4.7zM421.3 840.1a3.2 3.0 56 1 0 3.5 5.3a3.2 3.0 56 1 0 -3.5 -5.3zM464.5 846.3a2.9 2.5 37 1 0 4.7 3.5a2.9 2.5 37 1 0 -4.7 -3.5zM457.6 846.3a2.7 2.4 73 1 0 1.5 5.3a2.7 2.4 73 1 0 -1.5 -5.3zM477.1 855.4a3.5 3.4 131 1 0 -4.6 5.2a3.5 3.4 131 1 0 4.6 -5.2zM464.5 863.9a2.9 2.8 42 1 0 4.4 4.0a2.9 2.8 42 1 0 -4.4 -4.0zM489.0 863.0a2.7 2.2 13 1 0 5.2 1.2a2.7 2.2 13 1 0 -5.2 -1.2zM409.4 889.9a3.6 3.0 37 1 0 5.7 4.4a3.6 3.0 37 1 0 -5.7 -4.4zM418.1 885.7a2.7 2.2 6 1 0 5.3 0.6a2.7 2.2 6 1 0 -5.3 -0.6zM428.6 884.1a3.4 2.5 22 1 0 6.2 2.5a3.4 2.5 22 1 0 -6.2 -2.5zM466.6 900.1a3.1 2.9 14 1 0 6.0 1.6a3.1 2.9 14 1 0 -6.0 -1.6zM395.0 906.2a3.3 3.2 85 1 0 0.5 6.5a3.3 3.2 85 1 0 -0.5 -6.5zM430.1 918.9a2.8 2.6 45 1 0 4.0 4.0a2.8 2.6 45 1 0 -4.0 -4.0zM460.1 957.0a3.3 3.0 66 1 0 2.6 6.1a3.3 3.0 66 1 0 -2.6 -6.1zM424.5 978.9a3.4 2.5 28 1 0 6.0 3.3a3.4 2.5 28 1 0 -6.0 -3.3zM444.3 981.6a2.6 2.2 99 1 0 -0.9 5.2a2.6 2.2 99 1 0 0.9 -5.2z"/>
<path fill="#cba924" d="M508.6 754.1a3.4 3.2 57 1 0 3.7 5.7a3.4 3.2 57 1 0 -3.7 -5.7zM459.2 764.7a2.7 2.6 16 1 0 5.2 1.5a2.7 2.6 16 1 0 -5.2 -1.5zM483.0 762.8a3.6 3.6 114 1 0 -3.0 6.6a3.6 3.6 114 1 0 3.0 -6.6zM444.0 775.7a2.6 2.2 139 1 0 -4.0 3.4a2.6 2.2 139 1 0 4.0 -3.4zM405.0 800.6a3.6 3.0 163 1 0 -6.9 2.1a3.6 3.0 163 1 0 6.9 -2.1zM458.4 827.2a3.1 2.6 80 1 0 1.0 6.1a3.1 2.6 80 1 0 -1.0 -6.1zM458.9 836.7a3.0 2.2 92 1 0 -0.2 6.0a3.0 2.2 92 1 0 0.2 -6.0zM492.7 846.0a2.6 2.6 17 1 0 5.0 1.6a2.6 2.6 17 1 0 -5.0 -1.6zM464.7 854.3a3.6 3.1 39 1 0 5.5 4.5a3.6 3.1 39 1 0 -5.5 -4.5zM409.5 861.7a2.7 2.6 41 1 0 4.0 3.6a2.7 2.6 41 1 0 -4.0 -3.6zM439.9 864.0a3.0 2.4 121 1 0 -3.2 5.1a3.0 2.4 121 1 0 3.2 -5.1zM475.6 872.0a3.2 3.0 129 1 0 -4.1 4.8a3.2 3.0 129 1 0 4.1 -4.8zM465.8 899.8a2.7 2.1 119 1 0 -2.6 4.7a2.7 2.1 119 1 0 2.6 -4.7zM456.9 942.1a3.2 2.9 14 1 0 6.2 1.6a3.2 2.9 14 1 0 -6.2 -1.6zM404.9 961.5a2.7 2.1 132 1 0 -3.7 3.9a2.7 2.1 132 1 0 3.7 -3.9zM403.1 970.7a2.7 2.3 54 1 0 3.1 4.4a2.7 2.3 54 1 0 -3.1 -4.4zM429.6 966.0a3.3 2.6 16 1 0 6.3 1.9a3.3 2.6 16 1 0 -6.3 -1.9zM434.6 974.3a3.5 2.6 36 1 0 5.7 4.2a3.5 2.6 36 1 0 -5.7 -4.2zM465.6 976.4a2.8 2.3 48 1 0 3.7 4.2a2.8 2.3 48 1 0 -3.7 -4.2zM440.0 1001.6a3.5 2.8 33 1 0 5.8 3.8a3.5 2.8 33 1 0 -5.8 -3.8z"/>
<path fill="#a5c12f" d="M405.3 763.3a3.1 2.4 95 1 0 -0.6 6.2a3.1 2.4 95 1 0 0.6 -6.2zM451.9 781.9a2.6 2.4 96 1 0 -0.6 5.2a2.6 2.4 96 1 0 0.6 -5.2zM510.1 790.0a2.8 2.3 131 1 0 -3.6 4.1a2.8 2.3 131 1 0 3.6 -4.1zM481.8 801.4a3.2 2.5 152 1 0 -5.6 2.9a3.2 2.5 152 1 0 5.6 -2.9zM510.8 801.2a3.2 2.6 179 1 0 -6.4 0.0a3.2 2.6 179 1 0 6.4 -0.0zM430.0 803.7a3.0 2.2 130 1 0 -3.9 4.5a3.0 2.2 130 1 0 3.9 -4.5zM443.8 828.3a2.6 2.1 104 1 0 -1.3 5.0a2.6 2.1 104 1 0 1.3 -5.0zM449.3 825.2a2.7 2.5 46 1 0 3.7 3.9a2.7 2.5 46 1 0 -3.7 -3.9zM426.8 833.0a3.4 3.3 168 1 0 -6.6 1.3a3.4 3.3 168 1 0 6.6 -1.3zM467.4 836.9a2.9 2.6 30 1 0 5.0 2.9a2.9 2.6 30 1 0 -5.0 -2.9zM401.7 847.5a3.3 3.3 4 1 0 6.5 0.5a3.3 3.3 4 1 0 -6.5 -0.5z"/>
<path fill="#5ab13d" d="M415.1 763.9a3.1 2.7 105 1 0 -1.6 5.9a3.1 2.7 105 1 0 1.6 -5.9zM504.4 760.7a3.1 2.6 170 1 0 -6.2 1.0a3.1 2.6 170 1 0 6.2 -1.0zM475.6 836.6a3.1 2.4 61 1 0 3.0 5.5a3.1 2.4 61 1 0 -3.0 -5.5zM436.4 846.9a3.2 2.9 9 1 0 6.3 1.0a3.2 2.9 9 1 0 -6.3 -1.0zM502.1 855.4a3.5 3.5 92 1 0 -0.3 7.0a3.5 3.5 92 1 0 0.3 -7.0z"/>
<path fill="#c53e21" d="M490.9 764.5a3.1 2.5 109 1 0 -2.0 5.8a3.1 2.5 109 1 0 2.0 -5.8zM404.6 872.6a3.4 2.6 151 1 0 -5.9 3.3a3.4 2.6 151 1 0 5.9 -3.3zM438.4 900.0a2.9 2.2 13 1 0 5.6 1.3a2.9 2.2 13 1 0 -5.6 -1.3zM451.0 895.4a3.0 2.3 126 1 0 -3.5 4.7a3.0 2.3 126 1 0 3.5 -4.7zM439.6 916.1a3.6 2.6 40 1 0 5.4 4.7a3.6 2.6 40 1 0 -5.4 -4.7zM460.6 917.5a2.6 2.2 115 1 0 -2.3 4.8a2.6 2.2 115 1 0 2.3 -4.8zM419.2 934.8a2.8 2.1 157 1 0 -5.1 2.2a2.8 2.1 157 1 0 5.1 -2.2zM413.4 995.3a3.5 2.9 89 1 0 0.0 7.1a3.5 2.9 89 1 0 -0.0 -7.1zM420.3 995.2a3.4 3.3 67 1 0 2.6 6.3a3.4 3.3 67 1 0 -2.6 -6.3z"/>
<path fill="#c8c527" d="M406.5 773.7a3.3 3.1 147 1 0 -5.6 3.6a3.3 3.1 147 1 0 5.6 -3.6zM469.0 774.5a3.6 3.5 83 1 0 0.9 7.1a3.6 3.5 83 1 0 -0.9 -7.1zM445.2 810.2a3.5 3.1 21 1 0 6.4 2.5a3.5 3.1 21 1 0 -6.4 -2.5zM475.6 810.6a2.7 2.4 39 1 0 4.1 3.4a2.7 2.4 39 1 0 -4.1 -3.4zM434.0 820.5a2.7 2.5 67 1 0 2.0 5.0a2.7 2.5 67 1 0 -2.0 -5.0zM438.4 837.3a3.1 3.1 37 1 0 4.9 3.7a3.1 3.1 37 1 0 -4.9 -3.7zM478.7 846.6a3.4 2.5 142 1 0 -5.3 4.1a3.4 2.5 142 1 0 5.3 -4.1zM502.2 838.1a2.7 2.3 44 1 0 3.8 3.8a2.7 2.3 44 1 0 -3.8 -3.8zM407.7 871.4a3.3 2.4 56 1 0 3.7 5.5a3.3 2.4 56 1 0 -3.7 -5.5zM453.1 865.8a3.3 3.0 12 1 0 6.4 1.4a3.3 3.0 12 1 0 -6.4 -1.4zM462.5 872.0a3.5 3.2 68 1 0 2.5 6.5a3.5 3.2 68 1 0 -2.5 -6.5zM487.5 874.8a3.5 3.0 59 1 0 3.5 6.0a3.5 3.0 59 1 0 -3.5 -6.0zM434.4 892.5a3.2 3.0 147 1 0 -5.4 3.5a3.2 3.0 147 1 0 5.4 -3.5zM416.9 908.6a3.3 2.5 153 1 0 -6.0 3.0a3.3 2.5 153 1 0 6.0 -3.0zM473.8 906.2a3.3 2.6 100 1 0 -1.2 6.4a3.3 2.6 100 1 0 1.2 -6.4zM394.2 916.8a2.9 2.5 58 1 0 3.0 4.9a2.9 2.5 58 1 0 -3.0 -4.9zM408.1 917.5a3.5 3.1 166 1 0 -6.9 1.6a3.5 3.1 166 1 0 6.9 -1.6zM472.9 916.5a2.6 2.2 107 1 0 -1.6 5.0a2.6 2.2 107 1 0 1.6 -5.0zM399.5 934.2a2.6 2.5 107 1 0 -1.6 5.0a2.6 2.5 107 1 0 1.6 -5.0zM468.2 944.2a3.3 2.8 128 1 0 -4.0 5.1a3.3 2.8 128 1 0 4.0 -5.1zM451.2 969.8a2.7 2.3 122 1 0 -2.9 4.6a2.7 2.3 122 1 0 2.9 -4.6zM456.8 978.9a2.7 2.3 86 1 0 0.3 5.5a2.7 2.3 86 1 0 -0.3 -5.5zM464.0 983.8a3.2 3.0 87 1 0 0.2 6.4a3.2 3.0 87 1 0 -0.2 -6.4z"/>
<path fill="#cd9b23" d="M423.0 773.5a2.9 2.8 56 1 0 3.2 4.9a2.9 2.8 56 1 0 -3.2 -4.9zM461.0 769.6a3.4 2.6 93 1 0 -0.4 6.7a3.4 2.6 93 1 0 0.4 -6.7zM482.4 773.2a3.5 2.6 125 1 0 -4.1 5.8a3.5 2.6 125 1 0 4.1 -5.8zM443.0 804.9a3.3 3.2 170 1 0 -6.5 1.1a3.3 3.2 170 1 0 6.5 -1.1zM484.2 810.7a3.2 2.4 13 1 0 6.3 1.5a3.2 2.4 13 1 0 -6.3 -1.5zM456.2 815.6a3.6 3.1 45 1 0 5.0 5.1a3.6 3.1 45 1 0 -5.0 -5.1zM489.6 820.0a3.3 2.8 166 1 0 -6.5 1.6a3.3 2.8 166 1 0 6.5 -1.6zM491.1 832.9a3.5 2.8 168 1 0 -7.0 1.4a3.5 2.8 168 1 0 7.0 -1.4zM438.1 873.7a2.7 2.4 136 1 0 -4.0 3.7a2.7 2.4 136 1 0 4.0 -3.7zM458.7 872.9a3.1 2.6 79 1 0 1.1 6.1a3.1 2.6 79 1 0 -1.1 -6.1zM469.2 880.3a2.8 2.1 64 1 0 2.4 5.1a2.8 2.1 64 1 0 -2.4 -5.1zM497.1 880.2a2.9 2.6 34 1 0 4.9 3.3a2.9 2.6 34 1 0 -4.9 -3.3zM390.9 890.9a2.7 2.3 2 1 0 5.4 0.2a2.7 2.3 2 1 0 -5.4 -0.2zM402.7 888.9a2.8 2.2 123 1 0 -3.1 4.6a2.8 2.2 123 1 0 3.1 -4.6zM444.2 889.9a3.5 2.6 138 1 0 -5.3 4.7a3.5 2.6 138 1 0 5.3 -4.7zM485.9 884.5a3.1 2.5 46 1 0 4.2 4.5a3.1 2.5 46 1 0 -4.2 -4.5zM424.5 894.1a3.2 2.7 141 1 0 -5.1 4.1a3.2 2.7 141 1 0 5.1 -4.1zM482.0 909.1a2.7 2.6 50 1 0 3.4 4.1a2.7 2.6 50 1 0 -3.4 -4.1zM400.3 925.6a3.6 2.8 163 1 0 -6.8 2.0a3.6 2.8 163 1 0 6.8 -2.0zM448.8 922.5a3.5 2.9 79 1 0 1.2 6.9a3.5 2.9 79 1 0 -1.2 -6.9zM489.0 919.1a3.1 2.4 119 1 0 -3.0 5.4a3.1 2.4 119 1 0 3.0 -5.4zM477.5 944.0a3.1 3.0 26 1 0 5.6 2.8a3.1 3.0 26 1 0 -5.6 -2.8zM426.7 1003.3a3.6 2.7 91 1 0 -0.2 7.2a3.6 2.7 91 1 0 0.2 -7.2z"/>
<path fill="#ca5924" d="M474.1 766.4a3.4 3.2 156 1 0 -6.2 2.8a3.4 3.2 156 1 0 6.2 -2.8zM486.6 800.4a2.7 2.0 57 1 0 2.9 4.6a2.7 2.0 57 1 0 -2.9 -4.6zM406.2 898.7a2.6 2.2 139 1 0 -4.0 3.4a2.6 2.2 139 1 0 4.0 -3.4zM415.0 898.4a2.9 2.7 159 1 0 -5.5 2.0a2.9 2.7 159 1 0 5.5 -2.0zM435.7 901.4a2.8 2.8 140 1 0 -4.3 3.6a2.8 2.8 140 1 0 4.3 -3.6zM450.2 905.1a3.7 3.4 44 1 0 5.3 5.2a3.7 3.4 44 1 0 -5.3 -5.2zM440.5 924.4a3.3 3.0 61 1 0 3.2 5.9a3.3 3.0 61 1 0 -3.2 -5.9zM465.5 927.2a3.5 3.2 3 1 0 6.9 0.4a3.5 3.2 3 1 0 -6.9 -0.4zM423.5 930.5a2.7 2.2 22 1 0 5.0 2.1a2.7 2.2 22 1 0 -5.0 -2.1zM470.8 934.4a3.5 3.2 104 1 0 -1.7 6.9a3.5 3.2 104 1 0 1.7 -6.9zM400.9 952.3a3.0 2.3 55 1 0 3.4 4.9a3.0 2.3 55 1 0 -3.4 -4.9zM450.8 954.0a3.6 3.4 163 1 0 -7.0 2.1a3.6 3.4 163 1 0 7.0 -2.1zM425.5 972.2a3.0 2.8 173 1 0 -6.0 0.7a3.0 2.8 173 1 0 6.0 -0.7zM440.5 992.1a3.6 3.6 148 1 0 -6.2 3.8a3.6 3.6 148 1 0 6.2 -3.8z"/>
<path fill="#85ba35" d="M485.9 776.2a3.4 2.6 8 1 0 6.8 1.1a3.4 2.6 8 1 0 -6.8 -1.1zM503.2 778.9a2.8 2.3 172 1 0 -5.5 0.8a2.8 2.3 172 1 0 5.5 -0.8zM410.4 793.3a2.7 2.3 1 1 0 5.5 0.1a2.7 2.3 1 1 0 -5.5 -0.1zM413.1 798.5a3.2 2.3 113 1 0 -2.6 5.9a3.2 2.3 113 1 0 2.6 -5.9zM407.8 817.3a3.3 3.1 81 1 0 1.0 6.6a3.3 3.1 81 1 0 -1.0 -6.6zM476.0 829.7a3.0 2.7 4 1 0 5.9 0.4a3.0 2.7 4 1 0 -5.9 -0.4zM430.2 845.7a2.8 2.2 90 1 0 -0.1 5.5a2.8 2.2 90 1 0 0.1 -5.5zM426.2 855.4a3.0 2.3 39 1 0 4.6 3.9a3.0 2.3 39 1 0 -4.6 -3.9z"/>
<path fill="#2ca869" d="M419.6 782.2a3.2 2.6 24 1 0 5.8 2.7a3.2 2.6 24 1 0 -5.8 -2.7z"/>
<path fill="#cd7824" d="M475.1 792.9a3.7 3.5 16 1 0 7.0 2.0a3.7 3.5 16 1 0 -7.0 -2.0zM500.2 803.6a3.5 3.3 116 1 0 -3.1 6.2a3.5 3.3 116 1 0 3.1 -6.2zM502.0 845.9a2.9 2.4 86 1 0 0.4 5.8a2.9 2.4 86 1 0 -0.4 -5.8zM484.4 866.5a2.9 2.5 137 1 0 -4.4 3.9a2.9 2.5 137 1 0 4.4 -3.9zM490.7 870.0a3.3 3.0 78 1 0 1.3 6.4a3.3 3.0 78 1 0 -1.3 -6.4zM458.9 881.8a3.1 2.8 85 1 0 0.5 6.1a3.1 2.8 85 1 0 -0.5 -6.1zM474.1 927.5a3.4 2.6 29 1 0 5.9 3.3a3.4 2.6 29 1 0 -5.9 -3.3zM455.5 931.4a3.2 3.2 126 1 0 -3.9 5.2a3.2 3.2 126 1 0 3.9 -5.2zM487.0 936.7a3.6 3.3 165 1 0 -7.0 1.8a3.6 3.3 165 1 0 7.0 -1.8zM450.1 973.3a2.9 2.3 166 1 0 -5.6 1.3a2.9 2.3 166 1 0 5.6 -1.3z"/>
<path fill="#98be31" d="M419.2 799.8a3.4 2.8 59 1 0 3.5 5.8a3.4 2.8 59 1 0 -3.5 -5.8zM449.3 800.0a2.9 2.4 67 1 0 2.2 5.3a2.9 2.4 67 1 0 -2.2 -5.3zM398.3 826.9a3.2 2.5 92 1 0 -0.3 6.3a3.2 2.5 92 1 0 0.3 -6.3zM415.4 826.3a2.9 2.6 89 1 0 0.1 5.9a2.9 2.6 89 1 0 -0.1 -5.9zM425.5 821.2a3.1 2.3 95 1 0 -0.6 6.2a3.1 2.3 95 1 0 0.6 -6.2zM507.0 819.5a3.6 3.0 108 1 0 -2.3 6.8a3.6 3.0 108 1 0 2.3 -6.8zM399.1 836.0a3.0 2.2 121 1 0 -3.1 5.1a3.0 2.2 121 1 0 3.1 -5.1zM398.2 844.3a3.3 2.8 143 1 0 -5.3 3.9a3.3 2.8 143 1 0 5.3 -3.9zM404.3 853.1a3.0 2.4 109 1 0 -2.0 5.7a3.0 2.4 109 1 0 2.0 -5.7zM414.5 853.4a2.6 2.1 135 1 0 -3.8 3.7a2.6 2.1 135 1 0 3.8 -3.7zM431.9 866.5a2.7 2.4 166 1 0 -5.2 1.3a2.7 2.4 166 1 0 5.2 -1.3z"/>
<path fill="#c2311f" d="M456.3 809.1a2.7 2.4 10 1 0 5.3 1.0a2.7 2.4 10 1 0 -5.3 -1.0zM496.4 855.9a2.8 2.3 169 1 0 -5.6 1.0a2.8 2.3 169 1 0 5.6 -1.0zM425.0 902.3a2.6 1.9 80 1 0 0.8 5.1a2.6 1.9 80 1 0 -0.8 -5.1zM427.1 911.6a3.2 2.6 157 1 0 -5.9 2.4a3.2 2.6 157 1 0 5.9 -2.4zM413.6 925.4a2.7 2.0 41 1 0 4.1 3.6a2.7 2.0 41 1 0 -4.1 -3.6zM434.6 926.1a2.8 2.1 93 1 0 -0.4 5.6a2.8 2.1 93 1 0 0.4 -5.6zM447.7 943.2a3.1 2.2 82 1 0 0.8 6.1a3.1 2.2 82 1 0 -0.8 -6.1zM430.2 945.9a2.8 2.7 119 1 0 -2.7 4.9a2.8 2.7 119 1 0 2.7 -4.9zM434.5 947.1a3.5 2.7 16 1 0 6.6 2.0a3.5 2.7 16 1 0 -6.6 -2.0zM439.6 954.0a3.5 3.3 47 1 0 4.8 5.2a3.5 3.3 47 1 0 -4.8 -5.2zM410.0 986.1a3.3 2.6 117 1 0 -3.0 5.8a3.3 2.6 117 1 0 3.0 -5.8z"/>
<path fill="#2ea857" d="M397.5 816.8a3.0 2.3 70 1 0 2.0 5.6a3.0 2.3 70 1 0 -2.0 -5.6z"/>
<path fill="#30a846" d="M404.3 861.1a3.6 3.1 128 1 0 -4.5 5.7a3.6 3.1 128 1 0 4.5 -5.7z"/>
<path fill="#c0241e" d="M461.1 890.8a3.4 3.1 126 1 0 -4.0 5.5a3.4 3.1 126 1 0 4.0 -5.5zM405.2 923.8a2.8 2.8 81 1 0 0.9 5.6a2.8 2.8 81 1 0 -0.9 -5.6zM422.9 989.4a3.3 2.7 19 1 0 6.2 2.1a3.3 2.7 19 1 0 -6.2 -2.1z"/>
<path fill="#c84b23" d="M465.1 910.4a3.3 2.9 171 1 0 -6.6 1.0a3.3 2.9 171 1 0 6.6 -1.0zM424.1 920.1a3.1 2.6 119 1 0 -3.0 5.4a3.1 2.6 119 1 0 3.0 -5.4zM446.4 934.5a3.3 3.2 131 1 0 -4.4 4.9a3.3 3.2 131 1 0 4.4 -4.9zM426.9 938.2a2.8 2.1 47 1 0 3.8 4.1a2.8 2.1 47 1 0 -3.8 -4.1zM436.1 937.6a3.6 2.9 33 1 0 6.0 4.0a3.6 2.9 33 1 0 -6.0 -4.0z"/>
<path fill="#000" d="M439.7 890.3a1.6 1.6 0 1 0 3.1 0a1.6 1.6 0 1 0 -3.1 0zM441.4 1005.4a1.4 1.4 0 1 0 2.8 0a1.4 1.4 0 1 0 -2.8 0zM441.3 1006.7a1.4 1.4 0 1 0 2.8 0a1.4 1.4 0 1 0 -2.8 0zM489.2 817.4a0.8 0.8 0 1 0 1.7 0a0.8 0.8 0 1 0 -1.7 0zM394.1 906.3a2.4 2.4 0 1 0 4.8 0a2.4 2.4 0 1 0 -4.8 0zM392.3 905.6a2.0 2.0 0 1 0 4.1 0a2.0 2.0 0 1 0 -4.1 0zM446.8 810.6a1.1 1.1 0 1 0 2.1 0a1.1 1.1 0 1 0 -2.1 0zM448.9 810.9a0.9 0.9 0 1 0 1.8 0a0.9 0.9 0 1 0 -1.8 0zM399.0 840.3a0.7 0.7 0 1 0 1.4 0a0.7 0.7 0 1 0 -1.4 0zM400.6 836.8a0.7 0.7 0 1 0 1.4 0a0.7 0.7 0 1 0 -1.4 0zM431.1 948.6a1.1 1.1 0 1 0 2.3 0a1.1 1.1 0 1 0 -2.3 0zM431.3 950.3a0.9 0.9 0 1 0 1.8 0a0.9 0.9 0 1 0 -1.8 0zM452.3 894.4a0.7 0.7 0 1 0 1.5 0a0.7 0.7 0 1 0 -1.5 0zM426.7 951.3a1.2 1.2 0 1 0 2.3 0a1.2 1.2 0 1 0 -2.3 0zM406.2 878.0a0.8 0.8 0 1 0 1.6 0a0.8 0.8 0 1 0 -1.6 0zM406.9 876.8a1.0 1.0 0 1 0 1.9 0a1.0 1.0 0 1 0 -1.9 0zM441.4 988.9a0.8 0.8 0 1 0 1.7 0a0.8 0.8 0 1 0 -1.7 0zM501.6 822.0a0.7 0.7 0 1 0 1.4 0a0.7 0.7 0 1 0 -1.4 0zM467.5 947.2a1.2 1.2 0 1 0 2.5 0a1.2 1.2 0 1 0 -2.5 0zM407.7 775.2a2.1 2.1 0 1 0 4.1 0a2.1 2.1 0 1 0 -4.1 0zM407.1 774.2a1.1 1.1 0 1 0 2.2 0a1.1 1.1 0 1 0 -2.2 0zM406.7 773.7a2.4 2.4 0 1 0 4.9 0a2.4 2.4 0 1 0 -4.9 0zM406.8 774.1a2.1 2.1 0 1 0 4.3 0a2.1 2.1 0 1 0 -4.3 0zM430.7 1000.6a0.9 0.9 0 1 0 1.7 0a0.9 0.9 0 1 0 -1.7 0zM432.7 999.4a1.5 1.5 0 1 0 2.9 0a1.5 1.5 0 1 0 -2.9 0zM488.0 802.6a1.0 1.0 0 1 0 2.0 0a1.0 1.0 0 1 0 -2.0 0zM455.1 979.6a2.3 2.3 0 1 0 4.6 0a2.3 2.3 0 1 0 -4.6 0zM454.4 980.1a0.6 0.6 0 1 0 1.2 0a0.6 0.6 0 1 0 -1.2 0zM445.5 908.7a1.2 1.2 0 1 0 2.4 0a1.2 1.2 0 1 0 -2.4 0zM446.4 910.4a1.2 1.2 0 1 0 2.5 0a1.2 1.2 0 1 0 -2.5 0zM477.8 900.9a1.2 1.2 0 1 0 2.3 0a1.2 1.2 0 1 0 -2.3 0zM431.4 749.8a1.6 1.6 0 1 0 3.1 0a1.6 1.6 0 1 0 -3.1 0zM430.3 749.9a0.8 0.8 0 1 0 1.5 0a0.8 0.8 0 1 0 -1.5 0zM410.1 807.1a1.2 1.2 0 1 0 2.4 0a1.2 1.2 0 1 0 -2.4 0zM401.5 786.9a1.0 1.0 0 1 0 2.1 0a1.0 1.0 0 1 0 -2.1 0zM445.9 801.7a0.9 0.9 0 1 0 1.7 0a0.9 0.9 0 1 0 -1.7 0zM471.2 971.7a1.5 1.5 0 1 0 3.0 0a1.5 1.5 0 1 0 -3.0 0zM468.6 972.7a2.3 2.3 0 1 0 4.5 0a2.3 2.3 0 1 0 -4.5 0zM435.0 945.2a1.5 1.5 0 1 0 3.0 0a1.5 1.5 0 1 0 -3.0 0zM433.9 945.6a0.9 0.9 0 1 0 1.8 0a0.9 0.9 0 1 0 -1.8 0zM452.3 759.4a1.4 1.4 0 1 0 2.7 0a1.4 1.4 0 1 0 -2.7 0zM450.7 760.2a1.7 1.7 0 1 0 3.5 0a1.7 1.7 0 1 0 -3.5 0zM449.8 760.9a0.9 0.9 0 1 0 1.7 0a0.9 0.9 0 1 0 -1.7 0zM411.1 830.9a0.7 0.7 0 1 0 1.3 0a0.7 0.7 0 1 0 -1.3 0zM459.8 980.9a2.5 2.5 0 1 0 4.9 0a2.5 2.5 0 1 0 -4.9 0zM416.3 779.5a0.7 0.7 0 1 0 1.4 0a0.7 0.7 0 1 0 -1.4 0zM410.7 776.6a1.1 1.1 0 1 0 2.2 0a1.1 1.1 0 1 0 -2.2 0zM409.6 775.6a1.5 1.5 0 1 0 2.9 0a1.5 1.5 0 1 0 -2.9 0zM456.5 811.4a1.3 1.3 0 1 0 2.6 0a1.3 1.3 0 1 0 -2.6 0zM456.1 814.0a1.1 1.1 0 1 0 2.1 0a1.1 1.1 0 1 0 -2.1 0zM390.8 848.3a1.5 1.5 0 1 0 3.0 0a1.5 1.5 0 1 0 -3.0 0zM393.6 848.3a1.5 1.5 0 1 0 3.1 0a1.5 1.5 0 1 0 -3.1 0zM391.6 897.0a1.0 1.0 0 1 0 2.0 0a1.0 1.0 0 1 0 -2.0 0zM394.7 900.0a1.5 1.5 0 1 0 3.0 0a1.5 1.5 0 1 0 -3.0 0zM443.8 840.6a1.5 1.5 0 1 0 3.1 0a1.5 1.5 0 1 0 -3.1 0zM443.6 839.7a0.9 0.9 0 1 0 1.7 0a0.9 0.9 0 1 0 -1.7 0zM472.4 895.8a1.5 1.5 0 1 0 3.1 0a1.5 1.5 0 1 0 -3.1 0zM473.0 866.1a1.8 1.8 0 1 0 3.5 0a1.8 1.8 0 1 0 -3.5 0zM471.4 868.0a1.1 1.1 0 1 0 2.3 0a1.1 1.1 0 1 0 -2.3 0zM472.7 867.1a2.5 2.5 0 1 0 5.0 0a2.5 2.5 0 1 0 -5.0 0zM467.8 840.2a1.0 1.0 0 1 0 2.1 0a1.0 1.0 0 1 0 -2.1 0zM469.9 840.2a0.6 0.6 0 1 0 1.2 0a0.6 0.6 0 1 0 -1.2 0zM412.0 790.5a1.2 1.2 0 1 0 2.3 0a1.2 1.2 0 1 0 -2.3 0zM414.2 790.6a0.8 0.8 0 1 0 1.6 0a0.8 0.8 0 1 0 -1.6 0zM479.9 838.5a0.9 0.9 0 1 0 1.8 0a0.9 0.9 0 1 0 -1.8 0zM479.6 842.1a1.1 1.1 0 1 0 2.2 0a1.1 1.1 0 1 0 -2.2 0zM468.4 885.4a0.9 0.9 0 1 0 1.8 0a0.9 0.9 0 1 0 -1.8 0zM454.0 937.9a1.1 1.1 0 1 0 2.2 0a1.1 1.1 0 1 0 -2.2 0zM451.2 938.5a1.4 1.4 0 1 0 2.9 0a1.4 1.4 0 1 0 -2.9 0zM432.1 983.7a0.9 0.9 0 1 0 1.8 0a0.9 0.9 0 1 0 -1.8 0zM432.9 978.7a1.5 1.5 0 1 0 3.1 0a1.5 1.5 0 1 0 -3.1 0zM412.3 890.0a2.3 2.3 0 1 0 4.5 0a2.3 2.3 0 1 0 -4.5 0zM411.7 887.6a2.1 2.1 0 1 0 4.2 0a2.1 2.1 0 1 0 -4.2 0zM412.0 890.1a2.3 2.3 0 1 0 4.5 0a2.3 2.3 0 1 0 -4.5 0zM413.2 888.7a1.9 1.9 0 1 0 3.9 0a1.9 1.9 0 1 0 -3.9 0zM441.0 925.9a1.1 1.1 0 1 0 2.1 0a1.1 1.1 0 1 0 -2.1 0zM485.3 813.8a1.5 1.5 0 1 0 3.1 0a1.5 1.5 0 1 0 -3.1 0zM427.3 921.3a1.4 1.4 0 1 0 2.7 0a1.4 1.4 0 1 0 -2.7 0zM409.0 819.9a1.0 1.0 0 1 0 1.9 0a1.0 1.0 0 1 0 -1.9 0zM470.3 908.2a0.8 0.8 0 1 0 1.5 0a0.8 0.8 0 1 0 -1.5 0zM472.6 908.3a0.6 0.6 0 1 0 1.3 0a0.6 0.6 0 1 0 -1.3 0zM402.9 839.3a0.9 0.9 0 1 0 1.8 0a0.9 0.9 0 1 0 -1.8 0zM511.2 768.5a0.7 0.7 0 1 0 1.5 0a0.7 0.7 0 1 0 -1.5 0zM428.3 782.2a1.2 1.2 0 1 0 2.4 0a1.2 1.2 0 1 0 -2.4 0zM431.6 783.9a0.9 0.9 0 1 0 1.7 0a0.9 0.9 0 1 0 -1.7 0zM407.8 776.8a1.0 1.0 0 1 0 2.0 0a1.0 1.0 0 1 0 -2.0 0zM507.0 775.3a1.4 1.4 0 1 0 2.9 0a1.4 1.4 0 1 0 -2.9 0zM504.0 776.5a1.4 1.4 0 1 0 2.7 0a1.4 1.4 0 1 0 -2.7 0zM408.7 929.3a1.3 1.3 0 1 0 2.6 0a1.3 1.3 0 1 0 -2.6 0zM441.5 939.8a0.7 0.7 0 1 0 1.3 0a0.7 0.7 0 1 0 -1.3 0zM439.2 939.7a1.0 1.0 0 1 0 1.9 0a1.0 1.0 0 1 0 -1.9 0zM417.1 895.0a0.9 0.9 0 1 0 1.8 0a0.9 0.9 0 1 0 -1.8 0zM414.6 895.5a1.5 1.5 0 1 0 3.0 0a1.5 1.5 0 1 0 -3.0 0zM400.6 960.8a1.3 1.3 0 1 0 2.6 0a1.3 1.3 0 1 0 -2.6 0zM465.9 778.6a0.8 0.8 0 1 0 1.6 0a0.8 0.8 0 1 0 -1.6 0zM476.1 772.4a1.6 1.6 0 1 0 3.1 0a1.6 1.6 0 1 0 -3.1 0zM416.3 869.8a1.4 1.4 0 1 0 2.7 0a1.4 1.4 0 1 0 -2.7 0zM402.1 819.1a1.4 1.4 0 1 0 2.9 0a1.4 1.4 0 1 0 -2.9 0zM404.6 817.6a0.9 0.9 0 1 0 1.8 0a0.9 0.9 0 1 0 -1.8 0zM398.7 948.0a1.1 1.1 0 1 0 2.2 0a1.1 1.1 0 1 0 -2.2 0zM401.0 945.1a1.2 1.2 0 1 0 2.4 0a1.2 1.2 0 1 0 -2.4 0zM465.3 757.3a1.2 1.2 0 1 0 2.3 0a1.2 1.2 0 1 0 -2.3 0zM468.2 754.2a1.6 1.6 0 1 0 3.1 0a1.6 1.6 0 1 0 -3.1 0zM408.4 784.7a0.8 0.8 0 1 0 1.7 0a0.8 0.8 0 1 0 -1.7 0zM409.7 785.1a1.4 1.4 0 1 0 2.7 0a1.4 1.4 0 1 0 -2.7 0zM430.0 759.3a1.0 1.0 0 1 0 2.0 0a1.0 1.0 0 1 0 -2.0 0zM419.1 930.8a0.8 0.8 0 1 0 1.6 0a0.8 0.8 0 1 0 -1.6 0zM416.8 928.7a1.4 1.4 0 1 0 2.9 0a1.4 1.4 0 1 0 -2.9 0zM419.6 917.6a1.4 1.4 0 1 0 2.9 0a1.4 1.4 0 1 0 -2.9 0zM416.6 919.5a1.3 1.3 0 1 0 2.7 0a1.3 1.3 0 1 0 -2.7 0zM392.2 887.9a0.8 0.8 0 1 0 1.6 0a0.8 0.8 0 1 0 -1.6 0zM474.5 884.1a1.5 1.5 0 1 0 3.0 0a1.5 1.5 0 1 0 -3.0 0zM473.8 880.6a1.5 1.5 0 1 0 3.0 0a1.5 1.5 0 1 0 -3.0 0zM494.6 829.8a1.4 1.4 0 1 0 2.8 0a1.4 1.4 0 1 0 -2.8 0zM444.4 791.1a0.9 0.9 0 1 0 1.8 0a0.9 0.9 0 1 0 -1.8 0zM433.8 884.7a1.0 1.0 0 1 0 2.1 0a1.0 1.0 0 1 0 -2.1 0zM460.6 790.2a1.4 1.4 0 1 0 2.8 0a1.4 1.4 0 1 0 -2.8 0zM457.4 789.3a1.3 1.3 0 1 0 2.6 0a1.3 1.3 0 1 0 -2.6 0zM490.2 832.7a1.5 1.5 0 1 0 3.0 0a1.5 1.5 0 1 0 -3.0 0zM446.1 986.7a0.7 0.7 0 1 0 1.4 0a0.7 0.7 0 1 0 -1.4 0zM445.3 987.8a1.5 1.5 0 1 0 3.0 0a1.5 1.5 0 1 0 -3.0 0zM484.4 912.0a1.1 1.1 0 1 0 2.3 0a1.1 1.1 0 1 0 -2.3 0zM416.0 984.7a1.4 1.4 0 1 0 2.8 0a1.4 1.4 0 1 0 -2.8 0zM414.7 982.4a2.2 2.2 0 1 0 4.3 0a2.2 2.2 0 1 0 -4.3 0zM418.8 986.1a0.7 0.7 0 1 0 1.5 0a0.7 0.7 0 1 0 -1.5 0zM408.8 888.9a1.2 1.2 0 1 0 2.4 0a1.2 1.2 0 1 0 -2.4 0zM407.9 889.2a1.0 1.0 0 1 0 2.0 0a1.0 1.0 0 1 0 -2.0 0zM440.6 803.0a1.4 1.4 0 1 0 2.9 0a1.4 1.4 0 1 0 -2.9 0zM440.0 801.6a1.2 1.2 0 1 0 2.4 0a1.2 1.2 0 1 0 -2.4 0zM449.5 939.7a2.4 2.4 0 1 0 4.8 0a2.4 2.4 0 1 0 -4.8 0zM397.1 752.7a1.9 1.5 0 1 0 3.8 0a1.9 1.5 0 1 0 -3.8 0zM411.6 752.7a1.9 1.5 0 1 0 3.8 0a1.9 1.5 0 1 0 -3.8 0zM455.8 752.7a2.4 1.9 0 1 0 4.8 0a2.4 1.9 0 1 0 -4.8 0zM478.3 752.7a2.7 2.2 0 1 0 5.4 0a2.7 2.2 0 1 0 -5.4 0z"/>
<text x="8" y="1086" font-size="33" text-anchor="start" font-weight="bold" fill="#000" stroke="#000" stroke-width="1.5">g</text>
<text x="163.7" y="1060" font-size="25" text-anchor="middle" font-weight="normal" fill="#000" >Before</text>
<text x="301" y="1060" font-size="25" text-anchor="middle" font-weight="normal" fill="#000" >After</text>
<text x="449" y="1060" font-size="25" text-anchor="middle" font-weight="normal" fill="#000" >10 min</text>
<text x="166" y="1302.6" font-size="25" text-anchor="middle" font-weight="normal" fill="#000" >0 min</text>
<text x="299.4" y="1302.6" font-size="25" text-anchor="middle" font-weight="normal" fill="#000" >15 min</text>
<text x="446.6" y="1302.6" font-size="25" text-anchor="middle" font-weight="normal" fill="#000" >30 min</text>
<rect x="34" y="1122" width="14.8" height="276" fill="url(#cbv)"/>
<text x="26.6" y="1142.6" font-size="25" text-anchor="middle" font-weight="normal" fill="#000" transform="rotate(-90 26.6 1142.6)" >1.8</text>
<text x="26.6" y="1264" font-size="25" text-anchor="middle" font-weight="normal" fill="#000" transform="rotate(-90 26.6 1264)" >FRET ratio</text>
<text x="26.6" y="1377.5" font-size="25" text-anchor="middle" font-weight="normal" fill="#000" transform="rotate(-90 26.6 1377.5)" >0.2</text>
<text x="92" y="1168" font-size="25" text-anchor="middle" font-weight="normal" fill="#000" transform="rotate(-90 92 1168)" >1 h IAA</text>
<text x="92" y="1411" font-size="25" text-anchor="middle" font-weight="normal" fill="#000" transform="rotate(-90 92 1411)" >10 min IAA</text>
<rect x="517" y="1323" width="4.2" height="111.6" fill="#000"/>
<path fill="#cd9b23" d="M115.8 1075.3a3.2 2.7 147 1 0 -5.4 3.5a3.2 2.7 147 1 0 5.4 -3.5zM191.9 1076.3a3.5 3.2 1 1 0 6.9 0.2a3.5 3.2 1 1 0 -6.9 -0.2zM207.9 1087.0a2.7 2.2 100 1 0 -1.0 5.2a2.7 2.2 100 1 0 1.0 -5.2zM165.5 1112.3a2.9 2.9 118 1 0 -2.8 5.2a2.9 2.9 118 1 0 2.8 -5.2zM143.8 1134.4a2.9 2.2 18 1 0 5.4 1.8a2.9 2.2 18 1 0 -5.4 -1.8zM125.5 1145.7a2.8 2.2 42 1 0 4.2 3.8a2.8 2.2 42 1 0 -4.2 -3.8zM219.5 1153.6a3.6 2.7 79 1 0 1.3 7.1a3.6 2.7 79 1 0 -1.3 -7.1zM189.0 1167.4a3.4 2.4 102 1 0 -1.4 6.6a3.4 2.4 102 1 0 1.4 -6.6zM141.0 1207.6a3.0 2.3 124 1 0 -3.4 5.0a3.0 2.3 124 1 0 3.4 -5.0zM157.9 1202.5a2.6 2.3 97 1 0 -0.6 5.2a2.6 2.3 97 1 0 0.6 -5.2zM164.3 1206.9a2.8 2.5 67 1 0 2.1 5.2a2.8 2.5 67 1 0 -2.1 -5.2zM176.9 1212.2a3.6 3.3 165 1 0 -7.0 1.8a3.6 3.3 165 1 0 7.0 -1.8zM172.4 1218.2a2.9 2.2 162 1 0 -5.6 1.7a2.9 2.2 162 1 0 5.6 -1.7zM184.9 1217.5a3.7 2.8 5 1 0 7.3 0.7a3.7 2.8 5 1 0 -7.3 -0.7zM176.4 1224.9a3.4 2.9 110 1 0 -2.4 6.3a3.4 2.9 110 1 0 2.4 -6.3z"/>
<path fill="#98be31" d="M135.9 1077.2a3.3 2.6 165 1 0 -6.3 1.6a3.3 2.6 165 1 0 6.3 -1.6zM122.4 1091.3a2.9 2.3 42 1 0 4.3 3.9a2.9 2.3 42 1 0 -4.3 -3.9zM212.2 1098.6a3.1 2.9 162 1 0 -5.9 1.9a3.1 2.9 162 1 0 5.9 -1.9zM147.2 1107.4a3.6 3.3 165 1 0 -7.0 1.9a3.6 3.3 165 1 0 7.0 -1.9zM122.8 1119.2a2.7 2.4 26 1 0 4.8 2.3a2.7 2.4 26 1 0 -4.8 -2.3zM143.0 1114.2a3.5 2.7 66 1 0 2.7 6.3a3.5 2.7 66 1 0 -2.7 -6.3zM175.4 1115.6a3.2 2.6 119 1 0 -3.2 5.6a3.2 2.6 119 1 0 3.2 -5.6zM116.4 1158.7a2.7 2.3 4 1 0 5.3 0.5a2.7 2.3 4 1 0 -5.3 -0.5zM216.6 1161.3a3.4 3.3 17 1 0 6.4 2.1a3.4 3.3 17 1 0 -6.4 -2.1zM211.0 1174.2a3.2 2.8 179 1 0 -6.4 0.0a3.2 2.8 179 1 0 6.4 -0.0zM211.8 1208.6a2.8 2.3 149 1 0 -4.8 2.9a2.8 2.3 149 1 0 4.8 -2.9zM137.4 1218.7a3.6 3.0 6 1 0 7.1 0.8a3.6 3.0 6 1 0 -7.1 -0.8zM168.5 1253.3a3.2 3.0 98 1 0 -0.9 6.4a3.2 3.0 98 1 0 0.9 -6.4zM183.1 1252.6a2.7 2.3 31 1 0 4.6 2.9a2.7 2.3 31 1 0 -4.6 -2.9z"/>
<path fill="#c8c527" d="M149.0 1074.7a2.6 2.0 68 1 0 1.9 4.9a2.6 2.0 68 1 0 -1.9 -4.9zM111.8 1085.8a3.2 2.9 10 1 0 6.4 1.2a3.2 2.9 10 1 0 -6.4 -1.2zM187.1 1083.6a3.6 3.1 100 1 0 -1.3 7.1a3.6 3.1 100 1 0 1.3 -7.1zM173.6 1098.4a2.9 2.8 127 1 0 -3.5 4.6a2.9 2.8 127 1 0 3.5 -4.6zM222.5 1118.5a2.9 2.9 124 1 0 -3.3 4.9a2.9 2.9 124 1 0 3.3 -4.9zM208.8 1133.7a3.0 2.8 30 1 0 5.2 3.1a3.0 2.8 30 1 0 -5.2 -3.1zM158.1 1145.2a3.2 2.7 125 1 0 -3.7 5.1a3.2 2.7 125 1 0 3.7 -5.1zM172.4 1144.0a3.6 3.2 59 1 0 3.6 6.2a3.6 3.2 59 1 0 -3.6 -6.2zM184.5 1141.3a2.9 2.6 144 1 0 -4.7 3.3a2.9 2.6 144 1 0 4.7 -3.3zM162.0 1158.1a3.5 2.7 43 1 0 5.1 4.8a3.5 2.7 43 1 0 -5.1 -4.8zM144.3 1174.1a2.9 2.4 169 1 0 -5.8 1.0a2.9 2.4 169 1 0 5.8 -1.0zM134.5 1182.0a2.7 2.4 148 1 0 -4.6 2.7a2.7 2.4 148 1 0 4.6 -2.7zM186.0 1184.7a3.4 3.2 58 1 0 3.5 5.8a3.4 3.2 58 1 0 -3.5 -5.8zM146.9 1227.5a3.2 3.1 173 1 0 -6.4 0.7a3.2 3.1 173 1 0 6.4 -0.7zM158.5 1228.4a3.3 3.0 161 1 0 -6.3 2.1a3.3 3.0 161 1 0 6.3 -2.1zM155.9 1233.9a3.2 2.9 79 1 0 1.1 6.2a3.2 2.9 79 1 0 -1.1 -6.2zM151.7 1242.7a3.6 3.0 56 1 0 4.0 6.0a3.6 3.0 56 1 0 -4.0 -6.0z"/>
<path fill="#c9b726" d="M157.8 1077.9a2.8 2.3 46 1 0 3.9 4.0a2.8 2.3 46 1 0 -3.9 -4.0zM112.1 1094.6a2.9 2.3 32 1 0 4.9 3.1a2.9 2.3 32 1 0 -4.9 -3.1zM147.2 1094.6a3.5 3.3 7 1 0 7.0 0.9a3.5 3.3 7 1 0 -7.0 -0.9zM157.7 1096.1a2.9 2.4 5 1 0 5.8 0.6a2.9 2.4 5 1 0 -5.8 -0.6zM178.6 1086.1a3.6 3.1 71 1 0 2.3 6.9a3.6 3.1 71 1 0 -2.3 -6.9zM113.6 1104.0a3.1 2.5 18 1 0 5.9 1.9a3.1 2.5 18 1 0 -5.9 -1.9zM163.6 1105.8a3.0 2.7 155 1 0 -5.4 2.4a3.0 2.7 155 1 0 5.4 -2.4zM202.8 1102.3a3.2 2.6 162 1 0 -6.1 1.9a3.2 2.6 162 1 0 6.1 -1.9zM217.1 1111.8a3.3 3.1 14 1 0 6.4 1.6a3.3 3.1 14 1 0 -6.4 -1.6zM127.3 1126.3a3.3 2.6 120 1 0 -3.4 5.6a3.3 2.6 120 1 0 3.4 -5.6zM200.6 1127.4a3.1 2.9 56 1 0 3.5 5.2a3.1 2.9 56 1 0 -3.5 -5.2zM190.0 1139.6a3.4 3.3 45 1 0 4.8 4.9a3.4 3.3 45 1 0 -4.8 -4.9zM194.1 1149.5a3.1 2.4 140 1 0 -4.8 3.9a3.1 2.4 140 1 0 4.8 -3.9zM180.5 1149.1a3.3 2.7 52 1 0 4.0 5.2a3.3 2.7 52 1 0 -4.0 -5.2zM126.9 1165.6a3.3 3.3 14 1 0 6.5 1.6a3.3 3.3 14 1 0 -6.5 -1.6zM172.4 1166.7a3.4 3.3 144 1 0 -5.5 3.9a3.4 3.3 144 1 0 5.5 -3.9zM196.8 1191.5a3.0 2.6 74 1 0 1.6 5.7a3.0 2.6 74 1 0 -1.6 -5.7zM126.0 1200.0a3.5 2.9 92 1 0 -0.3 7.0a3.5 2.9 92 1 0 0.3 -7.0zM134.9 1200.4a2.7 2.4 1 1 0 5.4 0.2a2.7 2.4 1 1 0 -5.4 -0.2zM169.9 1233.1a3.5 3.5 178 1 0 -7.0 0.2a3.5 3.5 178 1 0 7.0 -0.2zM177.1 1245.0a3.0 2.6 31 1 0 5.0 3.1a3.0 2.6 31 1 0 -5.0 -3.1zM159.0 1252.4a2.7 2.4 112 1 0 -2.1 5.0a2.7 2.4 112 1 0 2.1 -5.0zM187.9 1263.5a2.7 2.5 173 1 0 -5.4 0.7a2.7 2.5 173 1 0 5.4 -0.7z"/>
<path fill="#ca5924" d="M166.0 1074.0a3.5 2.5 24 1 0 6.3 2.9a3.5 2.5 24 1 0 -6.3 -2.9zM179.1 1096.2a3.0 2.8 44 1 0 4.2 4.2a3.0 2.8 44 1 0 -4.2 -4.2zM184.0 1113.8a3.2 2.9 113 1 0 -2.6 5.8a3.2 2.9 113 1 0 2.6 -5.8zM184.2 1124.5a2.9 2.5 134 1 0 -4.0 4.1a2.9 2.5 134 1 0 4.0 -4.1zM163.2 1149.0a2.7 2.3 79 1 0 1.0 5.3a2.7 2.3 79 1 0 -1.0 -5.3z"/>
<path fill="#cd6725" d="M190.5 1079.3a3.5 2.6 177 1 0 -7.0 0.3a3.5 2.6 177 1 0 7.0 -0.3zM176.4 1153.2a2.8 2.6 128 1 0 -3.5 4.4a2.8 2.6 128 1 0 3.5 -4.4zM152.6 1170.0a2.9 2.7 170 1 0 -5.7 0.9a2.9 2.7 170 1 0 5.7 -0.9zM152.5 1184.8a3.5 3.3 125 1 0 -4.1 5.8a3.5 3.3 125 1 0 4.1 -5.8zM147.5 1200.0a2.9 2.4 112 1 0 -2.2 5.3a2.9 2.4 112 1 0 2.2 -5.3z"/>
<path fill="#bec62a" d="M206.4 1070.9a3.4 2.6 134 1 0 -4.8 4.9a3.4 2.6 134 1 0 4.8 -4.9zM123.2 1110.3a2.8 2.7 59 1 0 2.8 4.9a2.8 2.7 59 1 0 -2.8 -4.9zM194.1 1122.1a3.4 3.1 142 1 0 -5.4 4.2a3.4 3.1 142 1 0 5.4 -4.2zM202.3 1119.6a2.9 2.9 103 1 0 -1.4 5.7a2.9 2.9 103 1 0 1.4 -5.7zM137.8 1135.7a3.5 2.9 95 1 0 -0.7 7.0a3.5 2.9 95 1 0 0.7 -7.0zM179.1 1133.9a3.4 2.6 20 1 0 6.4 2.5a3.4 2.6 20 1 0 -6.4 -2.5zM134.7 1146.2a3.7 2.9 37 1 0 5.8 4.4a3.7 2.9 37 1 0 -5.8 -4.4zM222.6 1145.6a3.7 3.4 135 1 0 -5.2 5.2a3.7 3.4 135 1 0 5.2 -5.2zM193.7 1158.0a2.6 2.3 142 1 0 -4.2 3.2a2.6 2.3 142 1 0 4.2 -3.2zM181.4 1159.7a3.6 3.0 114 1 0 -3.0 6.5a3.6 3.0 114 1 0 3.0 -6.5zM122.6 1181.3a3.3 2.7 112 1 0 -2.6 6.1a3.3 2.7 112 1 0 2.6 -6.1zM157.5 1179.7a3.6 3.1 54 1 0 4.2 5.8a3.6 3.1 54 1 0 -4.2 -5.8zM126.3 1192.0a2.9 2.7 157 1 0 -5.3 2.2a2.9 2.7 157 1 0 5.3 -2.2zM181.9 1188.0a3.6 2.9 149 1 0 -6.2 3.7a3.6 2.9 149 1 0 6.2 -3.7zM198.2 1211.5a3.6 3.1 33 1 0 6.0 3.9a3.6 3.1 33 1 0 -6.0 -3.9zM182.7 1221.2a3.1 2.3 176 1 0 -6.1 0.4a3.1 2.3 176 1 0 6.1 -0.4zM134.8 1227.4a2.9 2.2 67 1 0 2.3 5.4a2.9 2.2 67 1 0 -2.3 -5.4z"/>
<path fill="#cba924" d="M211.8 1073.1a3.1 2.8 62 1 0 2.9 5.5a3.1 2.8 62 1 0 -2.9 -5.5zM217.8 1083.0a3.6 3.1 121 1 0 -3.8 6.2a3.6 3.1 121 1 0 3.8 -6.2zM146.7 1089.7a3.2 2.6 166 1 0 -6.1 1.5a3.2 2.6 166 1 0 6.1 -1.5zM219.6 1101.7a3.0 2.2 150 1 0 -5.2 2.9a3.0 2.2 150 1 0 5.2 -2.9zM170.5 1106.5a3.6 3.2 59 1 0 3.7 6.3a3.6 3.2 59 1 0 -3.7 -6.3zM164.0 1119.5a3.7 3.6 78 1 0 1.5 7.2a3.7 3.6 78 1 0 -1.5 -7.2zM136.3 1127.6a2.8 2.4 100 1 0 -1.0 5.6a2.8 2.4 100 1 0 1.0 -5.6zM146.5 1121.9a3.6 3.0 116 1 0 -3.2 6.5a3.6 3.0 116 1 0 3.2 -6.5zM123.0 1139.1a3.3 2.6 1 1 0 6.6 0.1a3.3 2.6 1 1 0 -6.6 -0.1zM122.5 1148.6a2.9 2.1 167 1 0 -5.7 1.3a2.9 2.1 167 1 0 5.7 -1.3zM208.3 1150.0a3.2 2.7 56 1 0 3.5 5.4a3.2 2.7 56 1 0 -3.5 -5.4zM209.7 1161.7a3.5 3.3 106 1 0 -2.0 6.8a3.5 3.3 106 1 0 2.0 -6.8zM122.2 1173.7a3.1 2.3 112 1 0 -2.4 5.8a3.1 2.3 112 1 0 2.4 -5.8zM163.6 1172.3a3.3 2.8 136 1 0 -4.9 4.6a3.3 2.8 136 1 0 4.9 -4.6zM215.7 1169.7a3.4 3.2 7 1 0 6.8 0.8a3.4 3.2 7 1 0 -6.8 -0.8zM161.8 1189.5a3.3 2.7 92 1 0 -0.3 6.6a3.3 2.7 92 1 0 0.3 -6.6zM155.0 1195.1a2.7 2.6 89 1 0 0.1 5.4a2.7 2.6 89 1 0 -0.1 -5.4zM133.4 1218.0a3.6 3.5 110 1 0 -2.6 6.8a3.6 3.5 110 1 0 2.6 -6.8zM186.5 1228.3a3.3 2.8 140 1 0 -5.2 4.2a3.3 2.8 140 1 0 5.2 -4.2z"/>
<path fill="#a5c12f" d="M127.5 1084.9a3.1 3.0 169 1 0 -6.0 1.1a3.1 3.0 169 1 0 6.0 -1.1zM205.9 1078.0a3.7 2.8 109 1 0 -2.5 7.0a3.7 2.8 109 1 0 2.5 -7.0zM118.5 1119.0a3.4 2.9 109 1 0 -2.2 6.4a3.4 2.9 109 1 0 2.2 -6.4zM171.3 1125.1a3.0 2.8 54 1 0 3.6 4.9a3.0 2.8 54 1 0 -3.6 -4.9zM194.3 1129.1a3.5 2.6 128 1 0 -4.4 5.6a3.5 2.6 128 1 0 4.4 -5.6zM125.1 1154.6a3.5 2.6 41 1 0 5.3 4.6a3.5 2.6 41 1 0 -5.3 -4.6zM197.6 1156.9a3.7 3.5 19 1 0 6.9 2.4a3.7 3.5 19 1 0 -6.9 -2.4zM147.2 1159.5a3.0 2.7 24 1 0 5.6 2.5a3.0 2.7 24 1 0 -5.6 -2.5zM201.7 1184.4a3.0 2.4 145 1 0 -4.9 3.3a3.0 2.4 145 1 0 4.9 -3.3zM172.2 1192.1a3.7 3.4 138 1 0 -5.5 4.9a3.7 3.4 138 1 0 5.5 -4.9zM133.0 1211.9a2.7 2.6 176 1 0 -5.5 0.3a2.7 2.6 176 1 0 5.5 -0.3zM196.1 1204.2a3.5 2.9 142 1 0 -5.6 4.3a3.5 2.9 142 1 0 5.6 -4.3zM204.9 1219.9a3.2 2.4 32 1 0 5.5 3.5a3.2 2.4 32 1 0 -5.5 -3.5zM193.6 1232.4a3.5 2.8 105 1 0 -1.9 6.6a3.5 2.8 105 1 0 1.9 -6.6zM163.2 1244.6a2.7 2.6 94 1 0 -0.4 5.4a2.7 2.6 94 1 0 0.4 -5.4zM194.7 1243.1a3.3 2.7 21 1 0 6.2 2.4a3.3 2.7 21 1 0 -6.2 -2.4z"/>
<path fill="#85ba35" d="M136.5 1085.0a3.2 2.9 167 1 0 -6.2 1.4a3.2 2.9 167 1 0 6.2 -1.4zM130.0 1191.9a2.6 2.0 17 1 0 5.0 1.6a2.6 2.0 17 1 0 -5.0 -1.6zM144.4 1190.8a3.7 3.4 138 1 0 -5.4 4.9a3.7 3.4 138 1 0 5.4 -4.9zM196.5 1193.4a3.4 2.9 121 1 0 -3.6 5.8a3.4 2.9 121 1 0 3.6 -5.8zM198.3 1211.4a3.5 2.9 93 1 0 -0.4 7.0a3.5 2.9 93 1 0 0.4 -7.0zM193.6 1224.4a2.8 2.3 67 1 0 2.1 5.1a2.8 2.3 67 1 0 -2.1 -5.1zM189.3 1245.5a3.2 2.9 123 1 0 -3.5 5.3a3.2 2.9 123 1 0 3.5 -5.3zM190.9 1255.3a3.1 2.8 43 1 0 4.6 4.3a3.1 2.8 43 1 0 -4.6 -4.3z"/>
<path fill="#5ab13d" d="M137.9 1080.9a2.9 2.5 5 1 0 5.7 0.5a2.9 2.5 5 1 0 -5.7 -0.5zM222.5 1127.9a2.7 2.3 130 1 0 -3.4 4.0a2.7 2.3 130 1 0 3.4 -4.0zM194.9 1174.6a3.6 3.3 29 1 0 6.3 3.5a3.6 3.3 29 1 0 -6.3 -3.5zM203.8 1192.1a3.6 3.5 3 1 0 7.3 0.4a3.6 3.5 3 1 0 -7.3 -0.4z"/>
<path fill="#cd8923" d="M151.3 1082.8a2.6 2.0 75 1 0 1.3 5.1a2.6 2.0 75 1 0 -1.3 -5.1zM157.5 1087.7a3.1 3.0 5 1 0 6.1 0.6a3.1 3.0 5 1 0 -6.1 -0.6zM140.6 1099.4a3.6 2.6 1 1 0 7.2 0.2a3.6 2.6 1 1 0 -7.2 -0.2zM154.8 1099.9a3.6 2.7 139 1 0 -5.4 4.7a3.6 2.7 139 1 0 5.4 -4.7zM187.7 1103.2a3.6 2.6 38 1 0 5.6 4.4a3.6 2.6 38 1 0 -5.6 -4.4zM134.1 1119.8a3.1 2.7 62 1 0 2.9 5.5a3.1 2.7 62 1 0 -2.9 -5.5zM151.4 1130.1a3.5 3.4 8 1 0 6.9 1.0a3.5 3.4 8 1 0 -6.9 -1.0zM144.5 1142.7a2.6 2.6 19 1 0 4.9 1.7a2.6 2.6 19 1 0 -4.9 -1.7zM143.5 1150.7a3.0 2.2 9 1 0 5.9 1.0a3.0 2.2 9 1 0 -5.9 -1.0zM130.6 1171.8a3.3 2.5 79 1 0 1.2 6.4a3.3 2.5 79 1 0 -1.2 -6.4zM141.1 1181.2a2.9 2.6 72 1 0 1.7 5.5a2.9 2.6 72 1 0 -1.7 -5.5zM144.9 1209.3a3.2 2.7 29 1 0 5.6 3.1a3.2 2.7 29 1 0 -5.6 -3.1zM183.3 1206.5a2.7 2.2 68 1 0 2.0 5.1a2.7 2.2 68 1 0 -2.0 -5.1zM152.6 1218.6a3.1 2.7 154 1 0 -5.5 2.7a3.1 2.7 154 1 0 5.5 -2.7zM137.0 1236.4a2.6 2.2 39 1 0 4.0 3.3a2.6 2.2 39 1 0 -4.0 -3.3zM172.9 1235.1a3.0 2.8 65 1 0 2.5 5.5a3.0 2.8 65 1 0 -2.5 -5.5z"/>
<path fill="#b1c32c" d="M168.1 1080.6a2.8 2.8 56 1 0 3.2 4.7a2.8 2.8 56 1 0 -3.2 -4.7zM195.7 1083.3a3.0 2.3 75 1 0 1.6 5.9a3.0 2.3 75 1 0 -1.6 -5.9zM131.0 1092.7a3.7 3.2 48 1 0 4.9 5.5a3.7 3.2 48 1 0 -4.9 -5.5zM169.6 1088.5a3.1 2.5 93 1 0 -0.4 6.2a3.1 2.5 93 1 0 0.4 -6.2zM199.0 1092.6a2.9 2.4 131 1 0 -3.8 4.3a2.9 2.4 131 1 0 3.8 -4.3zM127.4 1102.4a2.6 2.5 176 1 0 -5.3 0.3a2.6 2.5 176 1 0 5.3 -0.3zM135.2 1101.6a3.2 2.8 113 1 0 -2.6 6.0a3.2 2.8 113 1 0 2.6 -6.0zM178.8 1106.7a3.3 3.3 6 1 0 6.6 0.8a3.3 3.3 6 1 0 -6.6 -0.8zM114.8 1137.3a3.0 2.8 40 1 0 4.5 3.9a3.0 2.8 40 1 0 -4.5 -3.9zM157.2 1138.3a2.7 2.5 178 1 0 -5.4 0.2a2.7 2.5 178 1 0 5.4 -0.2zM167.2 1139.3a2.6 1.9 130 1 0 -3.4 4.0a2.6 1.9 130 1 0 3.4 -4.0zM221.7 1136.8a3.2 2.7 99 1 0 -1.1 6.2a3.2 2.7 99 1 0 1.1 -6.2zM208.8 1143.8a3.0 2.4 1 1 0 5.9 0.2a3.0 2.4 1 1 0 -5.9 -0.2zM123.6 1164.4a3.4 2.5 133 1 0 -4.7 5.0a3.4 2.5 133 1 0 4.7 -5.0zM207.4 1181.4a3.7 2.7 68 1 0 2.7 6.8a3.7 2.7 68 1 0 -2.7 -6.8zM172.5 1203.7a3.6 3.5 27 1 0 6.4 3.4a3.6 3.5 27 1 0 -6.4 -3.4zM204.8 1202.1a3.5 3.4 134 1 0 -4.9 4.9a3.5 3.4 134 1 0 4.9 -4.9zM200.1 1229.4a3.0 2.3 65 1 0 2.4 5.5a3.0 2.3 65 1 0 -2.4 -5.5zM172.5 1238.8a2.6 2.2 98 1 0 -0.8 5.2a2.6 2.2 98 1 0 0.8 -5.2z"/>
<path fill="#cd7824" d="M176.1 1080.2a2.9 2.4 4 1 0 5.8 0.5a2.9 2.4 4 1 0 -5.8 -0.5zM190.2 1094.5a3.0 2.9 116 1 0 -2.7 5.3a3.0 2.9 116 1 0 2.7 -5.3zM210.0 1104.7a3.0 2.4 101 1 0 -1.2 5.9a3.0 2.4 101 1 0 1.2 -5.9zM117.3 1127.7a3.2 2.3 103 1 0 -1.5 6.3a3.2 2.3 103 1 0 1.5 -6.3zM200.4 1136.5a3.0 2.6 48 1 0 3.9 4.4a3.0 2.6 48 1 0 -3.9 -4.4zM135.7 1154.9a3.5 3.2 44 1 0 5.0 4.9a3.5 3.2 44 1 0 -5.0 -4.9zM155.0 1153.5a3.2 3.1 63 1 0 2.9 5.6a3.2 3.1 63 1 0 -2.9 -5.6zM190.1 1158.1a3.0 2.6 129 1 0 -3.8 4.6a3.0 2.6 129 1 0 3.8 -4.6zM154.0 1178.6a3.2 2.7 154 1 0 -5.9 2.7a3.2 2.7 154 1 0 5.9 -2.7zM176.3 1181.8a2.8 2.8 3 1 0 5.7 0.4a2.8 2.8 3 1 0 -5.7 -0.4zM217.2 1200.6a3.3 3.1 164 1 0 -6.4 1.7a3.3 3.1 164 1 0 6.4 -1.7zM164.3 1221.1a3.5 3.3 71 1 0 2.2 6.6a3.5 3.3 71 1 0 -2.2 -6.6z"/>
<path fill="#45ac41" d="M203.8 1112.2a3.5 2.9 172 1 0 -6.9 0.9a3.5 2.9 172 1 0 6.9 -0.9z"/>
<path fill="#6fb539" d="M195.6 1167.2a3.3 3.2 34 1 0 5.5 3.8a3.3 3.2 34 1 0 -5.5 -3.8zM147.3 1256.3a3.2 2.7 13 1 0 6.2 1.5a3.2 2.7 13 1 0 -6.2 -1.5zM176.6 1247.2a3.5 3.4 88 1 0 0.2 6.9a3.5 3.4 88 1 0 -0.2 -6.9z"/>
<path fill="#c84b23" d="M165.6 1176.7a3.6 2.7 16 1 0 6.9 2.1a3.6 2.7 16 1 0 -6.9 -2.1zM167.6 1186.3a2.8 2.3 1 1 0 5.7 0.2a2.8 2.3 1 1 0 -5.7 -0.2zM187.4 1198.1a2.8 2.7 165 1 0 -5.4 1.4a2.8 2.7 165 1 0 5.4 -1.4z"/>
<path fill="#000" d="M152.7 1132.7a1.2 1.2 0 1 0 2.4 0a1.2 1.2 0 1 0 -2.4 0zM135.5 1110.1a1.4 1.4 0 1 0 2.8 0a1.4 1.4 0 1 0 -2.8 0zM137.9 1113.0a0.7 0.7 0 1 0 1.3 0a0.7 0.7 0 1 0 -1.3 0zM207.9 1149.4a1.2 1.2 0 1 0 2.3 0a1.2 1.2 0 1 0 -2.3 0zM192.4 1078.1a0.9 0.9 0 1 0 1.8 0a0.9 0.9 0 1 0 -1.8 0zM190.6 1081.7a0.9 0.9 0 1 0 1.9 0a0.9 0.9 0 1 0 -1.9 0zM162.3 1161.2a0.9 0.9 0 1 0 1.9 0a0.9 0.9 0 1 0 -1.9 0zM160.3 1160.9a1.0 1.0 0 1 0 2.1 0a1.0 1.0 0 1 0 -2.1 0zM121.3 1175.7a0.8 0.8 0 1 0 1.6 0a0.8 0.8 0 1 0 -1.6 0zM212.2 1101.2a1.4 1.4 0 1 0 2.7 0a1.4 1.4 0 1 0 -2.7 0zM209.6 1099.7a1.3 1.3 0 1 0 2.6 0a1.3 1.3 0 1 0 -2.6 0zM208.3 1146.9a1.0 1.0 0 1 0 2.1 0a1.0 1.0 0 1 0 -2.1 0zM212.4 1146.3a1.3 1.3 0 1 0 2.7 0a1.3 1.3 0 1 0 -2.7 0zM215.4 1178.1a0.7 0.7 0 1 0 1.5 0a0.7 0.7 0 1 0 -1.5 0zM147.8 1091.4a2.5 2.5 0 1 0 5.0 0a2.5 2.5 0 1 0 -5.0 0zM149.7 1091.3a1.1 1.1 0 1 0 2.3 0a1.1 1.1 0 1 0 -2.3 0zM150.8 1093.3a0.6 0.6 0 1 0 1.3 0a0.6 0.6 0 1 0 -1.3 0zM149.7 1091.0a1.3 1.3 0 1 0 2.6 0a1.3 1.3 0 1 0 -2.6 0zM187.5 1143.3a1.5 1.5 0 1 0 3.0 0a1.5 1.5 0 1 0 -3.0 0zM121.2 1196.8a1.5 1.5 0 1 0 3.1 0a1.5 1.5 0 1 0 -3.1 0zM125.2 1193.9a1.1 1.1 0 1 0 2.2 0a1.1 1.1 0 1 0 -2.2 0zM130.1 1212.8a1.2 1.2 0 1 0 2.4 0a1.2 1.2 0 1 0 -2.4 0zM184.8 1074.5a0.7 0.7 0 1 0 1.5 0a0.7 0.7 0 1 0 -1.5 0zM186.4 1071.1a1.2 1.2 0 1 0 2.4 0a1.2 1.2 0 1 0 -2.4 0zM206.2 1196.8a1.0 1.0 0 1 0 1.9 0a1.0 1.0 0 1 0 -1.9 0zM205.5 1198.1a1.6 1.6 0 1 0 3.2 0a1.6 1.6 0 1 0 -3.2 0zM131.5 1075.9a1.4 1.4 0 1 0 2.8 0a1.4 1.4 0 1 0 -2.8 0zM134.2 1072.9a0.9 0.9 0 1 0 1.7 0a0.9 0.9 0 1 0 -1.7 0zM138.4 1168.0a0.9 0.9 0 1 0 1.8 0a0.9 0.9 0 1 0 -1.8 0zM165.3 1177.8a1.4 1.4 0 1 0 2.8 0a1.4 1.4 0 1 0 -2.8 0zM213.5 1127.9a0.6 0.6 0 1 0 1.3 0a0.6 0.6 0 1 0 -1.3 0zM159.3 1190.6a0.6 0.6 0 1 0 1.3 0a0.6 0.6 0 1 0 -1.3 0zM158.5 1188.4a0.8 0.8 0 1 0 1.6 0a0.8 0.8 0 1 0 -1.6 0zM186.6 1225.1a1.2 1.2 0 1 0 2.3 0a1.2 1.2 0 1 0 -2.3 0zM207.4 1198.3a1.6 1.6 0 1 0 3.1 0a1.6 1.6 0 1 0 -3.1 0zM112.9 1126.6a0.8 0.8 0 1 0 1.5 0a0.8 0.8 0 1 0 -1.5 0zM156.2 1214.9a1.3 1.3 0 1 0 2.6 0a1.3 1.3 0 1 0 -2.6 0zM141.1 1140.9a1.6 1.6 0 1 0 3.1 0a1.6 1.6 0 1 0 -3.1 0zM169.2 1153.6a2.4 2.4 0 1 0 4.7 0a2.4 2.4 0 1 0 -4.7 0zM167.1 1154.3a1.9 1.9 0 1 0 3.8 0a1.9 1.9 0 1 0 -3.8 0zM170.2 1156.0a2.2 2.2 0 1 0 4.3 0a2.2 2.2 0 1 0 -4.3 0zM168.8 1156.8a0.7 0.7 0 1 0 1.5 0a0.7 0.7 0 1 0 -1.5 0zM139.3 1160.8a1.1 1.1 0 1 0 2.2 0a1.1 1.1 0 1 0 -2.2 0zM144.9 1195.0a1.1 1.1 0 1 0 2.2 0a1.1 1.1 0 1 0 -2.2 0zM172.8 1206.9a0.6 0.6 0 1 0 1.3 0a0.6 0.6 0 1 0 -1.3 0zM170.5 1207.3a1.5 1.5 0 1 0 3.0 0a1.5 1.5 0 1 0 -3.0 0zM215.7 1186.6a0.8 0.8 0 1 0 1.6 0a0.8 0.8 0 1 0 -1.6 0zM175.9 1226.0a0.6 0.6 0 1 0 1.2 0a0.6 0.6 0 1 0 -1.2 0zM167.3 1082.1a1.3 1.3 0 1 0 2.5 0a1.3 1.3 0 1 0 -2.5 0zM120.8 1127.0a1.4 1.4 0 1 0 2.9 0a1.4 1.4 0 1 0 -2.9 0zM162.8 1254.9a0.8 0.8 0 1 0 1.5 0a0.8 0.8 0 1 0 -1.5 0zM198.0 1222.7a1.3 1.3 0 1 0 2.6 0a1.3 1.3 0 1 0 -2.6 0zM200.6 1073.3a1.7 1.3 0 1 0 3.4 0a1.7 1.3 0 1 0 -3.4 0zM217.8 1073.3a1.9 1.6 0 1 0 3.9 0a1.9 1.6 0 1 0 -3.9 0z"/>
<path fill="#cba924" d="M262.7 1070.1a3.4 3.4 111 1 0 -2.5 6.3a3.4 3.4 111 1 0 2.5 -6.3zM290.8 1082.2a2.7 2.3 120 1 0 -2.8 4.7a2.7 2.3 120 1 0 2.8 -4.7zM335.1 1079.7a3.3 2.5 30 1 0 5.7 3.4a3.3 2.5 30 1 0 -5.7 -3.4zM271.1 1151.2a3.1 2.9 132 1 0 -4.2 4.5a3.1 2.9 132 1 0 4.2 -4.5zM343.7 1214.1a2.9 2.2 160 1 0 -5.4 2.0a2.9 2.2 160 1 0 5.4 -2.0z"/>
<path fill="#c8c527" d="M270.4 1068.6a3.6 3.6 88 1 0 0.2 7.3a3.6 3.6 88 1 0 -0.2 -7.3zM280.6 1069.5a3.3 2.8 84 1 0 0.6 6.5a3.3 2.8 84 1 0 -0.6 -6.5zM261.8 1081.3a2.7 2.5 130 1 0 -3.5 4.1a2.7 2.5 130 1 0 3.5 -4.1zM273.4 1177.3a3.2 2.4 128 1 0 -4.0 5.0a3.2 2.4 128 1 0 4.0 -5.0zM265.4 1196.1a3.2 2.3 85 1 0 0.5 6.3a3.2 2.3 85 1 0 -0.5 -6.3zM270.3 1206.2a2.7 2.0 155 1 0 -4.9 2.2a2.7 2.0 155 1 0 4.9 -2.2z"/>
<path fill="#cd9b23" d="M286.6 1073.4a3.3 3.2 51 1 0 4.1 5.2a3.3 3.2 51 1 0 -4.1 -5.2zM307.0 1077.4a3.3 2.7 53 1 0 4.0 5.4a3.3 2.7 53 1 0 -4.0 -5.4zM281.8 1077.4a3.1 2.4 123 1 0 -3.4 5.1a3.1 2.4 123 1 0 3.4 -5.1zM313.2 1101.6a3.1 2.5 87 1 0 0.3 6.1a3.1 2.5 87 1 0 -0.3 -6.1zM338.5 1177.7a2.8 2.3 33 1 0 4.6 3.0a2.8 2.3 33 1 0 -4.6 -3.0z"/>
<path fill="#c2311f" d="M300.6 1072.4a3.0 2.7 124 1 0 -3.4 4.9a3.0 2.7 124 1 0 3.4 -4.9zM277.6 1149.6a3.7 2.7 108 1 0 -2.3 6.9a3.7 2.7 108 1 0 2.3 -6.9zM313.6 1165.1a3.2 2.9 57 1 0 3.4 5.4a3.2 2.9 57 1 0 -3.4 -5.4zM311.2 1183.0a3.0 2.4 107 1 0 -1.8 5.7a3.0 2.4 107 1 0 1.8 -5.7zM304.4 1198.0a3.4 3.1 130 1 0 -4.5 5.2a3.4 3.1 130 1 0 4.5 -5.2zM310.9 1202.1a2.8 2.4 91 1 0 -0.2 5.6a2.8 2.4 91 1 0 0.2 -5.6zM310.7 1224.1a3.0 2.4 93 1 0 -0.4 6.1a3.0 2.4 93 1 0 0.4 -6.1zM294.0 1241.2a3.4 2.5 153 1 0 -6.0 3.1a3.4 2.5 153 1 0 6.0 -3.1zM298.1 1250.0a3.3 2.7 135 1 0 -4.7 4.6a3.3 2.7 135 1 0 4.7 -4.6z"/>
<path fill="#bec62a" d="M318.1 1075.1a3.7 3.3 83 1 0 0.8 7.3a3.7 3.3 83 1 0 -0.8 -7.3zM258.3 1108.4a2.6 2.0 125 1 0 -3.0 4.3a2.6 2.0 125 1 0 3.0 -4.3zM257.1 1133.3a3.5 3.1 102 1 0 -1.6 6.9a3.5 3.1 102 1 0 1.6 -6.9z"/>
<path fill="#cd7824" d="M325.7 1076.0a3.0 2.8 26 1 0 5.3 2.7a3.0 2.8 26 1 0 -5.3 -2.7zM301.1 1082.1a3.5 2.6 148 1 0 -5.9 3.6a3.5 2.6 148 1 0 5.9 -3.6zM301.0 1095.9a3.2 2.5 8 1 0 6.4 1.0a3.2 2.5 8 1 0 -6.4 -1.0zM295.5 1108.0a3.4 2.7 107 1 0 -2.1 6.5a3.4 2.7 107 1 0 2.1 -6.5zM319.8 1128.4a2.6 2.1 90 1 0 -0.1 5.3a2.6 2.1 90 1 0 0.1 -5.3zM281.6 1168.1a3.1 2.5 132 1 0 -4.2 4.6a3.1 2.5 132 1 0 4.2 -4.6zM283.0 1173.3a3.7 2.9 17 1 0 7.1 2.2a3.7 2.9 17 1 0 -7.1 -2.2zM288.9 1190.7a3.3 3.2 51 1 0 4.1 5.1a3.3 3.2 51 1 0 -4.1 -5.1zM280.7 1213.1a3.0 2.1 114 1 0 -2.5 5.4a3.0 2.1 114 1 0 2.5 -5.4zM328.9 1228.2a2.8 2.1 46 1 0 3.8 4.1a2.8 2.1 46 1 0 -3.8 -4.1z"/>
<path fill="#45ac41" d="M350.1 1074.8a3.0 2.5 179 1 0 -6.1 0.1a3.0 2.5 179 1 0 6.1 -0.1zM351.1 1082.1a2.9 2.2 142 1 0 -4.6 3.5a2.9 2.2 142 1 0 4.6 -3.5zM353.3 1180.9a2.8 2.5 155 1 0 -5.1 2.4a2.8 2.5 155 1 0 5.1 -2.4z"/>
<path fill="#b1c32c" d="M273.6 1079.3a3.2 2.4 143 1 0 -5.2 3.8a3.2 2.4 143 1 0 5.2 -3.8zM253.5 1144.5a2.9 2.1 3 1 0 5.7 0.4a2.9 2.1 3 1 0 -5.7 -0.4zM260.3 1154.8a2.7 2.5 179 1 0 -5.5 0.1a2.7 2.5 179 1 0 5.5 -0.1zM267.1 1159.6a3.0 2.9 43 1 0 4.4 4.1a3.0 2.9 43 1 0 -4.4 -4.1zM261.4 1178.8a2.9 2.2 94 1 0 -0.5 5.7a2.9 2.2 94 1 0 0.5 -5.7zM265.2 1188.1a3.4 2.7 145 1 0 -5.6 3.8a3.4 2.7 145 1 0 5.6 -3.8z"/>
<path fill="#c53e21" d="M309.7 1084.7a3.7 2.9 113 1 0 -2.9 6.8a3.7 2.9 113 1 0 2.9 -6.8zM291.8 1100.2a3.4 3.2 21 1 0 6.3 2.6a3.4 3.2 21 1 0 -6.3 -2.6zM288.8 1128.3a3.3 2.9 17 1 0 6.3 2.0a3.3 2.9 17 1 0 -6.3 -2.0zM314.8 1145.6a3.4 3.2 85 1 0 0.6 6.9a3.4 3.2 85 1 0 -0.6 -6.9zM336.6 1142.4a3.0 2.5 155 1 0 -5.5 2.5a3.0 2.5 155 1 0 5.5 -2.5zM321.6 1166.5a3.1 2.4 33 1 0 5.1 3.4a3.1 2.4 33 1 0 -5.1 -3.4zM294.8 1172.9a2.9 2.2 23 1 0 5.3 2.3a2.9 2.2 23 1 0 -5.3 -2.3zM326.2 1175.4a2.6 2.2 152 1 0 -4.6 2.4a2.6 2.2 152 1 0 4.6 -2.4zM330.1 1192.3a2.6 2.0 93 1 0 -0.3 5.3a2.6 2.0 93 1 0 0.3 -5.3zM283.6 1193.6a2.8 2.4 92 1 0 -0.3 5.6a2.8 2.4 92 1 0 0.3 -5.6zM293.4 1218.1a3.1 2.5 16 1 0 5.9 1.7a3.1 2.5 16 1 0 -5.9 -1.7zM336.6 1229.9a3.1 2.7 8 1 0 6.1 0.9a3.1 2.7 8 1 0 -6.1 -0.9zM337.9 1235.1a3.7 3.0 123 1 0 -4.0 6.1a3.7 3.0 123 1 0 4.0 -6.1zM329.2 1245.8a3.6 2.7 77 1 0 1.6 7.1a3.6 2.7 77 1 0 -1.6 -7.1z"/>
<path fill="#cd6725" d="M320.1 1086.7a2.8 2.5 173 1 0 -5.6 0.7a2.8 2.5 173 1 0 5.6 -0.7zM276.1 1104.6a2.6 2.3 86 1 0 0.4 5.2a2.6 2.3 86 1 0 -0.4 -5.2zM283.6 1119.3a3.6 2.7 51 1 0 4.5 5.7a3.6 2.7 51 1 0 -4.5 -5.7zM285.6 1128.0a3.1 2.8 141 1 0 -4.9 3.9a3.1 2.8 141 1 0 4.9 -3.9zM308.2 1140.3a3.6 3.5 136 1 0 -5.2 4.9a3.6 3.5 136 1 0 5.2 -4.9zM324.4 1146.5a3.4 2.8 84 1 0 0.7 6.8a3.4 2.8 84 1 0 -0.7 -6.8zM279.8 1159.1a3.4 3.0 142 1 0 -5.5 4.1a3.4 3.0 142 1 0 5.5 -4.1zM304.4 1175.3a3.4 2.9 68 1 0 2.4 6.3a3.4 2.9 68 1 0 -2.4 -6.3zM338.5 1171.1a3.2 3.1 40 1 0 4.8 4.2a3.2 3.1 40 1 0 -4.8 -4.2zM341.7 1187.7a2.7 2.1 176 1 0 -5.4 0.3a2.7 2.1 176 1 0 5.4 -0.3zM321.0 1201.8a3.5 2.9 152 1 0 -6.2 3.2a3.5 2.9 152 1 0 6.2 -3.2zM282.9 1203.2a3.5 2.8 40 1 0 5.3 4.5a3.5 2.8 40 1 0 -5.3 -4.5zM289.5 1233.2a3.2 2.8 174 1 0 -6.3 0.6a3.2 2.8 174 1 0 6.3 -0.6zM323.7 1251.4a3.1 2.3 85 1 0 0.5 6.1a3.1 2.3 85 1 0 -0.5 -6.1z"/>
<path fill="#c84b23" d="M324.4 1084.9a3.4 3.3 24 1 0 6.2 2.8a3.4 3.3 24 1 0 -6.2 -2.8zM279.8 1087.9a3.2 2.5 130 1 0 -4.1 4.9a3.2 2.5 130 1 0 4.1 -4.9zM285.8 1090.7a3.0 2.3 68 1 0 2.2 5.7a3.0 2.3 68 1 0 -2.2 -5.7zM275.1 1096.6a2.6 2.3 83 1 0 0.6 5.2a2.6 2.3 83 1 0 -0.6 -5.2zM334.2 1096.0a2.7 2.1 112 1 0 -2.1 5.0a2.7 2.1 112 1 0 2.1 -5.0zM282.6 1111.8a2.8 2.8 7 1 0 5.6 0.7a2.8 2.8 7 1 0 -5.6 -0.7zM333.8 1113.6a3.0 2.7 84 1 0 0.6 6.0a3.0 2.7 84 1 0 -0.6 -6.0zM327.5 1122.9a2.7 2.5 55 1 0 3.1 4.4a2.7 2.5 55 1 0 -3.1 -4.4zM284.7 1137.5a2.9 2.8 63 1 0 2.6 5.2a2.9 2.8 63 1 0 -2.6 -5.2zM323.4 1138.5a2.8 2.7 43 1 0 4.1 3.9a2.8 2.7 43 1 0 -4.1 -3.9zM280.3 1143.4a3.4 2.6 167 1 0 -6.7 1.5a3.4 2.6 167 1 0 6.7 -1.5zM338.9 1164.5a3.4 3.2 25 1 0 6.1 2.9a3.4 3.2 25 1 0 -6.1 -2.9zM330.2 1181.9a2.8 2.4 94 1 0 -0.4 5.6a2.8 2.4 94 1 0 0.4 -5.6zM283.2 1184.9a3.3 3.0 121 1 0 -3.5 5.5a3.3 3.0 121 1 0 3.5 -5.5zM307.7 1193.4a3.3 2.6 42 1 0 4.9 4.4a3.3 2.6 42 1 0 -4.9 -4.4zM287.9 1200.3a3.0 2.4 11 1 0 5.8 1.2a3.0 2.4 11 1 0 -5.8 -1.2zM275.5 1203.1a3.6 2.7 88 1 0 0.2 7.3a3.6 2.7 88 1 0 -0.2 -7.3zM289.5 1213.5a3.2 2.5 174 1 0 -6.4 0.6a3.2 2.5 174 1 0 6.4 -0.6zM327.5 1219.3a3.5 3.1 159 1 0 -6.5 2.4a3.5 3.1 159 1 0 6.5 -2.4zM323.2 1238.0a2.9 2.6 74 1 0 1.5 5.5a2.9 2.6 74 1 0 -1.5 -5.5zM277.3 1241.2a3.6 2.8 60 1 0 3.6 6.3a3.6 2.8 60 1 0 -3.6 -6.3z"/>
<path fill="#a5c12f" d="M255.1 1089.5a3.2 2.3 33 1 0 5.3 3.5a3.2 2.3 33 1 0 -5.3 -3.5zM267.8 1087.9a3.2 3.0 95 1 0 -0.7 6.3a3.2 3.0 95 1 0 0.7 -6.3zM261.1 1099.8a2.7 2.6 162 1 0 -5.2 1.6a2.7 2.6 162 1 0 5.2 -1.6zM271.1 1223.4a3.5 2.5 77 1 0 1.5 6.8a3.5 2.5 77 1 0 -1.5 -6.8z"/>
<path fill="#ca5924" d="M292.2 1091.3a3.4 3.0 27 1 0 6.0 3.1a3.4 3.0 27 1 0 -6.0 -3.1zM319.7 1094.1a3.5 2.8 23 1 0 6.4 2.7a3.5 2.8 23 1 0 -6.4 -2.7zM331.5 1086.8a3.0 2.3 103 1 0 -1.4 5.8a3.0 2.3 103 1 0 1.4 -5.8zM277.3 1112.8a3.5 2.9 123 1 0 -3.9 5.8a3.5 2.9 123 1 0 3.9 -5.8zM318.4 1120.3a3.4 3.2 140 1 0 -5.2 4.3a3.4 3.2 140 1 0 5.2 -4.3zM326.0 1120.7a2.9 2.5 136 1 0 -4.2 4.0a2.9 2.5 136 1 0 4.2 -4.0zM298.4 1130.9a3.3 3.3 59 1 0 3.4 5.8a3.3 3.3 59 1 0 -3.4 -5.8zM298.8 1145.4a2.9 2.8 150 1 0 -5.0 2.8a2.9 2.8 150 1 0 5.0 -2.8zM307.5 1148.5a2.9 2.3 126 1 0 -3.4 4.7a2.9 2.3 126 1 0 3.4 -4.7zM288.0 1153.6a2.7 2.2 113 1 0 -2.2 4.9a2.7 2.2 113 1 0 2.2 -4.9zM322.6 1156.1a3.1 2.6 31 1 0 5.3 3.3a3.1 2.6 31 1 0 -5.3 -3.3zM343.6 1153.5a3.5 2.6 107 1 0 -2.1 6.8a3.5 2.6 107 1 0 2.1 -6.8zM285.4 1162.8a3.3 2.6 41 1 0 5.0 4.4a3.3 2.6 41 1 0 -5.0 -4.4zM316.6 1174.5a2.7 2.2 103 1 0 -1.3 5.2a2.7 2.2 103 1 0 1.3 -5.2zM334.1 1166.4a2.8 2.0 123 1 0 -3.1 4.8a2.8 2.0 123 1 0 3.1 -4.8zM283.9 1177.4a2.6 2.5 142 1 0 -4.2 3.2a2.6 2.5 142 1 0 4.2 -3.2zM291.8 1180.8a2.8 2.4 131 1 0 -3.7 4.1a2.8 2.4 131 1 0 3.7 -4.1zM299.8 1188.5a2.9 2.7 34 1 0 4.7 3.2a2.9 2.7 34 1 0 -4.7 -3.2zM319.4 1191.0a2.6 2.4 97 1 0 -0.7 5.2a2.6 2.4 97 1 0 0.7 -5.2zM278.6 1197.3a3.3 3.2 174 1 0 -6.5 0.6a3.3 3.2 174 1 0 6.5 -0.6zM316.2 1210.3a3.1 2.7 87 1 0 0.3 6.3a3.1 2.7 87 1 0 -0.3 -6.3zM306.3 1214.6a3.0 2.8 108 1 0 -1.9 5.7a3.0 2.8 108 1 0 1.9 -5.7zM304.2 1227.4a3.3 3.1 145 1 0 -5.5 3.8a3.3 3.1 145 1 0 5.5 -3.8zM321.5 1228.8a2.8 2.3 92 1 0 -0.2 5.5a2.8 2.3 92 1 0 0.2 -5.5zM294.5 1229.6a3.5 2.6 73 1 0 2.0 6.7a3.5 2.6 73 1 0 -2.0 -6.7zM316.4 1234.3a2.6 2.3 137 1 0 -3.8 3.6a2.6 2.3 137 1 0 3.8 -3.6z"/>
<path fill="#2ea857" d="M346.2 1093.9a3.1 2.8 5 1 0 6.2 0.6a3.1 2.8 5 1 0 -6.2 -0.6z"/>
<path fill="#cd8923" d="M285.4 1100.8a3.3 3.2 74 1 0 1.8 6.3a3.3 3.2 74 1 0 -1.8 -6.3zM322.4 1101.3a3.4 3.2 65 1 0 2.8 6.1a3.4 3.2 65 1 0 -2.8 -6.1zM345.5 1100.2a3.3 3.1 152 1 0 -5.9 3.1a3.3 3.1 152 1 0 5.9 -3.1zM329.5 1107.2a3.4 2.9 0 1 0 6.8 0.1a3.4 2.9 0 1 0 -6.8 -0.1zM295.1 1115.8a3.5 2.8 75 1 0 1.7 6.7a3.5 2.8 75 1 0 -1.7 -6.7zM265.8 1123.7a2.6 2.3 99 1 0 -0.9 5.1a2.6 2.3 99 1 0 0.9 -5.1zM334.5 1131.9a2.7 2.6 54 1 0 3.2 4.4a2.7 2.6 54 1 0 -3.2 -4.4zM332.5 1148.4a3.6 3.4 45 1 0 5.0 5.1a3.6 3.4 45 1 0 -5.0 -5.1zM327.8 1201.1a2.7 2.4 61 1 0 2.6 4.7a2.7 2.4 61 1 0 -2.6 -4.7zM336.2 1217.9a3.6 3.6 135 1 0 -5.2 5.1a3.6 3.6 135 1 0 5.2 -5.1zM293.1 1220.4a2.7 2.4 114 1 0 -2.3 5.0a2.7 2.4 114 1 0 2.3 -5.0zM276.4 1231.6a3.4 3.0 84 1 0 0.6 6.8a3.4 3.0 84 1 0 -0.6 -6.8z"/>
<path fill="#5ab13d" d="M353.8 1101.5a3.4 3.1 151 1 0 -5.9 3.2a3.4 3.1 151 1 0 5.9 -3.2zM342.0 1120.7a2.7 2.2 2 1 0 5.4 0.3a2.7 2.2 2 1 0 -5.4 -0.3zM275.9 1124.7a3.3 2.6 165 1 0 -6.3 1.7a3.3 2.6 165 1 0 6.3 -1.7zM345.3 1127.1a2.6 2.3 49 1 0 3.4 4.0a2.6 2.3 49 1 0 -3.4 -4.0zM347.3 1198.9a2.9 2.1 127 1 0 -3.5 4.6a2.9 2.1 127 1 0 3.5 -4.6z"/>
<path fill="#c9b726" d="M265.8 1104.7a2.8 2.6 98 1 0 -0.8 5.6a2.8 2.6 98 1 0 0.8 -5.6zM258.0 1119.8a3.6 3.2 179 1 0 -7.2 0.0a3.6 3.2 179 1 0 7.2 -0.0zM266.7 1114.4a3.7 2.7 133 1 0 -5.1 5.3a3.7 2.7 133 1 0 5.1 -5.3z"/>
<path fill="#c0241e" d="M300.9 1114.5a3.4 2.7 10 1 0 6.7 1.2a3.4 2.7 10 1 0 -6.7 -1.2zM326.5 1111.8a2.6 2.2 149 1 0 -4.5 2.7a2.6 2.2 149 1 0 4.5 -2.7zM301.6 1121.2a2.9 2.3 43 1 0 4.1 4.0a2.9 2.3 43 1 0 -4.1 -4.0zM314.5 1138.0a3.2 3.0 73 1 0 1.8 6.2a3.2 3.0 73 1 0 -1.8 -6.2zM296.1 1151.4a3.7 3.5 103 1 0 -1.7 7.2a3.7 3.5 103 1 0 1.7 -7.2zM303.2 1167.1a3.0 2.8 57 1 0 3.2 5.0a3.0 2.8 57 1 0 -3.2 -5.0zM303.8 1178.9a3.4 2.5 121 1 0 -3.6 5.8a3.4 2.5 121 1 0 3.6 -5.8zM295.8 1207.1a3.6 3.3 105 1 0 -1.9 6.9a3.6 3.3 105 1 0 1.9 -6.9zM307.1 1205.5a2.9 2.5 102 1 0 -1.3 5.7a2.9 2.5 102 1 0 1.3 -5.7zM326.4 1209.3a3.6 3.0 114 1 0 -3.0 6.6a3.6 3.0 114 1 0 3.0 -6.6zM331.8 1208.6a3.0 2.6 57 1 0 3.3 5.1a3.0 2.6 57 1 0 -3.3 -5.1zM297.4 1240.6a3.6 2.8 20 1 0 6.8 2.6a3.6 2.8 20 1 0 -6.8 -2.6zM309.0 1244.0a3.2 2.6 84 1 0 0.6 6.4a3.2 2.6 84 1 0 -0.6 -6.4zM287.8 1252.2a2.7 2.4 170 1 0 -5.2 0.9a2.7 2.4 170 1 0 5.2 -0.9zM303.1 1250.5a2.6 2.5 8 1 0 5.2 0.7a2.6 2.5 8 1 0 -5.2 -0.7zM318.7 1253.8a3.2 2.9 155 1 0 -5.9 2.7a3.2 2.9 155 1 0 5.9 -2.7z"/>
<path fill="#2aa87a" d="M342.9 1108.0a3.0 2.3 72 1 0 1.8 5.8a3.0 2.3 72 1 0 -1.8 -5.8z"/>
<path fill="#30a846" d="M351.4 1108.5a2.8 2.4 87 1 0 0.3 5.6a2.8 2.4 87 1 0 -0.3 -5.6zM347.4 1189.6a2.6 2.5 69 1 0 1.8 4.9a2.6 2.5 69 1 0 -1.8 -4.9z"/>
<path fill="#85ba35" d="M254.4 1124.3a3.4 3.2 48 1 0 4.4 5.1a3.4 3.2 48 1 0 -4.4 -5.1zM270.9 1187.4a2.9 2.7 35 1 0 4.6 3.4a2.9 2.7 35 1 0 -4.6 -3.4z"/>
<path fill="#6fb539" d="M358.5 1124.2a3.3 3.1 148 1 0 -5.7 3.5a3.3 3.1 148 1 0 5.7 -3.5zM353.9 1154.3a3.6 2.9 119 1 0 -3.5 6.2a3.6 2.9 119 1 0 3.5 -6.2zM273.6 1170.5a3.2 2.8 174 1 0 -6.4 0.6a3.2 2.8 174 1 0 6.4 -0.6z"/>
<path fill="#98be31" d="M267.5 1132.8a2.7 2.1 123 1 0 -3.0 4.5a2.7 2.1 123 1 0 3.0 -4.5zM350.9 1146.3a2.6 2.4 21 1 0 4.9 2.0a2.6 2.4 21 1 0 -4.9 -2.0zM259.9 1159.8a3.5 3.0 100 1 0 -1.3 6.8a3.5 3.0 100 1 0 1.3 -6.8zM269.0 1214.2a3.3 3.2 91 1 0 -0.2 6.6a3.3 3.2 91 1 0 0.2 -6.6z"/>
<path fill="#2ca869" d="M347.4 1136.0a3.3 3.2 141 1 0 -5.1 4.1a3.3 3.2 141 1 0 5.1 -4.1zM352.4 1162.3a2.8 2.0 117 1 0 -2.6 5.0a2.8 2.0 117 1 0 2.6 -5.0z"/>
<path fill="#000" d="M267.0 1138.5a1.2 1.2 0 1 0 2.4 0a1.2 1.2 0 1 0 -2.4 0zM265.3 1081.0a1.4 1.4 0 1 0 2.8 0a1.4 1.4 0 1 0 -2.8 0zM262.2 1080.6a1.4 1.4 0 1 0 2.8 0a1.4 1.4 0 1 0 -2.8 0zM343.2 1197.5a1.6 1.6 0 1 0 3.2 0a1.6 1.6 0 1 0 -3.2 0zM342.0 1199.7a0.8 0.8 0 1 0 1.5 0a0.8 0.8 0 1 0 -1.5 0zM316.5 1194.8a1.7 1.7 0 1 0 3.3 0a1.7 1.7 0 1 0 -3.3 0zM317.6 1193.1a2.4 2.4 0 1 0 4.8 0a2.4 2.4 0 1 0 -4.8 0zM267.9 1087.0a0.9 0.9 0 1 0 1.8 0a0.9 0.9 0 1 0 -1.8 0zM306.0 1226.8a2.3 2.3 0 1 0 4.6 0a2.3 2.3 0 1 0 -4.6 0zM307.1 1224.8a1.0 1.0 0 1 0 2.0 0a1.0 1.0 0 1 0 -2.0 0zM305.3 1226.0a1.9 1.9 0 1 0 3.9 0a1.9 1.9 0 1 0 -3.9 0zM327.3 1226.8a1.3 1.3 0 1 0 2.5 0a1.3 1.3 0 1 0 -2.5 0zM329.1 1172.4a1.0 1.0 0 1 0 2.0 0a1.0 1.0 0 1 0 -2.0 0zM283.8 1143.0a0.7 0.7 0 1 0 1.4 0a0.7 0.7 0 1 0 -1.4 0zM268.7 1085.0a1.5 1.5 0 1 0 3.0 0a1.5 1.5 0 1 0 -3.0 0zM341.1 1182.2a0.8 0.8 0 1 0 1.6 0a0.8 0.8 0 1 0 -1.6 0zM340.0 1178.3a1.4 1.4 0 1 0 2.8 0a1.4 1.4 0 1 0 -2.8 0zM342.9 1120.4a1.0 1.0 0 1 0 2.0 0a1.0 1.0 0 1 0 -2.0 0zM320.4 1097.7a0.7 0.7 0 1 0 1.3 0a0.7 0.7 0 1 0 -1.3 0zM285.8 1227.8a1.4 1.4 0 1 0 2.7 0a1.4 1.4 0 1 0 -2.7 0zM312.8 1138.6a1.4 1.4 0 1 0 2.8 0a1.4 1.4 0 1 0 -2.8 0zM313.2 1140.0a2.6 2.6 0 1 0 5.2 0a2.6 2.6 0 1 0 -5.2 0zM312.1 1221.9a1.4 1.4 0 1 0 2.7 0a1.4 1.4 0 1 0 -2.7 0zM312.0 1218.8a1.3 1.3 0 1 0 2.5 0a1.3 1.3 0 1 0 -2.5 0zM289.7 1194.0a1.1 1.1 0 1 0 2.2 0a1.1 1.1 0 1 0 -2.2 0zM327.0 1181.8a1.0 1.0 0 1 0 2.1 0a1.0 1.0 0 1 0 -2.1 0zM328.5 1182.8a1.3 1.3 0 1 0 2.6 0a1.3 1.3 0 1 0 -2.6 0zM323.2 1101.5a2.2 2.2 0 1 0 4.5 0a2.2 2.2 0 1 0 -4.5 0zM317.0 1146.0a1.4 1.4 0 1 0 2.9 0a1.4 1.4 0 1 0 -2.9 0zM334.1 1124.8a0.9 0.9 0 1 0 1.8 0a0.9 0.9 0 1 0 -1.8 0zM334.3 1125.8a1.4 1.4 0 1 0 2.8 0a1.4 1.4 0 1 0 -2.8 0zM334.0 1228.5a1.1 1.1 0 1 0 2.3 0a1.1 1.1 0 1 0 -2.3 0zM338.6 1082.9a0.8 0.8 0 1 0 1.7 0a0.8 0.8 0 1 0 -1.7 0zM290.4 1254.2a1.5 1.5 0 1 0 2.9 0a1.5 1.5 0 1 0 -2.9 0zM293.0 1252.0a1.2 1.2 0 1 0 2.3 0a1.2 1.2 0 1 0 -2.3 0zM356.4 1127.9a1.3 1.3 0 1 0 2.6 0a1.3 1.3 0 1 0 -2.6 0zM313.9 1176.9a1.2 1.2 0 1 0 2.3 0a1.2 1.2 0 1 0 -2.3 0zM285.4 1111.3a1.2 1.2 0 1 0 2.4 0a1.2 1.2 0 1 0 -2.4 0zM331.3 1151.3a1.7 1.7 0 1 0 3.3 0a1.7 1.7 0 1 0 -3.3 0zM303.4 1081.9a2.1 2.1 0 1 0 4.1 0a2.1 2.1 0 1 0 -4.1 0zM323.0 1151.1a0.7 0.7 0 1 0 1.4 0a0.7 0.7 0 1 0 -1.4 0zM301.6 1220.2a1.2 1.2 0 1 0 2.3 0a1.2 1.2 0 1 0 -2.3 0zM331.3 1190.7a1.0 1.0 0 1 0 1.9 0a1.0 1.0 0 1 0 -1.9 0zM269.2 1077.6a1.2 1.2 0 1 0 2.5 0a1.2 1.2 0 1 0 -2.5 0zM264.6 1078.1a0.9 0.9 0 1 0 1.7 0a0.9 0.9 0 1 0 -1.7 0zM329.2 1140.5a2.2 2.2 0 1 0 4.4 0a2.2 2.2 0 1 0 -4.4 0zM329.7 1143.5a1.0 1.0 0 1 0 2.0 0a1.0 1.0 0 1 0 -2.0 0zM324.8 1143.4a2.6 2.6 0 1 0 5.2 0a2.6 2.6 0 1 0 -5.2 0zM328.8 1140.2a0.8 0.8 0 1 0 1.6 0a0.8 0.8 0 1 0 -1.6 0zM261.9 1166.4a1.1 1.1 0 1 0 2.2 0a1.1 1.1 0 1 0 -2.2 0zM260.6 1073.3a1.5 1.2 0 1 0 2.9 0a1.5 1.2 0 1 0 -2.9 0zM267.0 1073.3a2.5 2.0 0 1 0 5.1 0a2.5 2.0 0 1 0 -5.1 0zM296.8 1073.3a1.5 1.2 0 1 0 2.9 0a1.5 1.2 0 1 0 -2.9 0z"/>
<path fill="#25a898" d="M411.4 1074.0a3.5 3.2 140 1 0 -5.4 4.5a3.5 3.2 140 1 0 5.4 -4.5z"/>
<path fill="#85ba35" d="M416.2 1073.2a3.0 3.0 55 1 0 3.4 5.0a3.0 3.0 55 1 0 -3.4 -5.0zM470.1 1077.6a3.6 2.7 63 1 0 3.2 6.5a3.6 2.7 63 1 0 -3.2 -6.5zM500.6 1098.6a3.6 3.2 85 1 0 0.5 7.1a3.6 3.2 85 1 0 -0.5 -7.1zM440.7 1128.1a2.8 2.5 110 1 0 -2.0 5.3a2.8 2.5 110 1 0 2.0 -5.3zM412.1 1136.3a2.9 2.2 49 1 0 3.9 4.5a2.9 2.2 49 1 0 -3.9 -4.5zM488.9 1144.4a3.3 3.3 30 1 0 5.8 3.4a3.3 3.3 30 1 0 -5.8 -3.4zM468.8 1159.2a3.2 3.0 57 1 0 3.4 5.3a3.2 3.0 57 1 0 -3.4 -5.3z"/>
<path fill="#c9b726" d="M446.1 1075.5a3.2 2.4 23 1 0 5.8 2.5a3.2 2.4 23 1 0 -5.8 -2.5zM429.0 1078.6a3.3 2.9 148 1 0 -5.7 3.5a3.3 2.9 148 1 0 5.7 -3.5zM448.9 1086.5a3.1 2.9 2 1 0 6.3 0.3a3.1 2.9 2 1 0 -6.3 -0.3zM462.9 1105.2a3.2 3.1 85 1 0 0.5 6.4a3.2 3.1 85 1 0 -0.5 -6.4zM476.0 1118.8a3.3 2.6 82 1 0 0.9 6.6a3.3 2.6 82 1 0 -0.9 -6.6zM420.9 1131.4a2.9 2.7 57 1 0 3.2 5.0a2.9 2.7 57 1 0 -3.2 -5.0zM488.8 1161.1a2.8 2.5 111 1 0 -2.0 5.2a2.8 2.5 111 1 0 2.0 -5.2zM485.8 1173.1a2.7 2.4 1 1 0 5.4 0.1a2.7 2.4 1 1 0 -5.4 -0.1zM427.3 1185.8a2.9 2.5 102 1 0 -1.3 5.6a2.9 2.5 102 1 0 1.3 -5.6zM446.6 1189.5a3.1 2.8 116 1 0 -2.8 5.6a3.1 2.8 116 1 0 2.8 -5.6zM469.0 1196.5a3.5 3.1 18 1 0 6.5 2.2a3.5 3.1 18 1 0 -6.5 -2.2zM437.9 1244.5a2.9 2.2 119 1 0 -2.9 5.0a2.9 2.2 119 1 0 2.9 -5.0zM444.6 1239.9a3.1 2.8 42 1 0 4.6 4.2a3.1 2.8 42 1 0 -4.6 -4.2z"/>
<path fill="#cd6725" d="M456.8 1075.8a2.9 2.7 57 1 0 3.2 4.9a2.9 2.7 57 1 0 -3.2 -4.9zM470.8 1088.2a3.3 2.6 91 1 0 -0.2 6.6a3.3 2.6 91 1 0 0.2 -6.6zM472.5 1140.8a3.5 2.9 130 1 0 -4.6 5.4a3.5 2.9 130 1 0 4.6 -5.4zM447.4 1157.5a3.1 3.1 8 1 0 6.2 1.0a3.1 3.1 8 1 0 -6.2 -1.0zM481.2 1163.4a3.2 2.4 115 1 0 -2.8 5.7a3.2 2.4 115 1 0 2.8 -5.7zM442.2 1199.2a2.8 2.5 29 1 0 5.0 2.8a2.8 2.5 29 1 0 -5.0 -2.8zM449.9 1215.9a2.9 2.2 64 1 0 2.5 5.2a2.9 2.2 64 1 0 -2.5 -5.2zM460.8 1234.9a2.8 2.1 68 1 0 2.1 5.2a2.8 2.1 68 1 0 -2.1 -5.2zM483.2 1232.6a3.3 2.9 159 1 0 -6.2 2.3a3.3 2.9 159 1 0 6.2 -2.3zM441.7 1253.3a2.8 2.7 124 1 0 -3.2 4.7a2.8 2.7 124 1 0 3.2 -4.7z"/>
<path fill="#30a846" d="M480.1 1069.3a3.7 3.1 121 1 0 -3.8 6.3a3.7 3.1 121 1 0 3.8 -6.3zM502.0 1083.3a3.0 2.6 175 1 0 -6.0 0.5a3.0 2.6 175 1 0 6.0 -0.5zM466.6 1122.9a2.7 2.5 100 1 0 -1.0 5.4a2.7 2.5 100 1 0 1.0 -5.4zM503.8 1125.0a3.5 3.3 128 1 0 -4.4 5.5a3.5 3.3 128 1 0 4.4 -5.5z"/>
<path fill="#6fb539" d="M484.8 1076.9a2.8 2.5 11 1 0 5.4 1.1a2.8 2.5 11 1 0 -5.4 -1.1zM415.1 1145.2a3.1 2.4 136 1 0 -4.4 4.3a3.1 2.4 136 1 0 4.4 -4.3z"/>
<path fill="#b1c32c" d="M499.2 1075.2a2.9 2.2 168 1 0 -5.7 1.2a2.9 2.2 168 1 0 5.7 -1.2zM478.4 1085.2a2.6 2.3 11 1 0 5.1 1.0a2.6 2.3 11 1 0 -5.1 -1.0zM457.7 1113.8a3.0 2.5 109 1 0 -2.0 5.7a3.0 2.5 109 1 0 2.0 -5.7zM413.6 1128.6a2.8 2.4 162 1 0 -5.4 1.7a2.8 2.4 162 1 0 5.4 -1.7zM480.9 1136.2a2.9 2.4 73 1 0 1.6 5.6a2.9 2.4 73 1 0 -1.6 -5.6zM420.4 1142.5a3.3 2.9 20 1 0 6.2 2.3a3.3 2.9 20 1 0 -6.2 -2.3zM479.0 1154.8a2.7 2.0 64 1 0 2.3 4.8a2.7 2.0 64 1 0 -2.3 -4.8zM459.0 1160.1a2.9 2.2 60 1 0 2.8 5.0a2.9 2.2 60 1 0 -2.8 -5.0zM478.2 1188.3a2.9 2.1 154 1 0 -5.2 2.5a2.9 2.1 154 1 0 5.2 -2.5zM437.5 1193.6a3.4 2.8 118 1 0 -3.2 5.9a3.4 2.8 118 1 0 3.2 -5.9zM483.8 1216.8a3.4 2.9 58 1 0 3.5 5.8a3.4 2.9 58 1 0 -3.5 -5.8z"/>
<path fill="#45ac41" d="M406.5 1084.3a2.6 1.9 54 1 0 3.1 4.3a2.6 1.9 54 1 0 -3.1 -4.3zM404.6 1127.5a3.2 2.3 102 1 0 -1.4 6.2a3.2 2.3 102 1 0 1.4 -6.2zM401.3 1136.8a2.7 2.4 41 1 0 4.1 3.6a2.7 2.4 41 1 0 -4.1 -3.6zM499.5 1162.4a3.3 2.5 136 1 0 -4.8 4.6a3.3 2.5 136 1 0 4.8 -4.6zM492.4 1188.4a2.9 2.4 61 1 0 2.7 5.1a2.9 2.4 61 1 0 -2.7 -5.1zM407.1 1201.6a2.9 2.5 14 1 0 5.6 1.5a2.9 2.5 14 1 0 -5.6 -1.5z"/>
<path fill="#a5c12f" d="M414.6 1083.6a3.1 2.7 52 1 0 3.8 5.0a3.1 2.7 52 1 0 -3.8 -5.0zM464.2 1090.4a3.0 2.6 162 1 0 -5.7 1.8a3.0 2.6 162 1 0 5.7 -1.8zM464.4 1097.7a2.9 2.3 127 1 0 -3.5 4.6a2.9 2.3 127 1 0 3.5 -4.6zM410.2 1118.5a3.5 2.7 54 1 0 4.0 5.7a3.5 2.7 54 1 0 -4.0 -5.7zM466.2 1114.1a3.1 2.9 94 1 0 -0.5 6.2a3.1 2.9 94 1 0 0.5 -6.2zM507.3 1119.0a3.6 3.5 175 1 0 -7.1 0.6a3.6 3.5 175 1 0 7.1 -0.6zM443.8 1153.1a3.3 3.3 102 1 0 -1.4 6.4a3.3 3.3 102 1 0 1.4 -6.4zM412.9 1163.6a2.7 2.1 48 1 0 3.5 4.0a2.7 2.1 48 1 0 -3.5 -4.0zM479.0 1255.8a3.0 2.5 164 1 0 -5.7 1.6a3.0 2.5 164 1 0 5.7 -1.6z"/>
<path fill="#c8c527" d="M437.9 1079.8a3.7 3.4 148 1 0 -6.2 3.9a3.7 3.4 148 1 0 6.2 -3.9zM423.7 1086.8a3.4 2.9 69 1 0 2.4 6.3a3.4 2.9 69 1 0 -2.4 -6.3zM483.6 1092.9a3.4 2.6 127 1 0 -4.1 5.4a3.4 2.6 127 1 0 4.1 -5.4zM410.6 1110.7a3.7 3.5 42 1 0 5.4 4.9a3.7 3.5 42 1 0 -5.4 -4.9zM424.6 1105.4a3.2 3.1 122 1 0 -3.5 5.4a3.2 3.1 122 1 0 3.5 -5.4zM421.6 1123.6a3.0 2.9 108 1 0 -1.8 5.7a3.0 2.9 108 1 0 1.8 -5.7zM454.5 1123.6a3.2 3.1 56 1 0 3.5 5.3a3.2 3.1 56 1 0 -3.5 -5.3zM438.7 1165.0a3.3 2.8 29 1 0 5.8 3.2a3.3 2.8 29 1 0 -5.8 -3.2zM423.1 1167.3a3.5 3.3 94 1 0 -0.5 6.9a3.5 3.3 94 1 0 0.5 -6.9zM421.6 1197.8a3.4 2.9 112 1 0 -2.7 6.3a3.4 2.9 112 1 0 2.7 -6.3zM465.8 1195.5a3.3 2.7 121 1 0 -3.4 5.7a3.3 2.7 121 1 0 3.4 -5.7zM447.0 1209.2a3.0 2.2 41 1 0 4.5 4.0a3.0 2.2 41 1 0 -4.5 -4.0zM440.7 1212.4a3.3 2.5 94 1 0 -0.5 6.6a3.3 2.5 94 1 0 0.5 -6.6zM426.7 1225.0a3.6 3.4 103 1 0 -1.7 6.9a3.6 3.4 103 1 0 1.7 -6.9zM428.9 1235.4a2.9 2.7 37 1 0 4.6 3.5a2.9 2.7 37 1 0 -4.6 -3.5z"/>
<path fill="#cd9b23" d="M444.4 1081.8a2.9 2.2 86 1 0 0.3 5.9a2.9 2.2 86 1 0 -0.3 -5.9zM459.5 1081.3a3.7 2.8 14 1 0 7.1 1.9a3.7 2.8 14 1 0 -7.1 -1.9zM480.1 1101.3a2.9 2.6 54 1 0 3.3 4.7a2.9 2.6 54 1 0 -3.3 -4.7zM476.4 1107.5a3.5 3.1 155 1 0 -6.3 2.9a3.5 3.1 155 1 0 6.3 -2.9zM488.5 1108.8a3.0 2.6 19 1 0 5.7 2.0a3.0 2.6 19 1 0 -5.7 -2.0zM450.6 1130.9a2.9 2.5 159 1 0 -5.5 2.1a2.9 2.5 159 1 0 5.5 -2.1zM432.6 1131.3a3.6 3.6 84 1 0 0.7 7.3a3.6 3.6 84 1 0 -0.7 -7.3zM421.4 1159.2a2.6 2.5 66 1 0 2.1 4.8a2.6 2.5 66 1 0 -2.1 -4.8zM452.0 1184.7a3.0 2.8 3 1 0 6.0 0.4a3.0 2.8 3 1 0 -6.0 -0.4zM483.8 1191.2a2.9 2.7 92 1 0 -0.2 5.8a2.9 2.7 92 1 0 0.2 -5.8zM435.2 1206.5a2.7 2.3 169 1 0 -5.3 1.0a2.7 2.3 169 1 0 5.3 -1.0zM460.6 1209.3a3.4 2.9 115 1 0 -3.0 6.2a3.4 2.9 115 1 0 3.0 -6.2zM468.2 1204.3a2.8 2.1 51 1 0 3.4 4.3a2.8 2.1 51 1 0 -3.4 -4.3zM432.1 1211.0a3.4 2.9 96 1 0 -0.8 6.8a3.4 2.9 96 1 0 0.8 -6.8zM445.6 1221.1a2.8 2.5 83 1 0 0.6 5.5a2.8 2.5 83 1 0 -0.6 -5.5zM423.6 1237.4a2.7 2.5 168 1 0 -5.3 1.1a2.7 2.5 168 1 0 5.3 -1.1zM471.0 1245.0a2.9 2.7 151 1 0 -5.1 2.8a2.9 2.7 151 1 0 5.1 -2.8zM478.0 1244.0a3.1 2.8 103 1 0 -1.4 6.0a3.1 2.8 103 1 0 1.4 -6.0z"/>
<path fill="#5ab13d" d="M490.9 1081.2a3.6 2.8 115 1 0 -3.2 6.6a3.6 2.8 115 1 0 3.2 -6.6zM501.9 1134.2a3.5 2.8 111 1 0 -2.5 6.5a3.5 2.8 111 1 0 2.5 -6.5zM496.7 1153.9a2.9 2.2 26 1 0 5.2 2.6a2.9 2.2 26 1 0 -5.2 -2.6zM498.8 1170.2a3.2 2.3 131 1 0 -4.3 4.8a3.2 2.3 131 1 0 4.3 -4.8zM407.2 1181.4a3.1 2.4 119 1 0 -3.0 5.3a3.1 2.4 119 1 0 3.0 -5.3z"/>
<path fill="#2aa87a" d="M408.7 1095.3a3.2 2.4 176 1 0 -6.5 0.4a3.2 2.4 176 1 0 6.5 -0.4zM405.5 1154.5a3.0 2.7 122 1 0 -3.2 5.0a3.0 2.7 122 1 0 3.2 -5.0zM405.8 1171.9a2.6 2.0 114 1 0 -2.2 4.8a2.6 2.0 114 1 0 2.2 -4.8zM406.4 1191.2a2.9 2.3 35 1 0 4.7 3.3a2.9 2.3 35 1 0 -4.7 -3.3z"/>
<path fill="#cd8923" d="M413.2 1091.1a3.4 3.4 49 1 0 4.4 5.2a3.4 3.4 49 1 0 -4.4 -5.2zM433.9 1095.9a3.6 3.5 106 1 0 -2.0 6.9a3.6 3.5 106 1 0 2.0 -6.9zM437.9 1117.2a3.4 3.3 88 1 0 0.1 6.8a3.4 3.3 88 1 0 -0.1 -6.8zM475.2 1135.0a3.4 3.1 157 1 0 -6.2 2.6a3.4 3.1 157 1 0 6.2 -2.6zM489.8 1134.2a3.6 3.1 64 1 0 3.1 6.5a3.6 3.1 64 1 0 -3.1 -6.5zM436.1 1151.1a3.2 2.3 153 1 0 -5.8 2.8a3.2 2.3 153 1 0 5.8 -2.8zM482.5 1182.6a3.2 3.2 51 1 0 4.1 5.0a3.2 3.2 51 1 0 -4.1 -5.0zM421.9 1207.1a3.4 2.6 90 1 0 -0.0 6.8a3.4 2.6 90 1 0 0.0 -6.8zM426.3 1217.7a3.0 2.5 149 1 0 -5.1 3.0a3.0 2.5 149 1 0 5.1 -3.0zM461.4 1218.7a2.7 2.4 123 1 0 -3.0 4.4a2.7 2.4 123 1 0 3.0 -4.4zM455.0 1224.2a3.5 3.2 83 1 0 0.8 6.9a3.5 3.2 83 1 0 -0.8 -6.9zM475.1 1222.2a3.4 2.5 129 1 0 -4.2 5.2a3.4 2.5 129 1 0 4.2 -5.2zM445.0 1233.8a3.6 3.4 179 1 0 -7.1 0.0a3.6 3.4 179 1 0 7.1 -0.0zM471.7 1236.4a3.0 2.9 139 1 0 -4.6 3.9a3.0 2.9 139 1 0 4.6 -3.9zM457.4 1238.0a2.8 2.7 82 1 0 0.8 5.6a2.8 2.7 82 1 0 -0.8 -5.6zM433.7 1253.1a3.2 3.1 148 1 0 -5.5 3.4a3.2 3.1 148 1 0 5.5 -3.4zM447.3 1261.3a3.2 3.2 134 1 0 -4.5 4.5a3.2 3.2 134 1 0 4.5 -4.5z"/>
<path fill="#2ea857" d="M437.7 1089.1a3.0 2.5 173 1 0 -6.0 0.7a3.0 2.5 173 1 0 6.0 -0.7zM408.8 1165.7a3.6 3.4 165 1 0 -7.0 1.8a3.6 3.4 165 1 0 7.0 -1.8zM498.7 1181.9a3.6 2.9 170 1 0 -7.1 1.2a3.6 2.9 170 1 0 7.1 -1.2zM414.1 1209.3a2.7 2.1 128 1 0 -3.3 4.1a2.7 2.1 128 1 0 3.3 -4.1z"/>
<path fill="#cd7824" d="M454.6 1092.3a3.4 2.5 106 1 0 -2.0 6.5a3.4 2.5 106 1 0 2.0 -6.5zM423.2 1095.4a3.1 2.5 83 1 0 0.7 6.2a3.1 2.5 83 1 0 -0.7 -6.2zM480.9 1119.6a3.0 2.9 10 1 0 5.9 1.1a3.0 2.9 10 1 0 -5.9 -1.1zM495.0 1125.1a3.5 2.7 139 1 0 -5.4 4.6a3.5 2.7 139 1 0 5.4 -4.6zM411.3 1157.0a2.9 2.2 16 1 0 5.6 1.7a2.9 2.2 16 1 0 -5.6 -1.7zM462.1 1150.5a3.5 3.1 88 1 0 0.2 6.9a3.5 3.1 88 1 0 -0.2 -6.9zM467.9 1151.9a3.4 3.1 40 1 0 5.2 4.5a3.4 3.1 40 1 0 -5.2 -4.5zM443.9 1172.7a3.1 2.6 114 1 0 -2.6 5.6a3.1 2.6 114 1 0 2.6 -5.6zM417.4 1190.5a2.9 2.5 99 1 0 -1.0 5.7a2.9 2.5 99 1 0 1.0 -5.7zM424.2 1195.6a3.6 2.6 20 1 0 6.7 2.4a3.6 2.6 20 1 0 -6.7 -2.4zM479.9 1198.7a3.2 3.1 61 1 0 3.0 5.6a3.2 3.1 61 1 0 -3.0 -5.6zM440.4 1201.7a3.4 2.8 78 1 0 1.4 6.7a3.4 2.8 78 1 0 -1.4 -6.7zM415.4 1217.8a2.6 2.5 102 1 0 -1.1 5.1a2.6 2.5 102 1 0 1.1 -5.1zM456.6 1256.6a2.6 2.3 111 1 0 -1.9 4.9a2.6 2.3 111 1 0 1.9 -4.9z"/>
<path fill="#98be31" d="M499.8 1088.6a3.5 2.6 103 1 0 -1.7 6.9a3.5 2.6 103 1 0 1.7 -6.9zM416.1 1100.9a3.1 2.4 107 1 0 -1.8 5.9a3.1 2.4 107 1 0 1.8 -5.9zM442.0 1099.8a3.4 3.4 56 1 0 3.8 5.7a3.4 3.4 56 1 0 -3.8 -5.7zM471.3 1096.8a2.9 2.7 99 1 0 -1.0 5.6a2.9 2.7 99 1 0 1.0 -5.6zM492.3 1099.0a3.4 3.1 98 1 0 -0.9 6.7a3.4 3.1 98 1 0 0.9 -6.7zM418.2 1114.1a3.4 2.9 41 1 0 5.2 4.5a3.4 2.9 41 1 0 -5.2 -4.5zM495.1 1117.3a2.9 2.7 146 1 0 -4.8 3.2a2.9 2.7 146 1 0 4.8 -3.2zM421.9 1179.0a3.3 2.8 14 1 0 6.5 1.7a3.3 2.8 14 1 0 -6.5 -1.7z"/>
<path fill="#bec62a" d="M401.8 1110.1a3.4 2.6 50 1 0 4.3 5.3a3.4 2.6 50 1 0 -4.3 -5.3zM442.0 1109.9a3.3 2.6 47 1 0 4.5 4.9a3.3 2.6 47 1 0 -4.5 -4.9zM401.2 1118.5a3.7 3.3 70 1 0 2.4 6.9a3.7 3.3 70 1 0 -2.4 -6.9zM449.7 1120.4a2.8 2.2 104 1 0 -1.4 5.4a2.8 2.2 104 1 0 1.4 -5.4zM485.5 1126.0a3.3 2.9 93 1 0 -0.4 6.6a3.3 2.9 93 1 0 0.4 -6.6zM445.1 1138.3a2.9 2.2 156 1 0 -5.3 2.3a2.9 2.2 156 1 0 5.3 -2.3zM465.3 1133.8a3.7 3.0 150 1 0 -6.4 3.6a3.7 3.0 150 1 0 6.4 -3.6zM475.8 1174.7a3.2 2.9 15 1 0 6.1 1.7a3.2 2.9 15 1 0 -6.1 -1.7zM414.6 1180.8a3.6 3.6 39 1 0 5.5 4.6a3.6 3.6 39 1 0 -5.5 -4.6zM444.7 1180.7a3.2 2.6 47 1 0 4.3 4.7a3.2 2.6 47 1 0 -4.3 -4.7z"/>
<path fill="#cba924" d="M434.7 1106.1a3.2 3.1 138 1 0 -4.8 4.2a3.2 3.1 138 1 0 4.8 -4.2zM453.6 1111.8a2.6 1.9 102 1 0 -1.1 5.1a2.6 1.9 102 1 0 1.1 -5.1zM485.9 1111.5a3.3 2.6 148 1 0 -5.6 3.4a3.3 2.6 148 1 0 5.6 -3.4zM427.6 1115.1a2.7 2.0 58 1 0 2.8 4.6a2.7 2.0 58 1 0 -2.8 -4.6zM433.0 1124.2a3.5 2.7 166 1 0 -6.8 1.7a3.5 2.7 166 1 0 6.8 -1.7zM449.5 1137.3a3.6 2.6 60 1 0 3.5 6.2a3.6 2.6 60 1 0 -3.5 -6.2zM433.8 1141.6a2.8 2.4 119 1 0 -2.7 4.9a2.8 2.4 119 1 0 2.7 -4.9zM487.3 1152.6a3.5 2.9 35 1 0 5.7 4.1a3.5 2.9 35 1 0 -5.7 -4.1zM449.2 1165.4a3.5 3.0 32 1 0 5.9 3.8a3.5 3.0 32 1 0 -5.9 -3.8zM463.9 1169.3a3.2 2.6 142 1 0 -5.0 3.8a3.2 2.6 142 1 0 5.0 -3.8zM439.3 1177.5a3.5 3.2 150 1 0 -6.1 3.4a3.5 3.2 150 1 0 6.1 -3.4zM473.9 1176.3a3.7 3.3 79 1 0 1.3 7.2a3.7 3.3 79 1 0 -1.3 -7.2zM436.1 1184.7a3.4 3.2 101 1 0 -1.4 6.7a3.4 3.2 101 1 0 1.4 -6.7zM452.5 1193.8a3.2 3.0 30 1 0 5.5 3.2a3.2 3.0 30 1 0 -5.5 -3.2zM475.0 1213.1a2.7 2.1 64 1 0 2.3 4.8a2.7 2.1 64 1 0 -2.3 -4.8zM431.7 1222.9a3.3 2.4 26 1 0 5.9 2.9a3.3 2.4 26 1 0 -5.9 -2.9zM456.5 1249.4a2.8 2.6 43 1 0 4.1 3.8a2.8 2.6 43 1 0 -4.1 -3.8z"/>
<path fill="#2ca869" d="M401.5 1145.7a2.9 2.5 61 1 0 2.8 5.2a2.9 2.5 61 1 0 -2.8 -5.2z"/>
<path fill="#c2311f" d="M444.4 1143.8a3.6 2.9 104 1 0 -1.8 7.0a3.6 2.9 104 1 0 1.8 -7.0zM465.3 1212.4a2.9 2.5 58 1 0 3.0 4.9a2.9 2.5 58 1 0 -3.0 -4.9z"/>
<path fill="#ca5924" d="M482.9 1145.7a3.7 2.9 138 1 0 -5.5 4.9a3.7 2.9 138 1 0 5.5 -4.9zM484.2 1222.4a3.0 2.6 148 1 0 -5.2 3.2a3.0 2.6 148 1 0 5.2 -3.2zM447.2 1247.6a3.7 3.5 44 1 0 5.2 5.1a3.7 3.5 44 1 0 -5.2 -5.1zM468.2 1258.7a3.4 3.0 172 1 0 -6.7 0.9a3.4 3.0 172 1 0 6.7 -0.9z"/>
<path fill="#c53e21" d="M468.5 1167.4a2.9 2.1 97 1 0 -0.8 5.7a2.9 2.1 97 1 0 0.8 -5.7zM464.3 1186.9a2.7 2.6 50 1 0 3.5 4.2a2.7 2.6 50 1 0 -3.5 -4.2zM464.2 1253.5a2.7 2.5 16 1 0 5.1 1.6a2.7 2.5 16 1 0 -5.1 -1.6z"/>
<path fill="#c0241e" d="M416.1 1226.4a3.1 2.9 70 1 0 2.1 5.9a3.1 2.9 70 1 0 -2.1 -5.9zM429.9 1245.1a3.5 3.1 144 1 0 -5.7 4.0a3.5 3.1 144 1 0 5.7 -4.0zM432.4 1264.8a3.2 2.7 9 1 0 6.3 1.0a3.2 2.7 9 1 0 -6.3 -1.0z"/>
<path fill="#c84b23" d="M466.1 1227.7a3.4 2.7 149 1 0 -5.8 3.4a3.4 2.7 149 1 0 5.8 -3.4z"/>
<path fill="#000" d="M409.9 1128.9a0.7 0.7 0 1 0 1.3 0a0.7 0.7 0 1 0 -1.3 0zM410.6 1130.6a1.4 1.4 0 1 0 2.7 0a1.4 1.4 0 1 0 -2.7 0zM449.4 1193.5a1.5 1.5 0 1 0 3.1 0a1.5 1.5 0 1 0 -3.1 0zM450.9 1192.1a1.3 1.3 0 1 0 2.7 0a1.3 1.3 0 1 0 -2.7 0zM449.5 1192.2a1.6 1.6 0 1 0 3.2 0a1.6 1.6 0 1 0 -3.2 0zM500.8 1134.0a1.4 1.4 0 1 0 2.7 0a1.4 1.4 0 1 0 -2.7 0zM490.5 1181.2a0.8 0.8 0 1 0 1.6 0a0.8 0.8 0 1 0 -1.6 0zM443.6 1146.9a1.2 1.2 0 1 0 2.4 0a1.2 1.2 0 1 0 -2.4 0zM444.6 1147.7a1.4 1.4 0 1 0 2.9 0a1.4 1.4 0 1 0 -2.9 0zM409.6 1145.1a1.5 1.5 0 1 0 3.0 0a1.5 1.5 0 1 0 -3.0 0zM409.4 1143.6a1.2 1.2 0 1 0 2.4 0a1.2 1.2 0 1 0 -2.4 0zM409.9 1177.0a1.0 1.0 0 1 0 1.9 0a1.0 1.0 0 1 0 -1.9 0zM461.2 1088.3a1.6 1.6 0 1 0 3.2 0a1.6 1.6 0 1 0 -3.2 0zM444.2 1076.5a1.1 1.1 0 1 0 2.3 0a1.1 1.1 0 1 0 -2.3 0zM465.4 1229.7a1.4 1.4 0 1 0 2.9 0a1.4 1.4 0 1 0 -2.9 0zM501.6 1156.6a1.3 1.3 0 1 0 2.6 0a1.3 1.3 0 1 0 -2.6 0zM456.7 1255.6a0.8 0.8 0 1 0 1.5 0a0.8 0.8 0 1 0 -1.5 0zM453.1 1162.2a1.0 1.0 0 1 0 1.9 0a1.0 1.0 0 1 0 -1.9 0zM456.4 1166.0a1.1 1.1 0 1 0 2.2 0a1.1 1.1 0 1 0 -2.2 0zM440.8 1173.7a1.1 1.1 0 1 0 2.2 0a1.1 1.1 0 1 0 -2.2 0zM441.2 1177.2a0.7 0.7 0 1 0 1.3 0a0.7 0.7 0 1 0 -1.3 0zM498.4 1150.2a0.6 0.6 0 1 0 1.3 0a0.6 0.6 0 1 0 -1.3 0zM497.5 1151.5a1.5 1.5 0 1 0 2.9 0a1.5 1.5 0 1 0 -2.9 0zM428.9 1151.6a1.1 1.1 0 1 0 2.2 0a1.1 1.1 0 1 0 -2.2 0zM477.8 1196.2a1.3 1.3 0 1 0 2.6 0a1.3 1.3 0 1 0 -2.6 0zM421.8 1219.3a1.5 1.5 0 1 0 3.1 0a1.5 1.5 0 1 0 -3.1 0zM426.3 1220.9a1.2 1.2 0 1 0 2.4 0a1.2 1.2 0 1 0 -2.4 0zM448.7 1235.4a1.5 1.5 0 1 0 3.0 0a1.5 1.5 0 1 0 -3.0 0zM409.9 1198.9a0.9 0.9 0 1 0 1.8 0a0.9 0.9 0 1 0 -1.8 0zM433.5 1171.1a1.1 1.1 0 1 0 2.2 0a1.1 1.1 0 1 0 -2.2 0zM435.9 1169.3a1.0 1.0 0 1 0 1.9 0a1.0 1.0 0 1 0 -1.9 0zM435.7 1174.4a0.9 0.9 0 1 0 1.9 0a0.9 0.9 0 1 0 -1.9 0zM455.4 1095.5a0.6 0.6 0 1 0 1.3 0a0.6 0.6 0 1 0 -1.3 0zM455.4 1092.3a1.1 1.1 0 1 0 2.1 0a1.1 1.1 0 1 0 -2.1 0zM456.3 1210.1a1.5 1.5 0 1 0 3.1 0a1.5 1.5 0 1 0 -3.1 0zM457.8 1209.8a0.7 0.7 0 1 0 1.5 0a0.7 0.7 0 1 0 -1.5 0zM451.4 1204.9a1.1 1.1 0 1 0 2.3 0a1.1 1.1 0 1 0 -2.3 0zM490.2 1159.7a1.0 1.0 0 1 0 1.9 0a1.0 1.0 0 1 0 -1.9 0zM490.7 1162.9a1.2 1.2 0 1 0 2.4 0a1.2 1.2 0 1 0 -2.4 0zM452.7 1123.6a1.2 1.2 0 1 0 2.5 0a1.2 1.2 0 1 0 -2.5 0zM473.1 1129.9a0.8 0.8 0 1 0 1.7 0a0.8 0.8 0 1 0 -1.7 0zM470.8 1216.1a1.6 1.6 0 1 0 3.1 0a1.6 1.6 0 1 0 -3.1 0zM470.2 1215.2a1.2 1.2 0 1 0 2.4 0a1.2 1.2 0 1 0 -2.4 0zM458.2 1158.4a0.9 0.9 0 1 0 1.7 0a0.9 0.9 0 1 0 -1.7 0zM446.6 1223.2a0.8 0.8 0 1 0 1.5 0a0.8 0.8 0 1 0 -1.5 0zM480.6 1168.9a0.9 0.9 0 1 0 1.8 0a0.9 0.9 0 1 0 -1.8 0zM497.2 1156.8a1.1 1.1 0 1 0 2.1 0a1.1 1.1 0 1 0 -2.1 0zM475.9 1252.5a1.0 1.0 0 1 0 2.0 0a1.0 1.0 0 1 0 -2.0 0zM447.0 1191.1a0.9 0.9 0 1 0 1.8 0a0.9 0.9 0 1 0 -1.8 0zM500.3 1170.4a1.0 1.0 0 1 0 1.9 0a1.0 1.0 0 1 0 -1.9 0zM496.4 1168.5a1.6 1.6 0 1 0 3.2 0a1.6 1.6 0 1 0 -3.2 0zM413.4 1088.4a1.0 1.0 0 1 0 2.0 0a1.0 1.0 0 1 0 -2.0 0zM413.1 1090.8a1.4 1.4 0 1 0 2.8 0a1.4 1.4 0 1 0 -2.8 0zM482.0 1154.0a1.3 1.3 0 1 0 2.7 0a1.3 1.3 0 1 0 -2.7 0zM479.6 1154.2a0.8 0.8 0 1 0 1.6 0a0.8 0.8 0 1 0 -1.6 0zM480.1 1091.8a1.0 1.0 0 1 0 2.0 0a1.0 1.0 0 1 0 -2.0 0zM481.6 1092.2a0.7 0.7 0 1 0 1.4 0a0.7 0.7 0 1 0 -1.4 0zM500.8 1134.0a0.7 0.7 0 1 0 1.5 0a0.7 0.7 0 1 0 -1.5 0zM500.0 1133.0a1.1 1.1 0 1 0 2.3 0a1.1 1.1 0 1 0 -2.3 0zM481.6 1140.6a1.3 1.3 0 1 0 2.6 0a1.3 1.3 0 1 0 -2.6 0zM465.8 1189.3a1.2 1.2 0 1 0 2.3 0a1.2 1.2 0 1 0 -2.3 0zM466.0 1187.9a0.8 0.8 0 1 0 1.6 0a0.8 0.8 0 1 0 -1.6 0zM500.9 1136.0a1.6 1.6 0 1 0 3.2 0a1.6 1.6 0 1 0 -3.2 0zM498.3 1134.2a0.7 0.7 0 1 0 1.5 0a0.7 0.7 0 1 0 -1.5 0zM495.8 1074.5a1.4 1.4 0 1 0 2.8 0a1.4 1.4 0 1 0 -2.8 0zM498.4 1074.0a1.2 1.2 0 1 0 2.5 0a1.2 1.2 0 1 0 -2.5 0zM496.9 1145.5a1.3 1.3 0 1 0 2.7 0a1.3 1.3 0 1 0 -2.7 0zM495.7 1148.7a1.5 1.5 0 1 0 3.0 0a1.5 1.5 0 1 0 -3.0 0zM418.3 1216.7a1.6 1.6 0 1 0 3.2 0a1.6 1.6 0 1 0 -3.2 0zM415.2 1217.3a1.3 1.3 0 1 0 2.5 0a1.3 1.3 0 1 0 -2.5 0zM444.2 1139.7a1.6 1.6 0 1 0 3.2 0a1.6 1.6 0 1 0 -3.2 0zM445.7 1140.5a1.1 1.1 0 1 0 2.1 0a1.1 1.1 0 1 0 -2.1 0zM464.2 1256.6a0.8 0.8 0 1 0 1.6 0a0.8 0.8 0 1 0 -1.6 0zM484.4 1168.5a1.4 1.4 0 1 0 2.9 0a1.4 1.4 0 1 0 -2.9 0zM428.0 1229.1a0.8 0.8 0 1 0 1.7 0a0.8 0.8 0 1 0 -1.7 0zM467.6 1147.4a1.6 1.6 0 1 0 3.1 0a1.6 1.6 0 1 0 -3.1 0zM467.0 1147.2a1.1 1.1 0 1 0 2.2 0a1.1 1.1 0 1 0 -2.2 0zM473.1 1085.2a1.3 1.3 0 1 0 2.6 0a1.3 1.3 0 1 0 -2.6 0zM447.7 1215.2a0.7 0.7 0 1 0 1.4 0a0.7 0.7 0 1 0 -1.4 0zM445.0 1243.2a1.0 1.0 0 1 0 2.1 0a1.0 1.0 0 1 0 -2.1 0zM441.9 1243.9a1.1 1.1 0 1 0 2.2 0a1.1 1.1 0 1 0 -2.2 0zM430.8 1183.3a0.8 0.8 0 1 0 1.6 0a0.8 0.8 0 1 0 -1.6 0zM431.1 1187.0a1.6 1.6 0 1 0 3.2 0a1.6 1.6 0 1 0 -3.2 0zM413.8 1196.5a1.2 1.2 0 1 0 2.3 0a1.2 1.2 0 1 0 -2.3 0zM498.1 1166.6a0.9 0.9 0 1 0 1.8 0a0.9 0.9 0 1 0 -1.8 0zM497.4 1169.2a1.3 1.3 0 1 0 2.6 0a1.3 1.3 0 1 0 -2.6 0zM464.6 1081.0a1.1 1.1 0 1 0 2.2 0a1.1 1.1 0 1 0 -2.2 0zM465.1 1257.0a1.5 1.5 0 1 0 2.9 0a1.5 1.5 0 1 0 -2.9 0zM462.4 1255.8a1.5 1.5 0 1 0 2.9 0a1.5 1.5 0 1 0 -2.9 0zM462.5 1090.0a0.8 0.8 0 1 0 1.5 0a0.8 0.8 0 1 0 -1.5 0zM463.4 1092.3a0.6 0.6 0 1 0 1.2 0a0.6 0.6 0 1 0 -1.2 0zM401.1 1073.3a2.1 1.7 0 1 0 4.2 0a2.1 1.7 0 1 0 -4.2 0zM421.0 1073.3a1.6 1.3 0 1 0 3.2 0a1.6 1.3 0 1 0 -3.2 0zM456.8 1073.3a1.2 1.0 0 1 0 2.5 0a1.2 1.0 0 1 0 -2.5 0zM466.9 1073.3a1.4 1.1 0 1 0 2.8 0a1.4 1.1 0 1 0 -2.8 0zM476.8 1073.3a1.3 1.0 0 1 0 2.6 0a1.3 1.0 0 1 0 -2.6 0zM494.5 1073.3a2.0 1.6 0 1 0 4.0 0a2.0 1.6 0 1 0 -4.0 0z"/>
<path fill="#2ca869" d="M124.1 1315.4a3.2 2.5 163 1 0 -6.0 1.8a3.2 2.5 163 1 0 6.0 -1.8zM116.7 1323.5a3.2 3.1 140 1 0 -4.9 4.1a3.2 3.1 140 1 0 4.9 -4.1zM194.9 1329.6a3.0 2.4 18 1 0 5.7 1.9a3.0 2.4 18 1 0 -5.7 -1.9zM203.3 1328.0a2.9 2.3 4 1 0 5.8 0.4a2.9 2.3 4 1 0 -5.8 -0.4zM203.6 1355.0a3.0 2.6 30 1 0 5.2 3.1a3.0 2.6 30 1 0 -5.2 -3.1zM124.1 1368.4a3.6 3.4 119 1 0 -3.5 6.3a3.6 3.4 119 1 0 3.5 -6.3zM203.4 1378.9a2.7 2.6 90 1 0 -0.0 5.3a2.7 2.6 90 1 0 0.0 -5.3zM117.7 1441.0a3.1 3.0 34 1 0 5.0 3.5a3.1 3.0 34 1 0 -5.0 -3.5z"/>
<path fill="#30a846" d="M134.5 1315.6a2.7 2.5 148 1 0 -4.6 2.8a2.7 2.5 148 1 0 4.6 -2.8zM139.2 1316.3a2.9 2.6 44 1 0 4.1 4.0a2.9 2.6 44 1 0 -4.1 -4.0zM196.2 1317.4a3.1 2.6 53 1 0 3.7 4.9a3.1 2.6 53 1 0 -3.7 -4.9zM116.3 1333.5a3.7 2.7 168 1 0 -7.2 1.5a3.7 2.7 168 1 0 7.2 -1.5zM111.7 1349.5a3.3 2.6 100 1 0 -1.2 6.4a3.3 2.6 100 1 0 1.2 -6.4zM221.7 1380.8a3.0 2.3 88 1 0 0.1 6.1a3.0 2.3 88 1 0 -0.1 -6.1zM117.3 1413.1a3.3 2.7 121 1 0 -3.5 5.6a3.3 2.7 121 1 0 3.5 -5.6z"/>
<path fill="#85ba35" d="M152.4 1315.0a3.2 3.1 115 1 0 -2.8 5.8a3.2 3.1 115 1 0 2.8 -5.8zM171.5 1317.7a3.4 3.4 160 1 0 -6.4 2.2a3.4 3.4 160 1 0 6.4 -2.2zM195.3 1344.8a3.1 3.0 63 1 0 2.7 5.5a3.1 3.0 63 1 0 -2.7 -5.5zM227.8 1354.6a2.9 2.3 121 1 0 -3.0 5.0a2.9 2.3 121 1 0 3.0 -5.0zM197.4 1363.4a2.6 2.5 69 1 0 1.8 4.9a2.6 2.5 69 1 0 -1.8 -4.9zM217.4 1367.4a3.3 2.6 122 1 0 -3.5 5.5a3.3 2.6 122 1 0 3.5 -5.5zM208.6 1398.1a2.8 2.5 102 1 0 -1.2 5.6a2.8 2.5 102 1 0 1.2 -5.6zM172.0 1434.2a3.1 2.5 60 1 0 3.1 5.5a3.1 2.5 60 1 0 -3.1 -5.5zM167.8 1441.8a2.9 2.8 50 1 0 3.8 4.5a2.9 2.8 50 1 0 -3.8 -4.5zM201.3 1443.8a3.3 2.6 167 1 0 -6.4 1.4a3.3 2.6 167 1 0 6.4 -1.4zM119.1 1449.3a2.8 2.3 18 1 0 5.4 1.8a2.8 2.3 18 1 0 -5.4 -1.8z"/>
<path fill="#c8c527" d="M155.8 1317.9a3.4 3.0 6 1 0 6.8 0.8a3.4 3.0 6 1 0 -6.8 -0.8zM214.9 1342.1a3.4 2.5 58 1 0 3.5 5.8a3.4 2.5 58 1 0 -3.5 -5.8zM179.2 1374.4a3.3 2.7 129 1 0 -4.2 5.1a3.3 2.7 129 1 0 4.2 -5.1zM136.9 1390.0a3.0 2.5 167 1 0 -5.8 1.3a3.0 2.5 167 1 0 5.8 -1.3zM128.4 1441.8a3.2 3.0 25 1 0 5.8 2.8a3.2 3.0 25 1 0 -5.8 -2.8zM148.5 1441.8a2.6 2.3 66 1 0 2.1 4.8a2.6 2.3 66 1 0 -2.1 -4.8zM171.3 1461.4a2.6 1.9 6 1 0 5.2 0.6a2.6 1.9 6 1 0 -5.2 -0.6zM148.0 1494.1a2.6 2.0 74 1 0 1.4 5.0a2.6 2.0 74 1 0 -1.4 -5.0zM180.3 1496.3a3.5 3.2 159 1 0 -6.6 2.5a3.5 3.2 159 1 0 6.6 -2.5z"/>
<path fill="#98be31" d="M181.1 1320.3a2.7 2.6 149 1 0 -4.6 2.7a2.7 2.6 149 1 0 4.6 -2.7zM216.0 1317.3a3.0 2.5 77 1 0 1.3 5.8a3.0 2.5 77 1 0 -1.3 -5.8zM228.0 1315.5a3.0 2.8 159 1 0 -5.6 2.1a3.0 2.8 159 1 0 5.6 -2.1zM197.4 1335.0a3.2 2.4 103 1 0 -1.5 6.3a3.2 2.4 103 1 0 1.5 -6.3zM113.8 1341.2a3.1 3.0 120 1 0 -3.2 5.3a3.1 3.0 120 1 0 3.2 -5.3zM224.4 1372.4a3.5 2.9 99 1 0 -1.2 6.8a3.5 2.9 99 1 0 1.2 -6.8zM114.4 1376.0a3.4 2.6 120 1 0 -3.4 5.8a3.4 2.6 120 1 0 3.4 -5.8zM210.0 1379.0a2.8 2.6 32 1 0 4.8 3.0a2.8 2.6 32 1 0 -4.8 -3.0zM152.1 1387.6a3.5 3.3 71 1 0 2.2 6.6a3.5 3.3 71 1 0 -2.2 -6.6zM220.8 1395.5a3.6 3.6 156 1 0 -6.7 2.9a3.6 3.6 156 1 0 6.7 -2.9zM160.8 1405.1a3.4 3.3 84 1 0 0.6 6.7a3.4 3.3 84 1 0 -0.6 -6.7zM116.8 1421.2a3.0 2.8 107 1 0 -1.8 5.7a3.0 2.8 107 1 0 1.8 -5.7zM212.0 1433.5a3.4 2.7 97 1 0 -0.9 6.7a3.4 2.7 97 1 0 0.9 -6.7zM161.3 1449.3a3.4 3.1 115 1 0 -2.9 6.1a3.4 3.1 115 1 0 2.9 -6.1z"/>
<path fill="#45ac41" d="M209.2 1318.2a3.5 3.0 126 1 0 -4.2 5.6a3.5 3.0 126 1 0 4.2 -5.6zM228.7 1330.2a2.8 2.7 152 1 0 -4.9 2.6a2.8 2.7 152 1 0 4.9 -2.6zM204.5 1345.7a3.4 3.2 34 1 0 5.6 3.9a3.4 3.2 34 1 0 -5.6 -3.9zM212.9 1350.7a3.1 2.5 40 1 0 4.7 4.1a3.1 2.5 40 1 0 -4.7 -4.1zM115.1 1386.3a3.2 2.8 120 1 0 -3.3 5.5a3.2 2.8 120 1 0 3.3 -5.5zM198.6 1389.0a3.2 2.8 53 1 0 3.8 5.2a3.2 2.8 53 1 0 -3.8 -5.2zM208.4 1387.5a3.5 3.1 62 1 0 3.2 6.1a3.5 3.1 62 1 0 -3.2 -6.1zM209.7 1407.2a2.7 2.6 140 1 0 -4.1 3.4a2.7 2.6 140 1 0 4.1 -3.4zM198.0 1417.0a3.6 3.1 120 1 0 -3.7 6.2a3.6 3.1 120 1 0 3.7 -6.2zM129.4 1423.7a2.9 2.5 150 1 0 -5.0 2.8a2.9 2.5 150 1 0 5.0 -2.8zM129.2 1431.5a2.7 2.6 111 1 0 -2.0 5.1a2.7 2.6 111 1 0 2.0 -5.1zM201.4 1433.1a3.5 2.8 93 1 0 -0.4 7.1a3.5 2.8 93 1 0 0.4 -7.1zM208.8 1452.9a3.5 2.7 145 1 0 -5.7 3.9a3.5 2.7 145 1 0 5.7 -3.9z"/>
<path fill="#6fb539" d="M121.7 1324.5a2.6 2.3 42 1 0 3.9 3.6a2.6 2.3 42 1 0 -3.9 -3.6zM205.3 1335.6a2.7 2.6 55 1 0 3.1 4.5a2.7 2.6 55 1 0 -3.1 -4.5zM118.5 1350.8a3.6 3.4 29 1 0 6.3 3.6a3.6 3.4 29 1 0 -6.3 -3.6zM124.0 1360.6a2.9 2.7 144 1 0 -4.8 3.4a2.9 2.7 144 1 0 4.8 -3.4zM166.0 1363.8a3.6 3.5 28 1 0 6.3 3.4a3.6 3.5 28 1 0 -6.3 -3.4zM198.2 1397.8a3.7 2.7 51 1 0 4.6 5.7a3.7 2.7 51 1 0 -4.6 -5.7zM128.0 1406.0a2.8 2.5 152 1 0 -4.9 2.6a2.8 2.5 152 1 0 4.9 -2.6zM216.2 1412.7a3.4 3.0 94 1 0 -0.6 6.8a3.4 3.0 94 1 0 0.6 -6.8z"/>
<path fill="#a5c12f" d="M130.9 1323.9a3.3 2.4 67 1 0 2.5 6.1a3.3 2.4 67 1 0 -2.5 -6.1zM133.5 1335.4a2.9 2.8 157 1 0 -5.3 2.2a2.9 2.8 157 1 0 5.3 -2.2zM167.7 1337.4a3.5 3.5 50 1 0 4.4 5.4a3.5 3.5 50 1 0 -4.4 -5.4zM151.9 1343.5a3.1 2.6 136 1 0 -4.5 4.2a3.1 2.6 136 1 0 4.5 -4.2zM167.3 1345.1a2.6 2.6 78 1 0 1.1 5.1a2.6 2.6 78 1 0 -1.1 -5.1zM226.3 1346.8a3.0 2.7 127 1 0 -3.7 4.8a3.0 2.7 127 1 0 3.7 -4.8zM109.9 1370.3a3.3 2.4 1 1 0 6.6 0.2a3.3 2.4 1 1 0 -6.6 -0.2zM170.2 1381.6a3.0 2.8 116 1 0 -2.6 5.3a3.0 2.8 116 1 0 2.6 -5.3zM160.6 1389.7a2.8 2.1 7 1 0 5.5 0.7a2.8 2.1 7 1 0 -5.5 -0.7zM138.7 1405.7a3.4 3.3 22 1 0 6.3 2.6a3.4 3.3 22 1 0 -6.3 -2.6zM115.3 1431.0a3.4 3.0 54 1 0 4.0 5.6a3.4 3.0 54 1 0 -4.0 -5.6zM164.2 1486.4a3.3 3.1 128 1 0 -4.1 5.1a3.3 3.1 128 1 0 4.1 -5.1z"/>
<path fill="#cd8923" d="M139.3 1325.1a3.6 3.0 21 1 0 6.7 2.7a3.6 3.0 21 1 0 -6.7 -2.7zM171.8 1327.8a3.2 2.9 105 1 0 -1.7 6.1a3.2 2.9 105 1 0 1.7 -6.1zM136.9 1343.0a3.3 2.6 23 1 0 6.2 2.6a3.3 2.6 23 1 0 -6.2 -2.6zM183.4 1346.5a3.4 3.1 17 1 0 6.4 2.0a3.4 3.1 17 1 0 -6.4 -2.0zM161.2 1368.6a3.5 2.9 121 1 0 -3.6 5.9a3.5 2.9 121 1 0 3.6 -5.9zM144.0 1379.0a3.5 3.0 148 1 0 -5.9 3.7a3.5 3.0 148 1 0 5.9 -3.7zM184.2 1382.3a3.0 2.3 22 1 0 5.6 2.3a3.0 2.3 22 1 0 -5.6 -2.3zM184.9 1383.6a3.4 3.3 140 1 0 -5.2 4.3a3.4 3.3 140 1 0 5.2 -4.3zM170.1 1398.7a2.9 2.9 66 1 0 2.3 5.3a2.9 2.9 66 1 0 -2.3 -5.3zM167.8 1434.7a3.7 2.9 168 1 0 -7.2 1.5a3.7 2.9 168 1 0 7.2 -1.5zM143.3 1449.8a3.0 2.3 128 1 0 -3.8 4.7a3.0 2.3 128 1 0 3.8 -4.7zM166.4 1450.0a3.1 2.4 64 1 0 2.7 5.7a3.1 2.4 64 1 0 -2.7 -5.7zM139.6 1491.8a3.4 2.5 113 1 0 -2.8 6.3a3.4 2.5 113 1 0 2.8 -6.3zM188.6 1497.7a3.3 3.0 176 1 0 -6.7 0.4a3.3 3.0 176 1 0 6.7 -0.4zM173.3 1503.5a2.8 2.1 121 1 0 -3.0 4.8a2.8 2.1 121 1 0 3.0 -4.8zM161.0 1513.3a3.6 3.0 30 1 0 6.2 3.7a3.6 3.0 30 1 0 -6.2 -3.7z"/>
<path fill="#c9b726" d="M153.3 1326.3a3.1 2.5 166 1 0 -6.0 1.4a3.1 2.5 166 1 0 6.0 -1.4zM181.5 1339.7a3.0 2.6 137 1 0 -4.4 4.0a3.0 2.6 137 1 0 4.4 -4.0zM165.9 1355.3a2.9 2.4 43 1 0 4.2 4.0a2.9 2.4 43 1 0 -4.2 -4.0zM186.1 1353.1a2.8 2.2 66 1 0 2.2 5.1a2.8 2.2 66 1 0 -2.2 -5.1zM147.8 1361.4a3.2 2.4 34 1 0 5.2 3.6a3.2 2.4 34 1 0 -5.2 -3.6zM139.9 1369.6a2.8 2.2 82 1 0 0.8 5.6a2.8 2.2 82 1 0 -0.8 -5.6zM154.1 1379.6a3.6 2.6 161 1 0 -6.9 2.3a3.6 2.6 161 1 0 6.9 -2.3zM146.1 1389.2a3.0 2.9 172 1 0 -5.9 0.8a3.0 2.9 172 1 0 5.9 -0.8zM136.3 1406.2a3.2 2.5 131 1 0 -4.3 4.8a3.2 2.5 131 1 0 4.3 -4.8zM185.9 1419.8a3.1 2.7 110 1 0 -2.2 5.9a3.1 2.7 110 1 0 2.2 -5.9zM143.2 1433.3a3.0 2.3 6 1 0 5.9 0.6a3.0 2.3 6 1 0 -5.9 -0.6zM152.0 1458.5a3.6 2.7 29 1 0 6.3 3.5a3.6 2.7 29 1 0 -6.3 -3.5zM147.6 1468.7a2.7 2.0 141 1 0 -4.3 3.4a2.7 2.0 141 1 0 4.3 -3.4zM135.8 1477.5a3.6 2.9 174 1 0 -7.2 0.7a3.6 2.9 174 1 0 7.2 -0.7z"/>
<path fill="#b1c32c" d="M158.7 1325.8a3.6 3.5 27 1 0 6.4 3.3a3.6 3.5 27 1 0 -6.4 -3.3zM178.0 1321.5a3.1 2.9 58 1 0 3.2 5.2a3.1 2.9 58 1 0 -3.2 -5.2zM179.6 1368.0a3.3 3.1 176 1 0 -6.6 0.4a3.3 3.1 176 1 0 6.6 -0.4zM138.1 1424.5a3.5 2.9 138 1 0 -5.2 4.6a3.5 2.9 138 1 0 5.2 -4.6zM192.5 1440.3a3.4 2.7 178 1 0 -6.8 0.2a3.4 2.7 178 1 0 6.8 -0.2zM207.6 1442.2a3.5 2.7 80 1 0 1.2 6.9a3.5 2.7 80 1 0 -1.2 -6.9z"/>
<path fill="#2ea857" d="M139.8 1333.4a3.6 3.4 91 1 0 -0.2 7.2a3.6 3.4 91 1 0 0.2 -7.2zM195.7 1355.0a2.7 2.6 35 1 0 4.3 3.1a2.7 2.6 35 1 0 -4.3 -3.1zM222.9 1363.7a3.5 3.2 41 1 0 5.3 4.6a3.5 3.2 41 1 0 -5.3 -4.6zM123.5 1393.7a3.0 2.5 93 1 0 -0.4 6.1a3.0 2.5 93 1 0 0.4 -6.1z"/>
<path fill="#bec62a" d="M146.7 1334.0a2.9 2.1 36 1 0 4.6 3.4a2.9 2.1 36 1 0 -4.6 -3.4zM161.9 1334.9a2.7 2.6 154 1 0 -4.9 2.3a2.7 2.6 154 1 0 4.9 -2.3zM180.6 1349.8a3.0 2.4 163 1 0 -5.7 1.6a3.0 2.4 163 1 0 5.7 -1.6zM129.1 1360.7a3.5 3.2 66 1 0 2.8 6.4a3.5 3.2 66 1 0 -2.8 -6.4zM130.0 1379.4a3.6 2.7 40 1 0 5.5 4.7a3.6 2.7 40 1 0 -5.5 -4.7zM179.5 1391.7a3.4 2.5 47 1 0 4.6 5.1a3.4 2.5 47 1 0 -4.6 -5.1zM188.2 1400.4a2.7 2.7 11 1 0 5.3 1.1a2.7 2.7 11 1 0 -5.3 -1.1zM150.5 1406.1a2.7 2.2 20 1 0 5.0 1.9a2.7 2.2 20 1 0 -5.0 -1.9zM143.6 1414.3a2.9 2.4 83 1 0 0.6 5.7a2.9 2.4 83 1 0 -0.6 -5.7zM155.1 1451.7a3.6 3.5 168 1 0 -7.0 1.4a3.6 3.5 168 1 0 7.0 -1.4zM160.6 1469.3a2.7 2.2 16 1 0 5.3 1.5a2.7 2.2 16 1 0 -5.3 -1.5zM176.1 1476.3a2.6 2.2 95 1 0 -0.5 5.2a2.6 2.2 95 1 0 0.5 -5.2zM137.8 1486.2a3.3 3.2 179 1 0 -6.6 0.0a3.3 3.2 179 1 0 6.6 -0.0z"/>
<path fill="#cba924" d="M181.5 1330.9a2.7 2.4 154 1 0 -4.9 2.3a2.7 2.4 154 1 0 4.9 -2.3zM160.4 1341.7a3.5 3.2 119 1 0 -3.5 6.1a3.5 3.2 119 1 0 3.5 -6.1zM143.0 1351.5a3.5 3.0 109 1 0 -2.4 6.7a3.5 3.0 109 1 0 2.4 -6.7zM159.8 1351.4a3.2 2.8 97 1 0 -0.9 6.3a3.2 2.8 97 1 0 0.9 -6.3zM158.9 1360.6a2.9 2.1 94 1 0 -0.4 5.7a2.9 2.1 94 1 0 0.4 -5.7zM129.6 1370.0a3.4 2.8 46 1 0 4.6 4.9a3.4 2.8 46 1 0 -4.6 -4.9zM154.7 1378.7a3.4 3.0 31 1 0 5.8 3.6a3.4 3.0 31 1 0 -5.8 -3.6zM132.1 1396.3a3.4 2.5 62 1 0 3.1 6.0a3.4 2.5 62 1 0 -3.1 -6.0zM177.2 1402.4a2.9 2.5 55 1 0 3.4 4.8a2.9 2.5 55 1 0 -3.4 -4.8zM162.9 1413.5a3.0 2.7 113 1 0 -2.4 5.4a3.0 2.7 113 1 0 2.4 -5.4zM153.2 1425.7a2.6 2.3 21 1 0 4.9 2.0a2.6 2.3 21 1 0 -4.9 -2.0zM138.6 1433.5a2.6 2.2 134 1 0 -3.7 3.7a2.6 2.2 134 1 0 3.7 -3.7zM186.1 1428.0a2.9 2.6 137 1 0 -4.2 3.8a2.9 2.6 137 1 0 4.2 -3.8zM136.6 1478.4a3.1 2.8 10 1 0 6.1 1.1a3.1 2.8 10 1 0 -6.1 -1.1zM157.3 1493.9a3.2 2.5 103 1 0 -1.5 6.3a3.2 2.5 103 1 0 1.5 -6.3zM149.9 1501.5a3.6 3.5 70 1 0 2.4 6.9a3.6 3.5 70 1 0 -2.4 -6.9z"/>
<path fill="#cd9b23" d="M188.6 1335.7a3.3 2.5 85 1 0 0.5 6.5a3.3 2.5 85 1 0 -0.5 -6.5zM127.3 1354.0a3.4 3.1 6 1 0 6.8 0.8a3.4 3.1 6 1 0 -6.8 -0.8zM141.4 1360.8a2.6 1.9 115 1 0 -2.2 4.7a2.6 1.9 115 1 0 2.2 -4.7zM174.9 1359.2a3.4 2.6 14 1 0 6.5 1.7a3.4 2.6 14 1 0 -6.5 -1.7zM205.5 1362.3a3.1 2.7 42 1 0 4.6 4.3a3.1 2.7 42 1 0 -4.6 -4.3zM150.9 1369.7a3.3 3.2 97 1 0 -0.8 6.6a3.3 3.2 97 1 0 0.8 -6.6zM171.8 1389.4a3.0 2.6 82 1 0 0.8 6.0a3.0 2.6 82 1 0 -0.8 -6.0zM165.9 1396.6a3.6 2.9 147 1 0 -6.1 3.9a3.6 2.9 147 1 0 6.1 -3.9zM169.8 1416.6a2.8 2.3 87 1 0 0.2 5.5a2.8 2.3 87 1 0 -0.2 -5.5zM142.0 1461.0a3.6 2.7 8 1 0 7.1 1.1a3.6 2.7 8 1 0 -7.1 -1.1zM146.8 1478.7a3.1 2.5 8 1 0 6.1 0.9a3.1 2.5 8 1 0 -6.1 -0.9zM168.7 1493.9a3.6 3.5 132 1 0 -5.0 5.3a3.6 3.5 132 1 0 5.0 -5.3zM157.1 1505.5a3.6 3.5 0 1 0 7.2 0.1a3.6 3.5 0 1 0 -7.2 -0.1zM175.9 1512.5a3.4 3.3 122 1 0 -3.6 5.8a3.4 3.3 122 1 0 3.6 -5.8z"/>
<path fill="#5ab13d" d="M213.9 1333.1a3.5 3.5 36 1 0 5.7 4.2a3.5 3.5 36 1 0 -5.7 -4.2zM114.1 1358.9a2.6 1.9 136 1 0 -3.8 3.6a2.6 1.9 136 1 0 3.8 -3.6zM206.3 1371.2a2.7 2.1 124 1 0 -3.0 4.5a2.7 2.1 124 1 0 3.0 -4.5zM127.4 1414.6a2.8 2.7 173 1 0 -5.6 0.7a2.8 2.7 173 1 0 5.6 -0.7zM205.5 1415.8a3.0 2.7 94 1 0 -0.5 5.9a3.0 2.7 94 1 0 0.5 -5.9zM199.4 1453.8a2.9 2.2 166 1 0 -5.6 1.4a2.9 2.2 166 1 0 5.6 -1.4zM127.9 1456.3a3.5 3.5 120 1 0 -3.6 6.1a3.5 3.5 120 1 0 3.6 -6.1zM197.1 1471.0a3.3 2.6 7 1 0 6.5 0.8a3.3 2.6 7 1 0 -6.5 -0.8z"/>
<path fill="#cd6725" d="M191.9 1365.5a2.8 2.3 177 1 0 -5.6 0.3a2.8 2.3 177 1 0 5.6 -0.3zM166.7 1410.4a3.2 2.7 14 1 0 6.2 1.6a3.2 2.7 14 1 0 -6.2 -1.6zM186.3 1462.4a3.1 3.0 149 1 0 -5.3 3.1a3.1 3.0 149 1 0 5.3 -3.1zM141.9 1484.4a3.2 2.9 33 1 0 5.4 3.6a3.2 2.9 33 1 0 -5.4 -3.6zM175.9 1487.7a3.3 2.8 151 1 0 -5.8 3.2a3.3 2.8 151 1 0 5.8 -3.2zM182.1 1486.1a3.2 2.5 130 1 0 -4.1 4.8a3.2 2.5 130 1 0 4.1 -4.8z"/>
<path fill="#25a898" d="M199.7 1374.2a3.2 2.5 177 1 0 -6.4 0.3a3.2 2.5 177 1 0 6.4 -0.3zM115.8 1394.9a3.4 3.3 133 1 0 -4.6 4.9a3.4 3.3 133 1 0 4.6 -4.9z"/>
<path fill="#28a88c" d="M123.6 1376.3a3.1 2.3 118 1 0 -2.9 5.5a3.1 2.3 118 1 0 2.9 -5.5zM196.9 1381.2a3.1 3.0 144 1 0 -5.1 3.6a3.1 3.0 144 1 0 5.1 -3.6zM196.0 1425.4a3.4 2.7 136 1 0 -5.0 4.7a3.4 2.7 136 1 0 5.0 -4.7zM199.3 1462.3a3.0 2.7 2 1 0 6.0 0.2a3.0 2.7 2 1 0 -6.0 -0.2z"/>
<path fill="#cd7824" d="M154.4 1396.2a2.7 2.3 124 1 0 -3.0 4.4a2.7 2.3 124 1 0 3.0 -4.4zM152.2 1415.0a2.9 2.9 107 1 0 -1.8 5.6a2.9 2.9 107 1 0 1.8 -5.6zM163.0 1423.6a3.1 2.9 51 1 0 3.8 4.9a3.1 2.9 51 1 0 -3.8 -4.9zM170.3 1428.3a3.5 3.2 5 1 0 7.0 0.7a3.5 3.2 5 1 0 -7.0 -0.7zM191.2 1434.2a2.9 2.3 66 1 0 2.3 5.2a2.9 2.3 66 1 0 -2.3 -5.2zM156.6 1441.7a3.4 3.2 61 1 0 3.2 6.0a3.4 3.2 61 1 0 -3.2 -6.0zM133.0 1447.9a3.0 3.0 120 1 0 -3.1 5.2a3.0 3.0 120 1 0 3.1 -5.2zM192.6 1453.5a3.4 3.0 85 1 0 0.5 6.7a3.4 3.0 85 1 0 -0.5 -6.7zM178.5 1470.8a2.7 2.6 30 1 0 4.7 2.8a2.7 2.6 30 1 0 -4.7 -2.8zM193.6 1464.7a3.5 3.0 165 1 0 -6.8 1.8a3.5 3.0 165 1 0 6.8 -1.8zM193.2 1490.3a3.5 3.3 171 1 0 -6.8 1.1a3.5 3.3 171 1 0 6.8 -1.1zM141.4 1500.5a3.4 2.7 92 1 0 -0.3 6.8a3.4 2.7 92 1 0 0.3 -6.8zM185.2 1505.2a3.3 3.2 169 1 0 -6.4 1.2a3.3 3.2 169 1 0 6.4 -1.2zM156.4 1511.4a2.9 2.4 107 1 0 -1.8 5.5a2.9 2.4 107 1 0 1.8 -5.5z"/>
<path fill="#c2311f" d="M146.3 1422.8a3.4 2.6 99 1 0 -1.1 6.8a3.4 2.6 99 1 0 1.1 -6.8z"/>
<path fill="#ca5924" d="M157.3 1433.1a2.9 2.2 160 1 0 -5.4 1.9a2.9 2.2 160 1 0 5.4 -1.9zM179.4 1452.6a3.5 3.5 100 1 0 -1.2 6.9a3.5 3.5 100 1 0 1.2 -6.9z"/>
<path fill="#c53e21" d="M160.2 1461.2a2.9 2.2 5 1 0 5.7 0.6a2.9 2.2 5 1 0 -5.7 -0.6zM139.1 1468.5a3.1 3.1 166 1 0 -6.0 1.5a3.1 3.1 166 1 0 6.0 -1.5zM151.1 1470.5a3.7 3.3 8 1 0 7.2 1.0a3.7 3.3 8 1 0 -7.2 -1.0zM162.4 1478.1a3.4 2.7 178 1 0 -6.8 0.2a3.4 2.7 178 1 0 6.8 -0.2z"/>
<path fill="#c0241e" d="M144.9 1511.2a2.8 2.2 51 1 0 3.5 4.4a2.8 2.2 51 1 0 -3.5 -4.4z"/>
<path fill="#294495" d="M152.0 1521.6a2.8 2.3 15 1 0 5.4 1.5a2.8 2.3 15 1 0 -5.4 -1.5z"/>
<path fill="#2e2a6e" d="M159.9 1521.5a3.1 2.6 7 1 0 6.1 0.8a3.1 2.6 7 1 0 -6.1 -0.8z"/>
<path fill="#000" d="M197.1 1350.9a1.5 1.5 0 1 0 3.1 0a1.5 1.5 0 1 0 -3.1 0zM191.6 1485.8a1.4 1.4 0 1 0 2.8 0a1.4 1.4 0 1 0 -2.8 0zM193.0 1486.3a1.2 1.2 0 1 0 2.3 0a1.2 1.2 0 1 0 -2.3 0zM190.6 1487.2a1.2 1.2 0 1 0 2.4 0a1.2 1.2 0 1 0 -2.4 0zM112.4 1359.7a1.4 1.4 0 1 0 2.7 0a1.4 1.4 0 1 0 -2.7 0zM114.5 1361.2a0.9 0.9 0 1 0 1.8 0a0.9 0.9 0 1 0 -1.8 0zM148.2 1324.5a0.8 0.8 0 1 0 1.7 0a0.8 0.8 0 1 0 -1.7 0zM147.3 1324.6a1.5 1.5 0 1 0 3.0 0a1.5 1.5 0 1 0 -3.0 0zM205.7 1438.9a0.7 0.7 0 1 0 1.3 0a0.7 0.7 0 1 0 -1.3 0zM206.4 1434.6a1.5 1.5 0 1 0 2.9 0a1.5 1.5 0 1 0 -2.9 0zM152.2 1408.6a0.9 0.9 0 1 0 1.8 0a0.9 0.9 0 1 0 -1.8 0zM153.1 1408.2a1.3 1.3 0 1 0 2.7 0a1.3 1.3 0 1 0 -2.7 0zM128.6 1425.1a1.3 1.3 0 1 0 2.5 0a1.3 1.3 0 1 0 -2.5 0zM137.9 1469.9a1.0 1.0 0 1 0 1.9 0a1.0 1.0 0 1 0 -1.9 0zM123.4 1350.4a1.1 1.1 0 1 0 2.2 0a1.1 1.1 0 1 0 -2.2 0zM126.2 1350.5a1.2 1.2 0 1 0 2.4 0a1.2 1.2 0 1 0 -2.4 0zM196.2 1443.3a0.8 0.8 0 1 0 1.5 0a0.8 0.8 0 1 0 -1.5 0zM186.8 1415.5a1.3 1.3 0 1 0 2.5 0a1.3 1.3 0 1 0 -2.5 0zM190.1 1416.5a2.4 2.4 0 1 0 4.9 0a2.4 2.4 0 1 0 -4.9 0zM189.4 1416.3a2.3 2.3 0 1 0 4.5 0a2.3 2.3 0 1 0 -4.5 0zM146.4 1345.2a0.8 0.8 0 1 0 1.6 0a0.8 0.8 0 1 0 -1.6 0zM145.9 1346.9a0.7 0.7 0 1 0 1.4 0a0.7 0.7 0 1 0 -1.4 0zM203.3 1377.4a1.3 1.3 0 1 0 2.6 0a1.3 1.3 0 1 0 -2.6 0zM171.2 1366.9a0.8 0.8 0 1 0 1.7 0a0.8 0.8 0 1 0 -1.7 0zM172.1 1364.0a0.8 0.8 0 1 0 1.5 0a0.8 0.8 0 1 0 -1.5 0zM179.7 1445.1a1.3 1.3 0 1 0 2.6 0a1.3 1.3 0 1 0 -2.6 0zM175.9 1448.8a0.9 0.9 0 1 0 1.8 0a0.9 0.9 0 1 0 -1.8 0zM184.5 1434.2a0.7 0.7 0 1 0 1.4 0a0.7 0.7 0 1 0 -1.4 0zM167.5 1355.3a0.7 0.7 0 1 0 1.4 0a0.7 0.7 0 1 0 -1.4 0zM163.6 1353.8a0.6 0.6 0 1 0 1.3 0a0.6 0.6 0 1 0 -1.3 0zM147.9 1315.4a1.5 1.5 0 1 0 3.0 0a1.5 1.5 0 1 0 -3.0 0zM145.2 1318.7a1.3 1.3 0 1 0 2.6 0a1.3 1.3 0 1 0 -2.6 0zM195.8 1324.0a0.8 0.8 0 1 0 1.7 0a0.8 0.8 0 1 0 -1.7 0zM193.1 1323.9a1.5 1.5 0 1 0 3.0 0a1.5 1.5 0 1 0 -3.0 0zM171.5 1436.3a2.0 2.0 0 1 0 4.0 0a2.0 2.0 0 1 0 -4.0 0zM147.1 1479.7a0.7 0.7 0 1 0 1.4 0a0.7 0.7 0 1 0 -1.4 0zM191.0 1327.2a0.6 0.6 0 1 0 1.3 0a0.6 0.6 0 1 0 -1.3 0zM187.9 1395.4a0.7 0.7 0 1 0 1.4 0a0.7 0.7 0 1 0 -1.4 0zM190.1 1396.8a1.1 1.1 0 1 0 2.1 0a1.1 1.1 0 1 0 -2.1 0zM167.3 1330.0a0.8 0.8 0 1 0 1.5 0a0.8 0.8 0 1 0 -1.5 0zM163.1 1325.6a0.9 0.9 0 1 0 1.8 0a0.9 0.9 0 1 0 -1.8 0zM122.3 1408.9a1.5 1.5 0 1 0 3.1 0a1.5 1.5 0 1 0 -3.1 0zM124.0 1408.0a0.9 0.9 0 1 0 1.8 0a0.9 0.9 0 1 0 -1.8 0zM129.9 1481.3a1.2 1.2 0 1 0 2.5 0a1.2 1.2 0 1 0 -2.5 0zM183.0 1327.0a0.7 0.7 0 1 0 1.3 0a0.7 0.7 0 1 0 -1.3 0zM185.6 1330.4a1.5 1.5 0 1 0 3.1 0a1.5 1.5 0 1 0 -3.1 0zM170.3 1433.9a0.8 0.8 0 1 0 1.7 0a0.8 0.8 0 1 0 -1.7 0zM165.5 1484.5a0.7 0.7 0 1 0 1.4 0a0.7 0.7 0 1 0 -1.4 0zM163.8 1483.1a1.4 1.4 0 1 0 2.7 0a1.4 1.4 0 1 0 -2.7 0zM132.2 1489.5a1.4 1.4 0 1 0 2.8 0a1.4 1.4 0 1 0 -2.8 0zM133.9 1489.7a1.2 1.2 0 1 0 2.4 0a1.2 1.2 0 1 0 -2.4 0zM137.2 1383.0a1.3 1.3 0 1 0 2.6 0a1.3 1.3 0 1 0 -2.6 0zM136.1 1380.2a0.6 0.6 0 1 0 1.2 0a0.6 0.6 0 1 0 -1.2 0zM193.7 1449.0a1.3 1.3 0 1 0 2.5 0a1.3 1.3 0 1 0 -2.5 0zM126.2 1451.6a1.6 1.6 0 1 0 3.1 0a1.6 1.6 0 1 0 -3.1 0zM128.4 1449.5a1.1 1.1 0 1 0 2.3 0a1.1 1.1 0 1 0 -2.3 0zM197.2 1479.7a1.4 1.4 0 1 0 2.9 0a1.4 1.4 0 1 0 -2.9 0zM113.3 1399.2a0.8 0.8 0 1 0 1.6 0a0.8 0.8 0 1 0 -1.6 0zM111.1 1397.1a0.9 0.9 0 1 0 1.8 0a0.9 0.9 0 1 0 -1.8 0zM110.6 1316.2a2.4 1.9 0 1 0 4.8 0a2.4 1.9 0 1 0 -4.8 0zM148.9 1316.2a2.7 2.2 0 1 0 5.4 0a2.7 2.2 0 1 0 -5.4 0zM188.3 1316.2a2.1 1.7 0 1 0 4.2 0a2.1 1.7 0 1 0 -4.2 0zM212.3 1316.2a2.1 1.7 0 1 0 4.3 0a2.1 1.7 0 1 0 -4.3 0zM218.2 1316.2a2.0 1.6 0 1 0 3.9 0a2.0 1.6 0 1 0 -3.9 0z"/>
<path fill="#cd7824" d="M250.1 1313.2a3.0 2.9 53 1 0 3.6 4.8a3.0 2.9 53 1 0 -3.6 -4.8zM250.8 1331.2a3.1 3.0 22 1 0 5.7 2.3a3.1 3.0 22 1 0 -5.7 -2.3zM311.2 1340.2a3.3 2.5 165 1 0 -6.3 1.7a3.3 2.5 165 1 0 6.3 -1.7zM266.2 1359.0a2.7 2.6 166 1 0 -5.3 1.2a2.7 2.6 166 1 0 5.3 -1.2zM311.8 1365.3a2.9 2.1 136 1 0 -4.3 4.0a2.9 2.1 136 1 0 4.3 -4.0zM257.4 1375.3a3.4 3.0 117 1 0 -3.2 6.0a3.4 3.0 117 1 0 3.2 -6.0zM319.2 1381.0a3.5 2.9 23 1 0 6.3 2.8a3.5 2.9 23 1 0 -6.3 -2.8zM269.5 1384.2a3.2 3.2 173 1 0 -6.4 0.8a3.2 3.2 173 1 0 6.4 -0.8zM325.6 1391.3a2.8 2.2 160 1 0 -5.2 1.9a2.8 2.2 160 1 0 5.2 -1.9zM333.8 1402.1a3.3 2.8 40 1 0 5.1 4.3a3.3 2.8 40 1 0 -5.1 -4.3zM298.5 1421.2a2.6 1.9 178 1 0 -5.2 0.2a2.6 1.9 178 1 0 5.2 -0.2zM318.8 1426.9a3.5 3.1 141 1 0 -5.5 4.4a3.5 3.1 141 1 0 5.5 -4.4zM269.3 1454.8a2.8 2.3 93 1 0 -0.4 5.6a2.8 2.3 93 1 0 0.4 -5.6zM340.1 1464.4a3.2 2.4 178 1 0 -6.4 0.2a3.2 2.4 178 1 0 6.4 -0.2zM324.0 1483.2a3.6 3.0 131 1 0 -4.8 5.5a3.6 3.0 131 1 0 4.8 -5.5z"/>
<path fill="#c0241e" d="M267.4 1315.8a3.4 3.3 15 1 0 6.5 1.8a3.4 3.3 15 1 0 -6.5 -1.8zM307.8 1320.3a3.0 2.8 43 1 0 4.3 4.1a3.0 2.8 43 1 0 -4.3 -4.1zM346.2 1318.1a3.2 2.6 95 1 0 -0.7 6.3a3.2 2.6 95 1 0 0.7 -6.3zM324.0 1324.1a3.3 2.6 1 1 0 6.6 0.2a3.3 2.6 1 1 0 -6.6 -0.2zM345.4 1326.4a3.0 2.8 73 1 0 1.7 5.8a3.0 2.8 73 1 0 -1.7 -5.8zM326.0 1332.0a3.4 2.6 22 1 0 6.3 2.6a3.4 2.6 22 1 0 -6.3 -2.6zM281.7 1341.1a3.6 3.4 105 1 0 -1.9 6.9a3.6 3.4 105 1 0 1.9 -6.9zM312.8 1346.2a3.1 2.3 133 1 0 -4.2 4.5a3.1 2.3 133 1 0 4.2 -4.5zM323.5 1346.2a3.4 2.8 174 1 0 -6.8 0.7a3.4 2.8 174 1 0 6.8 -0.7zM279.7 1349.9a3.2 2.8 44 1 0 4.5 4.5a3.2 2.8 44 1 0 -4.5 -4.5zM302.0 1348.7a2.6 2.1 116 1 0 -2.4 4.7a2.6 2.1 116 1 0 2.4 -4.7zM322.3 1355.6a3.2 2.6 163 1 0 -6.2 1.8a3.2 2.6 163 1 0 6.2 -1.8zM327.0 1348.9a2.9 2.1 32 1 0 4.8 3.1a2.9 2.1 32 1 0 -4.8 -3.1zM271.4 1358.4a3.2 2.6 65 1 0 2.6 5.9a3.2 2.6 65 1 0 -2.6 -5.9zM287.3 1357.7a3.5 2.8 24 1 0 6.4 2.9a3.5 2.8 24 1 0 -6.4 -2.9zM336.2 1360.1a3.4 3.3 16 1 0 6.5 1.9a3.4 3.3 16 1 0 -6.5 -1.9zM278.4 1369.2a3.2 2.4 32 1 0 5.4 3.5a3.2 2.4 32 1 0 -5.4 -3.5zM319.9 1371.4a3.7 3.4 135 1 0 -5.3 5.1a3.7 3.4 135 1 0 5.3 -5.1zM327.2 1366.6a3.1 3.0 63 1 0 2.8 5.6a3.1 3.0 63 1 0 -2.8 -5.6zM346.0 1371.5a2.8 2.7 101 1 0 -1.1 5.5a2.8 2.7 101 1 0 1.1 -5.5zM286.8 1379.9a3.2 2.9 170 1 0 -6.3 1.0a3.2 2.9 170 1 0 6.3 -1.0zM313.9 1381.7a3.4 3.3 78 1 0 1.3 6.7a3.4 3.3 78 1 0 -1.3 -6.7zM342.3 1374.8a2.8 2.1 102 1 0 -1.2 5.4a2.8 2.1 102 1 0 1.2 -5.4zM276.3 1384.6a2.8 2.1 137 1 0 -4.0 3.8a2.8 2.1 137 1 0 4.0 -3.8zM288.5 1388.9a3.1 2.5 174 1 0 -6.2 0.5a3.1 2.5 174 1 0 6.2 -0.5zM303.6 1383.0a3.7 3.3 101 1 0 -1.4 7.2a3.7 3.3 101 1 0 1.4 -7.2zM314.3 1390.9a3.4 2.8 108 1 0 -2.2 6.5a3.4 2.8 108 1 0 2.2 -6.5zM291.7 1391.1a3.3 2.6 55 1 0 3.8 5.5a3.3 2.6 55 1 0 -3.8 -5.5zM320.3 1398.7a2.7 2.5 78 1 0 1.1 5.3a2.7 2.5 78 1 0 -1.1 -5.3zM340.5 1392.8a3.3 2.7 100 1 0 -1.2 6.4a3.3 2.7 100 1 0 1.2 -6.4zM344.4 1403.6a3.1 2.5 36 1 0 5.0 3.7a3.1 2.5 36 1 0 -5.0 -3.7zM271.3 1411.0a3.4 2.6 162 1 0 -6.4 2.0a3.4 2.6 162 1 0 6.4 -2.0zM286.4 1413.0a2.7 2.0 68 1 0 2.0 5.1a2.7 2.0 68 1 0 -2.0 -5.1zM344.2 1412.2a2.7 2.3 92 1 0 -0.3 5.3a2.7 2.3 92 1 0 0.3 -5.3zM267.6 1418.0a2.8 2.4 70 1 0 1.9 5.3a2.8 2.4 70 1 0 -1.9 -5.3zM288.2 1422.8a2.8 2.6 126 1 0 -3.4 4.5a2.8 2.6 126 1 0 3.4 -4.5zM306.5 1419.5a3.4 2.6 100 1 0 -1.3 6.7a3.4 2.6 100 1 0 1.3 -6.7zM335.4 1420.2a2.9 2.7 101 1 0 -1.2 5.7a2.9 2.7 101 1 0 1.2 -5.7zM310.0 1427.9a3.1 2.4 81 1 0 0.9 6.2a3.1 2.4 81 1 0 -0.9 -6.2zM290.0 1438.1a3.5 3.3 71 1 0 2.3 6.6a3.5 3.3 71 1 0 -2.3 -6.6zM332.6 1438.6a3.5 2.8 25 1 0 6.4 3.1a3.5 2.8 25 1 0 -6.4 -3.1zM282.9 1447.0a2.8 2.1 51 1 0 3.5 4.4a2.8 2.1 51 1 0 -3.5 -4.4zM292.0 1449.3a3.5 3.2 20 1 0 6.6 2.4a3.5 3.2 20 1 0 -6.6 -2.4zM274.7 1453.4a3.5 2.9 44 1 0 5.1 4.9a3.5 2.9 44 1 0 -5.1 -4.9zM267.2 1466.5a3.0 2.7 12 1 0 5.8 1.3a3.0 2.7 12 1 0 -5.8 -1.3zM298.2 1465.7a2.9 2.5 109 1 0 -1.9 5.4a2.9 2.5 109 1 0 1.9 -5.4zM303.8 1463.8a2.7 2.7 38 1 0 4.2 3.3a2.7 2.7 38 1 0 -4.2 -3.3zM319.0 1466.8a3.4 2.9 171 1 0 -6.7 1.0a3.4 2.9 171 1 0 6.7 -1.0zM313.7 1473.7a3.7 3.1 173 1 0 -7.3 0.9a3.7 3.1 173 1 0 7.3 -0.9zM279.0 1485.1a2.7 2.2 170 1 0 -5.4 0.9a2.7 2.2 170 1 0 5.4 -0.9zM280.2 1491.3a3.3 3.3 127 1 0 -4.0 5.2a3.3 3.3 127 1 0 4.0 -5.2zM303.7 1494.1a3.4 3.4 22 1 0 6.3 2.6a3.4 3.4 22 1 0 -6.3 -2.6zM291.4 1498.9a3.4 3.4 103 1 0 -1.6 6.7a3.4 3.4 103 1 0 1.6 -6.7zM303.3 1502.0a2.8 2.4 131 1 0 -3.7 4.2a2.8 2.4 131 1 0 3.7 -4.2z"/>
<path fill="#ca5924" d="M281.8 1314.0a2.9 2.2 110 1 0 -2.1 5.4a2.9 2.2 110 1 0 2.1 -5.4zM301.7 1313.5a2.8 2.7 115 1 0 -2.4 5.0a2.8 2.7 115 1 0 2.4 -5.0zM336.9 1312.9a3.6 2.9 99 1 0 -1.2 7.1a3.6 2.9 99 1 0 1.2 -7.1zM269.1 1323.2a3.1 2.9 13 1 0 6.0 1.5a3.1 2.9 13 1 0 -6.0 -1.5zM291.2 1319.6a2.9 2.5 83 1 0 0.6 5.8a2.9 2.5 83 1 0 -0.6 -5.8zM320.2 1334.5a3.2 2.7 106 1 0 -1.8 6.2a3.2 2.7 106 1 0 1.8 -6.2zM347.2 1335.9a3.4 2.6 76 1 0 1.5 6.6a3.4 2.6 76 1 0 -1.5 -6.6zM289.3 1347.1a2.7 2.1 41 1 0 4.0 3.5a2.7 2.1 41 1 0 -4.0 -3.5zM345.0 1355.4a3.3 3.2 7 1 0 6.5 0.9a3.3 3.2 7 1 0 -6.5 -0.9zM335.3 1366.5a3.4 3.3 43 1 0 5.0 4.8a3.4 3.3 43 1 0 -5.0 -4.8zM272.8 1377.5a2.8 2.5 3 1 0 5.5 0.4a2.8 2.5 3 1 0 -5.5 -0.4zM330.3 1392.7a3.1 2.4 79 1 0 1.1 6.2a3.1 2.4 79 1 0 -1.1 -6.2zM346.8 1398.7a3.2 2.7 69 1 0 2.2 6.0a3.2 2.7 69 1 0 -2.2 -6.0zM299.2 1410.7a3.2 2.7 169 1 0 -6.4 1.2a3.2 2.7 169 1 0 6.4 -1.2zM332.3 1436.2a3.7 3.7 170 1 0 -7.2 1.2a3.7 3.7 170 1 0 7.2 -1.2zM286.4 1500.3a3.6 3.5 141 1 0 -5.5 4.5a3.6 3.5 141 1 0 5.5 -4.5z"/>
<path fill="#c84b23" d="M324.0 1313.0a3.3 2.8 47 1 0 4.4 4.8a3.3 2.8 47 1 0 -4.4 -4.8zM301.9 1321.4a2.7 2.2 119 1 0 -2.7 4.7a2.7 2.2 119 1 0 2.7 -4.7zM335.0 1331.6a2.6 2.6 36 1 0 4.3 3.1a2.6 2.6 36 1 0 -4.3 -3.1zM254.7 1342.4a2.8 2.5 175 1 0 -5.5 0.4a2.8 2.5 175 1 0 5.5 -0.4zM270.1 1366.9a3.7 2.9 58 1 0 3.8 6.2a3.7 2.9 58 1 0 -3.8 -6.2zM332.4 1374.6a3.3 3.1 80 1 0 1.1 6.5a3.3 3.1 80 1 0 -1.1 -6.5zM345.5 1385.4a3.3 3.0 160 1 0 -6.3 2.2a3.3 3.0 160 1 0 6.3 -2.2zM258.0 1393.0a3.0 2.8 104 1 0 -1.5 5.8a3.0 2.8 104 1 0 1.5 -5.8zM300.4 1393.2a3.3 2.6 43 1 0 4.8 4.5a3.3 2.6 43 1 0 -4.8 -4.5zM313.2 1401.1a2.8 2.6 127 1 0 -3.4 4.4a2.8 2.6 127 1 0 3.4 -4.4zM325.2 1406.9a2.9 2.9 46 1 0 4.1 4.2a2.9 2.9 46 1 0 -4.1 -4.2zM317.8 1417.9a3.3 2.5 127 1 0 -4.0 5.3a3.3 2.5 127 1 0 4.0 -5.3zM327.4 1426.1a3.6 3.2 139 1 0 -5.4 4.6a3.6 3.2 139 1 0 5.4 -4.6zM281.5 1429.7a3.1 3.0 125 1 0 -3.6 5.0a3.1 3.0 125 1 0 3.6 -5.0zM289.0 1431.4a3.0 3.0 60 1 0 3.0 5.3a3.0 3.0 60 1 0 -3.0 -5.3zM298.2 1428.2a3.1 2.6 25 1 0 5.6 2.7a3.1 2.6 25 1 0 -5.6 -2.7zM309.9 1437.2a3.2 3.0 87 1 0 0.2 6.4a3.2 3.0 87 1 0 -0.2 -6.4zM312.2 1446.2a2.6 2.1 74 1 0 1.4 5.1a2.6 2.1 74 1 0 -1.4 -5.1zM326.0 1454.7a2.8 2.5 151 1 0 -5.0 2.7a2.8 2.5 151 1 0 5.0 -2.7zM342.9 1447.8a3.1 2.9 137 1 0 -4.6 4.2a3.1 2.9 137 1 0 4.6 -4.2zM292.1 1473.0a2.6 2.5 81 1 0 0.8 5.2a2.6 2.5 81 1 0 -0.8 -5.2zM298.5 1492.0a2.6 2.1 65 1 0 2.2 4.8a2.6 2.1 65 1 0 -2.2 -4.8z"/>
<path fill="#bec62a" d="M359.2 1321.0a3.0 2.5 159 1 0 -5.6 2.1a3.0 2.5 159 1 0 5.6 -2.1zM358.9 1329.7a3.2 3.0 166 1 0 -6.2 1.4a3.2 3.0 166 1 0 6.2 -1.4zM364.0 1323.7a3.6 3.6 50 1 0 4.6 5.5a3.6 3.6 50 1 0 -4.6 -5.5zM261.8 1338.3a3.0 2.8 78 1 0 1.2 5.9a3.0 2.8 78 1 0 -1.2 -5.9zM255.1 1384.1a2.8 2.1 72 1 0 1.7 5.4a2.8 2.1 72 1 0 -1.7 -5.4zM255.8 1401.2a2.7 2.2 71 1 0 1.6 5.1a2.7 2.2 71 1 0 -1.6 -5.1z"/>
<path fill="#a5c12f" d="M366.8 1316.4a3.2 3.1 166 1 0 -6.2 1.4a3.2 3.1 166 1 0 6.2 -1.4z"/>
<path fill="#cba924" d="M250.8 1322.2a2.9 2.3 26 1 0 5.2 2.6a2.9 2.3 26 1 0 -5.2 -2.6zM264.1 1328.8a3.0 2.4 100 1 0 -1.1 5.9a3.0 2.4 100 1 0 1.1 -5.9zM255.3 1349.9a3.4 2.8 140 1 0 -5.2 4.4a3.4 2.8 140 1 0 5.2 -4.4zM264.8 1402.8a3.3 2.6 24 1 0 5.9 2.7a3.3 2.6 24 1 0 -5.9 -2.7z"/>
<path fill="#b1c32c" d="M267.2 1322.8a3.7 2.9 169 1 0 -7.2 1.3a3.7 2.9 169 1 0 7.2 -1.3zM354.0 1347.1a3.5 3.1 16 1 0 6.8 2.0a3.5 3.1 16 1 0 -6.8 -2.0zM369.2 1359.3a2.7 2.5 129 1 0 -3.5 4.2a2.7 2.5 129 1 0 3.5 -4.2z"/>
<path fill="#c53e21" d="M307.0 1329.2a2.7 2.5 37 1 0 4.2 3.3a2.7 2.5 37 1 0 -4.2 -3.3zM339.1 1324.2a3.0 2.9 172 1 0 -6.0 0.7a3.0 2.9 172 1 0 6.0 -0.7zM285.3 1332.7a3.4 2.9 155 1 0 -6.3 2.9a3.4 2.9 155 1 0 6.3 -2.9zM288.9 1329.2a3.6 3.0 53 1 0 4.3 5.8a3.6 3.0 53 1 0 -4.3 -5.8zM287.9 1339.5a3.7 2.7 26 1 0 6.5 3.3a3.7 2.7 26 1 0 -6.5 -3.3zM298.9 1340.7a2.8 2.6 53 1 0 3.3 4.4a2.8 2.6 53 1 0 -3.3 -4.4zM325.6 1340.4a3.1 2.8 40 1 0 4.7 4.0a3.1 2.8 40 1 0 -4.7 -4.0zM320.5 1361.9a3.2 2.5 124 1 0 -3.6 5.2a3.2 2.5 124 1 0 3.6 -5.2zM344.8 1364.9a3.3 2.7 8 1 0 6.5 0.9a3.3 2.7 8 1 0 -6.5 -0.9zM292.9 1365.6a2.9 2.2 144 1 0 -4.7 3.3a2.9 2.2 144 1 0 4.7 -3.3zM313.3 1374.1a3.4 3.0 156 1 0 -6.2 2.7a3.4 3.0 156 1 0 6.2 -2.7zM335.2 1384.0a2.8 2.2 138 1 0 -4.3 3.7a2.8 2.2 138 1 0 4.3 -3.7zM296.1 1401.3a2.8 2.3 97 1 0 -0.7 5.5a2.8 2.3 97 1 0 0.7 -5.5zM302.7 1403.8a3.2 3.1 23 1 0 5.8 2.6a3.2 3.1 23 1 0 -5.8 -2.6zM268.2 1427.5a3.1 2.6 38 1 0 4.9 3.9a3.1 2.6 38 1 0 -4.9 -3.9zM277.2 1439.3a3.4 3.4 16 1 0 6.6 1.9a3.4 3.4 16 1 0 -6.6 -1.9zM329.7 1443.8a3.5 3.0 137 1 0 -5.2 4.7a3.5 3.0 137 1 0 5.2 -4.7zM348.3 1439.1a3.6 3.3 135 1 0 -5.2 5.1a3.6 3.3 135 1 0 5.2 -5.1zM284.0 1457.6a3.2 2.9 12 1 0 6.3 1.4a3.2 2.9 12 1 0 -6.3 -1.4zM295.4 1458.2a2.6 2.0 56 1 0 2.9 4.4a2.6 2.0 56 1 0 -2.9 -4.4zM324.1 1462.5a3.2 2.7 35 1 0 5.2 3.7a3.2 2.7 35 1 0 -5.2 -3.7zM337.0 1471.8a3.3 2.5 158 1 0 -6.1 2.4a3.3 2.5 158 1 0 6.1 -2.4zM320.6 1472.8a3.0 2.4 114 1 0 -2.5 5.5a3.0 2.4 114 1 0 2.5 -5.5zM295.9 1482.2a3.4 3.0 117 1 0 -3.1 6.0a3.4 3.0 117 1 0 3.1 -6.0zM310.9 1481.7a3.1 2.4 60 1 0 3.1 5.4a3.1 2.4 60 1 0 -3.1 -5.4zM321.2 1490.4a3.2 2.7 150 1 0 -5.6 3.2a3.2 2.7 150 1 0 5.6 -3.2zM310.6 1502.0a3.0 2.2 144 1 0 -4.8 3.4a3.0 2.2 144 1 0 4.8 -3.4z"/>
<path fill="#cd6725" d="M275.4 1332.2a3.4 3.3 141 1 0 -5.4 4.2a3.4 3.3 141 1 0 5.4 -4.2zM274.1 1393.9a3.5 3.5 55 1 0 4.0 5.8a3.5 3.5 55 1 0 -4.0 -5.8zM278.2 1411.2a2.9 2.7 78 1 0 1.1 5.6a2.9 2.7 78 1 0 -1.1 -5.6zM263.4 1437.1a3.3 3.0 84 1 0 0.6 6.6a3.3 3.0 84 1 0 -0.6 -6.6zM273.4 1435.7a2.9 2.8 99 1 0 -1.0 5.8a2.9 2.8 99 1 0 1.0 -5.8zM282.5 1483.5a2.7 2.7 15 1 0 5.3 1.5a2.7 2.7 15 1 0 -5.3 -1.5z"/>
<path fill="#c9b726" d="M357.9 1336.1a3.0 2.9 123 1 0 -3.3 5.1a3.0 2.9 123 1 0 3.3 -5.1zM358.8 1354.5a3.0 2.7 127 1 0 -3.7 4.8a3.0 2.7 127 1 0 3.7 -4.8zM255.9 1358.5a2.8 2.7 137 1 0 -4.2 3.8a2.8 2.7 137 1 0 4.2 -3.8zM251.4 1367.0a3.1 2.6 46 1 0 4.2 4.4a3.1 2.6 46 1 0 -4.2 -4.4zM368.8 1369.4a3.2 2.7 175 1 0 -6.3 0.5a3.2 2.7 175 1 0 6.3 -0.5z"/>
<path fill="#6fb539" d="M365.5 1331.9a2.9 2.5 93 1 0 -0.3 5.8a2.9 2.5 93 1 0 0.3 -5.8zM357.3 1362.7a3.5 2.9 92 1 0 -0.3 7.0a3.5 2.9 92 1 0 0.3 -7.0z"/>
<path fill="#85ba35" d="M370.2 1341.5a3.7 3.3 148 1 0 -6.3 3.9a3.7 3.3 148 1 0 6.3 -3.9zM355.6 1371.2a3.5 3.4 87 1 0 0.4 7.0a3.5 3.4 87 1 0 -0.4 -7.0z"/>
<path fill="#cd8923" d="M265.6 1347.2a2.9 2.1 138 1 0 -4.3 3.8a2.9 2.1 138 1 0 4.3 -3.8zM341.6 1350.1a3.6 2.7 142 1 0 -5.7 4.4a3.6 2.7 142 1 0 5.7 -4.4zM262.1 1376.3a3.1 2.7 15 1 0 5.9 1.7a3.1 2.7 15 1 0 -5.9 -1.7zM296.0 1385.3a3.5 2.7 176 1 0 -7.0 0.4a3.5 2.7 176 1 0 7.0 -0.4zM305.1 1410.7a2.9 2.5 72 1 0 1.8 5.5a2.9 2.5 72 1 0 -1.8 -5.5zM336.3 1429.2a3.3 2.6 46 1 0 4.5 4.8a3.3 2.6 46 1 0 -4.5 -4.8zM300.6 1448.1a3.5 2.6 9 1 0 7.0 1.1a3.5 2.6 9 1 0 -7.0 -1.1zM298.7 1476.7a2.9 2.1 3 1 0 5.8 0.3a2.9 2.1 3 1 0 -5.8 -0.3z"/>
<path fill="#c2311f" d="M271.2 1348.4a2.7 2.6 91 1 0 -0.2 5.4a2.7 2.6 91 1 0 0.2 -5.4zM278.1 1361.5a3.2 2.9 5 1 0 6.3 0.6a3.2 2.9 5 1 0 -6.3 -0.6zM301.9 1357.1a2.8 2.5 121 1 0 -3.0 4.8a2.8 2.5 121 1 0 3.0 -4.8zM328.4 1356.5a3.4 2.7 82 1 0 0.8 6.7a3.4 2.7 82 1 0 -0.8 -6.7zM296.0 1374.2a2.7 2.3 133 1 0 -3.7 3.9a2.7 2.3 133 1 0 3.7 -3.9zM304.2 1374.5a3.4 2.8 106 1 0 -1.9 6.4a3.4 2.8 106 1 0 1.9 -6.4zM352.0 1389.0a3.1 2.9 113 1 0 -2.5 5.6a3.1 2.9 113 1 0 2.5 -5.6zM286.6 1394.6a3.0 2.7 134 1 0 -4.1 4.2a3.0 2.7 134 1 0 4.1 -4.2zM279.2 1403.5a3.0 2.9 143 1 0 -4.9 3.5a3.0 2.9 143 1 0 4.9 -3.5zM316.1 1409.9a2.9 2.3 62 1 0 2.6 5.1a2.9 2.3 62 1 0 -2.6 -5.1zM276.8 1419.4a3.3 3.0 94 1 0 -0.5 6.6a3.3 3.0 94 1 0 0.5 -6.6zM316.9 1437.9a2.8 2.5 13 1 0 5.5 1.3a2.8 2.5 13 1 0 -5.5 -1.3zM348.2 1429.3a3.4 3.4 71 1 0 2.2 6.5a3.4 3.4 71 1 0 -2.2 -6.5zM302.5 1435.6a3.2 2.7 127 1 0 -3.8 5.1a3.2 2.7 127 1 0 3.8 -5.1zM276.2 1444.7a2.7 2.1 121 1 0 -2.9 4.7a2.7 2.1 121 1 0 2.9 -4.7zM330.8 1451.2a3.0 2.4 58 1 0 3.1 5.1a3.0 2.4 58 1 0 -3.1 -5.1zM314.0 1457.9a3.1 2.3 4 1 0 6.2 0.5a3.1 2.3 4 1 0 -6.2 -0.5zM289.2 1464.1a2.9 2.3 106 1 0 -1.7 5.6a2.9 2.3 106 1 0 1.7 -5.6zM279.1 1473.0a3.5 3.4 38 1 0 5.5 4.3a3.5 3.4 38 1 0 -5.5 -4.3zM304.3 1482.5a3.5 3.1 99 1 0 -1.2 7.0a3.5 3.1 99 1 0 1.2 -7.0zM288.6 1489.8a2.6 2.3 60 1 0 2.6 4.6a2.6 2.3 60 1 0 -2.6 -4.6z"/>
<path fill="#c8c527" d="M369.5 1350.8a3.6 2.7 150 1 0 -6.4 3.6a3.6 2.7 150 1 0 6.4 -3.6zM356.6 1383.0a2.7 2.4 176 1 0 -5.4 0.3a2.7 2.4 176 1 0 5.4 -0.3zM354.1 1425.0a2.9 2.4 132 1 0 -3.9 4.3a2.9 2.4 132 1 0 3.9 -4.3z"/>
<path fill="#cd9b23" d="M364.2 1389.8a3.7 3.5 137 1 0 -5.4 5.0a3.7 3.5 137 1 0 5.4 -5.0zM357.3 1400.1a2.9 2.8 49 1 0 3.8 4.5a2.9 2.8 49 1 0 -3.8 -4.5zM253.7 1413.5a3.6 2.8 5 1 0 7.1 0.7a3.6 2.8 5 1 0 -7.1 -0.7zM263.6 1430.1a2.8 2.1 132 1 0 -3.8 4.2a2.8 2.1 132 1 0 3.8 -4.2z"/>
<path fill="#000" d="M264.2 1370.2a1.2 1.2 0 1 0 2.4 0a1.2 1.2 0 1 0 -2.4 0zM351.3 1402.3a0.7 0.7 0 1 0 1.5 0a0.7 0.7 0 1 0 -1.5 0zM273.2 1362.0a0.9 0.9 0 1 0 1.7 0a0.9 0.9 0 1 0 -1.7 0zM319.6 1418.5a0.7 0.7 0 1 0 1.4 0a0.7 0.7 0 1 0 -1.4 0zM318.6 1418.1a1.5 1.5 0 1 0 3.0 0a1.5 1.5 0 1 0 -3.0 0zM323.3 1481.7a1.3 1.3 0 1 0 2.5 0a1.3 1.3 0 1 0 -2.5 0zM312.6 1431.1a1.5 1.5 0 1 0 3.1 0a1.5 1.5 0 1 0 -3.1 0zM304.8 1410.6a1.4 1.4 0 1 0 2.9 0a1.4 1.4 0 1 0 -2.9 0zM303.5 1407.7a0.9 0.9 0 1 0 1.9 0a0.9 0.9 0 1 0 -1.9 0zM300.9 1376.8a1.9 1.9 0 1 0 3.8 0a1.9 1.9 0 1 0 -3.8 0zM305.2 1379.9a0.6 0.6 0 1 0 1.2 0a0.6 0.6 0 1 0 -1.2 0zM274.6 1473.8a2.3 2.3 0 1 0 4.5 0a2.3 2.3 0 1 0 -4.5 0zM280.7 1475.8a0.7 0.7 0 1 0 1.4 0a0.7 0.7 0 1 0 -1.4 0zM277.5 1475.1a1.6 1.6 0 1 0 3.2 0a1.6 1.6 0 1 0 -3.2 0zM276.2 1472.4a2.1 2.1 0 1 0 4.1 0a2.1 2.1 0 1 0 -4.1 0zM273.4 1429.0a1.5 1.5 0 1 0 3.0 0a1.5 1.5 0 1 0 -3.0 0zM277.3 1431.9a1.6 1.6 0 1 0 3.2 0a1.6 1.6 0 1 0 -3.2 0zM344.9 1411.8a1.5 1.5 0 1 0 2.9 0a1.5 1.5 0 1 0 -2.9 0zM347.3 1413.4a0.9 0.9 0 1 0 1.8 0a0.9 0.9 0 1 0 -1.8 0zM364.7 1322.5a0.7 0.7 0 1 0 1.3 0a0.7 0.7 0 1 0 -1.3 0zM334.4 1339.2a1.3 1.3 0 1 0 2.6 0a1.3 1.3 0 1 0 -2.6 0zM336.6 1341.6a0.8 0.8 0 1 0 1.7 0a0.8 0.8 0 1 0 -1.7 0zM289.1 1370.6a1.1 1.1 0 1 0 2.3 0a1.1 1.1 0 1 0 -2.3 0zM255.6 1391.9a1.0 1.0 0 1 0 1.9 0a1.0 1.0 0 1 0 -1.9 0zM275.0 1381.4a2.2 2.2 0 1 0 4.4 0a2.2 2.2 0 1 0 -4.4 0zM271.2 1431.7a1.2 1.2 0 1 0 2.4 0a1.2 1.2 0 1 0 -2.4 0zM314.0 1447.3a1.1 1.1 0 1 0 2.1 0a1.1 1.1 0 1 0 -2.1 0zM311.6 1449.8a0.8 0.8 0 1 0 1.5 0a0.8 0.8 0 1 0 -1.5 0zM287.0 1418.1a0.9 0.9 0 1 0 1.8 0a0.9 0.9 0 1 0 -1.8 0zM298.1 1383.5a0.7 0.7 0 1 0 1.4 0a0.7 0.7 0 1 0 -1.4 0zM301.2 1384.3a1.0 1.0 0 1 0 2.0 0a1.0 1.0 0 1 0 -2.0 0zM346.7 1325.3a1.2 1.2 0 1 0 2.5 0a1.2 1.2 0 1 0 -2.5 0zM349.5 1320.9a0.7 0.7 0 1 0 1.5 0a0.7 0.7 0 1 0 -1.5 0zM328.5 1368.9a0.7 0.7 0 1 0 1.4 0a0.7 0.7 0 1 0 -1.4 0zM326.9 1369.4a0.6 0.6 0 1 0 1.2 0a0.6 0.6 0 1 0 -1.2 0zM335.7 1441.4a1.4 1.4 0 1 0 2.8 0a1.4 1.4 0 1 0 -2.8 0zM348.9 1380.2a2.0 2.0 0 1 0 4.0 0a2.0 2.0 0 1 0 -4.0 0zM351.2 1378.6a1.3 1.3 0 1 0 2.6 0a1.3 1.3 0 1 0 -2.6 0zM348.7 1380.7a1.3 1.3 0 1 0 2.5 0a1.3 1.3 0 1 0 -2.5 0zM271.4 1468.9a0.8 0.8 0 1 0 1.6 0a0.8 0.8 0 1 0 -1.6 0zM312.8 1339.3a0.7 0.7 0 1 0 1.5 0a0.7 0.7 0 1 0 -1.5 0zM292.1 1357.6a2.6 2.6 0 1 0 5.1 0a2.6 2.6 0 1 0 -5.1 0zM293.0 1355.1a1.6 1.6 0 1 0 3.3 0a1.6 1.6 0 1 0 -3.3 0zM247.1 1328.3a1.4 1.4 0 1 0 2.8 0a1.4 1.4 0 1 0 -2.8 0zM248.4 1327.7a1.3 1.3 0 1 0 2.6 0a1.3 1.3 0 1 0 -2.6 0zM349.6 1395.8a0.8 0.8 0 1 0 1.5 0a0.8 0.8 0 1 0 -1.5 0zM350.3 1398.8a1.3 1.3 0 1 0 2.6 0a1.3 1.3 0 1 0 -2.6 0zM303.5 1476.2a0.9 0.9 0 1 0 1.9 0a0.9 0.9 0 1 0 -1.9 0zM298.9 1355.0a1.2 1.2 0 1 0 2.3 0a1.2 1.2 0 1 0 -2.3 0zM257.6 1329.0a0.9 0.9 0 1 0 1.7 0a0.9 0.9 0 1 0 -1.7 0zM255.5 1332.3a0.7 0.7 0 1 0 1.4 0a0.7 0.7 0 1 0 -1.4 0zM262.9 1392.3a0.7 0.7 0 1 0 1.4 0a0.7 0.7 0 1 0 -1.4 0zM266.8 1396.6a0.9 0.9 0 1 0 1.8 0a0.9 0.9 0 1 0 -1.8 0zM266.7 1357.0a0.7 0.7 0 1 0 1.5 0a0.7 0.7 0 1 0 -1.5 0zM289.0 1433.7a1.4 1.4 0 1 0 2.8 0a1.4 1.4 0 1 0 -2.8 0zM265.4 1316.2a1.9 1.5 0 1 0 3.9 0a1.9 1.5 0 1 0 -3.9 0zM288.0 1316.2a2.7 2.2 0 1 0 5.4 0a2.7 2.2 0 1 0 -5.4 0zM307.4 1316.2a1.2 1.0 0 1 0 2.5 0a1.2 1.0 0 1 0 -2.5 0zM320.3 1316.2a2.7 2.1 0 1 0 5.4 0a2.7 2.1 0 1 0 -5.4 0zM330.4 1316.2a2.6 2.1 0 1 0 5.2 0a2.6 2.1 0 1 0 -5.2 0z"/>
<path fill="#5ab13d" d="M408.4 1313.1a3.4 2.6 133 1 0 -4.6 4.9a3.4 2.6 133 1 0 4.6 -4.9zM393.3 1369.5a3.6 3.0 28 1 0 6.4 3.5a3.6 3.0 28 1 0 -6.4 -3.5z"/>
<path fill="#c53e21" d="M425.1 1317.0a3.2 2.5 92 1 0 -0.3 6.3a3.2 2.5 92 1 0 0.3 -6.3zM467.2 1325.5a3.6 3.4 43 1 0 5.3 5.0a3.6 3.4 43 1 0 -5.3 -5.0zM437.3 1374.1a2.8 2.4 171 1 0 -5.5 0.8a2.8 2.4 171 1 0 5.5 -0.8zM461.9 1375.4a2.8 2.5 61 1 0 2.7 5.0a2.8 2.5 61 1 0 -2.7 -5.0zM478.2 1432.0a3.0 2.2 91 1 0 -0.2 6.1a3.0 2.2 91 1 0 0.2 -6.1zM471.0 1450.8a3.5 2.7 119 1 0 -3.4 6.0a3.5 2.7 119 1 0 3.4 -6.0zM431.2 1455.2a3.0 2.8 67 1 0 2.2 5.5a3.0 2.8 67 1 0 -2.2 -5.5z"/>
<path fill="#cd8923" d="M432.7 1317.1a3.1 3.0 64 1 0 2.6 5.6a3.1 3.0 64 1 0 -2.6 -5.6zM450.1 1324.9a3.6 3.6 51 1 0 4.5 5.6a3.6 3.6 51 1 0 -4.5 -5.6zM428.9 1363.4a2.8 2.6 148 1 0 -4.8 3.0a2.8 2.6 148 1 0 4.8 -3.0zM487.9 1378.6a3.0 2.8 26 1 0 5.3 2.6a3.0 2.8 26 1 0 -5.3 -2.6zM407.1 1405.7a2.9 2.7 7 1 0 5.8 0.8a2.9 2.7 7 1 0 -5.8 -0.8zM463.8 1410.5a3.2 3.1 77 1 0 1.5 6.3a3.2 3.1 77 1 0 -1.5 -6.3zM451.3 1432.2a3.0 2.2 105 1 0 -1.6 5.7a3.0 2.2 105 1 0 1.6 -5.7zM468.2 1428.1a3.2 2.5 85 1 0 0.5 6.5a3.2 2.5 85 1 0 -0.5 -6.5zM458.4 1458.9a3.5 3.2 70 1 0 2.4 6.6a3.5 3.2 70 1 0 -2.4 -6.6z"/>
<path fill="#cd6725" d="M445.5 1317.6a2.9 2.5 149 1 0 -4.9 2.9a2.9 2.5 149 1 0 4.9 -2.9zM474.3 1369.7a3.0 2.5 91 1 0 -0.1 6.0a3.0 2.5 91 1 0 0.1 -6.0zM470.5 1379.0a2.9 2.2 25 1 0 5.2 2.5a2.9 2.2 25 1 0 -5.2 -2.5zM482.7 1374.3a3.5 2.6 127 1 0 -4.3 5.7a3.5 2.6 127 1 0 4.3 -5.7zM470.8 1384.0a3.5 2.8 147 1 0 -5.9 3.8a3.5 2.8 147 1 0 5.9 -3.8zM485.2 1385.6a3.4 2.7 8 1 0 6.6 0.9a3.4 2.7 8 1 0 -6.6 -0.9zM490.1 1394.8a3.6 3.2 156 1 0 -6.5 2.8a3.6 3.2 156 1 0 6.5 -2.8zM433.2 1408.0a2.7 2.5 164 1 0 -5.2 1.4a2.7 2.5 164 1 0 5.2 -1.4zM452.3 1424.0a2.6 1.9 102 1 0 -1.1 5.2a2.6 1.9 102 1 0 1.1 -5.2zM436.2 1433.4a3.0 2.6 115 1 0 -2.6 5.5a3.0 2.6 115 1 0 2.6 -5.5zM435.0 1442.1a2.6 2.0 56 1 0 2.9 4.4a2.6 2.0 56 1 0 -2.9 -4.4zM461.1 1449.8a3.3 2.5 97 1 0 -0.9 6.6a3.3 2.5 97 1 0 0.9 -6.6zM416.9 1458.9a3.5 3.0 120 1 0 -3.6 6.1a3.5 3.0 120 1 0 3.6 -6.1zM442.7 1470.0a3.7 3.5 25 1 0 6.7 3.1a3.7 3.5 25 1 0 -6.7 -3.1z"/>
<path fill="#cd9b23" d="M452.6 1316.2a3.3 3.2 121 1 0 -3.5 5.6a3.3 3.2 121 1 0 3.5 -5.6zM477.9 1311.9a3.7 3.6 59 1 0 3.7 6.4a3.7 3.6 59 1 0 -3.7 -6.4zM460.5 1330.2a2.8 2.3 128 1 0 -3.4 4.4a2.8 2.3 128 1 0 3.4 -4.4zM471.4 1333.5a3.4 3.3 136 1 0 -4.9 4.6a3.4 3.3 136 1 0 4.9 -4.6zM474.8 1340.6a3.3 3.2 13 1 0 6.4 1.5a3.3 3.2 13 1 0 -6.4 -1.5zM447.3 1359.6a3.5 3.2 127 1 0 -4.2 5.5a3.5 3.2 127 1 0 4.2 -5.5zM493.5 1371.0a3.2 2.8 149 1 0 -5.5 3.2a3.2 2.8 149 1 0 5.5 -3.2zM489.3 1403.9a3.0 2.9 175 1 0 -6.1 0.4a3.0 2.9 175 1 0 6.1 -0.4zM419.7 1411.6a3.2 3.0 36 1 0 5.1 3.8a3.2 3.0 36 1 0 -5.1 -3.8zM455.9 1414.9a3.0 2.3 67 1 0 2.3 5.5a3.0 2.3 67 1 0 -2.3 -5.5zM410.5 1441.5a2.8 2.7 137 1 0 -4.1 3.8a2.8 2.7 137 1 0 4.1 -3.8zM454.1 1441.9a2.8 2.1 61 1 0 2.6 4.9a2.8 2.1 61 1 0 -2.6 -4.9zM469.8 1439.5a3.7 2.8 12 1 0 7.2 1.6a3.7 2.8 12 1 0 -7.2 -1.6zM448.0 1453.0a3.5 3.2 28 1 0 6.2 3.4a3.5 3.2 28 1 0 -6.2 -3.4zM424.0 1465.9a3.4 3.2 44 1 0 4.8 4.7a3.4 3.2 44 1 0 -4.8 -4.7zM424.5 1486.3a3.6 2.8 15 1 0 6.9 2.0a3.6 2.8 15 1 0 -6.9 -2.0zM455.7 1492.0a2.9 2.5 159 1 0 -5.4 2.0a2.9 2.5 159 1 0 5.4 -2.0z"/>
<path fill="#c8c527" d="M468.6 1316.6a3.0 2.8 71 1 0 1.9 5.6a3.0 2.8 71 1 0 -1.9 -5.6zM412.2 1320.4a3.7 3.6 61 1 0 3.5 6.5a3.7 3.6 61 1 0 -3.5 -6.5zM425.0 1325.8a2.9 2.5 131 1 0 -3.8 4.4a2.9 2.5 131 1 0 3.8 -4.4zM439.9 1325.8a3.6 3.1 24 1 0 6.6 3.0a3.6 3.1 24 1 0 -6.6 -3.0zM433.9 1344.3a3.4 2.9 110 1 0 -2.4 6.4a3.4 2.9 110 1 0 2.4 -6.4zM486.1 1342.8a2.9 2.4 91 1 0 -0.2 5.8a2.9 2.4 91 1 0 0.2 -5.8zM432.1 1353.5a3.5 2.7 44 1 0 5.0 4.9a3.5 2.7 44 1 0 -5.0 -4.9zM457.6 1352.8a2.9 2.8 136 1 0 -4.2 3.9a2.9 2.8 136 1 0 4.2 -3.9zM420.4 1375.9a3.5 3.4 146 1 0 -5.8 3.9a3.5 3.4 146 1 0 5.8 -3.9zM428.4 1387.7a3.6 2.8 89 1 0 0.0 7.2a3.6 2.8 89 1 0 -0.0 -7.2zM457.4 1406.4a3.1 3.1 87 1 0 0.3 6.3a3.1 3.1 87 1 0 -0.3 -6.3zM437.1 1415.3a3.6 2.8 76 1 0 1.7 7.0a3.6 2.8 76 1 0 -1.7 -7.0zM492.8 1420.8a2.9 2.8 138 1 0 -4.4 3.9a2.9 2.8 138 1 0 4.4 -3.9zM420.9 1456.6a3.4 3.2 32 1 0 5.7 3.7a3.4 3.2 32 1 0 -5.7 -3.7zM469.6 1460.3a3.0 2.9 118 1 0 -2.8 5.2a3.0 2.9 118 1 0 2.8 -5.2z"/>
<path fill="#ca5924" d="M490.0 1314.9a3.6 2.8 129 1 0 -4.5 5.6a3.6 2.8 129 1 0 4.5 -5.6zM463.8 1357.2a2.9 2.2 57 1 0 3.2 4.9a2.9 2.2 57 1 0 -3.2 -4.9zM451.7 1387.6a2.9 2.7 138 1 0 -4.4 3.9a2.9 2.7 138 1 0 4.4 -3.9zM438.8 1407.8a2.7 2.3 78 1 0 1.1 5.3a2.7 2.3 78 1 0 -1.1 -5.3zM418.8 1450.1a3.3 3.3 11 1 0 6.6 1.3a3.3 3.3 11 1 0 -6.6 -1.3zM435.7 1483.1a2.8 2.6 57 1 0 3.0 4.8a2.8 2.6 57 1 0 -3.0 -4.8z"/>
<path fill="#a5c12f" d="M494.8 1316.3a2.8 2.1 12 1 0 5.5 1.2a2.8 2.1 12 1 0 -5.5 -1.2zM458.9 1321.2a3.7 2.7 69 1 0 2.6 6.9a3.7 2.7 69 1 0 -2.6 -6.9zM399.0 1343.3a3.1 2.9 136 1 0 -4.4 4.2a3.1 2.9 136 1 0 4.4 -4.2zM456.6 1363.6a2.9 2.4 169 1 0 -5.8 1.0a2.9 2.4 169 1 0 5.8 -1.0zM444.7 1452.5a3.5 2.6 159 1 0 -6.7 2.4a3.5 2.6 159 1 0 6.7 -2.4zM449.3 1461.9a2.8 2.6 56 1 0 3.0 4.6a2.8 2.6 56 1 0 -3.0 -4.6zM475.4 1468.4a3.5 3.2 132 1 0 -4.7 5.2a3.5 3.2 132 1 0 4.7 -5.2z"/>
<path fill="#2ea857" d="M509.8 1320.1a3.6 3.2 151 1 0 -6.3 3.5a3.6 3.2 151 1 0 6.3 -3.5zM499.9 1360.1a2.9 2.6 16 1 0 5.6 1.6a2.9 2.6 16 1 0 -5.6 -1.6z"/>
<path fill="#85ba35" d="M393.6 1324.5a3.6 3.0 49 1 0 4.8 5.5a3.6 3.0 49 1 0 -4.8 -5.5zM505.5 1327.4a3.1 2.6 86 1 0 0.4 6.1a3.1 2.6 86 1 0 -0.4 -6.1zM430.1 1335.9a2.9 2.6 58 1 0 3.0 5.0a2.9 2.6 58 1 0 -3.0 -5.0zM396.3 1350.8a2.9 2.8 100 1 0 -1.0 5.7a2.9 2.8 100 1 0 1.0 -5.7zM502.0 1377.1a3.2 2.9 119 1 0 -3.2 5.6a3.2 2.9 119 1 0 3.2 -5.6zM398.6 1386.9a3.5 3.0 65 1 0 2.9 6.5a3.5 3.0 65 1 0 -2.9 -6.5zM410.5 1432.5a3.7 2.7 167 1 0 -7.2 1.6a3.7 2.7 167 1 0 7.2 -1.6zM419.4 1467.8a2.9 2.6 133 1 0 -4.0 4.1a2.9 2.6 133 1 0 4.0 -4.1z"/>
<path fill="#2ca869" d="M409.8 1324.7a3.5 2.7 175 1 0 -7.0 0.6a3.5 2.7 175 1 0 7.0 -0.6zM408.1 1351.2a3.2 2.6 160 1 0 -6.0 2.2a3.2 2.6 160 1 0 6.0 -2.2z"/>
<path fill="#cd7824" d="M431.1 1328.2a3.1 3.0 29 1 0 5.4 3.1a3.1 3.0 29 1 0 -5.4 -3.1zM444.3 1335.6a2.8 2.7 141 1 0 -4.4 3.5a2.8 2.7 141 1 0 4.4 -3.5zM454.3 1336.0a2.8 2.4 155 1 0 -5.2 2.3a2.8 2.4 155 1 0 5.2 -2.3zM493.4 1340.9a2.8 2.4 54 1 0 3.3 4.6a2.8 2.4 54 1 0 -3.3 -4.6zM462.2 1349.5a2.8 2.5 15 1 0 5.5 1.5a2.8 2.5 15 1 0 -5.5 -1.5zM431.0 1365.9a2.9 2.3 6 1 0 5.7 0.7a2.9 2.3 6 1 0 -5.7 -0.7zM417.8 1367.3a2.7 2.6 154 1 0 -4.9 2.3a2.7 2.6 154 1 0 4.9 -2.3zM405.7 1377.5a3.3 3.3 35 1 0 5.4 3.8a3.3 3.3 35 1 0 -5.4 -3.8zM431.7 1383.3a2.7 2.4 3 1 0 5.4 0.4a2.7 2.4 3 1 0 -5.4 -0.4zM446.1 1379.6a2.7 2.1 129 1 0 -3.4 4.1a2.7 2.1 129 1 0 3.4 -4.1zM480.5 1386.6a3.4 2.5 118 1 0 -3.2 5.9a3.4 2.5 118 1 0 3.2 -5.9zM427.9 1396.9a3.5 2.6 80 1 0 1.2 7.0a3.5 2.6 80 1 0 -1.2 -7.0zM480.3 1398.1a3.7 2.7 155 1 0 -6.7 3.1a3.7 2.7 155 1 0 6.7 -3.1zM420.2 1401.5a2.8 2.4 61 1 0 2.7 4.9a2.8 2.4 61 1 0 -2.7 -4.9zM448.8 1404.8a3.0 2.6 114 1 0 -2.5 5.5a3.0 2.6 114 1 0 2.5 -5.5zM437.1 1427.4a3.4 2.9 177 1 0 -6.7 0.3a3.4 2.9 177 1 0 6.7 -0.3zM466.0 1426.1a3.6 2.7 170 1 0 -7.1 1.2a3.6 2.7 170 1 0 7.1 -1.2zM474.7 1421.0a3.0 2.4 162 1 0 -5.6 1.8a3.0 2.4 162 1 0 5.6 -1.8zM427.0 1438.2a2.8 2.7 35 1 0 4.6 3.3a2.8 2.7 35 1 0 -4.6 -3.3zM460.4 1479.5a3.1 2.9 108 1 0 -2.0 6.0a3.1 2.9 108 1 0 2.0 -6.0zM457.7 1489.3a2.6 1.9 170 1 0 -5.2 0.9a2.6 1.9 170 1 0 5.2 -0.9zM461.7 1495.6a2.6 2.3 66 1 0 2.1 4.8a2.6 2.3 66 1 0 -2.1 -4.8z"/>
<path fill="#c9b726" d="M476.6 1323.2a3.1 2.6 34 1 0 5.1 3.5a3.1 2.6 34 1 0 -5.1 -3.5zM488.9 1331.9a3.5 3.5 93 1 0 -0.5 7.0a3.5 3.5 93 1 0 0.5 -7.0zM417.5 1338.9a2.9 2.9 140 1 0 -4.5 3.7a2.9 2.9 140 1 0 4.5 -3.7zM447.6 1344.7a3.2 2.8 44 1 0 4.6 4.6a3.2 2.8 44 1 0 -4.6 -4.6zM427.9 1352.0a3.7 3.0 131 1 0 -4.9 5.5a3.7 3.0 131 1 0 4.9 -5.5zM472.0 1359.2a3.5 2.7 66 1 0 2.8 6.4a3.5 2.7 66 1 0 -2.8 -6.4zM488.2 1358.4a3.3 2.6 166 1 0 -6.3 1.5a3.3 2.6 166 1 0 6.3 -1.5zM447.2 1370.1a3.1 2.3 148 1 0 -5.4 3.2a3.1 2.3 148 1 0 5.4 -3.2zM461.2 1366.2a3.1 2.8 44 1 0 4.5 4.3a3.1 2.8 44 1 0 -4.5 -4.3zM480.9 1366.8a2.9 2.6 31 1 0 5.0 3.0a2.9 2.6 31 1 0 -5.0 -3.0zM426.2 1379.8a2.6 2.5 108 1 0 -1.7 5.0a2.6 2.5 108 1 0 1.7 -5.0zM441.9 1392.4a3.3 2.7 177 1 0 -6.6 0.3a3.3 2.7 177 1 0 6.6 -0.3zM407.6 1395.0a3.0 2.5 26 1 0 5.3 2.6a3.0 2.5 26 1 0 -5.3 -2.6zM442.8 1400.0a3.4 3.4 142 1 0 -5.5 4.1a3.4 3.4 142 1 0 5.5 -4.1zM492.1 1399.0a3.4 3.1 1 1 0 6.8 0.2a3.4 3.1 1 1 0 -6.8 -0.2zM442.7 1424.4a3.1 3.1 66 1 0 2.5 5.7a3.1 3.1 66 1 0 -2.5 -5.7zM422.0 1439.1a3.1 2.8 132 1 0 -4.3 4.6a3.1 2.8 132 1 0 4.3 -4.6zM438.7 1460.4a2.8 2.0 36 1 0 4.5 3.3a2.8 2.0 36 1 0 -4.5 -3.3zM422.0 1476.0a3.2 3.0 49 1 0 4.1 4.9a3.2 3.0 49 1 0 -4.1 -4.9zM452.9 1477.5a3.4 2.7 116 1 0 -3.1 6.2a3.4 2.7 116 1 0 3.1 -6.2zM439.9 1493.1a2.8 2.4 25 1 0 5.1 2.5a2.8 2.4 25 1 0 -5.1 -2.5z"/>
<path fill="#cba924" d="M483.8 1326.2a3.3 3.1 9 1 0 6.5 1.1a3.3 3.1 9 1 0 -6.5 -1.1zM462.6 1340.1a3.6 3.6 122 1 0 -3.8 6.1a3.6 3.6 122 1 0 3.8 -6.1zM412.3 1349.3a3.0 2.6 7 1 0 5.9 0.7a3.0 2.6 7 1 0 -5.9 -0.7zM447.8 1353.3a3.1 2.9 161 1 0 -5.8 2.0a3.1 2.9 161 1 0 5.8 -2.0zM474.9 1350.6a3.0 2.6 108 1 0 -1.9 5.7a3.0 2.6 108 1 0 1.9 -5.7zM481.0 1349.9a3.2 2.5 22 1 0 5.9 2.4a3.2 2.5 22 1 0 -5.9 -2.4zM399.7 1362.8a2.8 2.7 169 1 0 -5.5 1.0a2.8 2.7 169 1 0 5.5 -1.0zM428.2 1370.8a3.2 2.6 115 1 0 -2.8 5.8a3.2 2.6 115 1 0 2.8 -5.8zM447.2 1395.7a3.2 2.7 78 1 0 1.3 6.4a3.2 2.7 78 1 0 -1.3 -6.4zM480.0 1406.8a3.0 2.2 175 1 0 -6.0 0.5a3.0 2.2 175 1 0 6.0 -0.5zM411.3 1410.3a3.4 2.8 61 1 0 3.3 5.9a3.4 2.8 61 1 0 -3.3 -5.9zM450.7 1416.6a3.3 3.2 172 1 0 -6.5 0.8a3.3 3.2 172 1 0 6.5 -0.8zM412.8 1419.4a3.7 2.9 84 1 0 0.8 7.3a3.7 2.9 84 1 0 -0.8 -7.3zM424.7 1418.1a2.9 2.6 106 1 0 -1.7 5.6a2.9 2.6 106 1 0 1.7 -5.6zM438.5 1437.0a3.7 3.6 4 1 0 7.3 0.6a3.7 3.6 4 1 0 -7.3 -0.6zM457.5 1435.6a3.3 3.1 11 1 0 6.5 1.3a3.3 3.1 11 1 0 -6.5 -1.3zM449.4 1444.3a3.1 2.5 138 1 0 -4.7 4.2a3.1 2.5 138 1 0 4.7 -4.2zM464.9 1467.6a3.1 3.0 113 1 0 -2.5 5.7a3.1 3.0 113 1 0 2.5 -5.7zM429.0 1475.5a3.6 2.9 21 1 0 6.8 2.6a3.6 2.9 21 1 0 -6.8 -2.6zM469.2 1487.3a3.4 2.7 139 1 0 -5.2 4.5a3.4 2.7 139 1 0 5.2 -4.5z"/>
<path fill="#28a88c" d="M497.8 1322.1a3.2 2.7 106 1 0 -1.8 6.0a3.2 2.7 106 1 0 1.8 -6.0z"/>
<path fill="#98be31" d="M406.1 1330.1a3.4 2.9 103 1 0 -1.6 6.5a3.4 2.9 103 1 0 1.6 -6.5zM405.6 1340.1a3.5 3.0 84 1 0 0.6 7.0a3.5 3.0 84 1 0 -0.6 -7.0zM504.9 1350.0a3.2 3.1 94 1 0 -0.5 6.4a3.2 3.1 94 1 0 0.5 -6.4zM500.0 1367.9a3.6 3.5 51 1 0 4.4 5.6a3.6 3.5 51 1 0 -4.4 -5.6zM403.2 1405.6a3.1 2.4 137 1 0 -4.6 4.2a3.1 2.4 137 1 0 4.6 -4.2zM479.1 1443.8a3.7 2.7 13 1 0 7.2 1.7a3.7 2.7 13 1 0 -7.2 -1.7zM411.9 1448.3a3.0 2.2 81 1 0 0.9 5.9a3.0 2.2 81 1 0 -0.9 -5.9zM454.4 1470.2a3.3 2.5 96 1 0 -0.7 6.6a3.3 2.5 96 1 0 0.7 -6.6zM432.4 1493.5a3.6 2.6 69 1 0 2.5 6.7a3.6 2.6 69 1 0 -2.5 -6.7z"/>
<path fill="#bec62a" d="M412.9 1330.0a2.8 2.7 83 1 0 0.6 5.6a2.8 2.7 83 1 0 -0.6 -5.6zM455.3 1388.3a3.6 3.0 41 1 0 5.4 4.8a3.6 3.0 41 1 0 -5.4 -4.8zM467.1 1401.7a3.1 2.5 92 1 0 -0.3 6.3a3.1 2.5 92 1 0 0.3 -6.3zM481.8 1410.9a3.4 3.1 58 1 0 3.6 5.8a3.4 3.1 58 1 0 -3.6 -5.8zM478.8 1425.1a3.4 3.3 16 1 0 6.6 1.9a3.4 3.3 16 1 0 -6.6 -1.9zM416.2 1428.2a3.2 2.9 88 1 0 0.2 6.5a3.2 2.9 88 1 0 -0.2 -6.5zM470.6 1477.2a2.9 2.6 130 1 0 -3.7 4.4a2.9 2.6 130 1 0 3.7 -4.4z"/>
<path fill="#b1c32c" d="M479.8 1331.1a3.0 3.0 115 1 0 -2.6 5.4a3.0 3.0 115 1 0 2.6 -5.4zM497.3 1332.6a2.8 2.3 133 1 0 -3.8 4.0a2.8 2.3 133 1 0 3.8 -4.0zM407.3 1366.8a3.1 2.9 110 1 0 -2.1 5.8a3.1 2.9 110 1 0 2.1 -5.8zM394.6 1379.4a3.1 2.4 20 1 0 5.9 2.2a3.1 2.4 20 1 0 -5.9 -2.2zM407.9 1383.3a3.6 2.9 71 1 0 2.3 6.8a3.6 2.9 71 1 0 -2.3 -6.8zM423.8 1395.0a2.8 2.2 175 1 0 -5.7 0.5a2.8 2.2 175 1 0 5.7 -0.5zM401.8 1412.0a3.7 2.8 73 1 0 2.1 7.1a3.7 2.8 73 1 0 -2.1 -7.1zM445.8 1474.2a3.5 2.7 162 1 0 -6.6 2.2a3.5 2.7 162 1 0 6.6 -2.2zM444.6 1482.8a3.1 3.0 13 1 0 6.1 1.5a3.1 3.0 13 1 0 -6.1 -1.5z"/>
<path fill="#6fb539" d="M509.8 1337.8a3.7 3.2 142 1 0 -5.8 4.4a3.7 3.2 142 1 0 5.8 -4.4zM508.0 1346.7a3.3 3.3 135 1 0 -4.8 4.7a3.3 3.3 135 1 0 4.8 -4.7z"/>
<path fill="#c84b23" d="M453.3 1371.2a2.9 2.8 70 1 0 1.9 5.4a2.9 2.8 70 1 0 -1.9 -5.4zM480.8 1446.3a2.8 2.3 102 1 0 -1.2 5.4a2.8 2.3 102 1 0 1.2 -5.4zM433.2 1466.4a2.8 2.4 1 1 0 5.6 0.1a2.8 2.4 1 1 0 -5.6 -0.1z"/>
<path fill="#45ac41" d="M400.4 1395.7a3.4 2.9 103 1 0 -1.6 6.6a3.4 2.9 103 1 0 1.6 -6.6z"/>
<path fill="#c0241e" d="M476.8 1413.6a3.5 3.0 103 1 0 -1.7 6.9a3.5 3.0 103 1 0 1.7 -6.9zM474.1 1456.7a3.4 3.1 11 1 0 6.6 1.3a3.4 3.1 11 1 0 -6.6 -1.3z"/>
<path fill="#000" d="M417.3 1477.7a1.3 1.3 0 1 0 2.6 0a1.3 1.3 0 1 0 -2.6 0zM405.0 1343.9a1.3 1.3 0 1 0 2.5 0a1.3 1.3 0 1 0 -2.5 0zM415.7 1321.2a1.4 1.4 0 1 0 2.8 0a1.4 1.4 0 1 0 -2.8 0zM447.0 1394.3a1.5 1.5 0 1 0 3.1 0a1.5 1.5 0 1 0 -3.1 0zM448.4 1391.3a1.3 1.3 0 1 0 2.6 0a1.3 1.3 0 1 0 -2.6 0zM468.0 1355.6a1.6 1.6 0 1 0 3.1 0a1.6 1.6 0 1 0 -3.1 0zM461.5 1491.3a1.3 1.3 0 1 0 2.7 0a1.3 1.3 0 1 0 -2.7 0zM410.6 1333.3a0.8 0.8 0 1 0 1.6 0a0.8 0.8 0 1 0 -1.6 0zM410.5 1333.0a0.7 0.7 0 1 0 1.5 0a0.7 0.7 0 1 0 -1.5 0zM400.4 1327.6a0.8 0.8 0 1 0 1.6 0a0.8 0.8 0 1 0 -1.6 0zM401.1 1328.0a0.7 0.7 0 1 0 1.3 0a0.7 0.7 0 1 0 -1.3 0zM467.3 1356.7a0.9 0.9 0 1 0 1.7 0a0.9 0.9 0 1 0 -1.7 0zM479.2 1394.3a0.7 0.7 0 1 0 1.4 0a0.7 0.7 0 1 0 -1.4 0zM478.7 1393.8a0.6 0.6 0 1 0 1.3 0a0.6 0.6 0 1 0 -1.3 0zM447.9 1493.3a1.0 1.0 0 1 0 1.9 0a1.0 1.0 0 1 0 -1.9 0zM448.6 1489.3a1.3 1.3 0 1 0 2.7 0a1.3 1.3 0 1 0 -2.7 0zM434.0 1438.3a1.5 1.5 0 1 0 2.9 0a1.5 1.5 0 1 0 -2.9 0zM434.7 1436.3a0.9 0.9 0 1 0 1.8 0a0.9 0.9 0 1 0 -1.8 0zM454.8 1413.5a1.5 1.5 0 1 0 3.0 0a1.5 1.5 0 1 0 -3.0 0zM454.7 1409.0a1.2 1.2 0 1 0 2.5 0a1.2 1.2 0 1 0 -2.5 0zM421.1 1327.6a0.7 0.7 0 1 0 1.4 0a0.7 0.7 0 1 0 -1.4 0zM423.3 1435.4a1.1 1.1 0 1 0 2.2 0a1.1 1.1 0 1 0 -2.2 0zM423.6 1431.8a1.2 1.2 0 1 0 2.4 0a1.2 1.2 0 1 0 -2.4 0zM432.0 1474.0a0.7 0.7 0 1 0 1.5 0a0.7 0.7 0 1 0 -1.5 0zM432.7 1475.9a1.2 1.2 0 1 0 2.3 0a1.2 1.2 0 1 0 -2.3 0zM478.0 1313.4a1.6 1.6 0 1 0 3.2 0a1.6 1.6 0 1 0 -3.2 0zM474.9 1313.4a1.3 1.3 0 1 0 2.7 0a1.3 1.3 0 1 0 -2.7 0zM395.7 1379.9a2.0 2.0 0 1 0 3.9 0a2.0 2.0 0 1 0 -3.9 0zM392.1 1383.1a0.9 0.9 0 1 0 1.9 0a0.9 0.9 0 1 0 -1.9 0zM395.1 1382.6a2.3 2.3 0 1 0 4.5 0a2.3 2.3 0 1 0 -4.5 0zM454.3 1460.0a1.3 1.3 0 1 0 2.5 0a1.3 1.3 0 1 0 -2.5 0zM482.9 1416.3a1.5 1.5 0 1 0 3.1 0a1.5 1.5 0 1 0 -3.1 0zM486.1 1416.6a0.7 0.7 0 1 0 1.5 0a0.7 0.7 0 1 0 -1.5 0zM395.3 1323.3a1.3 1.3 0 1 0 2.6 0a1.3 1.3 0 1 0 -2.6 0zM402.4 1341.3a1.6 1.6 0 1 0 3.1 0a1.6 1.6 0 1 0 -3.1 0zM402.6 1342.0a1.5 1.5 0 1 0 3.0 0a1.5 1.5 0 1 0 -3.0 0zM479.1 1431.7a1.2 1.2 0 1 0 2.4 0a1.2 1.2 0 1 0 -2.4 0zM459.1 1343.8a0.7 0.7 0 1 0 1.3 0a0.7 0.7 0 1 0 -1.3 0zM457.3 1342.4a1.8 1.8 0 1 0 3.5 0a1.8 1.8 0 1 0 -3.5 0zM459.8 1343.0a1.5 1.5 0 1 0 3.0 0a1.5 1.5 0 1 0 -3.0 0zM426.1 1397.3a1.1 1.1 0 1 0 2.3 0a1.1 1.1 0 1 0 -2.3 0zM427.9 1338.1a1.0 1.0 0 1 0 2.0 0a1.0 1.0 0 1 0 -2.0 0zM431.2 1337.8a1.5 1.5 0 1 0 3.1 0a1.5 1.5 0 1 0 -3.1 0zM479.0 1319.4a1.5 1.5 0 1 0 3.1 0a1.5 1.5 0 1 0 -3.1 0zM484.2 1316.5a0.6 0.6 0 1 0 1.2 0a0.6 0.6 0 1 0 -1.2 0zM410.5 1406.3a0.7 0.7 0 1 0 1.4 0a0.7 0.7 0 1 0 -1.4 0zM404.3 1355.6a1.6 1.6 0 1 0 3.2 0a1.6 1.6 0 1 0 -3.2 0zM404.4 1353.7a0.8 0.8 0 1 0 1.6 0a0.8 0.8 0 1 0 -1.6 0zM452.5 1335.9a1.1 1.1 0 1 0 2.1 0a1.1 1.1 0 1 0 -2.1 0zM416.3 1342.2a0.8 0.8 0 1 0 1.7 0a0.8 0.8 0 1 0 -1.7 0zM415.7 1341.1a1.1 1.1 0 1 0 2.2 0a1.1 1.1 0 1 0 -2.2 0zM500.9 1337.0a1.2 1.2 0 1 0 2.4 0a1.2 1.2 0 1 0 -2.4 0zM499.7 1337.2a1.0 1.0 0 1 0 2.0 0a1.0 1.0 0 1 0 -2.0 0zM424.3 1398.5a1.5 1.5 0 1 0 2.9 0a1.5 1.5 0 1 0 -2.9 0zM469.4 1464.4a0.7 0.7 0 1 0 1.4 0a0.7 0.7 0 1 0 -1.4 0zM471.3 1462.2a1.5 1.5 0 1 0 3.0 0a1.5 1.5 0 1 0 -3.0 0zM462.1 1437.3a1.1 1.1 0 1 0 2.2 0a1.1 1.1 0 1 0 -2.2 0zM461.8 1435.6a1.2 1.2 0 1 0 2.5 0a1.2 1.2 0 1 0 -2.5 0zM460.9 1437.4a2.5 2.5 0 1 0 5.0 0a2.5 2.5 0 1 0 -5.0 0zM464.5 1437.9a1.2 1.2 0 1 0 2.4 0a1.2 1.2 0 1 0 -2.4 0zM433.3 1316.2a1.3 1.1 0 1 0 2.7 0a1.3 1.1 0 1 0 -2.7 0zM438.4 1316.2a1.5 1.2 0 1 0 3.1 0a1.5 1.2 0 1 0 -3.1 0zM454.9 1316.2a1.7 1.4 0 1 0 3.5 0a1.7 1.4 0 1 0 -3.5 0z"/>
</svg></body></html>
